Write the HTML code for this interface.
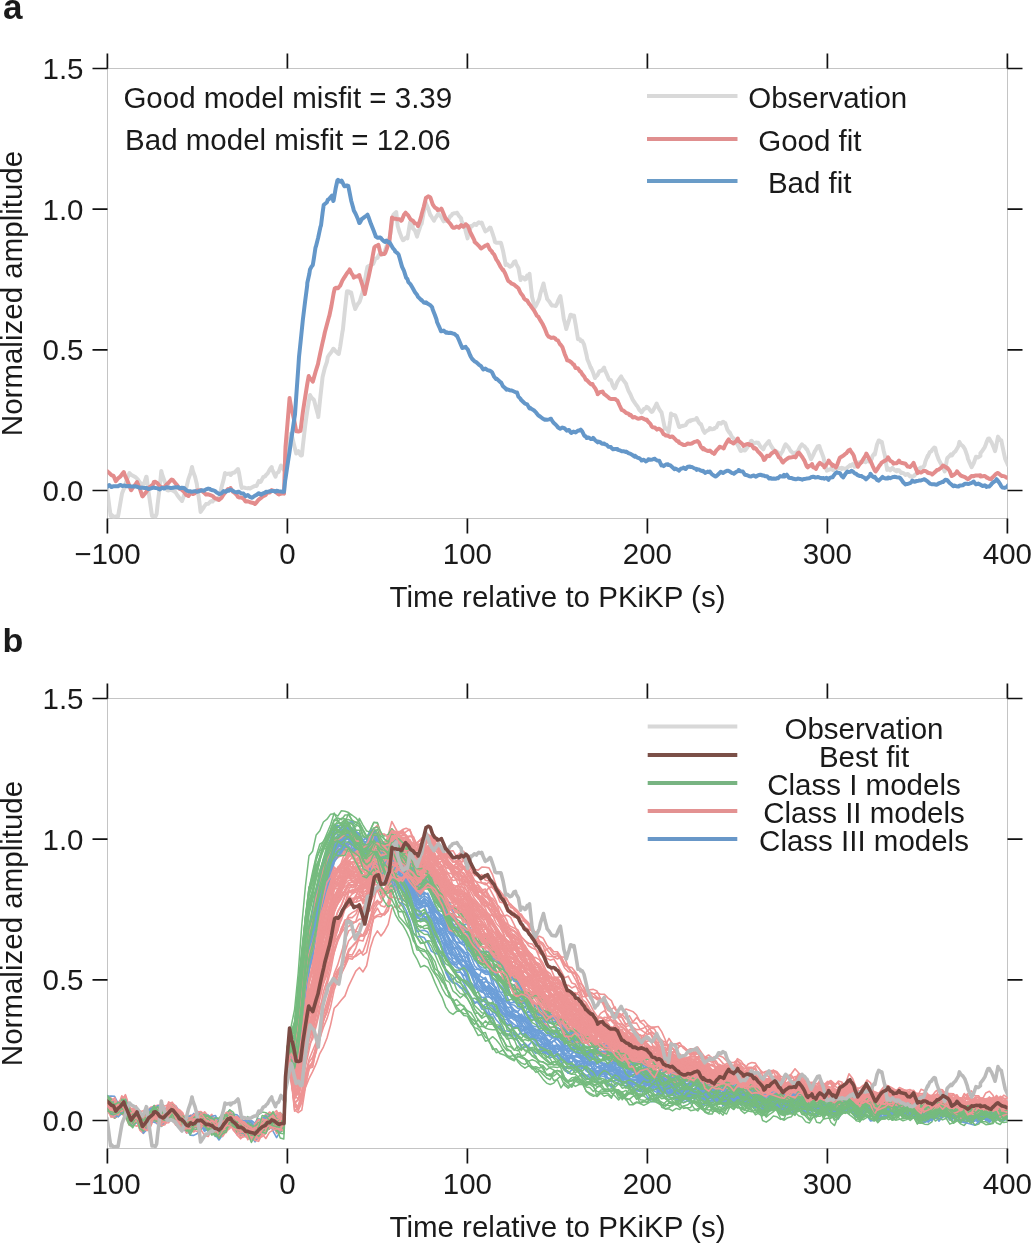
<!DOCTYPE html>
<html><head><meta charset="utf-8"><style>
html,body{margin:0;padding:0;background:#fff;overflow:hidden;}
svg{display:block;will-change:transform;}
.tl{font-family:"Liberation Sans",sans-serif;font-size:29.5px;fill:#1a1a1a;}
.pl{font-family:"Liberation Sans",sans-serif;font-size:35px;font-weight:bold;fill:#1a1a1a;}
</style></head><body>
<svg width="1031" height="1243" viewBox="0 0 1031 1243">
<rect width="1031" height="1243" fill="#fff"/>
<clipPath id="clipa"><rect x="107.5" y="68.5" width="900.0" height="450.0"/></clipPath>
<rect x="107.5" y="68.5" width="900.0" height="450.0" fill="none" stroke="#c4c4c4" stroke-width="1"/>
<g clip-path="url(#clipa)" fill="none" stroke-linejoin="round" stroke-linecap="round">
<path d="M107.0,488.0 L109.2,505.5 L110.7,516.0 L111.4,514.7 L113.6,516.9 L115.8,516.4 L118.0,516.0 L118.0,516.6 L120.2,504.0 L122.0,493.6 L122.4,492.5 L124.6,487.0 L126.8,479.7 L129.0,474.2 L129.5,473.0 L131.2,474.9 L133.4,476.0 L135.6,477.3 L137.0,478.6 L137.8,479.4 L140.0,482.6 L142.2,485.2 L142.6,486.0 L144.4,482.5 L146.3,476.7 L146.6,476.9 L148.8,493.8 L151.0,508.7 L152.0,516.0 L153.2,515.7 L155.4,516.6 L156.6,514.0 L157.6,504.5 L159.8,486.8 L161.3,471.0 L162.0,474.0 L164.2,480.2 L166.4,486.4 L167.0,490.0 L168.6,490.5 L170.8,489.6 L173.0,490.7 L174.4,491.7 L175.2,491.7 L177.4,495.3 L179.6,498.2 L181.8,500.8 L182.0,501.0 L184.0,495.5 L185.6,490.0 L186.2,488.2 L188.4,479.1 L190.6,472.8 L192.0,467.0 L192.8,470.7 L195.0,476.6 L196.8,484.0 L197.2,486.9 L199.4,501.9 L200.6,512.0 L201.6,510.5 L203.8,507.3 L204.0,506.7 L206.0,504.1 L208.2,503.8 L210.4,501.6 L211.8,501.0 L212.6,501.5 L214.8,498.5 L217.0,499.8 L219.0,499.0 L219.2,497.8 L221.4,487.8 L223.6,479.8 L225.0,473.0 L225.8,474.2 L228.0,473.7 L230.2,473.4 L230.5,475.0 L232.4,473.0 L234.6,472.5 L236.8,470.2 L238.0,469.0 L239.0,472.8 L241.2,485.9 L241.8,488.0 L243.4,487.4 L245.6,488.0 L247.8,488.4 L249.0,488.0 L250.0,488.5 L252.2,487.2 L254.4,486.1 L255.0,486.0 L256.6,485.9 L258.8,481.0 L260.5,482.0 L261.0,481.4 L263.2,477.1 L265.4,476.1 L266.0,475.0 L267.6,473.6 L269.8,469.5 L271.7,467.0 L272.0,469.0 L274.2,473.8 L275.5,476.7 L276.4,473.4 L278.6,472.1 L280.8,465.8 L281.0,465.5 L283.0,468.5 L284.8,471.0 L285.2,466.1 L285.5,461.0 L287.4,451.5 L289.6,439.8 L291.0,433.5 L291.8,435.3 L294.0,444.8 L296.2,453.5 L296.4,452.7 L298.4,451.2 L300.6,455.4 L301.9,455.4 L302.8,446.6 L305.0,427.2 L306.0,419.8 L307.2,411.5 L309.4,398.2 L310.0,395.0 L311.6,397.7 L313.8,399.8 L314.2,400.7 L316.0,407.7 L318.2,415.8 L318.3,417.0 L320.4,396.5 L322.4,378.8 L322.6,376.9 L324.8,368.0 L327.0,361.7 L327.8,357.0 L329.2,354.8 L331.4,352.1 L333.3,348.7 L333.6,348.8 L335.8,351.5 L338.0,353.5 L338.8,354.0 L340.2,346.5 L342.4,332.0 L342.9,329.6 L344.6,312.8 L346.8,292.8 L347.0,291.3 L349.0,291.5 L351.0,294.0 L351.2,292.6 L353.4,302.6 L355.2,309.0 L355.6,308.1 L357.8,304.1 L359.3,302.2 L360.0,300.6 L362.2,293.2 L363.4,288.6 L364.4,283.5 L366.6,270.9 L367.5,266.7 L368.8,266.0 L371.0,265.1 L373.0,264.0 L373.2,263.9 L375.4,258.6 L377.6,257.8 L378.4,255.7 L379.8,253.8 L382.0,254.6 L383.9,253.0 L384.2,252.7 L386.4,246.8 L388.6,240.1 L389.3,239.3 L390.8,231.2 L393.0,216.0 L393.4,214.7 L395.2,213.1 L396.2,212.0 L397.4,223.4 L397.7,226.0 L399.6,232.3 L401.8,237.9 L403.0,240.2 L404.0,239.8 L406.2,237.3 L407.4,238.4 L408.4,232.5 L410.0,222.5 L410.6,222.2 L412.7,226.0 L412.8,228.3 L415.0,230.5 L417.1,236.6 L417.2,235.6 L419.4,229.2 L421.5,222.5 L421.6,223.9 L423.8,211.6 L426.0,203.0 L426.0,203.5 L428.2,208.6 L430.4,215.4 L430.4,214.8 L432.6,218.5 L434.0,220.7 L434.8,219.0 L437.0,215.7 L438.4,213.6 L439.2,214.7 L441.4,217.3 L443.6,221.3 L443.7,220.7 L445.8,220.6 L448.0,220.7 L448.0,220.2 L450.2,216.2 L451.6,215.4 L452.4,213.9 L454.6,213.2 L456.8,213.2 L457.0,212.7 L459.0,215.9 L461.2,218.3 L461.4,220.7 L463.4,224.9 L465.0,227.8 L465.6,231.0 L467.6,238.4 L467.8,236.5 L470.0,229.7 L471.0,226.0 L472.2,226.0 L474.4,223.8 L476.4,225.0 L476.6,224.3 L478.8,222.3 L481.0,223.4 L481.7,222.5 L483.2,226.5 L485.3,231.3 L485.4,231.2 L487.6,230.0 L489.8,227.6 L490.6,227.8 L492.0,231.8 L494.2,238.5 L495.0,242.0 L496.4,242.8 L498.6,242.8 L500.8,242.7 L501.2,243.7 L503.0,250.7 L505.2,262.0 L505.6,265.0 L507.4,264.3 L509.6,266.6 L510.0,266.7 L511.8,265.8 L514.0,261.9 L515.4,261.4 L516.2,264.1 L518.4,267.9 L520.6,280.1 L520.7,277.3 L522.8,277.2 L525.0,279.5 L526.0,279.0 L527.2,275.4 L529.4,274.6 L529.5,273.8 L531.6,292.7 L532.0,296.8 L533.8,303.5 L535.0,307.2 L536.0,305.7 L538.2,301.1 L539.3,298.7 L540.4,293.3 L542.6,286.5 L543.5,283.5 L544.8,289.8 L547.0,297.9 L547.0,298.7 L549.2,301.4 L551.4,304.9 L552.0,305.5 L553.6,305.6 L555.8,306.0 L557.0,303.8 L558.0,301.0 L560.2,296.5 L560.4,296.2 L562.4,308.9 L563.8,319.0 L564.6,321.9 L566.3,329.0 L566.8,327.3 L569.0,320.2 L570.5,314.8 L571.2,314.7 L573.4,316.9 L574.0,315.6 L575.6,324.3 L577.8,337.7 L578.0,339.3 L580.0,339.2 L580.7,341.0 L582.2,340.8 L584.0,344.3 L584.4,346.0 L586.6,355.3 L587.4,359.5 L588.8,362.6 L590.8,368.0 L591.0,367.4 L593.2,372.8 L595.0,378.0 L595.4,376.9 L597.6,374.9 L599.3,371.4 L599.8,371.2 L602.0,370.5 L604.2,367.5 L604.3,368.8 L606.4,373.3 L608.6,378.6 L609.4,379.8 L610.8,379.9 L613.0,386.1 L614.5,388.3 L615.2,387.6 L617.4,381.8 L619.6,378.7 L621.2,376.4 L621.8,378.0 L624.0,381.1 L626.2,383.9 L626.3,384.9 L628.4,390.6 L630.6,394.8 L631.4,396.7 L632.8,399.9 L635.0,403.2 L636.4,405.2 L637.2,405.9 L639.4,410.0 L641.5,411.9 L641.6,412.4 L643.8,409.1 L646.0,408.1 L646.6,406.8 L648.2,407.7 L650.4,410.6 L651.6,411.9 L652.6,411.4 L654.8,407.3 L656.7,403.5 L657.0,404.5 L659.2,409.1 L661.0,411.9 L661.4,411.9 L663.6,422.3 L665.0,428.8 L665.8,428.2 L668.0,430.5 L668.5,432.2 L670.2,420.6 L671.0,413.6 L672.4,414.7 L674.6,415.1 L675.3,415.3 L676.8,419.5 L679.0,426.7 L679.5,427.1 L681.2,426.3 L683.4,425.7 L684.6,425.4 L685.6,425.1 L687.8,421.7 L690.0,420.4 L690.0,421.2 L692.2,420.0 L694.4,419.6 L696.5,419.6 L696.6,418.0 L698.8,422.5 L700.7,424.5 L701.0,424.2 L703.2,430.3 L704.8,432.8 L705.4,431.8 L707.6,430.4 L709.7,429.5 L709.8,427.9 L712.0,429.3 L714.2,428.9 L714.7,427.8 L716.4,427.3 L718.6,422.9 L719.6,422.9 L720.8,423.7 L723.0,421.7 L724.6,422.9 L725.2,422.9 L727.4,429.6 L729.5,432.8 L729.6,432.2 L731.8,436.7 L734.0,438.9 L734.5,439.4 L736.2,442.5 L738.4,446.2 L740.6,450.9 L741.0,451.0 L742.8,450.0 L745.0,450.6 L746.0,449.3 L747.2,447.6 L749.4,444.1 L751.0,441.0 L751.6,440.7 L753.8,443.5 L756.0,442.5 L757.5,442.7 L758.2,442.8 L760.4,446.6 L762.6,448.6 L763.3,449.3 L764.8,446.0 L767.0,443.4 L769.0,441.0 L769.2,442.4 L771.4,446.4 L773.6,449.6 L774.9,450.9 L775.8,451.0 L778.0,452.7 L780.2,454.9 L780.6,454.2 L782.4,451.5 L784.6,446.0 L785.6,444.3 L786.8,445.4 L789.0,448.1 L790.5,450.9 L791.2,451.3 L793.4,453.7 L795.5,452.6 L795.6,453.8 L797.8,451.4 L800.0,446.9 L802.0,444.3 L802.2,445.2 L804.4,446.3 L806.6,449.2 L807.0,449.3 L808.8,453.5 L811.0,459.2 L811.0,459.3 L813.2,455.1 L815.0,450.9 L815.4,450.4 L817.6,446.5 L819.4,446.0 L819.8,447.7 L822.0,453.5 L823.5,457.5 L824.2,460.9 L826.4,468.4 L826.8,470.7 L828.6,470.0 L830.8,469.0 L831.7,467.4 L833.0,470.0 L835.2,467.3 L836.7,467.4 L837.4,468.9 L839.6,468.2 L841.6,469.0 L841.8,467.8 L844.0,468.5 L846.2,468.8 L847.4,467.4 L848.4,466.7 L850.0,465.2 L850.6,466.0 L852.8,464.0 L854.6,466.8 L855.0,466.6 L857.2,463.7 L859.3,463.7 L859.4,462.3 L861.6,462.0 L863.8,461.3 L865.5,462.1 L866.0,461.0 L868.2,461.4 L870.4,460.2 L871.7,459.0 L872.6,455.9 L874.8,452.8 L874.8,454.5 L877.0,444.5 L878.7,440.4 L879.2,440.5 L881.4,442.5 L881.8,441.9 L883.6,450.5 L885.0,455.9 L885.8,461.9 L887.2,469.9 L888.0,468.0 L890.2,470.4 L891.9,468.3 L892.4,467.9 L894.6,470.1 L896.6,471.4 L896.8,470.0 L899.0,470.2 L901.2,473.0 L901.2,472.4 L903.4,473.1 L905.6,475.0 L906.0,474.5 L907.8,473.9 L910.0,476.4 L910.5,476.0 L912.2,476.7 L914.4,475.7 L915.2,474.5 L916.6,473.6 L918.8,468.7 L919.8,468.3 L921.0,467.4 L923.2,467.2 L924.5,465.2 L925.4,461.4 L927.6,455.9 L927.6,457.1 L929.8,452.1 L931.5,451.2 L932.0,450.0 L934.2,447.5 L935.3,448.1 L936.4,453.2 L938.5,459.0 L938.6,459.4 L940.8,463.5 L941.6,465.2 L943.0,467.3 L944.7,471.4 L945.2,469.7 L947.0,459.0 L947.4,458.0 L949.6,455.9 L950.9,454.3 L951.8,455.5 L954.0,452.4 L955.5,451.2 L956.2,449.9 L958.4,446.2 L959.4,441.9 L960.6,444.2 L962.8,446.0 L963.3,446.6 L965.0,449.3 L967.2,455.6 L968.0,459.0 L969.4,462.2 L971.6,467.1 L971.8,466.8 L973.8,463.0 L975.7,457.5 L976.0,456.7 L978.2,457.5 L980.4,455.9 L980.4,453.2 L982.6,450.4 L984.8,447.1 L985.0,446.6 L987.0,441.0 L988.0,438.8 L989.2,438.5 L991.2,441.9 L991.4,441.9 L993.6,447.2 L995.0,451.2 L995.8,448.1 L998.0,436.6 L998.2,437.3 L1000.2,440.0 L1001.3,440.4 L1002.4,446.0 L1004.6,456.4 L1005.2,459.0 L1006.8,462.5 L1008.0,465.2" stroke="#d9d9d9" stroke-width="4"/>
<path d="M107.0,471.0 L109.2,472.9 L111.4,475.2 L113.6,476.0 L115.8,481.2 L116.4,480.5 L118.0,478.4 L120.2,476.7 L122.4,473.8 L123.8,472.0 L124.6,474.7 L126.8,479.3 L129.0,484.8 L131.0,490.0 L131.2,490.1 L133.4,486.7 L135.6,484.2 L137.0,482.0 L137.8,484.1 L140.0,489.1 L142.2,496.0 L142.6,496.4 L144.4,494.3 L146.6,491.5 L148.8,487.7 L151.0,486.1 L153.2,484.2 L153.8,482.0 L155.4,481.8 L157.6,483.4 L159.8,486.5 L162.0,487.4 L163.0,488.0 L164.2,487.3 L166.4,484.8 L168.6,482.7 L170.8,480.3 L171.6,479.6 L173.0,480.2 L175.2,482.9 L177.4,485.6 L179.6,488.9 L181.8,489.4 L181.9,490.0 L184.0,491.7 L186.2,494.9 L187.5,495.5 L188.4,496.0 L190.6,492.9 L192.8,494.1 L195.0,493.1 L197.2,490.4 L199.4,490.6 L200.6,490.0 L201.6,490.6 L203.8,492.4 L206.0,494.6 L208.2,494.3 L210.4,495.1 L212.6,496.0 L214.8,498.2 L217.0,498.8 L219.0,500.0 L219.2,499.7 L221.4,498.0 L223.6,494.5 L225.8,491.8 L228.0,488.9 L230.2,489.2 L230.5,488.0 L232.4,491.3 L234.6,492.9 L236.8,495.0 L238.0,497.0 L239.0,497.4 L241.2,497.4 L243.4,498.6 L245.6,501.4 L247.8,501.3 L250.0,502.3 L252.2,502.7 L254.4,503.3 L254.9,504.0 L256.6,502.3 L258.8,499.6 L261.0,497.9 L262.0,497.0 L263.2,496.3 L265.4,495.3 L267.6,492.4 L269.8,492.4 L271.7,490.0 L272.0,490.3 L274.2,491.0 L276.4,492.7 L278.6,494.3 L279.0,494.5 L280.8,493.7 L283.0,493.3 L284.0,493.6 L285.2,455.2 L285.5,447.0 L287.4,424.6 L289.6,398.0 L289.6,398.5 L291.8,410.8 L292.3,411.6 L294.0,419.2 L296.2,431.2 L296.4,430.8 L298.4,431.5 L300.5,430.8 L300.6,430.3 L302.8,412.5 L304.6,400.7 L305.0,398.2 L307.2,384.4 L308.7,376.0 L309.4,377.5 L311.6,380.0 L312.8,381.6 L313.8,378.1 L316.0,370.3 L318.2,363.3 L318.3,362.4 L320.4,352.4 L322.6,342.4 L323.7,337.8 L324.8,332.5 L327.0,324.3 L329.2,316.0 L329.2,316.5 L331.4,306.0 L333.6,293.5 L334.7,288.6 L335.8,287.7 L338.0,288.3 L340.0,285.8 L340.2,285.8 L342.4,280.5 L344.2,277.6 L344.6,277.1 L346.8,273.5 L349.0,270.7 L349.7,269.4 L351.2,272.9 L353.4,276.2 L353.8,277.6 L355.6,276.5 L357.8,276.5 L359.3,275.0 L360.0,277.7 L362.2,284.4 L364.4,292.3 L364.8,294.0 L366.6,285.6 L368.8,276.0 L370.2,269.4 L371.0,265.6 L373.2,253.3 L374.3,247.5 L375.4,246.2 L377.6,245.2 L378.4,244.8 L379.8,250.5 L381.0,254.4 L382.0,253.9 L384.2,254.0 L385.2,253.0 L386.4,249.9 L388.6,243.2 L389.3,242.0 L390.8,228.6 L392.0,217.4 L393.0,218.5 L395.2,218.8 L396.2,218.8 L397.4,219.3 L399.6,219.2 L401.2,220.7 L401.8,220.2 L404.0,214.8 L405.6,212.7 L406.2,213.4 L408.4,215.7 L410.6,219.4 L412.7,220.7 L412.8,220.6 L415.0,223.4 L417.2,223.8 L418.0,226.0 L419.4,222.4 L421.5,215.4 L421.6,214.5 L423.8,206.7 L426.0,197.7 L426.0,197.8 L428.2,196.3 L429.5,196.8 L430.4,197.5 L432.6,204.2 L433.0,204.8 L434.8,207.5 L437.0,208.8 L437.5,210.0 L439.2,209.8 L441.0,209.2 L441.4,208.6 L443.6,213.8 L445.8,219.0 L446.3,219.0 L448.0,221.2 L450.2,223.7 L452.4,227.1 L453.4,227.8 L454.6,227.8 L456.8,226.6 L458.7,227.0 L459.0,227.8 L461.2,225.1 L463.4,226.8 L465.6,224.8 L465.8,224.2 L467.8,226.0 L469.3,229.6 L470.0,231.6 L472.2,236.0 L474.4,240.3 L474.6,242.0 L476.6,243.6 L478.8,245.8 L480.0,247.3 L481.0,248.5 L483.2,247.1 L485.4,245.6 L487.0,245.5 L487.6,244.7 L489.8,249.3 L492.0,251.7 L492.3,252.6 L494.2,254.6 L496.4,259.6 L497.7,261.4 L498.6,263.0 L500.8,267.2 L503.0,270.3 L503.0,269.4 L505.2,273.5 L507.4,278.9 L508.3,281.0 L509.6,281.7 L511.8,283.7 L513.6,284.4 L514.0,284.5 L516.2,286.4 L518.4,288.2 L519.0,289.7 L520.6,293.0 L522.8,295.7 L524.2,298.6 L525.0,299.4 L527.2,300.6 L529.4,304.2 L529.5,304.0 L531.6,307.1 L533.8,310.1 L536.0,314.0 L536.8,315.6 L538.2,316.6 L540.4,320.4 L542.6,324.0 L543.5,325.8 L544.8,328.6 L547.0,334.3 L548.6,336.7 L549.2,336.7 L551.4,337.9 L553.6,337.5 L555.3,338.4 L555.8,339.4 L558.0,340.6 L560.2,344.6 L560.4,344.3 L562.4,347.2 L564.6,353.7 L566.8,359.1 L567.2,360.4 L569.0,360.8 L571.2,362.2 L573.4,364.6 L574.0,364.6 L575.6,368.1 L577.8,368.2 L580.0,371.5 L580.7,371.4 L582.2,374.1 L584.4,376.7 L585.8,379.8 L586.6,379.8 L588.8,382.2 L591.0,384.2 L592.5,384.0 L593.2,385.6 L595.4,388.7 L597.6,393.3 L597.6,394.2 L599.8,392.2 L602.0,391.8 L602.6,391.6 L604.2,394.2 L606.4,395.7 L608.6,397.5 L609.4,398.4 L610.8,399.0 L613.0,399.0 L615.2,398.9 L616.2,400.0 L617.4,400.6 L619.6,405.5 L621.8,410.1 L622.9,410.2 L624.0,411.1 L626.2,413.0 L628.4,413.6 L629.7,415.3 L630.6,414.9 L632.8,417.4 L635.0,417.1 L637.2,418.4 L638.0,418.7 L639.4,418.5 L641.6,417.8 L643.8,418.9 L646.0,420.0 L646.6,419.5 L648.2,421.8 L650.4,423.9 L651.6,426.3 L652.6,427.2 L654.8,427.5 L657.0,429.6 L658.4,428.8 L659.2,428.8 L661.4,430.3 L663.6,434.3 L665.0,434.7 L665.8,435.6 L668.0,435.7 L670.2,437.1 L672.0,436.4 L672.4,436.4 L674.6,438.6 L676.8,440.8 L678.7,441.5 L679.0,442.7 L681.2,443.8 L683.4,444.9 L684.6,444.9 L685.6,444.9 L687.8,443.5 L690.0,443.9 L691.6,443.5 L692.2,443.3 L694.4,441.9 L696.6,441.5 L697.4,441.0 L698.8,442.2 L701.0,447.0 L703.0,449.3 L703.2,447.9 L705.4,450.0 L707.6,450.9 L708.0,451.0 L709.8,450.6 L712.0,452.6 L713.9,453.4 L714.2,453.9 L716.4,450.4 L718.6,448.3 L719.6,446.8 L720.8,447.1 L723.0,447.8 L723.7,448.4 L725.2,445.0 L727.4,441.2 L728.7,439.4 L729.6,441.4 L731.8,442.3 L733.6,443.5 L734.0,442.8 L736.2,441.2 L737.8,438.5 L738.4,440.5 L740.6,442.4 L742.8,444.4 L743.5,446.0 L745.0,444.9 L747.2,444.0 L749.3,444.3 L749.4,444.9 L751.6,445.0 L753.8,448.5 L754.3,447.6 L756.0,448.7 L758.2,451.8 L759.2,452.6 L760.4,453.9 L762.6,456.5 L764.0,460.0 L764.8,459.5 L767.0,455.7 L769.0,455.9 L769.2,456.2 L771.4,453.5 L773.6,452.1 L774.9,450.9 L775.8,451.8 L778.0,455.6 L779.0,457.5 L780.2,458.0 L782.4,461.9 L783.0,462.5 L784.6,460.7 L786.8,459.0 L788.0,458.3 L789.0,457.4 L791.2,457.4 L793.4,457.0 L793.8,456.7 L795.6,457.4 L797.8,453.0 L798.8,452.6 L800.0,454.1 L802.2,456.9 L803.0,458.3 L804.4,460.6 L806.6,466.1 L807.8,467.4 L808.8,465.9 L811.0,465.5 L812.0,464.0 L813.2,467.4 L815.4,468.0 L816.0,469.0 L817.6,465.5 L819.8,462.9 L820.2,463.3 L822.0,464.4 L824.2,466.4 L824.3,467.4 L826.4,464.4 L828.5,461.6 L828.6,460.5 L830.8,463.6 L832.6,465.8 L833.0,464.9 L835.2,466.2 L835.9,467.4 L837.4,464.3 L839.6,458.3 L840.0,457.5 L841.8,456.7 L844.0,455.1 L845.0,454.2 L846.2,453.4 L848.4,450.6 L850.0,449.7 L850.6,451.0 L852.8,453.9 L853.9,455.9 L855.0,460.0 L857.2,465.2 L857.8,466.8 L859.4,464.4 L861.6,462.1 L861.6,461.8 L863.8,458.3 L866.0,454.7 L866.3,453.6 L868.2,457.0 L870.4,461.1 L871.0,462.1 L872.6,465.8 L874.8,470.5 L875.6,471.4 L877.0,469.6 L879.2,466.0 L881.0,463.7 L881.4,462.9 L883.6,461.3 L885.8,460.4 L888.0,458.2 L888.0,457.3 L890.2,460.8 L892.4,462.0 L893.5,463.7 L894.6,463.3 L896.8,463.2 L899.0,460.6 L899.7,462.1 L901.2,462.8 L903.4,463.2 L905.6,463.7 L905.9,464.4 L907.8,466.6 L909.7,466.8 L910.0,467.0 L912.2,464.9 L913.6,462.9 L914.4,465.3 L916.6,470.4 L917.5,473.0 L918.8,471.8 L921.0,472.6 L923.0,471.4 L923.2,471.0 L925.4,471.0 L927.6,472.2 L927.6,472.7 L929.8,473.2 L932.0,473.9 L932.2,474.5 L934.2,472.8 L936.4,470.7 L937.0,469.9 L938.6,469.7 L940.8,468.0 L943.0,466.0 L943.0,465.6 L945.2,466.8 L947.4,468.2 L947.8,468.3 L949.6,470.8 L951.6,476.0 L951.8,476.1 L954.0,474.8 L956.2,473.0 L957.0,471.4 L958.4,473.0 L960.6,475.4 L961.7,476.0 L962.8,476.4 L965.0,477.2 L967.2,478.8 L968.0,479.2 L969.4,478.1 L971.6,475.9 L973.8,476.2 L974.0,476.0 L976.0,475.4 L978.2,475.5 L980.4,475.3 L980.4,476.6 L982.6,476.3 L984.8,475.9 L986.6,477.6 L987.0,477.3 L989.2,478.8 L991.2,479.2 L991.4,478.5 L993.6,476.4 L995.8,474.2 L997.4,473.0 L998.0,472.9 L1000.2,474.8 L1002.0,476.0 L1002.4,475.9 L1004.6,476.4 L1006.8,477.7 L1008.0,477.6" stroke="#e38c8c" stroke-width="4"/>
<path d="M107.0,487.0 L109.2,485.1 L111.4,487.1 L113.6,486.2 L115.8,486.2 L118.0,486.3 L120.2,484.9 L122.4,486.0 L124.6,485.5 L125.7,486.0 L126.8,486.3 L129.0,486.1 L131.2,486.4 L133.4,486.4 L135.6,486.3 L137.8,487.0 L140.0,487.9 L142.2,487.6 L144.4,488.0 L144.4,487.9 L146.6,488.0 L148.8,489.1 L151.0,488.4 L153.2,487.6 L155.4,487.9 L157.6,488.4 L159.8,489.4 L162.0,487.8 L163.0,488.0 L164.2,488.6 L166.4,487.2 L168.6,487.4 L170.8,488.1 L173.0,487.7 L175.2,487.3 L177.4,487.5 L178.0,487.0 L179.6,488.3 L181.8,487.7 L184.0,488.0 L186.2,490.2 L188.4,491.3 L190.6,491.2 L191.0,491.7 L192.8,491.5 L195.0,491.1 L197.2,491.8 L199.4,491.0 L201.6,490.3 L203.8,490.7 L206.0,489.4 L208.2,488.6 L210.0,489.0 L210.4,489.6 L212.6,490.2 L214.8,490.9 L217.0,492.7 L219.0,493.6 L219.2,494.0 L221.4,493.3 L223.6,491.1 L225.8,491.7 L228.0,490.3 L228.7,490.8 L230.2,489.5 L232.4,490.5 L234.6,491.9 L236.8,492.4 L238.0,491.7 L239.0,491.8 L241.2,493.3 L243.4,493.6 L245.6,496.1 L247.8,495.1 L250.0,497.1 L251.0,497.3 L252.2,497.8 L254.4,496.0 L256.6,494.9 L258.8,493.2 L261.0,494.7 L263.2,493.3 L265.4,492.5 L266.0,491.7 L267.6,491.9 L269.8,491.3 L272.0,491.1 L274.2,491.1 L275.5,491.7 L276.4,490.7 L278.6,491.3 L280.8,491.5 L283.0,491.9 L284.0,491.7 L285.2,480.3 L285.5,478.6 L287.4,465.6 L289.6,451.4 L290.9,441.7 L291.8,435.9 L294.0,420.8 L295.0,414.4 L296.2,397.0 L298.4,366.2 L299.0,357.0 L300.6,341.7 L302.8,320.4 L303.0,318.6 L305.0,302.2 L307.2,285.6 L307.3,283.0 L309.4,273.5 L310.0,269.4 L311.6,266.6 L312.8,265.0 L313.8,258.9 L315.5,247.5 L316.0,246.3 L318.2,237.5 L320.4,227.1 L321.0,225.6 L322.6,212.8 L323.7,205.0 L324.8,204.0 L327.0,202.2 L327.8,199.7 L329.2,198.9 L331.4,196.3 L332.0,195.6 L333.3,201.0 L333.6,200.5 L335.8,187.7 L337.4,180.5 L338.0,179.9 L340.2,181.6 L341.5,180.5 L342.4,182.1 L344.2,186.0 L344.6,186.3 L346.8,185.5 L348.3,186.0 L349.0,189.5 L351.2,200.7 L353.4,208.6 L353.8,210.6 L355.6,213.8 L357.8,218.7 L359.3,223.0 L360.0,222.5 L362.0,218.8 L362.2,218.9 L364.4,217.1 L366.6,215.5 L367.5,214.7 L368.8,217.8 L371.0,224.1 L371.6,225.6 L373.2,229.6 L375.4,235.2 L375.7,236.6 L377.6,237.7 L379.8,237.4 L381.0,238.0 L382.0,239.5 L384.2,241.5 L385.2,242.0 L386.4,240.5 L388.6,242.6 L389.3,242.0 L390.8,244.4 L393.0,248.2 L394.8,250.3 L395.2,251.5 L397.4,253.2 L398.5,254.3 L399.6,258.0 L401.8,265.9 L402.0,266.7 L404.0,270.9 L406.2,277.8 L407.4,279.0 L408.4,282.2 L410.6,284.4 L412.7,288.0 L412.8,288.3 L415.0,292.3 L417.2,295.1 L418.0,296.8 L419.4,298.2 L421.5,300.4 L421.6,300.0 L423.8,302.5 L426.0,303.0 L426.0,302.3 L428.2,304.1 L430.4,305.3 L432.2,307.4 L432.6,309.2 L434.8,314.8 L436.6,319.8 L437.0,322.0 L439.2,326.8 L441.0,331.3 L441.4,331.2 L443.6,330.6 L445.8,332.6 L446.3,332.2 L448.0,332.9 L450.2,332.8 L451.6,333.0 L452.4,333.4 L454.6,334.0 L456.8,335.9 L457.0,335.8 L459.0,340.3 L461.2,345.5 L462.3,348.0 L463.4,347.6 L465.6,346.8 L465.8,347.3 L467.8,349.5 L470.0,355.0 L471.0,357.0 L472.2,359.0 L474.4,361.2 L476.4,362.3 L476.6,362.6 L478.8,364.6 L481.0,366.2 L483.2,369.5 L483.5,369.4 L485.4,368.6 L487.6,370.1 L489.8,370.7 L490.6,371.0 L492.0,372.2 L494.2,376.8 L496.0,379.0 L496.4,378.5 L498.6,380.4 L500.8,382.4 L501.2,382.7 L503.0,386.3 L505.2,388.1 L506.5,389.7 L507.4,389.3 L509.6,390.2 L511.8,390.6 L511.8,390.5 L514.0,391.5 L516.2,392.5 L517.0,392.4 L518.4,396.7 L520.6,398.9 L520.7,399.5 L522.8,401.5 L525.0,403.7 L527.2,404.4 L529.4,408.4 L530.0,407.7 L531.6,409.1 L533.8,410.3 L536.0,412.4 L536.8,413.6 L538.2,415.3 L540.4,416.7 L542.6,418.5 L544.8,419.7 L545.2,419.5 L547.0,419.8 L549.2,419.4 L551.0,418.7 L551.4,419.7 L553.6,422.8 L555.8,424.7 L557.9,427.1 L558.0,427.6 L560.2,428.8 L562.4,427.6 L563.8,428.0 L564.6,428.4 L566.8,430.7 L569.0,430.0 L570.5,432.2 L571.2,433.0 L573.4,431.6 L575.6,432.2 L575.6,432.6 L577.8,430.7 L580.0,430.2 L580.7,429.7 L582.2,431.3 L584.4,435.8 L585.8,436.4 L586.6,438.0 L588.8,437.5 L591.0,439.1 L592.5,439.0 L593.2,437.9 L595.4,440.5 L597.6,442.3 L597.6,441.5 L599.8,441.9 L602.0,443.7 L604.2,443.5 L604.3,444.0 L606.4,444.6 L608.6,446.8 L610.8,447.0 L611.0,447.4 L613.0,449.2 L615.2,449.0 L617.4,449.0 L617.8,449.9 L619.6,450.2 L621.8,451.3 L624.0,451.3 L626.2,452.0 L626.3,451.6 L628.4,453.1 L630.6,453.9 L632.8,455.3 L634.7,456.7 L635.0,455.7 L637.2,457.6 L639.4,458.2 L641.5,460.0 L641.6,460.5 L643.8,459.7 L646.0,461.5 L648.2,459.9 L648.3,459.2 L650.4,459.7 L652.6,459.4 L654.8,458.7 L655.0,459.2 L657.0,460.4 L659.2,460.7 L661.4,465.3 L661.8,465.1 L663.6,466.1 L665.8,464.6 L668.0,464.3 L668.5,465.1 L670.2,465.2 L672.4,467.2 L674.6,469.2 L675.3,468.5 L676.8,469.2 L678.7,470.2 L679.0,470.6 L681.2,468.4 L683.4,468.3 L683.7,467.7 L685.6,469.0 L687.8,466.7 L690.0,466.6 L690.0,467.1 L692.2,467.1 L694.4,468.4 L696.5,469.0 L696.6,469.9 L698.8,469.4 L701.0,470.7 L703.0,471.5 L703.2,470.9 L705.4,472.9 L707.6,471.6 L709.7,472.3 L709.8,471.5 L712.0,474.4 L714.2,475.7 L715.5,476.5 L716.4,476.2 L718.6,474.0 L720.4,472.3 L720.8,471.8 L723.0,473.0 L725.2,471.6 L727.4,470.7 L727.9,470.7 L729.6,471.3 L731.8,473.0 L733.6,473.2 L734.0,473.7 L736.2,471.9 L738.4,471.0 L738.6,469.9 L740.6,471.3 L742.8,471.5 L744.4,474.0 L745.0,474.8 L747.2,475.2 L749.4,476.3 L751.0,476.5 L751.6,476.2 L753.8,475.5 L756.0,476.8 L757.5,475.6 L758.2,475.3 L760.4,474.7 L762.6,475.5 L764.0,475.6 L764.8,476.2 L767.0,476.2 L769.2,478.5 L770.7,478.0 L771.4,478.7 L773.6,478.6 L775.8,478.8 L777.3,478.0 L778.0,478.2 L780.2,476.1 L782.4,476.6 L784.0,474.8 L784.6,476.5 L786.8,474.7 L789.0,477.8 L790.5,478.0 L791.2,477.9 L793.4,478.8 L795.6,479.3 L797.0,479.0 L797.8,478.6 L800.0,478.9 L802.2,479.7 L803.7,479.0 L804.4,479.0 L806.6,478.6 L808.8,478.3 L810.0,478.0 L811.0,477.2 L813.2,476.7 L815.4,477.5 L817.0,477.3 L817.6,477.0 L819.8,477.7 L822.0,478.2 L823.5,478.0 L824.2,478.8 L826.4,477.8 L828.5,479.8 L828.6,478.6 L830.8,477.5 L832.6,477.3 L833.0,476.5 L835.2,473.6 L836.7,472.3 L837.4,472.8 L839.6,473.1 L840.0,473.2 L841.8,476.2 L843.3,477.3 L844.0,476.0 L846.2,472.8 L847.4,471.5 L848.4,472.0 L850.6,471.8 L851.5,470.7 L852.8,471.4 L855.0,473.6 L856.2,473.8 L857.2,474.9 L859.4,475.9 L861.6,476.0 L862.4,476.9 L863.8,477.3 L866.0,479.3 L867.0,478.4 L868.2,477.2 L870.2,475.3 L870.4,473.8 L872.6,476.6 L874.8,477.6 L874.8,476.8 L877.0,479.9 L878.7,480.7 L879.2,480.1 L881.4,478.2 L882.6,476.9 L883.6,477.8 L885.8,478.5 L888.0,478.4 L888.0,477.4 L890.2,478.2 L892.4,477.2 L893.5,476.9 L894.6,476.8 L896.8,477.2 L899.0,477.4 L899.7,477.6 L901.2,479.4 L903.4,482.5 L905.6,484.5 L906.0,483.9 L907.8,483.9 L910.0,483.2 L912.0,481.5 L912.2,480.6 L914.4,481.8 L916.6,481.0 L918.3,480.7 L918.8,480.6 L921.0,480.4 L923.2,479.7 L924.5,479.2 L925.4,480.0 L927.6,481.4 L929.8,483.4 L930.7,483.9 L932.0,484.2 L934.2,484.3 L936.4,484.7 L937.0,484.6 L938.6,483.5 L940.8,482.7 L943.0,481.5 L943.0,482.0 L945.2,479.8 L947.0,480.0 L947.4,480.4 L949.6,483.0 L951.8,484.8 L953.2,486.2 L954.0,485.5 L956.2,486.2 L958.4,486.6 L960.0,485.4 L960.6,485.4 L962.8,485.2 L965.0,483.8 L967.2,483.8 L968.0,483.9 L969.4,483.7 L971.6,482.9 L973.8,481.5 L974.0,482.3 L976.0,484.2 L978.2,483.6 L980.4,484.6 L980.4,484.8 L982.6,486.0 L984.8,485.3 L986.6,487.0 L987.0,486.5 L989.2,486.5 L991.2,484.6 L991.4,484.1 L993.6,482.1 L995.8,480.6 L996.6,479.2 L998.0,481.0 L1000.2,484.2 L1001.3,486.2 L1002.4,487.5 L1004.6,487.9 L1005.2,487.7 L1006.8,487.2 L1008.0,485.4" stroke="#6497c9" stroke-width="4"/>
</g>
<path d="M107.4,68.5 V53.5 M107.4,518.5 V533.5 M287.4,68.5 V53.5 M287.4,518.5 V533.5 M467.4,68.5 V53.5 M467.4,518.5 V533.5 M647.4,68.5 V53.5 M647.4,518.5 V533.5 M827.4,68.5 V53.5 M827.4,518.5 V533.5 M1007.4,68.5 V53.5 M1007.4,518.5 V533.5 M107.5,490.5 H92.5 M1007.5,490.5 H1022.5 M107.5,349.8 H92.5 M1007.5,349.8 H1022.5 M107.5,209.2 H92.5 M1007.5,209.2 H1022.5 M107.5,68.5 H92.5 M1007.5,68.5 H1022.5" stroke="#111" stroke-width="1.7" fill="none"/>
<text x="107.4" y="564.3" text-anchor="middle" class="tl">−100</text>
<text x="287.4" y="564.3" text-anchor="middle" class="tl">0</text>
<text x="467.4" y="564.3" text-anchor="middle" class="tl">100</text>
<text x="647.4" y="564.3" text-anchor="middle" class="tl">200</text>
<text x="827.4" y="564.3" text-anchor="middle" class="tl">300</text>
<text x="1007.4" y="564.3" text-anchor="middle" class="tl">400</text>
<text x="83.5" y="501.1" text-anchor="end" class="tl">0.0</text>
<text x="83.5" y="360.4" text-anchor="end" class="tl">0.5</text>
<text x="83.5" y="219.8" text-anchor="end" class="tl">1.0</text>
<text x="83.5" y="79.1" text-anchor="end" class="tl">1.5</text>
<text x="557.5" y="606.5" text-anchor="middle" class="tl">Time relative to PKiKP (s)</text>
<text transform="translate(21.5,293.5) rotate(-90)" text-anchor="middle" class="tl">Normalized amplitude</text>
<clipPath id="clipb"><rect x="107.5" y="698.5" width="900.0" height="450.0"/></clipPath>
<rect x="107.5" y="698.5" width="900.0" height="450.0" fill="none" stroke="#c4c4c4" stroke-width="1"/>
<g clip-path="url(#clipb)" fill="none" stroke-linejoin="round" stroke-linecap="round">
<path d="M0,34l1,9 1,-6 1,21 1,1 1,2 1,-40 1,-19 1,4 1,-37 1,-11 1,26 1,26 1,-2 1,1 1,0 1,11 1,6 1,5 1,-20 1,-10 1,-1 1,-8 1,0 1,-6 1,9 1,8 1,-7 1,-17 1,-4 1,-15 1,-1 1,3 1,26 1,15 1,-3 1,-12 1,-8 1,-15 1,-12 1,-8 1,1 1,31 1,17 1,2 1,0 1,8 1,10 1,-24 1,-5 1,234 1,-56 1,-125 1,-10 1,9 1,80 1,32 1,25 1,28 1,36 1,23 1,32 1,47 1,59 1,13 1,16 1,15 1,35 1,26 1,27 1,13 1,-16 1,22 1,62 1,40 1,22 1,-18 1,17 1,24 1,56 1,9 1,-5 1,26 1,11 1,0 1,1 1,8 1,28 1,18 1,26 1,-5 1,6 1,-14 1,-19 1,-10 1,-6 1,0 1,-9 1,13 1,12 1,-15 1,-33 1,-19 1,-12 1,-11 1,-15 1,-15 1,-11 1,-29 1,-30 1,-15 1,-2 1,-2 1,-1 1,-28 1,-14 1,-17 1,0 1,-23 1,-14 1,-12 1,-5 1,-11 1,-27 1,-9 1,-23 1,7 1,-19 1,-13 1,-28 1,-2 1,-15 1,-9 1,-13 1,-7 1,-2 1,-17 1,5 1,-1 1,-15 1,-10 1,-15 1,-10 1,-16 1,7 1,12 1,18 1,-10 1,-29 1,-25 1,8 1,11 1,2 1,-16 1,-9 1,-21 1,-14 1,-7 1,-1 1,0 1,-5 1,-4 1,7 1,-3 1,9 1,-11 1,-9 1,-6 1,-16 1,-10 1,-3 1,3 1,12 1,9 1,9 1,6 1,-8 1,-28 1,9 1,-7 1,-10 1,-12 1,-9 1,5 1,4 1,3 1,-1 1,-15 1,2 1,4 1,-2 1,-11 1,6 1,0 1,1 1,-9 1,-1 1,-24 1,-1 1,-4 1,14 1,3 1,-6 1,2 1,1 1,-12 1,13 1,-1 1,-20 1,12 1,15 1,28 1,-28 1,-9 1,-15 1,-4 1,-8 1,5 1,6 1,9 1,3 1,-4 1,-13 1,2 1,14 1,-8 1,8 1,11 1,-4 1,-7 1,-10 1,1 1,4 1,-16 1,-16 1,-6 1,15 1,3 1,1 1,2 1,10 1,-2 1,-9 1,-6 1,-16 1,-4 1,-2 1,9 1,-4 1,-7 1,9" stroke="#ee9494" stroke-width="1.6" transform="translate(107.40,1120.5) scale(3.600,-0.28133)" vector-effect="non-scaling-stroke"/>
<path d="M0,58l1,-1 1,-4 1,-22 1,-4 1,-2 1,-17 1,-6 1,0 1,1 1,-24 1,26 1,9 1,35 1,-8 1,-10 1,-9 1,7 1,5 1,-7 1,-27 1,-20 1,-15 1,29 1,15 1,-2 1,-11 1,-19 1,0 1,4 1,11 1,-4 1,13 1,5 1,12 1,-17 1,-20 1,-14 1,-7 1,15 1,0 1,-2 1,10 1,-3 1,-5 1,-4 1,19 1,8 1,0 1,1 1,224 1,-72 1,-118 1,13 1,37 1,62 1,41 1,3 1,67 1,52 1,65 1,36 1,42 1,40 1,6 1,25 1,26 1,29 1,-4 1,16 1,19 1,-20 1,10 1,56 1,79 1,22 1,-23 1,-1 1,18 1,45 1,-1 1,-7 1,12 1,14 1,-8 1,-2 1,0 1,28 1,11 1,23 1,-32 1,0 1,-16 1,16 1,-14 1,-1 1,-21 1,-23 1,-40 1,-6 1,-1 1,-13 1,-13 1,-5 1,2 1,-11 1,-29 1,-13 1,-9 1,-11 1,-24 1,-37 1,-6 1,-14 1,0 1,-27 1,-10 1,-10 1,-8 1,-11 1,-20 1,-21 1,-9 1,-23 1,4 1,-9 1,2 1,-12 1,-28 1,1 1,1 1,2 1,-25 1,-27 1,5 1,8 1,-11 1,-19 1,-7 1,-4 1,5 1,-2 1,-5 1,-5 1,-14 1,-22 1,-21 1,8 1,9 1,0 1,-15 1,-26 1,-3 1,-10 1,22 1,-13 1,-2 1,-20 1,6 1,-7 1,1 1,-15 1,29 1,7 1,7 1,-33 1,-13 1,-16 1,-2 1,9 1,4 1,-16 1,-17 1,15 1,-2 1,17 1,0 1,2 1,-3 1,-5 1,-19 1,-8 1,-11 1,10 1,25 1,-14 1,-13 1,-26 1,10 1,21 1,4 1,9 1,2 1,-20 1,-21 1,-14 1,27 1,-3 1,20 1,-26 1,5 1,-8 1,-11 1,0 1,7 1,11 1,18 1,-14 1,-12 1,-6 1,9 1,-6 1,-26 1,-5 1,-10 1,25 1,-16 1,12 1,-21 1,16 1,2 1,-10 1,-6 1,18 1,16 1,-5 1,-20 1,6 1,4 1,7 1,-7 1,2 1,12 1,15 1,-20 1,-15 1,-7 1,-8 1,-21 1,5 1,7 1,8 1,1 1,-13 1,14 1,-3 1,26 1,-10 1,-9 1,-11 1,11" stroke="#ee9494" stroke-width="1.6" transform="translate(107.40,1120.5) scale(3.600,-0.28133)" vector-effect="non-scaling-stroke"/>
<path d="M0,71l1,-7 1,-40 1,20 1,6 1,8 1,-32 1,2 1,2 1,-25 1,-30 1,32 1,11 1,20 1,-10 1,-10 1,7 1,-4 1,6 1,-29 1,-1 1,-11 1,-5 1,-2 1,5 1,-8 1,8 1,0 1,2 1,-11 1,-14 1,12 1,18 1,21 1,-4 1,-14 1,-24 1,7 1,-14 1,4 1,-17 1,7 1,-3 1,1 1,18 1,16 1,19 1,-9 1,6 1,1 1,230 1,8 1,-6 1,81 1,126 1,113 1,105 1,25 1,67 1,44 1,47 1,18 1,46 1,21 1,16 1,-4 1,24 1,-8 1,-7 1,-6 1,8 1,-31 1,-10 1,26 1,18 1,7 1,-26 1,-10 1,-21 1,33 1,4 1,21 1,-5 1,-9 1,-43 1,-22 1,-19 1,2 1,11 1,15 1,-9 1,-31 1,-24 1,-28 1,-30 1,-19 1,-13 1,12 1,-11 1,-10 1,-22 1,-15 1,-21 1,-27 1,-28 1,-11 1,-13 1,-20 1,-8 1,1 1,-11 1,-16 1,-14 1,8 1,-18 1,-23 1,-23 1,-7 1,-7 1,-7 1,-17 1,-12 1,-32 1,-8 1,-10 1,-4 1,-10 1,-14 1,-4 1,3 1,-14 1,-2 1,-33 1,4 1,-8 1,5 1,-17 1,-13 1,11 1,-31 1,-6 1,-25 1,18 1,7 1,18 1,-2 1,-12 1,-19 1,3 1,2 1,-4 1,-30 1,-14 1,12 1,15 1,12 1,-17 1,-16 1,-8 1,3 1,5 1,-23 1,-4 1,-5 1,8 1,-12 1,-21 1,10 1,-1 1,1 1,1 1,-5 1,24 1,-9 1,-14 1,-7 1,-3 1,6 1,11 1,-1 1,-1 1,-8 1,-6 1,-1 1,5 1,-3 1,-17 1,-22 1,-15 1,19 1,11 1,11 1,7 1,1 1,-8 1,-10 1,-8 1,-3 1,14 1,2 1,-1 1,-13 1,-5 1,8 1,-1 1,8 1,2 1,-13 1,-30 1,16 1,24 1,13 1,-46 1,-22 1,3 1,22 1,19 1,-2 1,0 1,3 1,-7 1,-9 1,-15 1,4 1,-3 1,-8 1,1 1,13 1,-6 1,-7 1,16 1,1 1,13 1,-19 1,-11 1,-7 1,5 1,-9 1,-7 1,14 1,15 1,10 1,-6 1,0 1,2 1,-3 1,-3 1,-2 1,-19 1,-7 1,-8" stroke="#ee9494" stroke-width="1.6" transform="translate(107.40,1120.5) scale(3.600,-0.28133)" vector-effect="non-scaling-stroke"/>
<path d="M0,48l1,1 1,-12 1,12 1,-4 1,1 1,-42 1,-16 1,11 1,-21 1,-10 1,20 1,29 1,26 1,3 1,-20 1,-15 1,13 1,16 1,-9 1,-16 1,-16 1,-1 1,-10 1,20 1,-4 1,13 1,-9 1,8 1,-19 1,-18 1,-30 1,4 1,12 1,24 1,15 1,-13 1,7 1,-14 1,6 1,-22 1,-16 1,17 1,11 1,27 1,-7 1,10 1,-18 1,-4 1,-3 1,252 1,-54 1,-86 1,18 1,62 1,97 1,56 1,42 1,69 1,70 1,59 1,37 1,51 1,37 1,15 1,26 1,28 1,46 1,7 1,9 1,-15 1,-40 1,22 1,48 1,66 1,10 1,-4 1,-5 1,-1 1,27 1,-15 1,1 1,-3 1,5 1,-3 1,-17 1,-21 1,-12 1,15 1,9 1,-12 1,-21 1,-3 1,-8 1,-28 1,-21 1,-13 1,-4 1,-23 1,-17 1,-15 1,-14 1,-39 1,0 1,-17 1,6 1,-34 1,-14 1,-41 1,-24 1,-40 1,7 1,-14 1,-2 1,-10 1,-6 1,-3 1,-10 1,-6 1,-10 1,-17 1,-31 1,-7 1,-5 1,27 1,-34 1,-27 1,-36 1,17 1,6 1,13 1,-17 1,-20 1,-35 1,-13 1,8 1,-10 1,-10 1,-12 1,11 1,29 1,5 1,-12 1,-45 1,-21 1,-16 1,12 1,-8 1,7 1,8 1,5 1,-18 1,-13 1,-1 1,2 1,-14 1,7 1,-9 1,-1 1,-11 1,-10 1,7 1,12 1,11 1,-6 1,-32 1,0 1,2 1,-14 1,-5 1,-9 1,-1 1,-3 1,2 1,11 1,-4 1,-13 1,-23 1,10 1,12 1,-7 1,-11 1,-25 1,6 1,3 1,35 1,13 1,-9 1,-20 1,-7 1,4 1,-1 1,7 1,-6 1,-11 1,-11 1,13 1,-5 1,11 1,-16 1,12 1,-9 1,-12 1,-4 1,11 1,7 1,8 1,-6 1,2 1,3 1,-8 1,-2 1,-16 1,-6 1,1 1,6 1,21 1,-13 1,3 1,-10 1,13 1,-4 1,-9 1,-6 1,3 1,-8 1,-16 1,-1 1,-3 1,21 1,-5 1,16 1,-4 1,27 1,-25 1,3 1,-20 1,-6 1,-2 1,7 1,20 1,-20 1,-14 1,-4 1,3 1,18 1,10 1,11 1,-12 1,-16 1,-1" stroke="#ee9494" stroke-width="1.6" transform="translate(107.40,1120.5) scale(3.600,-0.28133)" vector-effect="non-scaling-stroke"/>
<path d="M0,65l1,-21 1,-9 1,18 1,35 1,-20 1,-51 1,-31 1,17 1,-5 1,-7 1,5 1,12 1,9 1,4 1,-9 1,1 1,15 1,9 1,-8 1,-22 1,-9 1,-14 1,-11 1,5 1,4 1,28 1,-11 1,-5 1,-12 1,-5 1,-9 1,-4 1,26 1,3 1,3 1,-23 1,8 1,3 1,-4 1,2 1,-6 1,28 1,-7 1,8 1,-18 1,7 1,-7 1,10 1,1 1,238 1,-43 1,-56 1,49 1,72 1,95 1,63 1,36 1,62 1,51 1,54 1,47 1,57 1,46 1,36 1,27 1,34 1,-1 1,-15 1,-10 1,15 1,-13 1,7 1,33 1,38 1,-1 1,-32 1,-11 1,17 1,33 1,1 1,-2 1,8 1,-5 1,-25 1,-12 1,4 1,23 1,21 1,-1 1,0 1,-5 1,10 1,-12 1,-21 1,-10 1,-3 1,21 1,6 1,-24 1,-14 1,-12 1,18 1,-2 1,11 1,-1 1,-2 1,-25 1,-38 1,-20 1,-20 1,-12 1,-15 1,-11 1,-12 1,-20 1,-21 1,-7 1,-18 1,-10 1,-34 1,-14 1,-36 1,-2 1,-1 1,4 1,-11 1,-24 1,-5 1,-17 1,-4 1,-36 1,-8 1,-20 1,-4 1,-6 1,-13 1,-7 1,-9 1,-20 1,-14 1,-7 1,-15 1,11 1,-16 1,11 1,-22 1,16 1,-14 1,4 1,-15 1,-9 1,0 1,2 1,-19 1,-29 1,-40 1,-5 1,8 1,16 1,-2 1,-12 1,-9 1,-4 1,3 1,-22 1,-1 1,-23 1,6 1,-13 1,12 1,-13 1,1 1,1 1,-9 1,33 1,-11 1,-4 1,-25 1,-9 1,-21 1,-5 1,1 1,7 1,6 1,-8 1,6 1,-8 1,9 1,7 1,-8 1,6 1,-3 1,0 1,-15 1,-5 1,-12 1,-8 1,0 1,-5 1,-10 1,11 1,-1 1,-3 1,6 1,19 1,36 1,-17 1,-32 1,-16 1,20 1,5 1,-25 1,-13 1,5 1,5 1,-5 1,0 1,4 1,6 1,5 1,2 1,-8 1,-19 1,6 1,-5 1,27 1,-5 1,-13 1,-7 1,17 1,8 1,-2 1,-20 1,-6 1,-17 1,10 1,-13 1,-1 1,-18 1,-2 1,8 1,17 1,2 1,-2 1,3 1,11 1,-4 1,-8 1,-13 1,5" stroke="#ee9494" stroke-width="1.6" transform="translate(107.40,1120.5) scale(3.600,-0.28133)" vector-effect="non-scaling-stroke"/>
<path d="M0,60l1,-22 1,-13 1,2 1,37 1,-5 1,-20 1,-36 1,16 1,-27 1,-6 1,16 1,17 1,-4 1,-13 1,3 1,31 1,24 1,-22 1,-18 1,-30 1,8 1,-17 1,6 1,12 1,8 1,15 1,-19 1,-18 1,-18 1,-5 1,8 1,29 1,18 1,6 1,-32 1,-20 1,-10 1,5 1,-2 1,2 1,9 1,7 1,14 1,13 1,21 1,-7 1,-23 1,-28 1,5 1,230 1,-34 1,-55 1,57 1,99 1,97 1,77 1,41 1,80 1,48 1,34 1,25 1,36 1,55 1,21 1,29 1,15 1,8 1,-2 1,4 1,5 1,-22 1,1 1,37 1,29 1,1 1,-10 1,-7 1,0 1,21 1,13 1,-2 1,2 1,-12 1,-8 1,-35 1,-3 1,22 1,45 1,4 1,-13 1,-24 1,-10 1,-15 1,-9 1,-11 1,-3 1,-6 1,-16 1,-4 1,-7 1,-14 1,-50 1,-18 1,2 1,18 1,-8 1,-30 1,-38 1,-23 1,-2 1,-13 1,-14 1,-4 1,-17 1,-20 1,-11 1,-2 1,-11 1,-37 1,-27 1,-28 1,-23 1,0 1,14 1,-6 1,-12 1,-24 1,-16 1,-12 1,-1 1,-3 1,-14 1,-14 1,-9 1,-7 1,-20 1,3 1,-8 1,4 1,-10 1,-1 1,-18 1,5 1,-7 1,-4 1,-18 1,-7 1,-10 1,-7 1,-2 1,-12 1,0 1,10 1,-15 1,-14 1,4 1,5 1,-5 1,-24 1,7 1,9 1,7 1,0 1,1 1,-13 1,-17 1,-23 1,-19 1,-11 1,15 1,1 1,20 1,1 1,15 1,0 1,-16 1,-23 1,0 1,3 1,-14 1,8 1,-7 1,7 1,-5 1,-2 1,-16 1,-19 1,-4 1,23 1,16 1,-5 1,6 1,1 1,-5 1,-12 1,-10 1,2 1,-3 1,-14 1,1 1,-2 1,-10 1,8 1,19 1,-13 1,-4 1,-16 1,9 1,-5 1,-1 1,8 1,-5 1,-2 1,-3 1,5 1,16 1,4 1,-15 1,-7 1,-10 1,7 1,-8 1,-5 1,-2 1,-9 1,12 1,21 1,-23 1,5 1,-9 1,26 1,-3 1,-8 1,-23 1,5 1,-1 1,-9 1,-3 1,21 1,14 1,-18 1,2 1,-11 1,15 1,-4 1,1 1,-10 1,-19 1,4 1,8" stroke="#ee9494" stroke-width="1.6" transform="translate(107.40,1120.5) scale(3.600,-0.28133)" vector-effect="non-scaling-stroke"/>
<path d="M0,62l1,-3 1,-11 1,-26 1,5 1,2 1,-9 1,-10 1,30 1,-15 1,-19 1,1 1,16 1,14 1,-6 1,-15 1,6 1,23 1,-10 1,-21 1,-30 1,17 1,-1 1,8 1,-2 1,-19 1,1 1,-17 1,-3 1,-5 1,-11 1,2 1,19 1,29 1,19 1,-11 1,-28 1,-2 1,-5 1,-4 1,-22 1,-2 1,13 1,21 1,9 1,12 1,18 1,-16 1,-25 1,-5 1,245 1,11 1,-29 1,66 1,109 1,129 1,79 1,41 1,34 1,50 1,47 1,45 1,48 1,32 1,-15 1,-2 1,9 1,8 1,-14 1,1 1,19 1,-27 1,-15 1,12 1,27 1,10 1,-34 1,-5 1,0 1,41 1,5 1,-5 1,14 1,-5 1,-25 1,-28 1,-4 1,10 1,34 1,4 1,-10 1,-26 1,-11 1,-11 1,-26 1,-14 1,-12 1,4 1,-17 1,-7 1,-23 1,-28 1,-31 1,-21 1,-1 1,-1 1,10 1,-13 1,-28 1,-28 1,-19 1,-31 1,-18 1,-14 1,7 1,1 1,-16 1,1 1,-33 1,-11 1,-22 1,5 1,-21 1,-20 1,1 1,-16 1,2 1,-36 1,-1 1,-4 1,-19 1,-1 1,-16 1,14 1,-13 1,4 1,-19 1,-5 1,-11 1,-6 1,-1 1,-15 1,-21 1,-18 1,-5 1,-3 1,-5 1,-3 1,-4 1,18 1,-7 1,-4 1,-26 1,15 1,-7 1,12 1,-22 1,-4 1,-25 1,16 1,15 1,7 1,-6 1,-17 1,14 1,-20 1,-5 1,-25 1,-5 1,-5 1,19 1,1 1,3 1,-2 1,-7 1,3 1,-16 1,-3 1,4 1,-5 1,-1 1,-3 1,-4 1,3 1,0 1,8 1,-29 1,1 1,-15 1,3 1,-4 1,13 1,32 1,-6 1,-17 1,-22 1,-5 1,1 1,6 1,-9 1,-3 1,7 1,-5 1,12 1,-15 1,7 1,8 1,0 1,-30 1,1 1,22 1,7 1,-24 1,-16 1,21 1,19 1,10 1,6 1,-18 1,-6 1,-14 1,6 1,15 1,4 1,-4 1,-48 1,9 1,12 1,24 1,-25 1,0 1,-18 1,0 1,-10 1,0 1,8 1,7 1,-2 1,13 1,-7 1,-6 1,-20 1,6 1,-6 1,13 1,-11 1,11 1,-8 1,6 1,-5 1,7" stroke="#ee9494" stroke-width="1.6" transform="translate(107.40,1120.5) scale(3.600,-0.28133)" vector-effect="non-scaling-stroke"/>
<path d="M0,45l1,-17 1,-17 1,15 1,40 1,26 1,-39 1,-18 1,-2 1,2 1,-22 1,6 1,8 1,12 1,-15 1,-12 1,-3 1,34 1,15 1,-22 1,-22 1,-20 1,-5 1,-3 1,2 1,12 1,9 1,-3 1,-7 1,-19 1,-3 1,-6 1,18 1,10 1,2 1,-5 1,-23 1,14 1,-11 1,7 1,-21 1,8 1,1 1,13 1,-2 1,13 1,4 1,15 1,9 1,-8 1,228 1,-52 1,-64 1,18 1,49 1,77 1,74 1,33 1,67 1,59 1,60 1,34 1,50 1,53 1,41 1,22 1,35 1,21 1,18 1,-1 1,29 1,-17 1,17 1,32 1,55 1,6 1,-29 1,-17 1,25 1,50 1,4 1,-10 1,8 1,-1 1,10 1,-26 1,-7 1,-5 1,24 1,18 1,-21 1,-18 1,-3 1,-4 1,-17 1,-21 1,-19 1,-20 1,-22 1,-11 1,14 1,-17 1,-21 1,-23 1,-9 1,-15 1,-17 1,-32 1,-2 1,-13 1,-6 1,-27 1,-27 1,-7 1,-19 1,3 1,-30 1,-9 1,-47 1,-5 1,-18 1,-3 1,-28 1,-5 1,-12 1,-15 1,-18 1,-10 1,-8 1,-11 1,10 1,-13 1,-8 1,-29 1,9 1,-6 1,-40 1,-2 1,-8 1,12 1,-22 1,-5 1,-1 1,-6 1,-2 1,-17 1,-4 1,-2 1,-3 1,-15 1,4 1,-2 1,-6 1,-15 1,-10 1,11 1,2 1,-11 1,-12 1,3 1,-2 1,2 1,-7 1,3 1,-12 1,-29 1,-9 1,-1 1,1 1,-17 1,-7 1,-4 1,31 1,5 1,-10 1,-15 1,11 1,3 1,-2 1,-20 1,-20 1,3 1,-9 1,20 1,-4 1,1 1,-20 1,-4 1,2 1,7 1,9 1,-13 1,4 1,-15 1,18 1,-2 1,-9 1,-22 1,-2 1,5 1,-5 1,8 1,-11 1,6 1,-1 1,17 1,1 1,-6 1,-24 1,13 1,6 1,6 1,-11 1,-10 1,4 1,-11 1,15 1,-1 1,-4 1,-22 1,8 1,1 1,23 1,-7 1,14 1,-26 1,0 1,-3 1,-13 1,-5 1,7 1,13 1,-5 1,-12 1,-12 1,3 1,6 1,9 1,-7 1,7 1,-14 1,8 1,0 1,8 1,-13 1,-1 1,-4 1,20 1,-11 1,-1 1,-7" stroke="#ee9494" stroke-width="1.6" transform="translate(107.40,1120.5) scale(3.600,-0.28133)" vector-effect="non-scaling-stroke"/>
<path d="M0,59l1,-17 1,-5 1,11 1,22 1,-8 1,-37 1,-16 1,-9 1,-10 1,-18 1,31 1,1 1,19 1,-3 1,3 1,-15 1,-1 1,6 1,-5 1,-2 1,-3 1,-11 1,-4 1,-9 1,20 1,12 1,20 1,-14 1,-21 1,-24 1,-8 1,21 1,18 1,12 1,-5 1,-40 1,3 1,-9 1,10 1,-17 1,6 1,9 1,25 1,-7 1,13 1,-5 1,13 1,-2 1,1 1,229 1,-72 1,-115 1,1 1,44 1,61 1,38 1,-3 1,58 1,50 1,57 1,28 1,47 1,57 1,31 1,27 1,17 1,25 1,-2 1,25 1,40 1,5 1,29 1,29 1,43 1,19 1,-2 1,25 1,20 1,40 1,-23 1,-2 1,3 1,15 1,-24 1,-7 1,1 1,21 1,41 1,0 1,-12 1,-44 1,-12 1,-13 1,-9 1,-19 1,-6 1,-18 1,11 1,-17 1,2 1,-25 1,-27 1,-20 1,-27 1,-14 1,-18 1,6 1,-13 1,-21 1,-15 1,-13 1,-8 1,-31 1,-10 1,-9 1,-6 1,-4 1,-15 1,-5 1,-13 1,-16 1,-16 1,-2 1,0 1,-24 1,-23 1,-20 1,17 1,-1 1,-13 1,-30 1,-4 1,-11 1,-8 1,-20 1,-5 1,-2 1,-2 1,-17 1,-5 1,-9 1,1 1,-10 1,-3 1,-6 1,-5 1,-1 1,8 1,10 1,-16 1,-15 1,-6 1,4 1,-4 1,-14 1,3 1,-19 1,-1 1,-12 1,2 1,-7 1,12 1,14 1,4 1,-12 1,-19 1,-18 1,-27 1,2 1,14 1,11 1,7 1,12 1,-15 1,-2 1,-2 1,7 1,5 1,-35 1,-18 1,-7 1,7 1,8 1,6 1,15 1,-16 1,-10 1,-19 1,21 1,5 1,15 1,-1 1,21 1,-13 1,-12 1,-29 1,-15 1,20 1,0 1,11 1,-12 1,-20 1,17 1,18 1,-16 1,-8 1,-22 1,5 1,8 1,6 1,1 1,-5 1,-7 1,7 1,-3 1,4 1,6 1,-14 1,15 1,-12 1,-11 1,-14 1,18 1,8 1,-12 1,-10 1,2 1,6 1,-1 1,32 1,-1 1,15 1,-20 1,-24 1,-25 1,3 1,-3 1,4 1,-8 1,5 1,16 1,9 1,8 1,-8 1,-16 1,7 1,-5 1,17 1,-15 1,5" stroke="#ee9494" stroke-width="1.6" transform="translate(107.40,1120.5) scale(3.600,-0.28133)" vector-effect="non-scaling-stroke"/>
<path d="M0,53l1,-11 1,-9 1,15 1,28 1,-12 1,-41 1,-29 1,22 1,-18 1,-23 1,3 1,31 1,22 1,-3 1,-11 1,7 1,6 1,7 1,-15 1,-20 1,-27 1,-12 1,21 1,12 1,-5 1,2 1,-18 1,6 1,-10 1,8 1,-16 1,20 1,-6 1,10 1,-10 1,-1 1,11 1,-6 1,-5 1,-8 1,-8 1,22 1,-3 1,5 1,9 1,8 1,-8 1,-16 1,6 1,265 1,-36 1,-66 1,-8 1,66 1,97 1,117 1,55 1,64 1,49 1,63 1,35 1,51 1,39 1,26 1,15 1,25 1,14 1,-3 1,-6 1,26 1,-10 1,10 1,28 1,37 1,13 1,-37 1,-12 1,8 1,55 1,-7 1,-15 1,2 1,10 1,-13 1,-45 1,-23 1,8 1,26 1,5 1,-25 1,-20 1,-29 1,-21 1,-38 1,-20 1,2 1,-19 1,-2 1,-31 1,-10 1,-25 1,-30 1,-8 1,6 1,5 1,-7 1,-41 1,-13 1,-33 1,-10 1,-24 1,17 1,-11 1,-12 1,-35 1,-22 1,0 1,3 1,-7 1,-13 1,-26 1,-8 1,-12 1,-12 1,-15 1,-6 1,-20 1,-7 1,-15 1,2 1,-7 1,-4 1,2 1,-27 1,3 1,-21 1,29 1,-17 1,-8 1,-13 1,23 1,9 1,-13 1,-31 1,-9 1,3 1,-4 1,-12 1,-15 1,3 1,0 1,22 1,-13 1,-10 1,-23 1,12 1,-9 1,-11 1,-29 1,3 1,5 1,23 1,-9 1,20 1,-26 1,0 1,-23 1,9 1,-6 1,-6 1,-20 1,14 1,9 1,4 1,-8 1,-8 1,-7 1,13 1,-16 1,-13 1,2 1,0 1,5 1,-11 1,-4 1,-13 1,-3 1,3 1,29 1,-13 1,-7 1,-14 1,-6 1,15 1,-6 1,15 1,-28 1,16 1,-7 1,26 1,-8 1,-8 1,-1 1,13 1,-5 1,7 1,-18 1,-7 1,-11 1,7 1,-4 1,2 1,-19 1,-6 1,2 1,8 1,12 1,-16 1,26 1,0 1,-5 1,-23 1,6 1,15 1,-25 1,3 1,12 1,-3 1,-2 1,-4 1,21 1,-2 1,-27 1,0 1,-5 1,22 1,-6 1,-19 1,-1 1,-2 1,27 1,6 1,10 1,-6 1,1 1,-9 1,-8 1,-16 1,7 1,10" stroke="#ee9494" stroke-width="1.6" transform="translate(107.40,1120.5) scale(3.600,-0.28133)" vector-effect="non-scaling-stroke"/>
<path d="M0,50l1,-9 1,-4 1,-1 1,10 1,-21 1,-35 1,2 1,17 1,-15 1,-29 1,19 1,22 1,7 1,-5 1,2 1,12 1,19 1,13 1,-24 1,-16 1,-10 1,-6 1,15 1,-4 1,-5 1,-15 1,-7 1,7 1,0 1,-7 1,-18 1,10 1,13 1,24 1,1 1,-22 1,6 1,-5 1,7 1,-24 1,-10 1,15 1,23 1,21 1,-17 1,-10 1,-42 1,9 1,11 1,263 1,12 1,-14 1,60 1,95 1,114 1,96 1,58 1,63 1,58 1,40 1,45 1,51 1,43 1,8 1,2 1,15 1,-7 1,-10 1,-25 1,19 1,4 1,8 1,24 1,6 1,0 1,-36 1,-10 1,8 1,33 1,-3 1,-8 1,14 1,10 1,0 1,-1 1,-33 1,-22 1,7 1,34 1,7 1,-19 1,-26 1,-6 1,-25 1,20 1,-12 1,7 1,-10 1,-3 1,-19 1,-38 1,-34 1,-3 1,-25 1,-9 1,-13 1,-13 1,-21 1,-33 1,-13 1,-7 1,-10 1,-6 1,-6 1,-26 1,-14 1,-8 1,-3 1,-17 1,-31 1,-20 1,-30 1,-23 1,4 1,-1 1,2 1,-33 1,-14 1,-8 1,-2 1,-8 1,-30 1,-12 1,-28 1,-1 1,-14 1,20 1,9 1,-13 1,-20 1,-12 1,0 1,-4 1,-10 1,-19 1,-19 1,-12 1,1 1,8 1,-18 1,-11 1,-12 1,20 1,-12 1,3 1,-13 1,-8 1,-10 1,-5 1,-5 1,-26 1,-7 1,23 1,18 1,-3 1,-35 1,-7 1,-9 1,11 1,8 1,-10 1,-8 1,-10 1,6 1,8 1,-1 1,-6 1,-5 1,-19 1,-22 1,-2 1,14 1,1 1,13 1,-3 1,7 1,-23 1,-9 1,-9 1,1 1,-9 1,8 1,-1 1,14 1,10 1,-13 1,-24 1,0 1,16 1,23 1,-9 1,-8 1,-6 1,14 1,-11 1,-11 1,-1 1,-20 1,7 1,-12 1,18 1,-17 1,4 1,-7 1,7 1,-7 1,2 1,-9 1,3 1,14 1,17 1,-12 1,3 1,-3 1,-3 1,-3 1,0 1,-3 1,4 1,1 1,2 1,-10 1,4 1,4 1,-17 1,9 1,-14 1,27 1,-13 1,-12 1,-6 1,-1 1,12 1,-6 1,13 1,-8 1,-19 1,-7 1,-2 1,17" stroke="#ee9494" stroke-width="1.6" transform="translate(107.40,1120.5) scale(3.600,-0.28133)" vector-effect="non-scaling-stroke"/>
<path d="M0,59l1,-17 1,-15 1,10 1,14 1,7 1,-20 1,6 1,-6 1,-30 1,-26 1,33 1,-4 1,14 1,-20 1,16 1,5 1,40 1,-6 1,-32 1,-24 1,-1 1,-2 1,3 1,3 1,-2 1,-10 1,-16 1,4 1,-2 1,-9 1,-7 1,16 1,17 1,11 1,-16 1,-14 1,-20 1,-1 1,-13 1,12 1,-18 1,27 1,13 1,9 1,3 1,-6 1,19 1,-2 1,1 1,233 1,3 1,0 1,72 1,105 1,98 1,94 1,55 1,72 1,41 1,25 1,17 1,32 1,22 1,11 1,-1 1,10 1,9 1,-22 1,-4 1,-17 1,1 1,16 1,39 1,28 1,-10 1,-26 1,-25 1,-6 1,33 1,-6 1,-6 1,-2 1,-2 1,-31 1,-29 1,-22 1,11 1,5 1,18 1,0 1,-22 1,-22 1,-27 1,-25 1,-23 1,-10 1,6 1,5 1,-28 1,-26 1,-33 1,-13 1,-9 1,-17 1,-11 1,-16 1,-7 1,-36 1,1 1,-25 1,-7 1,-20 1,-15 1,5 1,-19 1,3 1,-5 1,2 1,-22 1,-20 1,-22 1,-21 1,-2 1,-1 1,-5 1,-4 1,-5 1,-13 1,-9 1,-6 1,10 1,-21 1,-31 1,-12 1,-4 1,-1 1,-1 1,7 1,-12 1,-4 1,17 1,-4 1,-4 1,-29 1,-2 1,-17 1,-1 1,-4 1,13 1,9 1,-7 1,-5 1,-27 1,-6 1,0 1,6 1,-8 1,-17 1,-6 1,-1 1,-6 1,19 1,-4 1,0 1,-32 1,9 1,-4 1,9 1,-9 1,7 1,-26 1,15 1,6 1,8 1,-6 1,-15 1,-19 1,9 1,2 1,3 1,-19 1,-10 1,2 1,24 1,10 1,-9 1,-31 1,-12 1,3 1,10 1,9 1,17 1,-4 1,-17 1,-6 1,-9 1,-5 1,9 1,2 1,-5 1,-20 1,-22 1,32 1,5 1,14 1,4 1,15 1,-4 1,-24 1,6 1,20 1,-7 1,-15 1,-26 1,8 1,4 1,17 1,-13 1,-15 1,-10 1,7 1,20 1,4 1,0 1,-24 1,5 1,7 1,-8 1,-6 1,0 1,-6 1,9 1,-9 1,4 1,-18 1,13 1,-6 1,-12 1,4 1,7 1,14 1,4 1,8 1,8 1,3 1,-3 1,-17 1,-16 1,-6 1,10" stroke="#ee9494" stroke-width="1.6" transform="translate(107.40,1120.5) scale(3.600,-0.28133)" vector-effect="non-scaling-stroke"/>
<path d="M0,53l1,-12 1,-4 1,5 1,23 1,-14 1,-34 1,-22 1,31 1,-26 1,-15 1,25 1,24 1,0 1,-7 1,-29 1,6 1,-8 1,23 1,0 1,-4 1,-11 1,-16 1,-4 1,8 1,-1 1,20 1,-20 1,-5 1,-6 1,7 1,-9 1,4 1,16 1,21 1,-15 1,-8 1,-16 1,-2 1,-17 1,-11 1,-8 1,3 1,30 1,15 1,29 1,-7 1,-2 1,-33 1,-1 1,247 1,-22 1,-50 1,15 1,63 1,107 1,87 1,70 1,62 1,76 1,72 1,55 1,49 1,23 1,27 1,9 1,30 1,10 1,14 1,-2 1,21 1,-28 1,31 1,25 1,44 1,-6 1,-23 1,0 1,-3 1,44 1,5 1,-16 1,-18 1,6 1,11 1,-5 1,-30 1,-1 1,21 1,22 1,-9 1,-17 1,-31 1,-10 1,-9 1,10 1,-29 1,-9 1,-34 1,19 1,-30 1,-8 1,-30 1,-5 1,-21 1,-11 1,0 1,-5 1,-18 1,-14 1,-24 1,-23 1,-38 1,-15 1,-9 1,-15 1,-17 1,-15 1,-13 1,-30 1,-18 1,-4 1,-4 1,-10 1,-25 1,0 1,-20 1,-6 1,-30 1,9 1,-7 1,16 1,-29 1,-11 1,-22 1,-20 1,-22 1,-10 1,22 1,-2 1,-11 1,-14 1,-28 1,-4 1,-12 1,19 1,-8 1,-19 1,-10 1,16 1,3 1,-15 1,-30 1,2 1,-20 1,8 1,15 1,0 1,-14 1,-30 1,4 1,4 1,10 1,12 1,-6 1,-16 1,1 1,-1 1,-5 1,-28 1,-1 1,2 1,14 1,-3 1,-18 1,0 1,-16 1,-15 1,-12 1,-2 1,13 1,7 1,-14 1,-19 1,-12 1,15 1,9 1,-3 1,-13 1,-5 1,12 1,13 1,6 1,-6 1,-18 1,-4 1,8 1,-8 1,2 1,-12 1,5 1,-2 1,-27 1,5 1,7 1,17 1,14 1,0 1,-15 1,-10 1,7 1,7 1,-1 1,-18 1,-3 1,9 1,11 1,-7 1,-21 1,-8 1,11 1,-10 1,-16 1,4 1,15 1,-2 1,-11 1,9 1,-9 1,19 1,-5 1,26 1,-9 1,1 1,-14 1,-7 1,6 1,-11 1,-15 1,-3 1,-5 1,21 1,-6 1,7 1,-13 1,-7 1,-8 1,23 1,-5 1,-6 1,-15" stroke="#ee9494" stroke-width="1.6" transform="translate(107.40,1120.5) scale(3.600,-0.28133)" vector-effect="non-scaling-stroke"/>
<path d="M0,56l1,7 1,-12 1,2 1,1 1,1 1,-28 1,-18 1,2 1,-10 1,-26 1,6 1,15 1,27 1,14 1,-20 1,6 1,0 1,-6 1,-19 1,3 1,10 1,4 1,1 1,-2 1,-13 1,4 1,-5 1,-5 1,-28 1,-8 1,-16 1,28 1,16 1,28 1,3 1,-16 1,-1 1,-28 1,-3 1,-8 1,20 1,1 1,2 1,-6 1,16 1,-3 1,-21 1,-13 1,9 1,248 1,30 1,-4 1,72 1,91 1,127 1,129 1,68 1,48 1,45 1,52 1,51 1,36 1,31 1,13 1,9 1,5 1,1 1,-24 1,-26 1,-12 1,-41 1,-1 1,-3 1,29 1,-27 1,-25 1,-27 1,-6 1,3 1,-28 1,-31 1,-26 1,-10 1,-23 1,-14 1,-48 1,-30 1,-19 1,9 1,-2 1,-31 1,-20 1,-32 1,-23 1,-31 1,-11 1,-3 1,-9 1,-20 1,-22 1,-24 1,-30 1,1 1,-13 1,19 1,-26 1,6 1,-32 1,-9 1,-23 1,-1 1,-2 1,-10 1,2 1,-4 1,-16 1,-24 1,0 1,3 1,0 1,-5 1,-18 1,-10 1,-21 1,2 1,-5 1,-18 1,-8 1,-5 1,16 1,-10 1,-17 1,-13 1,-6 1,7 1,-9 1,4 1,-2 1,-18 1,-18 1,-11 1,-14 1,14 1,-2 1,12 1,-2 1,16 1,-1 1,-2 1,-6 1,8 1,0 1,-2 1,-19 1,-9 1,-15 1,0 1,-1 1,6 1,14 1,0 1,7 1,-16 1,13 1,-14 1,10 1,-15 1,4 1,-6 1,6 1,-2 1,0 1,-2 1,-18 1,8 1,14 1,-3 1,3 1,-23 1,2 1,-20 1,-8 1,-1 1,10 1,11 1,4 1,-4 1,-6 1,-13 1,-1 1,19 1,15 1,-3 1,-15 1,2 1,11 1,-14 1,-5 1,-29 1,3 1,0 1,14 1,16 1,6 1,4 1,-8 1,-9 1,-32 1,-3 1,15 1,10 1,-8 1,1 1,-4 1,6 1,-8 1,19 1,7 1,0 1,-5 1,-8 1,6 1,-5 1,-11 1,-20 1,-1 1,20 1,9 1,8 1,20 1,-17 1,5 1,-13 1,11 1,-11 1,4 1,-12 1,3 1,-14 1,-10 1,6 1,14 1,14 1,-2 1,4 1,-8 1,7 1,2 1,15 1,-8" stroke="#75bb7e" stroke-width="1.5" transform="translate(107.40,1120.5) scale(3.600,-0.28133)" vector-effect="non-scaling-stroke"/>
<path d="M0,71l1,-1 1,-26 1,-9 1,-2 1,3 1,-44 1,-6 1,-6 1,2 1,-14 1,42 1,3 1,16 1,-19 1,-8 1,-13 1,12 1,18 1,3 1,-21 1,-18 1,-10 1,19 1,13 1,-14 1,9 1,-22 1,7 1,-3 1,21 1,-3 1,8 1,-8 1,4 1,-6 1,-9 1,-5 1,-25 1,-4 1,2 1,0 1,6 1,19 1,16 1,10 1,-19 1,-13 1,-4 1,22 1,245 1,-18 1,-83 1,33 1,65 1,106 1,82 1,38 1,74 1,57 1,58 1,46 1,62 1,61 1,20 1,23 1,19 1,31 1,2 1,13 1,-3 1,-4 1,-12 1,35 1,26 1,29 1,-11 1,-8 1,2 1,30 1,-7 1,-14 1,-4 1,9 1,-29 1,-19 1,-20 1,6 1,8 1,-10 1,-13 1,-23 1,-10 1,-28 1,-28 1,-33 1,-15 1,-5 1,-1 1,-3 1,-18 1,-14 1,-36 1,-33 1,-20 1,-7 1,-7 1,-15 1,-15 1,-7 1,-26 1,-20 1,-15 1,8 1,-18 1,-16 1,-24 1,-19 1,-26 1,1 1,-14 1,6 1,-39 1,-2 1,-24 1,-7 1,2 1,-11 1,-1 1,-10 1,22 1,-16 1,-2 1,-20 1,-4 1,-31 1,-8 1,-10 1,7 1,-12 1,14 1,-5 1,-16 1,-23 1,9 1,15 1,-17 1,-6 1,-44 1,13 1,-19 1,28 1,-3 1,0 1,-26 1,-12 1,6 1,-1 1,4 1,5 1,3 1,-16 1,-25 1,-11 1,18 1,-1 1,-7 1,-13 1,-15 1,-4 1,8 1,4 1,12 1,0 1,-10 1,3 1,-14 1,4 1,6 1,-9 1,-12 1,-2 1,16 1,-7 1,2 1,-12 1,12 1,-9 1,10 1,2 1,-7 1,-13 1,5 1,-1 1,12 1,4 1,-11 1,-23 1,-16 1,-12 1,8 1,10 1,-1 1,15 1,-5 1,1 1,-4 1,3 1,-8 1,-11 1,9 1,7 1,-13 1,-29 1,-9 1,14 1,14 1,18 1,-1 1,2 1,-1 1,5 1,6 1,11 1,1 1,-16 1,-14 1,-19 1,-16 1,2 1,16 1,13 1,7 1,-10 1,1 1,-10 1,9 1,-15 1,-4 1,18 1,-10 1,5 1,-10 1,18 1,-6 1,1 1,-13 1,-2 1,-12 1,-6 1,8" stroke="#ee9494" stroke-width="1.6" transform="translate(107.40,1120.5) scale(3.600,-0.28133)" vector-effect="non-scaling-stroke"/>
<path d="M0,56l1,-10 1,-25 1,8 1,14 1,20 1,-28 1,-7 1,-10 1,-4 1,-39 1,36 1,-6 1,20 1,-21 1,-10 1,13 1,15 1,25 1,-29 1,-11 1,-31 1,10 1,-16 1,9 1,0 1,9 1,4 1,-6 1,13 1,-6 1,-16 1,-2 1,3 1,26 1,4 1,-18 1,-18 1,-18 1,-4 1,-2 1,1 1,33 1,9 1,7 1,-4 1,-1 1,-8 1,-8 1,16 1,238 1,17 1,-25 1,86 1,103 1,133 1,108 1,47 1,63 1,51 1,41 1,48 1,28 1,37 1,15 1,12 1,11 1,4 1,-15 1,7 1,-25 1,-28 1,-27 1,8 1,16 1,7 1,-9 1,12 1,-12 1,29 1,-40 1,-11 1,-35 1,-20 1,-33 1,-25 1,-11 1,-3 1,28 1,0 1,-14 1,-26 1,-17 1,-20 1,-37 1,-25 1,-9 1,-3 1,-4 1,-11 1,-24 1,-21 1,-43 1,-1 1,-14 1,7 1,-16 1,-15 1,-20 1,-12 1,-16 1,-23 1,-17 1,-22 1,12 1,-17 1,2 1,-4 1,7 1,-12 1,-24 1,-20 1,0 1,-15 1,-10 1,-9 1,-6 1,-10 1,-17 1,-15 1,-18 1,-32 1,-2 1,8 1,8 1,5 1,-15 1,8 1,-12 1,-14 1,-10 1,-4 1,-9 1,1 1,2 1,-11 1,-1 1,-16 1,4 1,-5 1,4 1,-9 1,-5 1,-7 1,-9 1,-9 1,10 1,2 1,11 1,-11 1,-26 1,-20 1,13 1,25 1,1 1,-32 1,3 1,6 1,8 1,-8 1,9 1,-2 1,-7 1,-4 1,-12 1,15 1,-8 1,-7 1,-21 1,3 1,3 1,17 1,-24 1,-6 1,-4 1,11 1,-8 1,-2 1,-14 1,2 1,13 1,22 1,15 1,-17 1,-30 1,-3 1,14 1,-11 1,11 1,-37 1,14 1,-10 1,0 1,-2 1,6 1,21 1,12 1,3 1,-28 1,13 1,-1 1,14 1,-20 1,-10 1,14 1,20 1,7 1,-13 1,-33 1,-11 1,3 1,6 1,4 1,-1 1,11 1,-27 1,-7 1,6 1,16 1,2 1,6 1,-6 1,7 1,-27 1,4 1,-2 1,28 1,-7 1,-2 1,-10 1,8 1,1 1,-3 1,-9 1,5 1,6 1,17 1,-1 1,0 1,-23 1,-1" stroke="#75bb7e" stroke-width="1.5" transform="translate(107.40,1120.5) scale(3.600,-0.28133)" vector-effect="non-scaling-stroke"/>
<path d="M0,63l1,6 1,-1 1,-4 1,-11 1,3 1,-34 1,-2 1,8 1,-23 1,-26 1,11 1,11 1,13 1,-28 1,-7 1,11 1,41 1,20 1,-22 1,-20 1,-24 1,-13 1,8 1,9 1,11 1,-3 1,4 1,-2 1,-10 1,-11 1,-7 1,11 1,-8 1,6 1,-7 1,-5 1,15 1,14 1,17 1,-26 1,-18 1,1 1,21 1,-8 1,13 1,13 1,12 1,6 1,-14 1,244 1,32 1,15 1,96 1,109 1,148 1,95 1,58 1,50 1,65 1,34 1,31 1,24 1,28 1,-1 1,-2 1,7 1,7 1,-21 1,-9 1,-10 1,-30 1,-15 1,3 1,20 1,6 1,-20 1,2 1,-16 1,26 1,-41 1,-2 1,-23 1,3 1,-35 1,4 1,-16 1,0 1,-12 1,3 1,-30 1,-36 1,-28 1,-17 1,-22 1,-25 1,-14 1,-17 1,-4 1,3 1,-4 1,-43 1,-39 1,-14 1,7 1,-1 1,-10 1,-10 1,-39 1,-22 1,-27 1,0 1,-7 1,-6 1,-23 1,-29 1,-10 1,12 1,6 1,-28 1,-28 1,-6 1,-3 1,7 1,6 1,2 1,-21 1,-21 1,-18 1,-1 1,-12 1,-12 1,-18 1,-9 1,-10 1,0 1,-9 1,11 1,-16 1,-18 1,-20 1,15 1,-9 1,5 1,-13 1,5 1,-19 1,-5 1,-8 1,11 1,-14 1,-7 1,-19 1,15 1,-21 1,3 1,6 1,23 1,-10 1,-1 1,-19 1,7 1,-9 1,6 1,3 1,-14 1,-2 1,-6 1,-11 1,-15 1,-5 1,-1 1,20 1,12 1,-9 1,4 1,-15 1,-3 1,1 1,-1 1,5 1,-1 1,-8 1,-6 1,-2 1,11 1,-7 1,-1 1,-3 1,5 1,-1 1,7 1,17 1,-21 1,-14 1,-33 1,8 1,-21 1,12 1,-8 1,6 1,4 1,-27 1,27 1,-11 1,18 1,7 1,4 1,3 1,-9 1,18 1,-9 1,-22 1,-9 1,11 1,21 1,-15 1,3 1,-12 1,7 1,2 1,0 1,14 1,-8 1,5 1,-14 1,-4 1,-9 1,-15 1,12 1,9 1,5 1,-13 1,-12 1,-1 1,11 1,25 1,-16 1,-18 1,-19 1,5 1,-2 1,19 1,10 1,5 1,-34 1,8 1,16 1,19 1,-8 1,-8" stroke="#75bb7e" stroke-width="1.5" transform="translate(107.40,1120.5) scale(3.600,-0.28133)" vector-effect="non-scaling-stroke"/>
<path d="M0,69l1,-22 1,-3 1,-11 1,13 1,0 1,-25 1,-9 1,10 1,-26 1,-25 1,4 1,20 1,33 1,-1 1,-9 1,2 1,8 1,16 1,-14 1,-7 1,-17 1,-21 1,-7 1,13 1,16 1,7 1,-16 1,-13 1,-2 1,-14 1,0 1,-3 1,28 1,6 1,-9 1,-26 1,-7 1,9 1,-12 1,2 1,23 1,10 1,11 1,-23 1,20 1,-14 1,-14 1,-2 1,16 1,268 1,-40 1,-57 1,45 1,76 1,93 1,63 1,51 1,81 1,63 1,50 1,42 1,67 1,66 1,-5 1,-4 1,4 1,43 1,-3 1,21 1,10 1,-11 1,-9 1,19 1,27 1,13 1,-17 1,-9 1,7 1,35 1,-1 1,-23 1,-8 1,-4 1,-30 1,0 1,1 1,32 1,23 1,13 1,0 1,-37 1,-10 1,-1 1,20 1,10 1,1 1,-22 1,-32 1,-7 1,3 1,8 1,-26 1,-11 1,-28 1,0 1,-15 1,1 1,-18 1,-15 1,-19 1,-24 1,-7 1,-9 1,-17 1,-27 1,-6 1,-9 1,-4 1,-28 1,-20 1,-29 1,-21 1,-7 1,4 1,-21 1,-21 1,-25 1,6 1,-24 1,-5 1,-28 1,9 1,-21 1,-2 1,-2 1,-10 1,-4 1,-15 1,-19 1,-7 1,-10 1,-12 1,-19 1,-10 1,4 1,-7 1,-8 1,1 1,5 1,8 1,-18 1,-16 1,-19 1,-15 1,1 1,0 1,-14 1,-16 1,-20 1,8 1,-13 1,1 1,-1 1,7 1,-16 1,-5 1,11 1,-5 1,6 1,-19 1,3 1,-11 1,-6 1,6 1,9 1,-3 1,-20 1,-16 1,-1 1,3 1,-8 1,-10 1,-8 1,26 1,19 1,-10 1,-25 1,-12 1,5 1,4 1,7 1,21 1,-4 1,-23 1,-15 1,-16 1,-6 1,-6 1,26 1,10 1,5 1,-28 1,-19 1,12 1,16 1,17 1,-6 1,-24 1,-12 1,10 1,11 1,3 1,-21 1,-4 1,-7 1,5 1,5 1,-4 1,7 1,-11 1,-10 1,-11 1,-7 1,25 1,-25 1,17 1,-8 1,11 1,-16 1,8 1,12 1,10 1,-2 1,-29 1,4 1,13 1,1 1,-11 1,-16 1,-2 1,-7 1,11 1,10 1,-2 1,0 1,5 1,13 1,0 1,-12 1,-3" stroke="#ee9494" stroke-width="1.6" transform="translate(107.40,1120.5) scale(3.600,-0.28133)" vector-effect="non-scaling-stroke"/>
<path d="M0,53l1,-23 1,-22 1,9 1,21 1,3 1,-32 1,-18 1,25 1,-21 1,-6 1,3 1,2 1,14 1,8 1,8 1,7 1,5 1,-1 1,-10 1,-8 1,3 1,-25 1,-2 1,2 1,3 1,7 1,-15 1,-9 1,-27 1,0 1,-7 1,34 1,9 1,19 1,-10 1,-10 1,-6 1,-17 1,-22 1,-3 1,-4 1,14 1,10 1,7 1,32 1,-17 1,8 1,-22 1,2 1,246 1,-44 1,-34 1,2 1,69 1,81 1,85 1,66 1,59 1,55 1,36 1,36 1,70 1,62 1,37 1,4 1,16 1,26 1,5 1,-7 1,-9 1,-2 1,27 1,27 1,16 1,-14 1,-1 1,0 1,25 1,40 1,2 1,3 1,-11 1,11 1,-32 1,-12 1,-21 1,26 1,35 1,24 1,-14 1,-22 1,-6 1,-8 1,-16 1,0 1,-18 1,-15 1,-34 1,0 1,8 1,-2 1,-23 1,-33 1,-25 1,-4 1,-9 1,-8 1,-18 1,-9 1,-16 1,-32 1,-16 1,-43 1,-6 1,-13 1,3 1,-12 1,-14 1,-12 1,-21 1,-30 1,-20 1,-19 1,-2 1,-15 1,-1 1,-13 1,-14 1,-15 1,-9 1,0 1,-16 1,-16 1,-7 1,-8 1,-21 1,-9 1,4 1,-2 1,-1 1,-5 1,-10 1,-12 1,-21 1,-19 1,0 1,-8 1,2 1,-11 1,12 1,-5 1,-8 1,-11 1,-11 1,4 1,11 1,5 1,-17 1,-16 1,-5 1,-6 1,-4 1,1 1,9 1,-25 1,-15 1,-12 1,2 1,11 1,7 1,-10 1,7 1,-11 1,4 1,-2 1,5 1,-12 1,-5 1,-6 1,-8 1,-8 1,-7 1,-10 1,19 1,-8 1,19 1,-22 1,1 1,-16 1,10 1,-7 1,10 1,-20 1,-18 1,8 1,15 1,14 1,-3 1,-3 1,3 1,2 1,-18 1,3 1,6 1,-15 1,8 1,-16 1,8 1,-5 1,21 1,-7 1,-6 1,-16 1,4 1,5 1,-3 1,19 1,-19 1,6 1,-8 1,19 1,-13 1,-20 1,-10 1,1 1,11 1,6 1,-12 1,1 1,1 1,14 1,-2 1,18 1,-23 1,2 1,-11 1,0 1,-9 1,9 1,-3 1,-16 1,-2 1,5 1,28 1,-4 1,14 1,-4 1,-23 1,-13 1,2" stroke="#ee9494" stroke-width="1.6" transform="translate(107.40,1120.5) scale(3.600,-0.28133)" vector-effect="non-scaling-stroke"/>
<path d="M0,69l1,-11 1,-26 1,24 1,22 1,10 1,-42 1,-27 1,0 1,-31 1,-25 1,14 1,23 1,9 1,-8 1,-15 1,19 1,19 1,2 1,-4 1,-30 1,-2 1,-31 1,14 1,1 1,30 1,2 1,-17 1,-12 1,1 1,5 1,-10 1,21 1,13 1,-9 1,-18 1,-15 1,0 1,-11 1,0 1,6 1,-3 1,11 1,10 1,5 1,2 1,-9 1,-4 1,1 1,3 1,242 1,-14 1,-37 1,63 1,86 1,122 1,99 1,50 1,65 1,54 1,67 1,58 1,47 1,45 1,13 1,5 1,19 1,28 1,5 1,-30 1,-8 1,-20 1,14 1,-4 1,24 1,1 1,-9 1,-8 1,16 1,37 1,2 1,-30 1,-7 1,-5 1,-11 1,-10 1,-15 1,11 1,11 1,8 1,-29 1,-22 1,-11 1,-9 1,-10 1,-29 1,-16 1,-22 1,1 1,-10 1,-24 1,-33 1,-19 1,-2 1,-29 1,-10 1,-19 1,-6 1,-26 1,-16 1,-18 1,-17 1,-1 1,-9 1,-20 1,-38 1,-21 1,-14 1,2 1,6 1,-5 1,-15 1,-36 1,-11 1,-25 1,-2 1,5 1,7 1,-9 1,-18 1,-7 1,2 1,-14 1,-19 1,-20 1,-8 1,-25 1,-8 1,3 1,4 1,3 1,6 1,-17 1,-23 1,-27 1,2 1,2 1,-8 1,2 1,14 1,11 1,-12 1,-27 1,-17 1,-10 1,7 1,7 1,-6 1,-14 1,8 1,-9 1,2 1,-3 1,0 1,2 1,-21 1,5 1,-27 1,-7 1,-12 1,33 1,-2 1,7 1,0 1,-2 1,18 1,-7 1,-5 1,-12 1,-10 1,-9 1,1 1,-8 1,-2 1,-2 1,2 1,-13 1,-14 1,2 1,11 1,9 1,-7 1,-6 1,-12 1,5 1,7 1,-1 1,-14 1,5 1,-8 1,-13 1,-15 1,2 1,21 1,21 1,5 1,-1 1,-7 1,-28 1,-8 1,2 1,21 1,1 1,-14 1,-10 1,3 1,6 1,11 1,-13 1,3 1,-7 1,-11 1,-14 1,-6 1,31 1,2 1,11 1,-14 1,-9 1,-6 1,12 1,-3 1,-2 1,-10 1,14 1,-2 1,4 1,-10 1,-3 1,12 1,-11 1,21 1,-8 1,8 1,-20 1,-2 1,0 1,5 1,9 1,-22 1,1" stroke="#ee9494" stroke-width="1.6" transform="translate(107.40,1120.5) scale(3.600,-0.28133)" vector-effect="non-scaling-stroke"/>
<path d="M0,60l1,-2 1,8 1,-4 1,10 1,-14 1,-33 1,-7 1,27 1,-26 1,-32 1,27 1,18 1,20 1,-38 1,-4 1,0 1,16 1,12 1,-13 1,0 1,-18 1,-17 1,-2 1,12 1,2 1,-7 1,-25 1,9 1,-2 1,3 1,-3 1,7 1,22 1,3 1,-2 1,-13 1,-4 1,-14 1,-17 1,-15 1,9 1,8 1,14 1,14 1,-1 1,7 1,-16 1,12 1,-19 1,239 1,-73 1,-74 1,-16 1,26 1,47 1,65 1,23 1,48 1,30 1,65 1,39 1,61 1,60 1,24 1,16 1,2 1,46 1,19 1,15 1,7 1,-3 1,34 1,48 1,49 1,14 1,-20 1,-4 1,19 1,61 1,19 1,3 1,7 1,-4 1,-15 1,-23 1,-13 1,16 1,26 1,27 1,-10 1,-22 1,-3 1,-15 1,-6 1,-14 1,-20 1,-19 1,-19 1,7 1,3 1,-39 1,-22 1,-28 1,9 1,-28 1,-14 1,-16 1,-21 1,-4 1,-25 1,-2 1,-18 1,-9 1,-2 1,4 1,-4 1,-34 1,-31 1,-21 1,8 1,-12 1,4 1,-12 1,1 1,-27 1,-23 1,-22 1,-9 1,5 1,-4 1,-11 1,-13 1,-16 1,-12 1,-15 1,-6 1,12 1,2 1,-12 1,-7 1,-2 1,17 1,-15 1,-11 1,-45 1,-4 1,9 1,11 1,7 1,-16 1,-11 1,-16 1,-4 1,-18 1,-12 1,-12 1,15 1,0 1,9 1,-15 1,7 1,-6 1,20 1,0 1,-10 1,-24 1,-9 1,10 1,-6 1,-4 1,6 1,19 1,13 1,-13 1,2 1,-19 1,-36 1,4 1,-9 1,14 1,-29 1,-3 1,-6 1,10 1,5 1,-12 1,1 1,-9 1,9 1,11 1,25 1,22 1,-16 1,-27 1,-18 1,4 1,-1 1,17 1,-19 1,0 1,-28 1,-5 1,19 1,20 1,11 1,-2 1,1 1,-29 1,-4 1,6 1,22 1,-4 1,-22 1,-20 1,-8 1,18 1,7 1,-12 1,-22 1,-1 1,14 1,2 1,4 1,9 1,-3 1,13 1,-15 1,-22 1,-7 1,26 1,16 1,-1 1,-42 1,8 1,-3 1,17 1,-21 1,-7 1,17 1,22 1,0 1,-4 1,-21 1,-1 1,-1 1,17 1,15 1,-9 1,-12 1,-5" stroke="#ee9494" stroke-width="1.6" transform="translate(107.40,1120.5) scale(3.600,-0.28133)" vector-effect="non-scaling-stroke"/>
<path d="M0,66l1,-12 1,-26 1,11 1,9 1,1 1,-36 1,-16 1,14 1,-21 1,-6 1,11 1,19 1,6 1,-8 1,1 1,1 1,10 1,-7 1,-9 1,-25 1,-1 1,-13 1,33 1,15 1,8 1,-6 1,-14 1,-15 1,-33 1,0 1,6 1,16 1,8 1,16 1,2 1,-13 1,-28 1,-1 1,-11 1,15 1,1 1,13 1,9 1,0 1,18 1,-4 1,4 1,-16 1,3 1,244 1,-62 1,-92 1,-7 1,25 1,58 1,46 1,18 1,34 1,48 1,48 1,40 1,43 1,57 1,36 1,17 1,23 1,37 1,11 1,12 1,27 1,2 1,15 1,4 1,43 1,8 1,5 1,-3 1,14 1,61 1,10 1,22 1,-4 1,-2 1,-20 1,-22 1,3 1,10 1,18 1,13 1,-12 1,-12 1,-33 1,-15 1,-37 1,-7 1,-25 1,6 1,-12 1,3 1,-10 1,-20 1,-26 1,-30 1,-25 1,5 1,7 1,-11 1,-11 1,-28 1,0 1,-30 1,-5 1,-7 1,-24 1,-14 1,-19 1,3 1,-14 1,-16 1,-19 1,-2 1,-15 1,-1 1,-7 1,1 1,-9 1,-14 1,-16 1,-6 1,6 1,-11 1,-14 1,-32 1,20 1,-16 1,-7 1,-9 1,2 1,-8 1,-18 1,-6 1,-7 1,-2 1,1 1,-4 1,-2 1,10 1,-13 1,-2 1,-17 1,-15 1,-15 1,7 1,12 1,-8 1,5 1,-1 1,2 1,-23 1,-4 1,-3 1,14 1,1 1,7 1,-22 1,-23 1,-6 1,-11 1,11 1,0 1,-2 1,14 1,-9 1,11 1,-7 1,11 1,-7 1,-2 1,-16 1,-8 1,2 1,-2 1,-22 1,-10 1,9 1,22 1,-3 1,-14 1,-5 1,10 1,15 1,0 1,-27 1,-5 1,-6 1,27 1,-33 1,14 1,-21 1,11 1,1 1,8 1,11 1,5 1,-17 1,4 1,-13 1,-10 1,5 1,1 1,17 1,-9 1,-4 1,-17 1,-18 1,5 1,7 1,14 1,-9 1,7 1,-3 1,6 1,1 1,8 1,-8 1,-8 1,4 1,-7 1,0 1,-8 1,16 1,9 1,2 1,-19 1,-6 1,5 1,-18 1,-2 1,0 1,13 1,9 1,-9 1,-6 1,-9 1,14 1,14 1,10 1,-26 1,-4 1,-8" stroke="#ee9494" stroke-width="1.6" transform="translate(107.40,1120.5) scale(3.600,-0.28133)" vector-effect="non-scaling-stroke"/>
<path d="M0,65l1,-6 1,-22 1,-7 1,-7 1,-9 1,-30 1,-5 1,27 1,-16 1,-24 1,32 1,13 1,19 1,-18 1,9 1,3 1,-10 1,-10 1,7 1,-3 1,-10 1,-20 1,13 1,0 1,2 1,-17 1,22 1,11 1,13 1,-25 1,-16 1,-12 1,15 1,-4 1,-2 1,-22 1,1 1,10 1,7 1,0 1,-17 1,11 1,9 1,25 1,-5 1,-18 1,-20 1,20 1,28 1,248 1,-59 1,-83 1,18 1,44 1,82 1,70 1,35 1,51 1,57 1,68 1,62 1,53 1,50 1,40 1,23 1,32 1,18 1,3 1,-1 1,6 1,0 1,11 1,27 1,24 1,-3 1,-11 1,-3 1,7 1,31 1,-13 1,3 1,1 1,9 1,4 1,-23 1,2 1,8 1,48 1,20 1,-7 1,-19 1,-12 1,5 1,-16 1,0 1,-14 1,10 1,-4 1,19 1,-12 1,-11 1,-34 1,0 1,-6 1,-1 1,-5 1,-29 1,-19 1,-34 1,-4 1,-28 1,-11 1,-12 1,9 1,-3 1,-13 1,-12 1,-27 1,-36 1,-31 1,-9 1,8 1,7 1,-15 1,0 1,-18 1,-2 1,-34 1,-2 1,-16 1,-18 1,-31 1,-26 1,-1 1,-14 1,-3 1,-5 1,-14 1,-2 1,-19 1,9 1,-34 1,-4 1,-24 1,4 1,-14 1,-18 1,-13 1,2 1,16 1,-15 1,-24 1,-18 1,2 1,4 1,-4 1,4 1,4 1,5 1,-20 1,-10 1,-9 1,-5 1,5 1,-11 1,-2 1,-3 1,-2 1,9 1,1 1,-5 1,-13 1,-12 1,-7 1,8 1,-6 1,-12 1,18 1,5 1,-2 1,-20 1,-13 1,-4 1,4 1,8 1,-6 1,-16 1,-5 1,-2 1,11 1,-20 1,7 1,-21 1,-9 1,-21 1,25 1,0 1,24 1,-17 1,4 1,-3 1,-26 1,9 1,-1 1,17 1,3 1,-15 1,-35 1,-15 1,25 1,24 1,0 1,-35 1,-25 1,0 1,17 1,19 1,1 1,1 1,-4 1,-13 1,0 1,8 1,12 1,0 1,-2 1,2 1,-27 1,-4 1,8 1,18 1,5 1,-3 1,-13 1,-18 1,-25 1,12 1,18 1,23 1,-29 1,-15 1,11 1,-9 1,5 1,-7 1,24 1,15 1,-10 1,14 1,-8" stroke="#ee9494" stroke-width="1.6" transform="translate(107.40,1120.5) scale(3.600,-0.28133)" vector-effect="non-scaling-stroke"/>
<path d="M0,57l1,-3 1,-11 1,8 1,2 1,6 1,-42 1,-6 1,14 1,-14 1,-40 1,5 1,19 1,32 1,-14 1,-16 1,9 1,28 1,15 1,-23 1,-27 1,2 1,-14 1,18 1,-12 1,19 1,-3 1,-9 1,-6 1,-17 1,-7 1,-10 1,-2 1,26 1,9 1,10 1,-34 1,-7 1,-15 1,-4 1,-10 1,8 1,19 1,11 1,4 1,14 1,2 1,10 1,-4 1,3 1,222 1,-43 1,-54 1,40 1,69 1,77 1,89 1,35 1,94 1,57 1,83 1,44 1,37 1,41 1,25 1,52 1,27 1,21 1,-22 1,6 1,6 1,4 1,7 1,30 1,29 1,13 1,-4 1,6 1,14 1,20 1,-21 1,-23 1,-2 1,18 1,-8 1,-10 1,2 1,3 1,26 1,-14 1,-22 1,-42 1,-22 1,-3 1,-7 1,-4 1,-16 1,1 1,-25 1,-19 1,-23 1,-20 1,-12 1,-12 1,-9 1,-19 1,-47 1,-22 1,-14 1,-11 1,-14 1,-21 1,-1 1,-7 1,-1 1,-25 1,-24 1,-21 1,6 1,-13 1,-12 1,-25 1,-15 1,-14 1,4 1,-6 1,-5 1,-26 1,-21 1,-15 1,0 1,-6 1,-22 1,-16 1,-17 1,-15 1,-19 1,21 1,22 1,-3 1,-26 1,-20 1,-23 1,-9 1,-5 1,3 1,0 1,-6 1,1 1,-21 1,-2 1,-19 1,6 1,0 1,-4 1,2 1,2 1,-16 1,-1 1,-6 1,20 1,3 1,11 1,1 1,-12 1,-14 1,-19 1,-9 1,-17 1,14 1,16 1,-4 1,-9 1,-14 1,-2 1,-25 1,0 1,-17 1,25 1,3 1,-5 1,10 1,-26 1,19 1,-12 1,21 1,-27 1,-10 1,-10 1,16 1,1 1,-3 1,-6 1,-14 1,-17 1,0 1,18 1,11 1,5 1,-13 1,-23 1,-11 1,-12 1,32 1,17 1,5 1,0 1,8 1,-22 1,-4 1,-14 1,8 1,-15 1,-7 1,0 1,26 1,1 1,8 1,-9 1,13 1,14 1,-6 1,-30 1,-17 1,-6 1,-7 1,17 1,10 1,-2 1,-26 1,-16 1,3 1,16 1,16 1,-3 1,7 1,-2 1,2 1,-26 1,-2 1,-11 1,12 1,9 1,8 1,-4 1,1 1,-1 1,16 1,-9 1,-5 1,-11" stroke="#ee9494" stroke-width="1.6" transform="translate(107.40,1120.5) scale(3.600,-0.28133)" vector-effect="non-scaling-stroke"/>
<path d="M0,42l1,-24 1,-10 1,11 1,16 1,27 1,-35 1,-7 1,-8 1,-18 1,-11 1,20 1,17 1,19 1,-1 1,-9 1,-3 1,-4 1,2 1,-17 1,5 1,-13 1,-6 1,-9 1,17 1,-2 1,0 1,-4 1,0 1,-7 1,-5 1,-8 1,13 1,10 1,25 1,-8 1,-29 1,-40 1,13 1,-1 1,11 1,-26 1,14 1,5 1,29 1,15 1,7 1,-29 1,-5 1,0 1,265 1,15 1,4 1,67 1,116 1,121 1,123 1,38 1,76 1,67 1,60 1,46 1,25 1,44 1,0 1,6 1,16 1,2 1,-9 1,-9 1,-7 1,-36 1,-10 1,27 1,13 1,-18 1,-28 1,-21 1,2 1,8 1,-8 1,-11 1,-11 1,0 1,-21 1,-12 1,-23 1,1 1,11 1,-20 1,-34 1,-38 1,-6 1,-31 1,-20 1,-24 1,0 1,-19 1,-9 1,-30 1,-8 1,-22 1,-19 1,-16 1,-22 1,7 1,-18 1,-8 1,-8 1,-7 1,-2 1,-24 1,-18 1,-8 1,-16 1,-12 1,-29 1,-21 1,-8 1,-12 1,0 1,-16 1,-8 1,-18 1,0 1,-3 1,6 1,-18 1,-28 1,-4 1,4 1,-4 1,-11 1,-15 1,-7 1,-17 1,-27 1,3 1,-6 1,2 1,7 1,-11 1,-32 1,-15 1,2 1,26 1,-2 1,12 1,-25 1,5 1,-17 1,2 1,-4 1,7 1,-13 1,-23 1,0 1,-3 1,2 1,-12 1,5 1,-8 1,3 1,1 1,-4 1,-12 1,-18 1,-2 1,-7 1,1 1,20 1,-5 1,17 1,-18 1,-9 1,3 1,4 1,-12 1,5 1,-18 1,-12 1,-15 1,-13 1,9 1,12 1,7 1,-4 1,-16 1,4 1,16 1,4 1,8 1,-9 1,-9 1,-13 1,0 1,3 1,4 1,5 1,-6 1,10 1,0 1,1 1,-1 1,3 1,6 1,1 1,-2 1,-25 1,-3 1,14 1,-11 1,-4 1,-35 1,8 1,2 1,19 1,19 1,-21 1,1 1,1 1,0 1,-8 1,-5 1,17 1,-30 1,-3 1,-1 1,30 1,-9 1,4 1,-14 1,6 1,-8 1,13 1,8 1,18 1,-20 1,1 1,-9 1,11 1,-18 1,-7 1,-1 1,26 1,20 1,-12 1,-13 1,-19 1,26 1,-1" stroke="#75bb7e" stroke-width="1.5" transform="translate(107.40,1120.5) scale(3.600,-0.28133)" vector-effect="non-scaling-stroke"/>
<path d="M0,58l1,2 1,-13 1,-11 1,3 1,3 1,-5 1,-12 1,10 1,-34 1,-20 1,8 1,17 1,3 1,4 1,-7 1,15 1,1 1,8 1,-19 1,8 1,-6 1,-9 1,-10 1,6 1,8 1,-11 1,4 1,-8 1,0 1,-24 1,0 1,13 1,20 1,7 1,-2 1,-10 1,-13 1,-23 1,-16 1,1 1,13 1,18 1,2 1,1 1,2 1,-2 1,-17 1,9 1,5 1,258 1,-31 1,-31 1,54 1,92 1,106 1,95 1,80 1,87 1,61 1,41 1,51 1,44 1,40 1,10 1,20 1,15 1,14 1,-5 1,-4 1,-4 1,-17 1,12 1,23 1,37 1,-25 1,-18 1,-10 1,42 1,49 1,-24 1,-23 1,-13 1,4 1,-24 1,-21 1,-2 1,24 1,30 1,3 1,-20 1,-31 1,12 1,-9 1,-10 1,-27 1,-14 1,6 1,-4 1,3 1,-26 1,-22 1,-39 1,-10 1,-17 1,5 1,-24 1,-18 1,-48 1,-27 1,-22 1,-11 1,-5 1,3 1,-13 1,-7 1,-38 1,-7 1,-20 1,-14 1,-20 1,-11 1,-5 1,-19 1,-17 1,-17 1,9 1,3 1,-21 1,-11 1,-15 1,-13 1,-20 1,-28 1,3 1,-11 1,-7 1,-15 1,-12 1,-12 1,-1 1,17 1,-7 1,-1 1,-15 1,-5 1,-34 1,-18 1,-17 1,14 1,3 1,2 1,-3 1,-25 1,0 1,-9 1,18 1,-20 1,1 1,-4 1,-12 1,-12 1,0 1,15 1,12 1,-20 1,-12 1,-17 1,-2 1,-7 1,13 1,-14 1,10 1,-15 1,4 1,5 1,20 1,-16 1,16 1,-27 1,5 1,-18 1,-16 1,-6 1,8 1,5 1,4 1,-31 1,9 1,-12 1,6 1,5 1,19 1,3 1,-22 1,-9 1,-5 1,3 1,-11 1,-5 1,6 1,7 1,-12 1,-11 1,11 1,3 1,18 1,-16 1,-11 1,-17 1,6 1,-5 1,-21 1,-20 1,3 1,39 1,17 1,11 1,-27 1,-4 1,1 1,-12 1,16 1,-12 1,33 1,-18 1,10 1,-14 1,-10 1,-6 1,8 1,13 1,7 1,-7 1,-11 1,-11 1,16 1,-14 1,9 1,-16 1,13 1,-4 1,8 1,3 1,-6 1,-11 1,-8 1,18 1,21 1,-7 1,-11" stroke="#ee9494" stroke-width="1.6" transform="translate(107.40,1120.5) scale(3.600,-0.28133)" vector-effect="non-scaling-stroke"/>
<path d="M0,58l1,-18 1,-8 1,0 1,31 1,-10 1,-34 1,-8 1,16 1,-18 1,-38 1,7 1,0 1,31 1,-4 1,28 1,-14 1,11 1,-5 1,-7 1,-3 1,-14 1,-14 1,-22 1,-6 1,17 1,16 1,-5 1,-12 1,-1 1,9 1,-16 1,4 1,9 1,41 1,-8 1,-18 1,-25 1,12 1,5 1,-15 1,-17 1,3 1,9 1,14 1,21 1,8 1,-5 1,-9 1,3 1,250 1,-5 1,-41 1,54 1,86 1,123 1,69 1,30 1,50 1,71 1,63 1,29 1,35 1,35 1,18 1,22 1,-4 1,1 1,-37 1,4 1,-7 1,-31 1,-1 1,24 1,35 1,8 1,-22 1,-12 1,0 1,59 1,15 1,-18 1,-3 1,-3 1,-13 1,-24 1,-13 1,9 1,27 1,8 1,3 1,-14 1,-10 1,-14 1,-12 1,-10 1,-14 1,-10 1,-14 1,2 1,-5 1,-1 1,-28 1,-23 1,-16 1,-24 1,-28 1,-26 1,0 1,10 1,1 1,-16 1,-25 1,-28 1,-11 1,-22 1,-12 1,-9 1,-14 1,-16 1,-21 1,-6 1,-11 1,0 1,1 1,-16 1,-16 1,-20 1,-6 1,-4 1,-13 1,-11 1,-29 1,-3 1,-4 1,6 1,-11 1,-9 1,-5 1,-7 1,7 1,3 1,-21 1,-12 1,-7 1,-16 1,-33 1,-10 1,24 1,23 1,-26 1,-33 1,-14 1,6 1,12 1,-2 1,9 1,-10 1,-6 1,-15 1,-15 1,-3 1,11 1,-2 1,9 1,4 1,-3 1,-16 1,-23 1,3 1,7 1,-26 1,18 1,2 1,-11 1,-27 1,-26 1,34 1,7 1,10 1,-18 1,-9 1,-7 1,-11 1,15 1,3 1,10 1,-21 1,5 1,0 1,18 1,-8 1,-4 1,-15 1,-13 1,4 1,-8 1,3 1,5 1,-10 1,4 1,2 1,5 1,-8 1,-13 1,-2 1,15 1,5 1,-14 1,-18 1,4 1,1 1,-9 1,-13 1,27 1,1 1,10 1,-16 1,-2 1,11 1,-2 1,3 1,-19 1,2 1,10 1,-25 1,7 1,1 1,23 1,0 1,-1 1,-13 1,2 1,0 1,-7 1,-19 1,4 1,-11 1,-4 1,6 1,26 1,1 1,3 1,-8 1,3 1,3 1,11 1,13 1,-26 1,-24 1,-7" stroke="#ee9494" stroke-width="1.6" transform="translate(107.40,1120.5) scale(3.600,-0.28133)" vector-effect="non-scaling-stroke"/>
<path d="M0,74l1,-9 1,-30 1,-7 1,2 1,-13 1,-15 1,7 1,33 1,-19 1,-31 1,-5 1,1 1,25 1,16 1,-5 1,-6 1,11 1,12 1,-18 1,-25 1,-10 1,-9 1,11 1,0 1,13 1,-6 1,-3 1,-5 1,3 1,-1 1,7 1,12 1,4 1,-3 1,-27 1,-16 1,-15 1,18 1,-1 1,12 1,-9 1,5 1,1 1,0 1,16 1,5 1,-2 1,-12 1,-10 1,251 1,-7 1,-10 1,68 1,106 1,112 1,93 1,50 1,58 1,40 1,42 1,38 1,40 1,41 1,-9 1,-2 1,-3 1,22 1,-7 1,-4 1,10 1,-2 1,5 1,6 1,4 1,2 1,-32 1,4 1,-4 1,64 1,-13 1,0 1,-23 1,12 1,-25 1,-4 1,-19 1,21 1,20 1,13 1,-6 1,-14 1,-11 1,-19 1,-29 1,-23 1,-14 1,-13 1,0 1,-2 1,1 1,-16 1,-15 1,-18 1,-18 1,-17 1,3 1,-14 1,-22 1,-33 1,-8 1,-6 1,-8 1,-17 1,-26 1,-20 1,-4 1,-7 1,-10 1,-21 1,-15 1,-10 1,-40 1,-8 1,-17 1,1 1,-15 1,-14 1,-26 1,6 1,-11 1,24 1,-15 1,-2 1,-10 1,-14 1,-9 1,-23 1,5 1,-23 1,8 1,-3 1,2 1,-21 1,-9 1,-19 1,4 1,-12 1,12 1,3 1,-4 1,-25 1,-20 1,-8 1,-3 1,-2 1,-1 1,-6 1,-13 1,-21 1,-4 1,17 1,6 1,4 1,-18 1,-14 1,-7 1,-2 1,9 1,12 1,-4 1,19 1,-2 1,15 1,-29 1,1 1,-2 1,-19 1,-14 1,-23 1,2 1,6 1,-4 1,11 1,10 1,14 1,-10 1,-14 1,6 1,-10 1,10 1,-4 1,-1 1,-21 1,-21 1,19 1,4 1,-6 1,-7 1,-9 1,14 1,-4 1,-13 1,-6 1,8 1,-3 1,0 1,-4 1,0 1,-1 1,15 1,-4 1,-9 1,-18 1,-11 1,12 1,6 1,23 1,-7 1,-14 1,-13 1,-20 1,1 1,20 1,24 1,-10 1,-13 1,0 1,-14 1,11 1,-5 1,22 1,-5 1,-7 1,-8 1,14 1,15 1,-12 1,-27 1,-5 1,13 1,-5 1,4 1,-19 1,16 1,4 1,8 1,-10 1,-15 1,7 1,9" stroke="#ee9494" stroke-width="1.6" transform="translate(107.40,1120.5) scale(3.600,-0.28133)" vector-effect="non-scaling-stroke"/>
<path d="M0,61l1,-8 1,-5 1,-4 1,15 1,-14 1,-30 1,-18 1,26 1,-18 1,-18 1,4 1,12 1,15 1,-3 1,5 1,10 1,-8 1,-18 1,-21 1,7 1,5 1,-8 1,21 1,-6 1,0 1,3 1,8 1,2 1,-27 1,-24 1,-10 1,17 1,15 1,5 1,-10 1,-12 1,-2 1,-4 1,3 1,-8 1,0 1,18 1,18 1,-3 1,7 1,-4 1,7 1,-19 1,14 1,238 1,-29 1,-64 1,41 1,93 1,101 1,82 1,49 1,75 1,76 1,64 1,40 1,51 1,55 1,33 1,11 1,20 1,22 1,12 1,-9 1,-7 1,-26 1,5 1,45 1,34 1,-4 1,-37 1,2 1,26 1,42 1,-13 1,-12 1,1 1,1 1,-24 1,-27 1,-28 1,5 1,-6 1,1 1,-28 1,-17 1,-16 1,-24 1,-9 1,-25 1,-7 1,-8 1,-6 1,-22 1,-36 1,-14 1,-20 1,-11 1,-26 1,-7 1,0 1,-17 1,-17 1,-31 1,-15 1,-28 1,-1 1,-1 1,-15 1,-38 1,-21 1,23 1,-2 1,-29 1,-28 1,-11 1,-9 1,-17 1,7 1,-5 1,-6 1,-21 1,-17 1,-11 1,-12 1,0 1,-16 1,-12 1,6 1,0 1,-5 1,-8 1,-6 1,-9 1,-5 1,2 1,-15 1,-9 1,-15 1,-5 1,-17 1,-3 1,20 1,-4 1,1 1,-40 1,5 1,3 1,9 1,-11 1,-8 1,5 1,4 1,8 1,-8 1,-12 1,-16 1,-1 1,5 1,-11 1,-6 1,-20 1,1 1,-7 1,9 1,-5 1,21 1,14 1,-11 1,-13 1,11 1,0 1,-1 1,-33 1,-12 1,-9 1,-1 1,-5 1,27 1,11 1,-22 1,-20 1,-24 1,35 1,2 1,21 1,-13 1,6 1,-1 1,-5 1,-11 1,-28 1,16 1,-21 1,25 1,-12 1,1 1,-3 1,9 1,3 1,-5 1,-2 1,-23 1,-4 1,8 1,13 1,-8 1,-13 1,10 1,4 1,6 1,-8 1,-8 1,-10 1,11 1,-8 1,2 1,-3 1,19 1,-14 1,-18 1,0 1,4 1,3 1,7 1,-1 1,6 1,-7 1,-5 1,7 1,-9 1,10 1,-10 1,-2 1,-6 1,4 1,15 1,-8 1,0 1,-4 1,-2 1,12 1,-8 1,-4 1,-7" stroke="#ee9494" stroke-width="1.6" transform="translate(107.40,1120.5) scale(3.600,-0.28133)" vector-effect="non-scaling-stroke"/>
<path d="M0,46l1,-12 1,-6 1,17 1,23 1,-21 1,-33 1,-14 1,19 1,-24 1,-23 1,29 1,9 1,7 1,-20 1,2 1,6 1,15 1,10 1,-11 1,-16 1,-8 1,-2 1,15 1,-13 1,6 1,-5 1,-13 1,-17 1,14 1,5 1,-1 1,9 1,17 1,5 1,-20 1,-11 1,-9 1,-2 1,-5 1,-3 1,-2 1,12 1,11 1,1 1,5 1,4 1,-7 1,-13 1,4 1,253 1,6 1,-38 1,61 1,100 1,121 1,101 1,51 1,79 1,63 1,58 1,32 1,45 1,40 1,33 1,19 1,24 1,9 1,-12 1,-1 1,-2 1,-30 1,-2 1,40 1,29 1,0 1,-48 1,-12 1,-9 1,25 1,-14 1,-19 1,-24 1,-12 1,-24 1,-3 1,-19 1,-14 1,1 1,-5 1,-19 1,-22 1,-9 1,-19 1,-26 1,-16 1,-12 1,-15 1,-22 1,-6 1,-5 1,-39 1,-25 1,-15 1,18 1,-3 1,-18 1,-29 1,-18 1,-16 1,-20 1,-14 1,-7 1,-4 1,-29 1,-14 1,-32 1,8 1,-20 1,6 1,-11 1,-17 1,-10 1,-20 1,15 1,-18 1,-18 1,-15 1,-7 1,1 1,-26 1,0 1,-12 1,-4 1,-21 1,-5 1,-7 1,4 1,-4 1,-16 1,7 1,11 1,-7 1,-30 1,-18 1,-17 1,5 1,-3 1,12 1,9 1,9 1,-8 1,-19 1,-10 1,0 1,-13 1,-16 1,-14 1,-10 1,-8 1,10 1,3 1,15 1,-17 1,17 1,-15 1,5 1,-25 1,-5 1,-12 1,21 1,0 1,12 1,-6 1,-13 1,6 1,-11 1,-9 1,-7 1,-7 1,7 1,-12 1,10 1,-3 1,2 1,-19 1,-10 1,-5 1,12 1,12 1,13 1,0 1,-4 1,2 1,-14 1,10 1,6 1,-6 1,-4 1,-10 1,2 1,-3 1,-12 1,5 1,7 1,-5 1,8 1,4 1,-18 1,17 1,2 1,2 1,-27 1,-23 1,12 1,11 1,1 1,-6 1,-7 1,9 1,-3 1,2 1,8 1,-5 1,9 1,-43 1,11 1,-16 1,11 1,0 1,1 1,9 1,16 1,11 1,4 1,-10 1,-11 1,-4 1,-4 1,16 1,-13 1,-9 1,-13 1,1 1,3 1,4 1,2 1,-11 1,-6 1,-8 1,13" stroke="#75bb7e" stroke-width="1.5" transform="translate(107.40,1120.5) scale(3.600,-0.28133)" vector-effect="non-scaling-stroke"/>
<path d="M0,66l1,-15 1,-6 1,-3 1,22 1,-13 1,-27 1,-5 1,22 1,-31 1,-31 1,3 1,26 1,2 1,-1 1,-5 1,4 1,13 1,8 1,-13 1,-13 1,-19 1,-13 1,8 1,13 1,22 1,-6 1,-4 1,-7 1,-2 1,-10 1,-15 1,14 1,16 1,18 1,-1 1,-25 1,-10 1,-22 1,0 1,-1 1,-17 1,0 1,10 1,25 1,5 1,-2 1,7 1,12 1,-6 1,232 1,-63 1,-69 1,14 1,79 1,85 1,70 1,30 1,80 1,57 1,58 1,23 1,45 1,48 1,24 1,34 1,27 1,27 1,-5 1,4 1,5 1,-11 1,-13 1,29 1,31 1,24 1,-20 1,3 1,0 1,32 1,-6 1,-3 1,7 1,-13 1,-23 1,-2 1,10 1,22 1,21 1,3 1,-6 1,-31 1,4 1,-40 1,-18 1,-51 1,7 1,1 1,16 1,-6 1,-17 1,-27 1,-30 1,-14 1,-6 1,10 1,-9 1,-12 1,-26 1,-25 1,-29 1,-12 1,-17 1,1 1,-13 1,-10 1,-2 1,-13 1,-8 1,-31 1,-6 1,-23 1,-8 1,-25 1,20 1,-10 1,-11 1,-19 1,-19 1,8 1,-9 1,-2 1,-13 1,-20 1,-3 1,-20 1,-8 1,-17 1,11 1,-26 1,-5 1,-9 1,7 1,4 1,-23 1,-11 1,-8 1,5 1,2 1,0 1,-1 1,-18 1,-22 1,-8 1,-8 1,-6 1,6 1,13 1,6 1,1 1,-1 1,4 1,-26 1,-11 1,7 1,-1 1,1 1,-13 1,-6 1,-12 1,1 1,-10 1,12 1,-1 1,-2 1,0 1,-19 1,-15 1,-4 1,25 1,9 1,2 1,-30 1,2 1,16 1,5 1,-11 1,-17 1,3 1,12 1,-20 1,-5 1,16 1,3 1,-1 1,-12 1,13 1,-5 1,-8 1,-31 1,-3 1,6 1,12 1,11 1,-2 1,-4 1,-1 1,3 1,10 1,-2 1,1 1,-13 1,-7 1,-6 1,0 1,-3 1,-2 1,10 1,8 1,-7 1,1 1,-19 1,24 1,-5 1,22 1,-34 1,-2 1,5 1,-17 1,-7 1,4 1,18 1,8 1,-20 1,6 1,-19 1,-8 1,-16 1,14 1,13 1,-13 1,1 1,5 1,13 1,-10 1,-8 1,10 1,19 1,4 1,-10 1,-10" stroke="#ee9494" stroke-width="1.6" transform="translate(107.40,1120.5) scale(3.600,-0.28133)" vector-effect="non-scaling-stroke"/>
<path d="M0,70l1,-10 1,5 1,-13 1,13 1,-9 1,-34 1,-26 1,13 1,-23 1,6 1,4 1,22 1,2 1,-5 1,-12 1,2 1,17 1,12 1,-9 1,-14 1,-31 1,-1 1,7 1,12 1,-13 1,-19 1,-19 1,-4 1,25 1,18 1,-1 1,0 1,15 1,10 1,-16 1,-23 1,-1 1,-2 1,-15 1,-6 1,1 1,37 1,8 1,7 1,-4 1,-4 1,-5 1,-8 1,1 1,242 1,-31 1,-55 1,36 1,87 1,93 1,88 1,27 1,69 1,57 1,51 1,46 1,49 1,47 1,15 1,12 1,35 1,32 1,-7 1,12 1,9 1,-2 1,-21 1,26 1,21 1,28 1,-24 1,0 1,-5 1,38 1,6 1,-12 1,-6 1,-9 1,-7 1,-16 1,-11 1,5 1,1 1,9 1,-29 1,4 1,-19 1,-20 1,-34 1,-16 1,8 1,-10 1,-26 1,-10 1,-29 1,-29 1,-30 1,-16 1,4 1,-22 1,-8 1,-12 1,-10 1,-9 1,-29 1,-23 1,-24 1,-16 1,-4 1,-4 1,7 1,-12 1,-19 1,-23 1,-4 1,-22 1,-6 1,-28 1,2 1,0 1,5 1,-14 1,-27 1,-4 1,4 1,-5 1,-18 1,-12 1,-24 1,-19 1,-16 1,-2 1,11 1,-10 1,15 1,-1 1,-11 1,-42 1,-27 1,-2 1,34 1,8 1,3 1,-18 1,-25 1,-9 1,-7 1,6 1,-5 1,-4 1,33 1,-26 1,-12 1,-29 1,11 1,10 1,7 1,9 1,-5 1,-24 1,-11 1,1 1,1 1,-19 1,11 1,-9 1,30 1,-16 1,6 1,-5 1,8 1,-4 1,-2 1,-38 1,-13 1,-9 1,22 1,0 1,10 1,-10 1,-14 1,4 1,12 1,10 1,-8 1,3 1,5 1,-24 1,-7 1,-6 1,10 1,-19 1,3 1,-12 1,7 1,-3 1,6 1,9 1,29 1,-4 1,2 1,-27 1,-4 1,-2 1,16 1,12 1,-13 1,-12 1,-25 1,-9 1,-2 1,15 1,-1 1,-4 1,6 1,2 1,1 1,-11 1,2 1,-5 1,15 1,18 1,5 1,-30 1,4 1,-8 1,31 1,-14 1,-1 1,-1 1,16 1,-12 1,-19 1,-3 1,1 1,-5 1,1 1,14 1,10 1,1 1,-2 1,3 1,-11 1,-20 1,-2" stroke="#ee9494" stroke-width="1.6" transform="translate(107.40,1120.5) scale(3.600,-0.28133)" vector-effect="non-scaling-stroke"/>
<path d="M0,55l1,7 1,-11 1,-1 1,1 1,-12 1,-21 1,-28 1,40 1,-24 1,-10 1,-12 1,14 1,17 1,-3 1,3 1,0 1,17 1,1 1,2 1,-16 1,-13 1,-20 1,9 1,-11 1,12 1,-2 1,3 1,-16 1,-21 1,-6 1,-5 1,38 1,18 1,14 1,-22 1,-7 1,-13 1,1 1,-14 1,-10 1,-16 1,9 1,28 1,42 1,12 1,-12 1,-29 1,2 1,4 1,256 1,-54 1,-81 1,-13 1,39 1,75 1,52 1,21 1,47 1,52 1,70 1,40 1,57 1,42 1,41 1,28 1,20 1,4 1,8 1,9 1,41 1,-2 1,-8 1,8 1,31 1,56 1,-24 1,-4 1,3 1,54 1,5 1,-18 1,9 1,-11 1,-13 1,-35 1,2 1,8 1,26 1,-3 1,-21 1,-24 1,-15 1,-13 1,-22 1,-24 1,-23 1,-11 1,1 1,-3 1,7 1,-27 1,-26 1,-36 1,-9 1,-10 1,-12 1,-14 1,0 1,-17 1,-23 1,-31 1,-3 1,8 1,-14 1,-15 1,-29 1,-11 1,-14 1,-16 1,-1 1,1 1,-8 1,-19 1,0 1,-3 1,9 1,-49 1,-12 1,-25 1,14 1,1 1,8 1,-7 1,-3 1,-25 1,-9 1,-9 1,-6 1,-2 1,-8 1,15 1,-21 1,-5 1,-5 1,1 1,-9 1,-3 1,0 1,0 1,-7 1,-12 1,-3 1,4 1,9 1,-7 1,-10 1,-24 1,-12 1,5 1,-2 1,13 1,-19 1,1 1,2 1,3 1,-1 1,-6 1,-7 1,6 1,15 1,-1 1,-3 1,-20 1,-15 1,4 1,12 1,-15 1,-3 1,-22 1,14 1,-5 1,-15 1,-24 1,13 1,7 1,21 1,-4 1,1 1,-7 1,-7 1,1 1,-2 1,-13 1,-1 1,7 1,-9 1,-3 1,4 1,5 1,0 1,4 1,9 1,7 1,-2 1,-23 1,4 1,1 1,-3 1,1 1,2 1,8 1,-9 1,-5 1,-15 1,1 1,-25 1,19 1,-9 1,18 1,14 1,5 1,11 1,-8 1,16 1,-27 1,-6 1,-14 1,21 1,-4 1,6 1,-2 1,15 1,-6 1,-6 1,-7 1,20 1,-15 1,-1 1,-20 1,10 1,-9 1,7 1,-4 1,1 1,-3 1,-7 1,10 1,2 1,-15 1,-3" stroke="#ee9494" stroke-width="1.6" transform="translate(107.40,1120.5) scale(3.600,-0.28133)" vector-effect="non-scaling-stroke"/>
<path d="M0,69l1,-19 1,-20 1,6 1,12 1,-2 1,-31 1,13 1,15 1,-11 1,-42 1,15 1,11 1,24 1,2 1,1 1,-5 1,8 1,-16 1,-5 1,-15 1,3 1,-9 1,-1 1,-12 1,-3 1,6 1,3 1,-1 1,-23 1,-2 1,-18 1,38 1,22 1,16 1,-24 1,-28 1,-12 1,5 1,-25 1,8 1,-16 1,34 1,3 1,10 1,20 1,9 1,0 1,-32 1,-1 1,237 1,-63 1,-103 1,-11 1,33 1,64 1,54 1,16 1,36 1,49 1,39 1,31 1,41 1,62 1,36 1,23 1,27 1,33 1,-3 1,2 1,10 1,7 1,35 1,41 1,42 1,8 1,-2 1,15 1,27 1,53 1,12 1,-3 1,8 1,-16 1,-8 1,-11 1,27 1,24 1,32 1,7 1,10 1,-14 1,-6 1,-20 1,-16 1,9 1,13 1,18 1,-9 1,-21 1,-12 1,-13 1,-30 1,-9 1,-20 1,7 1,-27 1,0 1,-6 1,-11 1,-33 1,-15 1,-23 1,-10 1,-38 1,3 1,-28 1,3 1,-16 1,-19 1,-17 1,-20 1,4 1,-15 1,-5 1,-21 1,1 1,-22 1,-11 1,-25 1,-8 1,-8 1,2 1,-20 1,-11 1,-14 1,-7 1,7 1,-8 1,-18 1,-26 1,-3 1,-1 1,6 1,-20 1,-5 1,-10 1,-2 1,-7 1,-18 1,14 1,-22 1,-1 1,-9 1,3 1,9 1,-19 1,-10 1,-6 1,-3 1,4 1,-11 1,20 1,3 1,15 1,-25 1,-22 1,-19 1,-9 1,21 1,9 1,-5 1,-15 1,-7 1,-5 1,7 1,-12 1,-22 1,-4 1,-1 1,-1 1,0 1,-6 1,-3 1,-7 1,0 1,3 1,-5 1,1 1,-13 1,9 1,-10 1,17 1,-12 1,7 1,-10 1,9 1,-16 1,19 1,-16 1,12 1,-22 1,0 1,1 1,19 1,7 1,-3 1,2 1,-24 1,-9 1,2 1,13 1,8 1,-3 1,-5 1,-9 1,-7 1,-15 1,11 1,13 1,21 1,-16 1,-8 1,-20 1,17 1,-22 1,15 1,-19 1,3 1,-19 1,4 1,8 1,20 1,-4 1,-17 1,-16 1,15 1,-3 1,17 1,-5 1,-5 1,-5 1,4 1,11 1,-17 1,-3 1,6 1,10 1,-13 1,-6 1,3" stroke="#ee9494" stroke-width="1.6" transform="translate(107.40,1120.5) scale(3.600,-0.28133)" vector-effect="non-scaling-stroke"/>
<path d="M0,61l1,-12 1,-1 1,-19 1,27 1,-13 1,-8 1,-23 1,13 1,-21 1,-12 1,16 1,10 1,11 1,-13 1,-18 1,0 1,13 1,4 1,-21 1,-10 1,-6 1,-16 1,4 1,22 1,15 1,-3 1,-10 1,1 1,-2 1,-5 1,-4 1,13 1,1 1,6 1,-5 1,2 1,-21 1,-12 1,-20 1,-8 1,2 1,22 1,19 1,18 1,11 1,14 1,-15 1,-3 1,-14 1,247 1,-34 1,-63 1,32 1,68 1,121 1,77 1,46 1,61 1,55 1,58 1,41 1,56 1,38 1,27 1,18 1,22 1,11 1,1 1,13 1,-12 1,-23 1,-7 1,38 1,15 1,11 1,-31 1,8 1,7 1,35 1,-10 1,-28 1,13 1,15 1,12 1,-29 1,-25 1,1 1,50 1,22 1,-17 1,-19 1,-8 1,1 1,-21 1,-4 1,-3 1,6 1,-5 1,-13 1,-10 1,-6 1,-12 1,-20 1,-8 1,2 1,19 1,-24 1,-25 1,-46 1,-8 1,4 1,-8 1,-26 1,-28 1,-15 1,-13 1,-19 1,-8 1,-5 1,-13 1,-9 1,-30 1,-10 1,-31 1,-18 1,-9 1,-7 1,0 1,-10 1,6 1,-8 1,-9 1,-25 1,-20 1,-25 1,-19 1,-7 1,-4 1,-6 1,3 1,-3 1,-26 1,-16 1,-5 1,16 1,-1 1,-13 1,-18 1,8 1,6 1,9 1,-5 1,-17 1,-20 1,-21 1,8 1,-3 1,-10 1,-10 1,-22 1,-6 1,-8 1,13 1,-4 1,-1 1,-4 1,-1 1,-9 1,-7 1,-3 1,-8 1,0 1,7 1,-7 1,13 1,-22 1,0 1,-11 1,1 1,-15 1,-5 1,-1 1,-4 1,0 1,-5 1,10 1,-1 1,-7 1,-7 1,-12 1,27 1,-8 1,8 1,-23 1,-5 1,-1 1,-3 1,23 1,-9 1,4 1,-7 1,-7 1,-1 1,11 1,-9 1,11 1,-16 1,-17 1,-9 1,26 1,22 1,-18 1,-21 1,-11 1,11 1,-1 1,-12 1,-4 1,-10 1,14 1,-16 1,-6 1,-4 1,24 1,9 1,8 1,3 1,-17 1,-18 1,-3 1,12 1,15 1,-1 1,-7 1,-8 1,-9 1,-13 1,1 1,7 1,13 1,18 1,-1 1,-3 1,-9 1,6 1,4 1,-5 1,-2 1,5 1,1" stroke="#ee9494" stroke-width="1.6" transform="translate(107.40,1120.5) scale(3.600,-0.28133)" vector-effect="non-scaling-stroke"/>
<path d="M0,71l1,-13 1,-11 1,3 1,15 1,-12 1,-30 1,-5 1,18 1,-17 1,-28 1,24 1,8 1,15 1,-9 1,1 1,-10 1,1 1,5 1,8 1,-25 1,-24 1,-21 1,19 1,17 1,14 1,-2 1,-19 1,-1 1,-23 1,4 1,-10 1,32 1,8 1,8 1,-6 1,-19 1,-2 1,-11 1,2 1,-32 1,-15 1,8 1,28 1,26 1,-2 1,18 1,-8 1,9 1,-11 1,229 1,-55 1,-77 1,29 1,77 1,102 1,87 1,43 1,53 1,48 1,58 1,49 1,64 1,46 1,21 1,20 1,29 1,27 1,-19 1,5 1,22 1,12 1,11 1,22 1,15 1,4 1,-4 1,12 1,0 1,20 1,-22 1,7 1,17 1,5 1,-23 1,-8 1,-13 1,21 1,13 1,29 1,-24 1,-26 1,-18 1,-7 1,-38 1,-38 1,-46 1,1 1,13 1,1 1,-12 1,-31 1,-11 1,-15 1,-11 1,-23 1,-21 1,-13 1,-12 1,-5 1,-32 1,-14 1,-25 1,-2 1,-32 1,-8 1,-24 1,12 1,-12 1,-13 1,-11 1,-8 1,4 1,-13 1,-18 1,-10 1,-30 1,-17 1,-22 1,-9 1,6 1,-6 1,2 1,-38 1,-16 1,-1 1,9 1,-4 1,-19 1,-13 1,-7 1,-6 1,2 1,-2 1,8 1,-20 1,4 1,0 1,-1 1,-13 1,-14 1,-2 1,0 1,-10 1,-3 1,-6 1,11 1,-3 1,-2 1,-3 1,-17 1,0 1,1 1,4 1,-6 1,-20 1,-13 1,-3 1,-9 1,6 1,-1 1,8 1,2 1,0 1,-12 1,-4 1,20 1,-15 1,8 1,-16 1,-4 1,-12 1,-28 1,13 1,3 1,26 1,-8 1,-2 1,-9 1,0 1,0 1,-16 1,-6 1,-4 1,-18 1,-7 1,-13 1,9 1,9 1,3 1,25 1,6 1,9 1,-12 1,-1 1,-17 1,-2 1,5 1,-6 1,2 1,2 1,-6 1,-16 1,-16 1,1 1,30 1,18 1,2 1,-26 1,-5 1,9 1,-8 1,-2 1,0 1,15 1,-11 1,-4 1,-2 1,-14 1,-5 1,-1 1,12 1,6 1,-5 1,-16 1,1 1,24 1,10 1,-17 1,-16 1,-2 1,12 1,1 1,-13 1,2 1,-2 1,2 1,8 1,8 1,7 1,-6" stroke="#ee9494" stroke-width="1.6" transform="translate(107.40,1120.5) scale(3.600,-0.28133)" vector-effect="non-scaling-stroke"/>
<path d="M0,33l1,-16 1,-6 1,10 1,19 1,10 1,-17 1,-20 1,6 1,-30 1,-17 1,4 1,16 1,29 1,-3 1,-12 1,-10 1,21 1,2 1,-3 1,-2 1,1 1,-11 1,-17 1,11 1,-22 1,8 1,-17 1,3 1,0 1,-1 1,16 1,14 1,-5 1,-4 1,-21 1,1 1,4 1,6 1,-1 1,-10 1,-6 1,12 1,11 1,2 1,2 1,-8 1,-2 1,-1 1,14 1,250 1,8 1,-34 1,52 1,60 1,122 1,91 1,74 1,65 1,56 1,50 1,12 1,50 1,31 1,18 1,9 1,19 1,29 1,-24 1,-4 1,-26 1,-16 1,-10 1,33 1,32 1,10 1,-30 1,-10 1,-7 1,54 1,-10 1,9 1,-18 1,14 1,-14 1,-3 1,-18 1,-12 1,26 1,11 1,2 1,-12 1,1 1,-5 1,-15 1,-20 1,1 1,-18 1,-2 1,-31 1,3 1,-17 1,4 1,-27 1,-18 1,-26 1,4 1,5 1,-18 1,-30 1,-39 1,-21 1,-7 1,-6 1,-7 1,-15 1,-13 1,-24 1,-13 1,-36 1,3 1,-28 1,0 1,-28 1,3 1,-7 1,5 1,-29 1,-24 1,-22 1,-2 1,-9 1,-18 1,-7 1,-3 1,-4 1,-25 1,-13 1,-8 1,-5 1,-3 1,4 1,-5 1,-12 1,-1 1,-18 1,5 1,-27 1,-7 1,-7 1,11 1,-8 1,-14 1,-11 1,1 1,-5 1,-7 1,-6 1,0 1,8 1,-1 1,-1 1,-6 1,-9 1,2 1,3 1,-8 1,-8 1,-16 1,-14 1,-13 1,-15 1,12 1,25 1,-5 1,16 1,-21 1,8 1,-13 1,4 1,-23 1,-3 1,-18 1,16 1,7 1,12 1,-13 1,-13 1,-17 1,0 1,18 1,-10 1,11 1,-25 1,-2 1,-11 1,10 1,-16 1,14 1,-8 1,32 1,-24 1,-1 1,-10 1,10 1,-3 1,11 1,-10 1,-40 1,-19 1,20 1,35 1,5 1,-12 1,-14 1,5 1,0 1,5 1,-2 1,0 1,13 1,-10 1,15 1,-6 1,13 1,-30 1,-11 1,-12 1,6 1,5 1,19 1,4 1,5 1,-15 1,-20 1,-7 1,8 1,6 1,-3 1,-2 1,-15 1,-5 1,20 1,17 1,5 1,-18 1,-6 1,7 1,-15 1,3 1,-4" stroke="#ee9494" stroke-width="1.6" transform="translate(107.40,1120.5) scale(3.600,-0.28133)" vector-effect="non-scaling-stroke"/>
<path d="M0,59l1,-9 1,-17 1,4 1,11 1,22 1,-36 1,-11 1,-6 1,-15 1,-21 1,21 1,19 1,26 1,-7 1,-18 1,-9 1,1 1,20 1,-5 1,-14 1,-32 1,-21 1,24 1,3 1,9 1,-8 1,-4 1,-7 1,4 1,12 1,-16 1,3 1,3 1,32 1,-21 1,-13 1,-11 1,-4 1,-6 1,-10 1,7 1,7 1,33 1,10 1,5 1,-25 1,-21 1,5 1,9 1,260 1,-52 1,-95 1,-3 1,51 1,90 1,60 1,22 1,56 1,58 1,57 1,32 1,62 1,48 1,26 1,18 1,29 1,28 1,10 1,7 1,11 1,-10 1,10 1,30 1,32 1,1 1,-5 1,-8 1,15 1,29 1,-5 1,7 1,-1 1,-8 1,-24 1,-2 1,5 1,8 1,5 1,19 1,-11 1,-5 1,-38 1,-11 1,-34 1,-3 1,-11 1,-3 1,-1 1,1 1,-8 1,-34 1,-26 1,-22 1,-2 1,-5 1,-5 1,-16 1,-28 1,-28 1,-20 1,-28 1,1 1,-9 1,-1 1,-8 1,-3 1,-8 1,-15 1,-14 1,-16 1,-13 1,-10 1,-12 1,-6 1,-30 1,-15 1,-17 1,-5 1,3 1,-9 1,-5 1,-12 1,-13 1,1 1,-13 1,-8 1,3 1,4 1,-12 1,-19 1,1 1,1 1,-13 1,-17 1,5 1,-5 1,13 1,-16 1,1 1,-18 1,-14 1,-2 1,2 1,-17 1,5 1,-1 1,4 1,-27 1,4 1,-10 1,14 1,-9 1,4 1,7 1,-28 1,-13 1,-25 1,0 1,25 1,5 1,18 1,-4 1,19 1,-18 1,-2 1,-19 1,-6 1,10 1,15 1,-16 1,-20 1,-34 1,-4 1,14 1,18 1,21 1,-7 1,-11 1,-10 1,17 1,4 1,-3 1,-20 1,-3 1,8 1,2 1,-3 1,16 1,2 1,5 1,-16 1,-28 1,-5 1,-7 1,4 1,10 1,12 1,-21 1,5 1,0 1,1 1,-20 1,-18 1,9 1,4 1,3 1,11 1,-4 1,17 1,-7 1,-13 1,9 1,1 1,27 1,-38 1,3 1,7 1,7 1,-3 1,-14 1,5 1,6 1,4 1,-16 1,-4 1,3 1,-5 1,-14 1,-3 1,-3 1,10 1,-4 1,-2 1,16 1,-11 1,19 1,-19 1,6 1,-5 1,8" stroke="#ee9494" stroke-width="1.6" transform="translate(107.40,1120.5) scale(3.600,-0.28133)" vector-effect="non-scaling-stroke"/>
<path d="M0,72l1,-7 1,-21 1,-18 1,23 1,-5 1,-26 1,-16 1,32 1,-13 1,-18 1,2 1,13 1,-9 1,13 1,-3 1,20 1,-18 1,10 1,-31 1,-5 1,-10 1,15 1,19 1,-1 1,-17 1,-6 1,-9 1,10 1,-6 1,12 1,-7 1,7 1,2 1,4 1,-11 1,-22 1,-7 1,-6 1,0 1,-15 1,-3 1,15 1,17 1,4 1,18 1,5 1,15 1,-19 1,10 1,238 1,-5 1,-36 1,58 1,100 1,126 1,85 1,38 1,54 1,47 1,41 1,32 1,34 1,31 1,10 1,6 1,2 1,-8 1,-3 1,8 1,0 1,-31 1,-6 1,25 1,28 1,0 1,-7 1,-30 1,1 1,30 1,18 1,21 1,-5 1,6 1,-27 1,-23 1,-36 1,-3 1,21 1,22 1,-19 1,-15 1,-20 1,-16 1,-29 1,-15 1,-16 1,-16 1,-5 1,17 1,-24 1,-43 1,-44 1,1 1,14 1,-13 1,-5 1,-18 1,3 1,-25 1,-26 1,-28 1,-11 1,-6 1,-12 1,-3 1,-11 1,-7 1,-14 1,-14 1,-9 1,-28 1,-12 1,-11 1,4 1,-12 1,-16 1,-2 1,-10 1,-4 1,-21 1,-14 1,-2 1,-4 1,-4 1,-16 1,-12 1,-4 1,15 1,-9 1,0 1,-12 1,-24 1,-3 1,-14 1,16 1,-1 1,-6 1,3 1,-11 1,1 1,-13 1,5 1,-6 1,-13 1,-18 1,-4 1,-10 1,1 1,-12 1,3 1,-11 1,13 1,9 1,9 1,-12 1,-4 1,-22 1,-2 1,-7 1,7 1,-1 1,-4 1,25 1,-4 1,11 1,-32 1,-15 1,9 1,15 1,-9 1,-21 1,-29 1,6 1,-1 1,8 1,-13 1,4 1,-5 1,-10 1,12 1,12 1,24 1,-34 1,0 1,4 1,16 1,-11 1,9 1,-10 1,-1 1,-3 1,-8 1,4 1,2 1,-15 1,10 1,-15 1,-12 1,-2 1,30 1,28 1,-11 1,-34 1,-20 1,0 1,5 1,16 1,10 1,12 1,2 1,-13 1,-21 1,1 1,5 1,-10 1,-6 1,-2 1,9 1,-6 1,16 1,1 1,5 1,0 1,-10 1,0 1,-15 1,4 1,-3 1,10 1,-8 1,5 1,-14 1,-2 1,-15 1,4 1,11 1,12 1,0 1,-7 1,2" stroke="#ee9494" stroke-width="1.6" transform="translate(107.40,1120.5) scale(3.600,-0.28133)" vector-effect="non-scaling-stroke"/>
<path d="M0,63l1,-21 1,-17 1,7 1,11 1,9 1,-33 1,8 1,16 1,-21 1,-43 1,0 1,5 1,37 1,-9 1,-8 1,-7 1,30 1,2 1,-20 1,-17 1,-17 1,3 1,-8 1,9 1,-1 1,-1 1,8 1,0 1,13 1,-7 1,-9 1,-4 1,12 1,19 1,-19 1,-9 1,-20 1,12 1,-8 1,6 1,-3 1,6 1,7 1,6 1,10 1,2 1,0 1,-1 1,1 1,228 1,-3 1,-39 1,85 1,96 1,148 1,118 1,59 1,70 1,40 1,50 1,23 1,40 1,55 1,17 1,-12 1,-12 1,-4 1,5 1,-8 1,-6 1,-38 1,-18 1,4 1,0 1,-28 1,-38 1,-21 1,7 1,3 1,-35 1,-29 1,-13 1,-4 1,-51 1,-36 1,-46 1,-2 1,-3 1,3 1,-19 1,-20 1,-42 1,-22 1,-31 1,-16 1,-33 1,-13 1,4 1,-4 1,-25 1,-24 1,-18 1,19 1,-21 1,15 1,-12 1,1 1,-20 1,-27 1,-8 1,-33 1,-8 1,-20 1,-12 1,-11 1,-5 1,12 1,5 1,-5 1,-12 1,-16 1,-21 1,-4 1,0 1,11 1,-16 1,-28 1,-10 1,10 1,25 1,8 1,4 1,-15 1,-1 1,-18 1,-7 1,0 1,25 1,-7 1,-20 1,-10 1,-13 1,1 1,-18 1,-4 1,11 1,6 1,3 1,-8 1,-10 1,3 1,-6 1,-3 1,-14 1,-4 1,9 1,-3 1,-2 1,-2 1,24 1,8 1,-25 1,-19 1,-9 1,17 1,10 1,5 1,-25 1,-9 1,1 1,20 1,15 1,-6 1,-1 1,-17 1,2 1,-10 1,33 1,-8 1,-20 1,-18 1,-7 1,27 1,-5 1,4 1,-6 1,-2 1,12 1,-15 1,14 1,-8 1,24 1,-28 1,-19 1,-13 1,11 1,20 1,13 1,-2 1,-2 1,18 1,-18 1,13 1,-18 1,12 1,-10 1,5 1,-27 1,-11 1,-2 1,8 1,6 1,-3 1,5 1,9 1,-8 1,9 1,-11 1,20 1,2 1,-9 1,-24 1,8 1,1 1,-13 1,-11 1,-5 1,-1 1,9 1,27 1,3 1,2 1,1 1,15 1,-15 1,-1 1,-22 1,2 1,2 1,3 1,-2 1,-13 1,-4 1,-8 1,2 1,2 1,21 1,14 1,-7 1,-6" stroke="#75bb7e" stroke-width="1.5" transform="translate(107.40,1120.5) scale(3.600,-0.28133)" vector-effect="non-scaling-stroke"/>
<path d="M0,86l1,-6 1,-11 1,-4 1,10 1,-13 1,-42 1,-16 1,2 1,-7 1,-13 1,7 1,22 1,15 1,-15 1,-13 1,-10 1,21 1,-5 1,12 1,-8 1,3 1,-25 1,26 1,2 1,-2 1,-9 1,4 1,0 1,-6 1,-26 1,-18 1,12 1,19 1,27 1,-21 1,-22 1,-15 1,-4 1,0 1,-5 1,-6 1,17 1,7 1,-6 1,5 1,21 1,20 1,2 1,-12 1,229 1,-61 1,-72 1,28 1,84 1,104 1,70 1,32 1,47 1,75 1,66 1,55 1,56 1,46 1,39 1,28 1,44 1,21 1,-3 1,-23 1,22 1,-24 1,24 1,26 1,48 1,14 1,-20 1,-17 1,15 1,18 1,11 1,1 1,16 1,8 1,-34 1,-14 1,-18 1,13 1,26 1,13 1,-4 1,-30 1,-6 1,-30 1,-29 1,-27 1,-14 1,3 1,-2 1,4 1,-12 1,-26 1,-5 1,-15 1,-26 1,-20 1,-29 1,6 1,-12 1,-20 1,-31 1,-38 1,-6 1,-16 1,-3 1,-9 1,-15 1,-35 1,-18 1,-16 1,21 1,-14 1,-6 1,-35 1,-23 1,-13 1,-20 1,10 1,-10 1,22 1,-21 1,-14 1,-11 1,-4 1,-4 1,-22 1,-23 1,-11 1,-6 1,-10 1,-8 1,-8 1,-10 1,-15 1,-4 1,4 1,-1 1,-2 1,-13 1,-1 1,-6 1,-20 1,4 1,-9 1,2 1,-9 1,14 1,-1 1,-3 1,-24 1,-12 1,-9 1,11 1,12 1,-1 1,-6 1,-12 1,8 1,-23 1,-2 1,-11 1,2 1,8 1,7 1,-14 1,-10 1,-17 1,-4 1,10 1,3 1,-4 1,2 1,-14 1,-11 1,8 1,16 1,5 1,-14 1,-34 1,4 1,-21 1,26 1,6 1,6 1,-14 1,-8 1,-1 1,-13 1,12 1,-6 1,3 1,8 1,-17 1,12 1,-17 1,-6 1,5 1,14 1,12 1,-6 1,8 1,0 1,-11 1,-34 1,8 1,23 1,21 1,-11 1,-15 1,-3 1,2 1,-8 1,-9 1,8 1,0 1,-29 1,-2 1,9 1,22 1,-11 1,6 1,8 1,4 1,-13 1,-23 1,9 1,7 1,-1 1,-14 1,9 1,5 1,8 1,-12 1,12 1,24 1,6 1,-14 1,-38 1,5 1,-9 1,10" stroke="#ee9494" stroke-width="1.6" transform="translate(107.40,1120.5) scale(3.600,-0.28133)" vector-effect="non-scaling-stroke"/>
<path d="M0,73l1,-20 1,-28 1,8 1,19 1,-9 1,-27 1,-7 1,20 1,-12 1,-14 1,5 1,21 1,10 1,10 1,-30 1,-9 1,10 1,6 1,-4 1,-25 1,1 1,-6 1,0 1,-8 1,-6 1,30 1,7 1,-5 1,-26 1,-15 1,-1 1,14 1,12 1,1 1,-10 1,4 1,11 1,2 1,-18 1,-12 1,-11 1,16 1,13 1,6 1,-1 1,-3 1,-5 1,2 1,-3 1,255 1,-45 1,-78 1,16 1,33 1,64 1,50 1,42 1,66 1,74 1,49 1,44 1,57 1,58 1,48 1,19 1,28 1,26 1,-13 1,21 1,21 1,5 1,17 1,25 1,33 1,15 1,0 1,17 1,3 1,32 1,2 1,6 1,2 1,-9 1,-8 1,9 1,18 1,9 1,7 1,2 1,-21 1,-6 1,-14 1,2 1,-27 1,1 1,-22 1,3 1,-22 1,1 1,-8 1,-14 1,-25 1,-16 1,-16 1,-2 1,-19 1,-21 1,-22 1,-23 1,-17 1,-29 1,-6 1,-8 1,-12 1,-18 1,-26 1,-17 1,-24 1,-16 1,-16 1,-16 1,-18 1,-16 1,-12 1,6 1,-6 1,-14 1,-41 1,2 1,-14 1,-7 1,-26 1,-3 1,-7 1,-17 1,-14 1,-1 1,-10 1,-13 1,-6 1,8 1,-25 1,-7 1,1 1,-2 1,-7 1,-1 1,10 1,-3 1,-24 1,-18 1,-14 1,12 1,1 1,-3 1,0 1,3 1,-5 1,-14 1,-24 1,5 1,-6 1,-9 1,3 1,-13 1,13 1,-16 1,2 1,1 1,-1 1,3 1,8 1,-5 1,2 1,-6 1,9 1,-37 1,-12 1,-10 1,-10 1,-5 1,-16 1,39 1,10 1,1 1,-45 1,-14 1,-2 1,5 1,13 1,14 1,14 1,-16 1,4 1,-12 1,16 1,-33 1,11 1,-38 1,15 1,-6 1,9 1,0 1,6 1,-4 1,-10 1,19 1,-15 1,12 1,-7 1,15 1,-2 1,-23 1,-9 1,-16 1,27 1,1 1,1 1,-2 1,4 1,0 1,-16 1,-10 1,10 1,-13 1,6 1,-6 1,-10 1,14 1,11 1,7 1,-24 1,-6 1,7 1,19 1,10 1,-14 1,-12 1,-14 1,4 1,17 1,9 1,0 1,-3 1,-6 1,4 1,8 1,-8 1,-13 1,-13" stroke="#ee9494" stroke-width="1.6" transform="translate(107.40,1120.5) scale(3.600,-0.28133)" vector-effect="non-scaling-stroke"/>
<path d="M0,42l1,-4 1,7 1,7 1,0 1,-17 1,-25 1,-14 1,26 1,-29 1,-17 1,6 1,37 1,15 1,-10 1,-32 1,11 1,16 1,17 1,-17 1,-11 1,-5 1,-12 1,-4 1,-6 1,4 1,14 1,-9 1,0 1,-8 1,-2 1,-3 1,9 1,5 1,15 1,-23 1,-1 1,-27 1,-10 1,-8 1,20 1,29 1,35 1,9 1,-2 1,-7 1,-3 1,-19 1,-13 1,0 1,252 1,94 1,63 1,129 1,171 1,137 1,109 1,16 1,58 1,15 1,31 1,10 1,18 1,1 1,-8 1,19 1,-2 1,-4 1,-34 1,0 1,-8 1,-38 1,-14 1,31 1,28 1,-3 1,-34 1,-12 1,6 1,20 1,-16 1,-30 1,-3 1,-6 1,-25 1,-23 1,-30 1,9 1,-4 1,-4 1,-44 1,-30 1,-20 1,-24 1,-20 1,-11 1,2 1,-8 1,-11 1,-18 1,-20 1,-23 1,-22 1,-6 1,-23 1,0 1,-9 1,-13 1,-10 1,-16 1,-36 1,-12 1,-38 1,30 1,-38 1,-17 1,-44 1,1 1,-4 1,-8 1,-7 1,-12 1,-6 1,-9 1,-10 1,-20 1,-18 1,-2 1,-1 1,-24 1,-12 1,-7 1,12 1,6 1,-12 1,-18 1,-31 1,-6 1,-13 1,14 1,-1 1,8 1,-27 1,-4 1,-1 1,-7 1,0 1,-2 1,3 1,-10 1,4 1,-2 1,-5 1,-5 1,-29 1,1 1,-17 1,9 1,-13 1,16 1,-1 1,0 1,-9 1,-14 1,-1 1,-10 1,0 1,1 1,-17 1,-5 1,7 1,3 1,24 1,-4 1,-16 1,7 1,-5 1,6 1,-11 1,-15 1,3 1,4 1,2 1,-17 1,10 1,-3 1,-6 1,-3 1,8 1,18 1,-9 1,15 1,1 1,-9 1,-36 1,-8 1,-15 1,-2 1,7 1,10 1,19 1,-10 1,-21 1,-1 1,6 1,24 1,12 1,-7 1,-27 1,-5 1,9 1,1 1,-22 1,6 1,9 1,6 1,-4 1,0 1,-3 1,1 1,3 1,1 1,-6 1,-5 1,-2 1,-29 1,-1 1,18 1,11 1,5 1,-2 1,2 1,-2 1,-5 1,-12 1,6 1,6 1,3 1,-8 1,-2 1,3 1,-19 1,-2 1,-9 1,14 1,-11 1,6 1,-3 1,-14 1,0 1,12" stroke="#75bb7e" stroke-width="1.5" transform="translate(107.40,1120.5) scale(3.600,-0.28133)" vector-effect="non-scaling-stroke"/>
<path d="M0,66l1,-7 1,-3 1,0 1,11 1,-15 1,-21 1,-18 1,32 1,-14 1,4 1,-2 1,14 1,4 1,3 1,2 1,-5 1,7 1,-29 1,-31 1,-14 1,2 1,12 1,1 1,-14 1,2 1,10 1,22 1,-16 1,-23 1,-24 1,-4 1,6 1,12 1,30 1,-4 1,-24 1,-22 1,0 1,15 1,-8 1,-2 1,-1 1,10 1,12 1,16 1,10 1,-5 1,-12 1,3 1,242 1,17 1,-37 1,65 1,96 1,131 1,100 1,53 1,74 1,42 1,33 1,11 1,56 1,50 1,42 1,3 1,1 1,5 1,-22 1,1 1,-10 1,-8 1,8 1,21 1,16 1,-6 1,-25 1,8 1,8 1,53 1,9 1,-17 1,-20 1,-20 1,-10 1,-16 1,-34 1,20 1,17 1,8 1,-57 1,-11 1,-5 1,2 1,-44 1,-23 1,-20 1,-21 1,14 1,-2 1,4 1,-53 1,-35 1,6 1,-2 1,-13 1,-24 1,-15 1,-3 1,-27 1,-24 1,-22 1,-14 1,-19 1,-21 1,-12 1,-15 1,-3 1,-17 1,5 1,-11 1,-12 1,-24 1,-8 1,6 1,-13 1,-26 1,-30 1,-24 1,0 1,6 1,19 1,9 1,-17 1,-13 1,-25 1,-18 1,-1 1,9 1,0 1,-24 1,-6 1,-12 1,-1 1,-10 1,1 1,1 1,-10 1,17 1,-8 1,6 1,-27 1,-6 1,-3 1,-24 1,-1 1,-13 1,18 1,-15 1,4 1,-18 1,-7 1,10 1,-3 1,13 1,-24 1,-11 1,-10 1,-8 1,-1 1,12 1,6 1,5 1,-12 1,-19 1,16 1,10 1,-14 1,-21 1,-2 1,9 1,25 1,-24 1,-1 1,0 1,-2 1,0 1,-7 1,16 1,0 1,-4 1,-4 1,-11 1,-21 1,-12 1,-1 1,17 1,-8 1,13 1,-30 1,11 1,-10 1,20 1,-9 1,15 1,-13 1,14 1,5 1,-5 1,-9 1,6 1,-6 1,1 1,-37 1,3 1,-1 1,16 1,-7 1,-19 1,1 1,19 1,13 1,-5 1,-18 1,3 1,-18 1,7 1,4 1,5 1,6 1,2 1,-2 1,-1 1,-3 1,-15 1,-5 1,-6 1,-9 1,-7 1,6 1,25 1,6 1,9 1,6 1,0 1,-4 1,-15 1,11 1,-5 1,3 1,-8" stroke="#ee9494" stroke-width="1.6" transform="translate(107.40,1120.5) scale(3.600,-0.28133)" vector-effect="non-scaling-stroke"/>
<path d="M0,58l1,-13 1,-5 1,-5 1,15 1,-2 1,-32 1,-9 1,-2 1,-13 1,-17 1,18 1,31 1,-1 1,9 1,-24 1,17 1,-6 1,13 1,-11 1,-16 1,-18 1,-17 1,21 1,-4 1,13 1,-1 1,16 1,-23 1,-1 1,-40 1,-6 1,2 1,24 1,28 1,-10 1,-4 1,-13 1,4 1,-11 1,4 1,-11 1,20 1,8 1,14 1,-1 1,-7 1,-16 1,4 1,9 1,232 1,-28 1,-30 1,65 1,111 1,100 1,102 1,43 1,61 1,59 1,54 1,50 1,12 1,23 1,8 1,30 1,11 1,-17 1,-26 1,3 1,15 1,-4 1,-8 1,42 1,8 1,4 1,-30 1,-4 1,33 1,41 1,-1 1,-30 1,-16 1,2 1,-9 1,-10 1,3 1,-5 1,23 1,-2 1,-4 1,-28 1,-16 1,-20 1,-32 1,-14 1,-16 1,-2 1,-8 1,-2 1,-10 1,-24 1,-21 1,-10 1,-14 1,-19 1,-22 1,-8 1,-17 1,-18 1,-50 1,-18 1,-11 1,12 1,-10 1,-10 1,-9 1,-2 1,-15 1,-15 1,-26 1,-2 1,-19 1,-9 1,-7 1,-5 1,-13 1,-17 1,-8 1,-2 1,-12 1,-4 1,-9 1,-13 1,-23 1,-10 1,2 1,16 1,4 1,-26 1,-18 1,2 1,8 1,-7 1,-12 1,-15 1,-3 1,-6 1,-6 1,4 1,-11 1,2 1,-20 1,11 1,6 1,-3 1,-8 1,-28 1,13 1,-22 1,1 1,-21 1,25 1,-5 1,7 1,-17 1,3 1,-13 1,-12 1,-7 1,14 1,-2 1,11 1,4 1,-15 1,1 1,-14 1,2 1,-1 1,-1 1,-4 1,-3 1,-14 1,-9 1,15 1,0 1,12 1,-23 1,-10 1,-3 1,5 1,12 1,-2 1,-10 1,-4 1,-14 1,-5 1,-1 1,20 1,-1 1,7 1,-13 1,12 1,-10 1,13 1,-12 1,21 1,-3 1,-14 1,-11 1,11 1,11 1,-22 1,-24 1,-5 1,0 1,-5 1,3 1,10 1,9 1,-7 1,-13 1,2 1,19 1,10 1,-15 1,-14 1,2 1,2 1,-15 1,3 1,2 1,18 1,-11 1,3 1,14 1,13 1,-12 1,-19 1,3 1,-14 1,4 1,2 1,3 1,-1 1,-10 1,17 1,0 1,-1 1,5 1,-3" stroke="#ee9494" stroke-width="1.6" transform="translate(107.40,1120.5) scale(3.600,-0.28133)" vector-effect="non-scaling-stroke"/>
<path d="M0,53l1,-22 1,-3 1,-11 1,20 1,-13 1,-33 1,-14 1,21 1,-9 1,-12 1,33 1,23 1,10 1,-14 1,-19 1,16 1,10 1,2 1,-17 1,-10 1,-22 1,-23 1,-10 1,11 1,3 1,-1 1,14 1,4 1,23 1,-14 1,1 1,-9 1,18 1,-7 1,-25 1,-22 1,8 1,24 1,6 1,-7 1,-24 1,19 1,18 1,11 1,-5 1,-16 1,9 1,0 1,9 1,237 1,-5 1,-30 1,51 1,86 1,110 1,112 1,81 1,70 1,58 1,39 1,47 1,41 1,28 1,26 1,-1 1,18 1,-2 1,-17 1,-33 1,-20 1,-28 1,0 1,13 1,-4 1,-15 1,-39 1,-17 1,-1 1,8 1,-36 1,-57 1,-14 1,-15 1,-16 1,-41 1,-17 1,-9 1,-5 1,-18 1,-27 1,-36 1,-13 1,-21 1,-11 1,-35 1,-25 1,-27 1,-6 1,-15 1,-2 1,-25 1,-16 1,-5 1,-15 1,3 1,-33 1,-18 1,-21 1,3 1,8 1,-26 1,-8 1,-6 1,18 1,-8 1,-4 1,-23 1,-8 1,-16 1,6 1,-13 1,-13 1,-6 1,24 1,9 1,-8 1,-28 1,-3 1,1 1,15 1,-9 1,-17 1,-25 1,-12 1,-6 1,5 1,17 1,2 1,0 1,-6 1,3 1,-16 1,-11 1,-3 1,-21 1,0 1,8 1,-4 1,6 1,1 1,10 1,-5 1,-8 1,-7 1,-7 1,14 1,-6 1,1 1,-13 1,4 1,-5 1,-10 1,2 1,5 1,5 1,-7 1,20 1,-11 1,10 1,-20 1,-1 1,17 1,1 1,8 1,5 1,-11 1,-7 1,-12 1,28 1,-15 1,-7 1,-45 1,-6 1,9 1,13 1,-3 1,-9 1,3 1,28 1,-6 1,1 1,-13 1,-5 1,-17 1,-4 1,20 1,3 1,12 1,-8 1,9 1,-1 1,-7 1,-1 1,15 1,3 1,8 1,-20 1,-6 1,-1 1,44 1,-11 1,-4 1,-40 1,9 1,8 1,2 1,1 1,-11 1,8 1,7 1,5 1,4 1,-3 1,-5 1,-32 1,-6 1,0 1,14 1,0 1,0 1,6 1,1 1,3 1,-15 1,6 1,-7 1,-13 1,-6 1,15 1,6 1,-3 1,14 1,3 1,8 1,-7 1,2 1,4 1,-12 1,-4 1,-5" stroke="#75bb7e" stroke-width="1.5" transform="translate(107.40,1120.5) scale(3.600,-0.28133)" vector-effect="non-scaling-stroke"/>
<path d="M0,73l1,-24 1,-7 1,15 1,19 1,-17 1,-36 1,-15 1,-1 1,-41 1,-12 1,26 1,30 1,19 1,-13 1,-8 1,16 1,31 1,10 1,-26 1,-13 1,-28 1,-5 1,-8 1,22 1,2 1,-4 1,-14 1,-1 1,-6 1,-12 1,-22 1,9 1,24 1,29 1,9 1,-19 1,-18 1,-10 1,-12 1,3 1,2 1,24 1,0 1,1 1,-1 1,22 1,-7 1,-17 1,-9 1,259 1,-22 1,-69 1,8 1,43 1,71 1,69 1,56 1,81 1,75 1,56 1,54 1,42 1,50 1,23 1,18 1,10 1,5 1,10 1,0 1,17 1,-19 1,22 1,21 1,33 1,14 1,3 1,5 1,1 1,22 1,-3 1,19 1,4 1,-9 1,-22 1,-24 1,-23 1,-26 1,8 1,21 1,-18 1,-18 1,-47 1,-5 1,-19 1,-10 1,-13 1,-10 1,-3 1,0 1,-13 1,-29 1,-44 1,-30 1,-5 1,-3 1,18 1,-4 1,-16 1,-42 1,-18 1,-32 1,-13 1,-14 1,-2 1,-13 1,-22 1,3 1,-7 1,-7 1,-13 1,-12 1,-8 1,-20 1,-15 1,-29 1,-16 1,-9 1,10 1,9 1,-5 1,-24 1,-15 1,-8 1,-1 1,-15 1,-13 1,11 1,-8 1,-5 1,-29 1,16 1,-12 1,-11 1,-8 1,15 1,14 1,5 1,-17 1,-19 1,-9 1,-12 1,1 1,0 1,-1 1,2 1,-1 1,-12 1,3 1,-20 1,7 1,-15 1,20 1,-1 1,20 1,-30 1,-14 1,-10 1,-21 1,-5 1,6 1,22 1,22 1,-9 1,-6 1,-9 1,-16 1,-24 1,2 1,3 1,4 1,-31 1,-20 1,1 1,35 1,17 1,-8 1,-30 1,17 1,3 1,33 1,0 1,16 1,-26 1,-24 1,-17 1,8 1,-7 1,21 1,-2 1,18 1,-11 1,-6 1,-13 1,3 1,-11 1,3 1,8 1,-3 1,13 1,0 1,2 1,-27 1,-21 1,2 1,15 1,4 1,5 1,-22 1,6 1,-8 1,7 1,-9 1,11 1,14 1,2 1,-5 1,-15 1,-13 1,-14 1,19 1,19 1,16 1,-10 1,-22 1,-5 1,-1 1,-3 1,-3 1,5 1,-1 1,2 1,-2 1,-4 1,2 1,6 1,21 1,-8 1,-18 1,-9 1,6" stroke="#ee9494" stroke-width="1.6" transform="translate(107.40,1120.5) scale(3.600,-0.28133)" vector-effect="non-scaling-stroke"/>
<path d="M0,62l1,-20 1,-6 1,7 1,32 1,-1 1,-46 1,-9 1,15 1,-13 1,-22 1,16 1,15 1,-7 1,-22 1,19 1,16 1,4 1,-17 1,-21 1,-5 1,-9 1,-24 1,7 1,15 1,24 1,-2 1,-9 1,-15 1,-13 1,-26 1,2 1,25 1,23 1,17 1,-5 1,-9 1,-18 1,-14 1,2 1,-7 1,-4 1,-2 1,18 1,2 1,0 1,25 1,9 1,1 1,-19 1,244 1,-34 1,-61 1,19 1,71 1,93 1,85 1,29 1,68 1,69 1,82 1,42 1,52 1,51 1,18 1,2 1,28 1,27 1,27 1,15 1,13 1,-29 1,-10 1,39 1,30 1,17 1,-17 1,12 1,-6 1,39 1,-1 1,-12 1,4 1,-13 1,-8 1,-42 1,-11 1,7 1,9 1,-15 1,-31 1,-27 1,-12 1,-16 1,-16 1,-5 1,-25 1,-8 1,-24 1,10 1,3 1,-18 1,-25 1,-42 1,-28 1,-31 1,-20 1,-12 1,-10 1,3 1,-5 1,-14 1,-26 1,-21 1,-14 1,-9 1,-6 1,-7 1,-15 1,-32 1,-25 1,-18 1,15 1,-5 1,8 1,-8 1,-4 1,-25 1,-27 1,-17 1,0 1,4 1,3 1,-7 1,-8 1,3 1,-24 1,-6 1,-13 1,8 1,-26 1,-12 1,-21 1,0 1,3 1,-2 1,1 1,-23 1,-15 1,-5 1,13 1,-9 1,-13 1,-19 1,-1 1,24 1,30 1,-2 1,-12 1,-15 1,10 1,-9 1,-22 1,-13 1,-14 1,1 1,2 1,-6 1,-8 1,-4 1,29 1,8 1,10 1,-14 1,-21 1,8 1,-7 1,-4 1,4 1,2 1,-15 1,-22 1,-4 1,9 1,17 1,10 1,-9 1,-23 1,-15 1,1 1,8 1,3 1,21 1,-16 1,-18 1,3 1,-1 1,-4 1,-13 1,-3 1,2 1,1 1,-9 1,11 1,10 1,14 1,11 1,-15 1,-18 1,-10 1,13 1,-10 1,-5 1,-13 1,28 1,8 1,-4 1,-21 1,-2 1,1 1,18 1,-14 1,21 1,-6 1,21 1,-23 1,-3 1,-15 1,1 1,1 1,0 1,4 1,25 1,4 1,-6 1,-26 1,16 1,-19 1,8 1,-8 1,4 1,-7 1,-8 1,-8 1,-13 1,1 1,2 1,18 1,2 1,10 1,-6" stroke="#ee9494" stroke-width="1.6" transform="translate(107.40,1120.5) scale(3.600,-0.28133)" vector-effect="non-scaling-stroke"/>
<path d="M0,67l1,-8 1,-14 1,3 1,12 1,-19 1,-27 1,-15 1,22 1,-9 1,-14 1,18 1,-3 1,-1 1,-20 1,-5 1,13 1,6 1,5 1,-10 1,-4 1,-9 1,-10 1,16 1,11 1,16 1,-17 1,1 1,-19 1,12 1,-1 1,3 1,7 1,9 1,1 1,-4 1,-23 1,0 1,-18 1,-5 1,-5 1,0 1,11 1,-2 1,16 1,3 1,16 1,-19 1,-5 1,-5 1,260 1,-71 1,-107 1,-24 1,28 1,61 1,56 1,31 1,60 1,48 1,38 1,28 1,53 1,42 1,36 1,25 1,59 1,38 1,15 1,19 1,-3 1,-14 1,8 1,38 1,43 1,25 1,6 1,24 1,16 1,65 1,7 1,4 1,4 1,-3 1,1 1,-15 1,-5 1,2 1,13 1,34 1,6 1,6 1,-35 1,-26 1,-28 1,-11 1,-19 1,-4 1,-6 1,-3 1,-15 1,-27 1,-27 1,-19 1,12 1,-3 1,-4 1,-27 1,-18 1,-21 1,-21 1,-37 1,-13 1,-14 1,3 1,-22 1,-16 1,-8 1,-11 1,-7 1,-12 1,-9 1,-15 1,-18 1,-6 1,-3 1,-8 1,-11 1,-18 1,3 1,-20 1,-6 1,-12 1,-10 1,-7 1,-13 1,-9 1,4 1,-3 1,-9 1,-7 1,-3 1,15 1,-32 1,-10 1,-29 1,8 1,-21 1,-2 1,-6 1,17 1,-20 1,13 1,-10 1,-2 1,-17 1,-14 1,-8 1,-5 1,3 1,4 1,-24 1,-9 1,-13 1,30 1,-3 1,15 1,-21 1,3 1,-16 1,3 1,-14 1,11 1,-11 1,-7 1,-4 1,2 1,-8 1,4 1,2 1,5 1,5 1,6 1,-14 1,-5 1,-12 1,-3 1,-4 1,4 1,8 1,-3 1,7 1,5 1,0 1,-22 1,-1 1,7 1,-10 1,7 1,-13 1,10 1,3 1,4 1,17 1,-3 1,-25 1,-5 1,-10 1,-16 1,-1 1,18 1,-1 1,-21 1,-26 1,19 1,15 1,19 1,-2 1,-5 1,-3 1,1 1,1 1,-23 1,7 1,-11 1,-6 1,-5 1,12 1,-9 1,-5 1,-13 1,14 1,0 1,27 1,-9 1,-7 1,-12 1,-11 1,2 1,5 1,23 1,-8 1,3 1,-25 1,5 1,2 1,22 1,14 1,-15 1,-5 1,-9" stroke="#ee9494" stroke-width="1.6" transform="translate(107.40,1120.5) scale(3.600,-0.28133)" vector-effect="non-scaling-stroke"/>
<path d="M0,43l1,-13 1,-17 1,43 1,17 1,-1 1,-58 1,-16 1,10 1,-21 1,-10 1,21 1,26 1,7 1,-6 1,-3 1,9 1,7 1,-6 1,-12 1,8 1,-12 1,-18 1,-6 1,-1 1,5 1,3 1,5 1,-3 1,-8 1,-34 1,2 1,-2 1,22 1,6 1,4 1,-4 1,-18 1,-10 1,-2 1,15 1,2 1,13 1,9 1,1 1,-1 1,-1 1,-1 1,2 1,-9 1,242 1,-4 1,7 1,86 1,121 1,125 1,92 1,74 1,52 1,57 1,47 1,61 1,22 1,24 1,-5 1,13 1,19 1,-15 1,-14 1,-41 1,8 1,-41 1,-9 1,-18 1,26 1,-7 1,-21 1,-28 1,-16 1,7 1,-39 1,-36 1,-6 1,-24 1,-33 1,-46 1,-14 1,1 1,-4 1,-20 1,-28 1,-8 1,-2 1,-18 1,-40 1,-24 1,-21 1,-1 1,-16 1,-4 1,-19 1,-11 1,-22 1,7 1,-1 1,8 1,-45 1,-26 1,-31 1,7 1,-29 1,-1 1,-4 1,4 1,-23 1,-24 1,2 1,7 1,14 1,-11 1,-8 1,-22 1,5 1,-6 1,10 1,-25 1,-14 1,-30 1,11 1,5 1,2 1,-20 1,-7 1,-11 1,-6 1,-5 1,15 1,7 1,-7 1,-34 1,-11 1,8 1,11 1,1 1,-6 1,-10 1,0 1,-16 1,-5 1,1 1,5 1,-9 1,-9 1,2 1,6 1,0 1,1 1,-2 1,4 1,11 1,-26 1,2 1,-16 1,21 1,1 1,2 1,1 1,-10 1,0 1,-10 1,3 1,-9 1,5 1,21 1,-5 1,29 1,-25 1,-16 1,-14 1,3 1,-5 1,-4 1,-14 1,18 1,-2 1,14 1,-22 1,-11 1,-17 1,1 1,11 1,18 1,17 1,-4 1,-6 1,-4 1,-2 1,-21 1,-7 1,-2 1,-7 1,15 1,-12 1,31 1,2 1,-4 1,-2 1,-9 1,-10 1,-8 1,13 1,7 1,-18 1,-12 1,-15 1,14 1,-3 1,29 1,6 1,-6 1,-6 1,-14 1,6 1,2 1,4 1,-22 1,-5 1,3 1,14 1,-10 1,12 1,11 1,5 1,-12 1,-14 1,1 1,24 1,-3 1,-7 1,-22 1,2 1,29 1,5 1,1 1,-17 1,-1 1,19 1,-2 1,4 1,-20 1,3" stroke="#6d9fd8" stroke-width="1.6" transform="translate(107.40,1120.5) scale(3.600,-0.28133)" vector-effect="non-scaling-stroke"/>
<path d="M0,54l1,-18 1,-7 1,16 1,25 1,0 1,-31 1,-15 1,12 1,-20 1,-21 1,14 1,20 1,15 1,-16 1,-12 1,16 1,13 1,1 1,-28 1,0 1,-26 1,-7 1,0 1,13 1,14 1,-1 1,-5 1,-16 1,-23 1,-6 1,6 1,18 1,31 1,-3 1,6 1,-28 1,-25 1,-17 1,-4 1,4 1,-10 1,12 1,16 1,5 1,0 1,15 1,3 1,8 1,8 1,249 1,-6 1,-32 1,80 1,128 1,142 1,109 1,46 1,71 1,51 1,52 1,25 1,28 1,35 1,7 1,9 1,15 1,8 1,13 1,-16 1,-14 1,-52 1,-17 1,9 1,17 1,-22 1,-58 1,-24 1,-11 1,57 1,-34 1,-30 1,-21 1,-21 1,-23 1,-33 1,-18 1,-10 1,-6 1,1 1,-30 1,-23 1,-24 1,4 1,-35 1,-34 1,-31 1,-10 1,1 1,-12 1,-1 1,-29 1,-26 1,-44 1,-12 1,9 1,7 1,-11 1,-37 1,-5 1,-7 1,-16 1,-8 1,-5 1,9 1,-20 1,2 1,-9 1,-5 1,-29 1,-14 1,-1 1,-9 1,4 1,-2 1,9 1,-9 1,-18 1,-36 1,-7 1,4 1,12 1,-5 1,-18 1,-7 1,-17 1,4 1,5 1,4 1,-27 1,-5 1,15 1,8 1,-14 1,-6 1,4 1,12 1,-7 1,-2 1,-3 1,-2 1,-24 1,5 1,-6 1,18 1,-33 1,3 1,-9 1,8 1,-6 1,-5 1,8 1,-7 1,-4 1,4 1,5 1,-6 1,-12 1,-13 1,8 1,-3 1,-15 1,-1 1,2 1,0 1,5 1,6 1,-9 1,7 1,-20 1,8 1,-24 1,-4 1,1 1,15 1,10 1,-13 1,-2 1,3 1,9 1,6 1,-1 1,2 1,-20 1,4 1,6 1,17 1,-15 1,-2 1,-10 1,2 1,4 1,-7 1,5 1,1 1,-4 1,24 1,15 1,-15 1,-18 1,-30 1,9 1,-11 1,-2 1,6 1,-5 1,12 1,-2 1,-3 1,8 1,9 1,-3 1,-20 1,-5 1,17 1,-14 1,-6 1,0 1,8 1,7 1,9 1,22 1,8 1,1 1,-14 1,-4 1,6 1,-25 1,-7 1,-7 1,27 1,-4 1,4 1,-10 1,10 1,-5 1,-4 1,-4 1,-7 1,0 1,-4" stroke="#6d9fd8" stroke-width="1.6" transform="translate(107.40,1120.5) scale(3.600,-0.28133)" vector-effect="non-scaling-stroke"/>
<path d="M0,65l1,-21 1,-16 1,-5 1,27 1,0 1,-32 1,-21 1,20 1,-4 1,-10 1,12 1,7 1,2 1,-12 1,-13 1,13 1,13 1,0 1,-5 1,2 1,-3 1,-18 1,-10 1,13 1,-10 1,14 1,-16 1,16 1,-19 1,-5 1,-18 1,19 1,8 1,10 1,-20 1,-21 1,7 1,3 1,9 1,-6 1,-16 1,11 1,15 1,24 1,-9 1,-38 1,-23 1,22 1,25 1,252 1,-10 1,-33 1,66 1,101 1,132 1,100 1,44 1,73 1,56 1,70 1,61 1,40 1,15 1,-12 1,18 1,38 1,17 1,-23 1,-28 1,-4 1,-34 1,6 1,1 1,31 1,-13 1,-29 1,-20 1,-23 1,18 1,-28 1,-13 1,-12 1,-20 1,-41 1,-47 1,-27 1,5 1,4 1,7 1,-27 1,-22 1,-42 1,-21 1,-20 1,-25 1,-11 1,-2 1,8 1,-13 1,-7 1,-15 1,-35 1,-35 1,-20 1,1 1,-27 1,-6 1,-19 1,5 1,-21 1,-4 1,-13 1,-11 1,-10 1,4 1,-7 1,1 1,-19 1,-13 1,-8 1,-17 1,1 1,-24 1,10 1,-21 1,-10 1,-8 1,1 1,4 1,-15 1,-3 1,-18 1,-14 1,-8 1,-1 1,-7 1,2 1,5 1,-2 1,12 1,8 1,5 1,-23 1,-18 1,-25 1,-5 1,-14 1,6 1,10 1,28 1,4 1,-16 1,-11 1,-19 1,9 1,-5 1,12 1,8 1,5 1,8 1,-19 1,-8 1,-6 1,13 1,-12 1,-17 1,-30 1,-1 1,6 1,17 1,-6 1,-12 1,6 1,5 1,22 1,-8 1,-22 1,11 1,-5 1,5 1,-14 1,-25 1,1 1,-1 1,26 1,7 1,-4 1,-21 1,-8 1,0 1,19 1,-1 1,-22 1,-9 1,8 1,15 1,-24 1,20 1,-30 1,15 1,-1 1,16 1,13 1,-19 1,15 1,-8 1,6 1,-25 1,-3 1,14 1,-5 1,-9 1,-19 1,10 1,17 1,12 1,5 1,-14 1,-12 1,1 1,9 1,0 1,5 1,-1 1,-21 1,5 1,-7 1,7 1,2 1,5 1,6 1,-20 1,3 1,-20 1,6 1,5 1,7 1,12 1,5 1,8 1,-11 1,-3 1,-13 1,-16 1,0 1,21 1,24 1,-6 1,-3 1,-5" stroke="#6d9fd8" stroke-width="1.6" transform="translate(107.40,1120.5) scale(3.600,-0.28133)" vector-effect="non-scaling-stroke"/>
<path d="M0,75l1,-19 1,-33 1,1 1,8 1,0 1,-21 1,7 1,19 1,-36 1,-36 1,21 1,33 1,14 1,-16 1,-16 1,19 1,12 1,3 1,-14 1,-13 1,-7 1,-28 1,-25 1,-1 1,7 1,30 1,5 1,9 1,-11 1,-11 1,1 1,9 1,19 1,8 1,-1 1,-10 1,-18 1,0 1,-23 1,-6 1,-20 1,22 1,10 1,17 1,-4 1,19 1,7 1,7 1,7 1,235 1,21 1,-28 1,58 1,103 1,125 1,107 1,38 1,59 1,67 1,48 1,65 1,45 1,33 1,-17 1,-5 1,5 1,12 1,-13 1,-8 1,-13 1,-31 1,5 1,26 1,9 1,-18 1,-57 1,-20 1,-27 1,30 1,-36 1,-26 1,-29 1,-5 1,-39 1,-37 1,-31 1,4 1,1 1,-6 1,-28 1,-10 1,-19 1,-30 1,-57 1,-25 1,1 1,9 1,-2 1,-21 1,-26 1,-22 1,-20 1,2 1,-26 1,-3 1,-19 1,5 1,-21 1,-14 1,-25 1,-1 1,-3 1,-7 1,-25 1,-17 1,8 1,-12 1,-8 1,-16 1,15 1,-2 1,-10 1,-10 1,10 1,-9 1,1 1,-19 1,2 1,-24 1,4 1,-27 1,-9 1,-11 1,1 1,10 1,-22 1,21 1,-3 1,-6 1,-13 1,6 1,-2 1,-7 1,4 1,10 1,-6 1,-22 1,-3 1,-11 1,-21 1,-18 1,1 1,37 1,2 1,-3 1,-23 1,1 1,-3 1,0 1,-7 1,8 1,7 1,4 1,11 1,3 1,-21 1,6 1,-17 1,24 1,-21 1,-1 1,-1 1,9 1,-2 1,10 1,-16 1,-13 1,3 1,11 1,-6 1,-13 1,-15 1,-5 1,-3 1,20 1,2 1,2 1,-21 1,19 1,15 1,8 1,0 1,-27 1,4 1,-2 1,2 1,-10 1,4 1,3 1,-2 1,-12 1,-14 1,10 1,13 1,0 1,15 1,-7 1,-12 1,-26 1,16 1,19 1,-3 1,-10 1,-19 1,3 1,-6 1,16 1,1 1,-12 1,26 1,-13 1,17 1,-19 1,20 1,-17 1,-28 1,-15 1,3 1,14 1,6 1,-19 1,21 1,11 1,4 1,-15 1,1 1,-8 1,-5 1,1 1,18 1,15 1,-2 1,-8 1,-10 1,-8 1,-4 1,12 1,0 1,8 1,-11" stroke="#6d9fd8" stroke-width="1.6" transform="translate(107.40,1120.5) scale(3.600,-0.28133)" vector-effect="non-scaling-stroke"/>
<path d="M0,64l1,-18 1,-28 1,-5 1,12 1,19 1,-24 1,-6 1,8 1,-10 1,-7 1,18 1,7 1,1 1,-12 1,-6 1,4 1,15 1,-6 1,-24 1,-28 1,-6 1,13 1,24 1,0 1,-18 1,0 1,6 1,-5 1,-4 1,-9 1,15 1,7 1,17 1,4 1,-19 1,-23 1,-15 1,10 1,-11 1,-12 1,-5 1,28 1,35 1,12 1,-13 1,-15 1,-20 1,8 1,-10 1,250 1,16 1,3 1,83 1,120 1,137 1,110 1,53 1,71 1,51 1,38 1,42 1,28 1,32 1,0 1,1 1,14 1,3 1,-12 1,-20 1,-10 1,-30 1,-25 1,-7 1,19 1,3 1,-45 1,-43 1,-13 1,29 1,-8 1,-24 1,-9 1,-31 1,-30 1,-20 1,-24 1,-2 1,-3 1,7 1,-35 1,-45 1,-34 1,-14 1,-10 1,-5 1,-17 1,-10 1,-22 1,-25 1,-18 1,-15 1,-13 1,-29 1,-17 1,-17 1,5 1,-17 1,-4 1,-14 1,-5 1,-3 1,-20 1,-24 1,-11 1,11 1,19 1,-11 1,-17 1,-20 1,-22 1,-18 1,-8 1,-1 1,20 1,-19 1,-6 1,-19 1,-3 1,-8 1,-23 1,-5 1,14 1,6 1,8 1,-22 1,-7 1,-2 1,-3 1,-16 1,-2 1,17 1,-3 1,-8 1,2 1,-10 1,-16 1,-10 1,10 1,10 1,-8 1,-14 1,2 1,-6 1,4 1,-17 1,-5 1,-7 1,1 1,8 1,-4 1,-1 1,-2 1,-1 1,-7 1,-21 1,-10 1,5 1,5 1,14 1,14 1,11 1,10 1,-4 1,-7 1,5 1,-9 1,-16 1,1 1,3 1,1 1,-11 1,-4 1,-10 1,6 1,-3 1,4 1,-26 1,3 1,10 1,20 1,1 1,0 1,-18 1,-19 1,-12 1,8 1,9 1,3 1,3 1,-16 1,-3 1,-14 1,30 1,9 1,-14 1,-2 1,-1 1,-6 1,-17 1,4 1,16 1,3 1,-18 1,18 1,3 1,13 1,-9 1,-4 1,21 1,5 1,-6 1,-24 1,-14 1,7 1,-8 1,1 1,16 1,-7 1,2 1,0 1,-9 1,-2 1,-4 1,7 1,4 1,4 1,-11 1,-5 1,-16 1,-6 1,14 1,4 1,9 1,-1 1,13 1,3 1,-9 1,-11 1,-6 1,2" stroke="#6d9fd8" stroke-width="1.6" transform="translate(107.40,1120.5) scale(3.600,-0.28133)" vector-effect="non-scaling-stroke"/>
<path d="M0,89l1,-25 1,-20 1,-20 1,16 1,-7 1,-26 1,0 1,18 1,-19 1,-25 1,9 1,30 1,24 1,-23 1,-22 1,-3 1,39 1,20 1,-3 1,-18 1,-21 1,-14 1,-5 1,-1 1,1 1,4 1,-7 1,1 1,-5 1,11 1,-19 1,6 1,16 1,24 1,-16 1,-23 1,-2 1,0 1,-3 1,4 1,-4 1,8 1,-18 1,4 1,21 1,9 1,-11 1,-23 1,3 1,261 1,-12 1,-31 1,47 1,104 1,117 1,108 1,50 1,68 1,66 1,52 1,51 1,47 1,66 1,14 1,8 1,8 1,3 1,-11 1,-9 1,4 1,-37 1,-13 1,-6 1,32 1,-12 1,-17 1,-36 1,-6 1,23 1,-5 1,-35 1,-18 1,-27 1,-29 1,-35 1,-29 1,-4 1,-6 1,-1 1,-22 1,-24 1,-32 1,-26 1,-24 1,-4 1,-15 1,-3 1,-20 1,-17 1,-20 1,-30 1,-13 1,-12 1,-5 1,-8 1,2 1,-10 1,-12 1,-29 1,-18 1,-19 1,-13 1,-24 1,5 1,-22 1,0 1,-13 1,-2 1,-12 1,-12 1,-18 1,-8 1,-20 1,2 1,5 1,6 1,-4 1,-7 1,-4 1,-11 1,-14 1,6 1,-2 1,2 1,-20 1,-9 1,2 1,0 1,-8 1,-13 1,-7 1,-2 1,3 1,8 1,-7 1,-14 1,-4 1,4 1,-5 1,0 1,-9 1,22 1,-17 1,-19 1,-12 1,-6 1,3 1,-20 1,2 1,-12 1,7 1,17 1,22 1,6 1,-21 1,1 1,-4 1,7 1,-24 1,4 1,-20 1,22 1,1 1,-6 1,5 1,0 1,8 1,5 1,-19 1,-13 1,-20 1,1 1,15 1,18 1,5 1,-23 1,-9 1,-5 1,-1 1,-15 1,3 1,14 1,20 1,-9 1,-6 1,-15 1,7 1,8 1,3 1,-4 1,15 1,-7 1,1 1,0 1,-1 1,15 1,-10 1,0 1,-13 1,13 1,-15 1,-9 1,-15 1,8 1,15 1,0 1,-5 1,-4 1,2 1,3 1,-2 1,7 1,-17 1,-6 1,-16 1,29 1,0 1,5 1,-15 1,8 1,-6 1,11 1,7 1,-1 1,-4 1,10 1,-20 1,-5 1,1 1,10 1,13 1,-17 1,-3 1,-12 1,3 1,1 1,7 1,2 1,9 1,-2" stroke="#6d9fd8" stroke-width="1.6" transform="translate(107.40,1120.5) scale(3.600,-0.28133)" vector-effect="non-scaling-stroke"/>
<path d="M0,85l1,-11 1,-22 1,-17 1,2 1,-6 1,-33 1,9 1,8 1,-6 1,-12 1,36 1,10 1,5 1,-30 1,-10 1,-3 1,31 1,7 1,-10 1,-22 1,-17 1,-17 1,12 1,14 1,10 1,-2 1,-11 1,0 1,-1 1,12 1,-6 1,-3 1,-6 1,-4 1,-13 1,-15 1,7 1,14 1,-4 1,-6 1,-26 1,14 1,-3 1,5 1,11 1,12 1,2 1,-8 1,-7 1,248 1,0 1,-10 1,64 1,113 1,128 1,123 1,64 1,71 1,47 1,32 1,42 1,58 1,71 1,-10 1,-8 1,-5 1,18 1,-7 1,-10 1,-1 1,-34 1,-21 1,9 1,10 1,9 1,-41 1,-15 1,-10 1,34 1,-13 1,-35 1,-16 1,-17 1,-11 1,-29 1,-23 1,-25 1,-1 1,-4 1,-20 1,-17 1,-30 1,-9 1,-21 1,-34 1,-22 1,-26 1,1 1,-25 1,-11 1,-36 1,-30 1,-28 1,1 1,8 1,2 1,-13 1,-27 1,-36 1,-16 1,-10 1,6 1,2 1,-10 1,-15 1,-41 1,-1 1,-9 1,1 1,-11 1,-17 1,-11 1,5 1,14 1,8 1,-17 1,-15 1,-17 1,10 1,-10 1,-1 1,-27 1,-11 1,-28 1,-20 1,4 1,32 1,12 1,-18 1,-10 1,-6 1,8 1,-23 1,-4 1,-40 1,18 1,4 1,35 1,-20 1,0 1,-21 1,7 1,12 1,12 1,5 1,-20 1,-13 1,-6 1,4 1,-6 1,-7 1,-10 1,0 1,9 1,-11 1,-8 1,-11 1,-8 1,-1 1,-15 1,3 1,-3 1,8 1,-5 1,15 1,-2 1,-21 1,17 1,-4 1,7 1,-24 1,-3 1,1 1,7 1,0 1,8 1,-12 1,4 1,4 1,7 1,10 1,3 1,-15 1,-20 1,-4 1,11 1,-6 1,26 1,-5 1,6 1,-24 1,2 1,4 1,3 1,-17 1,9 1,6 1,-18 1,-15 1,8 1,28 1,-16 1,-20 1,0 1,14 1,4 1,-7 1,-12 1,4 1,8 1,-3 1,-1 1,5 1,19 1,-10 1,-11 1,10 1,-15 1,17 1,-9 1,7 1,-18 1,-2 1,-6 1,-2 1,6 1,3 1,9 1,-2 1,9 1,-13 1,-5 1,-19 1,10 1,-7 1,0 1,11 1,25 1,19 1,-12" stroke="#6d9fd8" stroke-width="1.6" transform="translate(107.40,1120.5) scale(3.600,-0.28133)" vector-effect="non-scaling-stroke"/>
<path d="M0,45l1,-22 1,8 1,20 1,12 1,-35 1,-31 1,-2 1,32 1,-28 1,-17 1,12 1,12 1,-2 1,-19 1,-4 1,16 1,21 1,12 1,-6 1,-18 1,0 1,1 1,10 1,-4 1,-2 1,6 1,-6 1,-18 1,-17 1,-17 1,0 1,28 1,13 1,6 1,-17 1,-9 1,-12 1,-10 1,-17 1,1 1,-4 1,44 1,19 1,8 1,-8 1,9 1,8 1,-2 1,-13 1,221 1,-20 1,-40 1,60 1,109 1,103 1,102 1,44 1,92 1,80 1,45 1,39 1,34 1,60 1,20 1,8 1,23 1,5 1,-8 1,-7 1,20 1,-18 1,-24 1,-6 1,4 1,-11 1,-31 1,-2 1,2 1,20 1,-37 1,-34 1,-4 1,-27 1,-22 1,-52 1,-19 1,-22 1,24 1,3 1,10 1,-43 1,-31 1,-38 1,-15 1,-16 1,-39 1,-4 1,-3 1,11 1,-30 1,-22 1,-32 1,-11 1,-17 1,10 1,-13 1,-15 1,-17 1,-10 1,-13 1,-27 1,-4 1,-11 1,-2 1,-2 1,-2 1,-17 1,-36 1,-13 1,-14 1,-12 1,-19 1,-6 1,19 1,-10 1,14 1,-26 1,2 1,-11 1,5 1,-1 1,-20 1,-28 1,-11 1,-11 1,2 1,10 1,11 1,-5 1,-20 1,-1 1,-3 1,-14 1,-1 1,-12 1,13 1,-8 1,16 1,5 1,2 1,-17 1,-7 1,10 1,4 1,-6 1,-10 1,3 1,-19 1,-3 1,-23 1,24 1,-6 1,8 1,-18 1,-7 1,0 1,18 1,-15 1,-9 1,23 1,15 1,10 1,-25 1,-35 1,19 1,-10 1,5 1,-2 1,-9 1,-1 1,-11 1,0 1,5 1,1 1,-8 1,-12 1,-1 1,18 1,20 1,-2 1,-10 1,1 1,-17 1,5 1,-9 1,13 1,-20 1,2 1,5 1,2 1,1 1,-21 1,4 1,14 1,-6 1,16 1,-5 1,-19 1,-1 1,10 1,9 1,-16 1,-10 1,25 1,-2 1,8 1,-12 1,6 1,-9 1,2 1,-3 1,-10 1,-17 1,2 1,-10 1,19 1,6 1,1 1,6 1,0 1,9 1,2 1,3 1,-10 1,-9 1,-6 1,-10 1,-3 1,10 1,6 1,8 1,10 1,20 1,-9 1,-9 1,-11 1,12 1,-3 1,-4 1,-8" stroke="#6d9fd8" stroke-width="1.6" transform="translate(107.40,1120.5) scale(3.600,-0.28133)" vector-effect="non-scaling-stroke"/>
<path d="M0,75l1,-6 1,-10 1,-9 1,5 1,-13 1,-21 1,-15 1,19 1,-20 1,-20 1,22 1,5 1,20 1,-28 1,4 1,8 1,10 1,5 1,-17 1,-13 1,-1 1,-9 1,6 1,-10 1,1 1,7 1,-5 1,7 1,-28 1,-20 1,-18 1,18 1,28 1,9 1,11 1,-10 1,8 1,-2 1,2 1,-11 1,-3 1,5 1,3 1,-11 1,-5 1,11 1,-16 1,7 1,-8 1,271 1,16 1,-4 1,79 1,95 1,138 1,107 1,58 1,72 1,52 1,64 1,18 1,41 1,39 1,17 1,-9 1,9 1,12 1,-6 1,-13 1,-23 1,-35 1,-14 1,18 1,37 1,-10 1,-42 1,-36 1,-22 1,29 1,-22 1,-19 1,-25 1,-32 1,-28 1,-34 1,-6 1,-4 1,8 1,-30 1,-13 1,-16 1,-7 1,-36 1,-37 1,-30 1,-6 1,-10 1,-17 1,-29 1,-36 1,-6 1,-14 1,19 1,2 1,-18 1,-20 1,-22 1,-3 1,-23 1,-17 1,-19 1,5 1,-13 1,-13 1,-26 1,-13 1,-11 1,-9 1,-4 1,0 1,4 1,-7 1,-6 1,-20 1,-8 1,-3 1,-15 1,-24 1,-20 1,-1 1,2 1,-7 1,3 1,-11 1,1 1,-18 1,3 1,8 1,-1 1,9 1,-11 1,-1 1,-10 1,-4 1,-24 1,0 1,5 1,15 1,-4 1,-7 1,-8 1,-13 1,-3 1,-4 1,-1 1,-8 1,11 1,4 1,2 1,-22 1,-26 1,-8 1,5 1,32 1,-15 1,-11 1,0 1,17 1,10 1,0 1,-10 1,2 1,-1 1,1 1,-1 1,0 1,-26 1,4 1,10 1,5 1,6 1,-41 1,2 1,-5 1,10 1,4 1,11 1,7 1,13 1,-16 1,8 1,-2 1,8 1,-27 1,-11 1,1 1,3 1,11 1,-24 1,-1 1,-1 1,6 1,4 1,1 1,0 1,0 1,5 1,-19 1,3 1,-18 1,-6 1,-19 1,3 1,5 1,20 1,10 1,10 1,-25 1,10 1,1 1,19 1,-18 1,1 1,7 1,-9 1,9 1,-6 1,13 1,-25 1,2 1,-2 1,18 1,-1 1,-30 1,8 1,-7 1,13 1,-12 1,20 1,12 1,-5 1,-13 1,-14 1,-11 1,11 1,0 1,22 1,-18 1,0 1,-2" stroke="#6d9fd8" stroke-width="1.6" transform="translate(107.40,1120.5) scale(3.600,-0.28133)" vector-effect="non-scaling-stroke"/>
<path d="M0,45l1,-14 1,2 1,15 1,15 1,-9 1,-53 1,-6 1,24 1,-5 1,-14 1,10 1,5 1,9 1,-4 1,-12 1,5 1,18 1,0 1,-23 1,-18 1,-2 1,-12 1,15 1,-2 1,2 1,-6 1,-16 1,-6 1,-3 1,1 1,-5 1,16 1,26 1,20 1,-16 1,-23 1,-5 1,-8 1,20 1,-3 1,-5 1,-9 1,7 1,0 1,2 1,15 1,-7 1,-2 1,-2 1,268 1,2 1,-12 1,60 1,130 1,119 1,103 1,47 1,71 1,56 1,63 1,33 1,54 1,18 1,-3 1,-11 1,12 1,24 1,7 1,-13 1,-15 1,-56 1,-11 1,17 1,8 1,-1 1,-30 1,15 1,-28 1,12 1,-39 1,-28 1,-28 1,-26 1,-19 1,-22 1,-9 1,-16 1,-10 1,-13 1,-18 1,-12 1,-16 1,-29 1,-28 1,-40 1,-13 1,-12 1,-2 1,-8 1,-30 1,-27 1,-26 1,-13 1,-12 1,13 1,3 1,-13 1,-43 1,-7 1,-31 1,-11 1,-16 1,12 1,-1 1,-24 1,-5 1,-11 1,-1 1,-10 1,-10 1,0 1,-15 1,-12 1,-11 1,-4 1,-14 1,-27 1,-19 1,12 1,7 1,3 1,14 1,6 1,-1 1,-34 1,-9 1,-3 1,15 1,-12 1,15 1,-17 1,-3 1,-36 1,-1 1,-2 1,18 1,-15 1,-4 1,-1 1,13 1,-20 1,-9 1,-5 1,8 1,2 1,13 1,-4 1,-19 1,-11 1,8 1,2 1,3 1,-21 1,2 1,-10 1,6 1,9 1,-3 1,1 1,-13 1,0 1,2 1,14 1,-13 1,-4 1,4 1,-11 1,-4 1,-11 1,-3 1,5 1,5 1,4 1,7 1,12 1,-14 1,-7 1,-12 1,29 1,17 1,-11 1,-1 1,-26 1,-10 1,-16 1,-9 1,1 1,20 1,-4 1,8 1,-14 1,-5 1,-20 1,21 1,17 1,23 1,-18 1,-31 1,2 1,11 1,22 1,-14 1,-22 1,-16 1,10 1,3 1,18 1,-2 1,4 1,4 1,-8 1,12 1,-11 1,6 1,-17 1,21 1,7 1,0 1,-27 1,2 1,-3 1,14 1,-2 1,5 1,2 1,5 1,-15 1,3 1,-10 1,5 1,2 1,6 1,6 1,-6 1,15 1,4 1,-14 1,-18 1,-10 1,12" stroke="#6d9fd8" stroke-width="1.6" transform="translate(107.40,1120.5) scale(3.600,-0.28133)" vector-effect="non-scaling-stroke"/>
<path d="M0,38l1,2 1,-8 1,17 1,-14 1,-8 1,-25 1,0 1,16 1,-28 1,-1 1,14 1,7 1,-8 1,-6 1,4 1,5 1,5 1,6 1,-7 1,-14 1,6 1,0 1,-3 1,-14 1,-1 1,29 1,12 1,-30 1,-26 1,-25 1,13 1,13 1,19 1,12 1,5 1,-27 1,-10 1,-10 1,3 1,4 1,-7 1,27 1,-5 1,25 1,10 1,1 1,-18 1,-15 1,1 1,249 1,-4 1,-28 1,59 1,104 1,129 1,95 1,63 1,67 1,74 1,53 1,61 1,28 1,34 1,7 1,26 1,23 1,14 1,-8 1,-13 1,1 1,-19 1,-24 1,25 1,5 1,14 1,-65 1,-18 1,-24 1,46 1,-8 1,-11 1,-29 1,-21 1,-39 1,-34 1,-35 1,7 1,11 1,-9 1,-27 1,-23 1,-1 1,-28 1,-29 1,-17 1,-17 1,-17 1,-23 1,-10 1,-11 1,-31 1,-28 1,-9 1,-10 1,-8 1,-19 1,-13 1,-5 1,-7 1,-1 1,-30 1,-20 1,-36 1,3 1,-5 1,-2 1,-17 1,-23 1,-19 1,2 1,14 1,-10 1,0 1,-18 1,-6 1,-17 1,-8 1,3 1,-10 1,3 1,-11 1,0 1,-18 1,-9 1,-26 1,-31 1,4 1,17 1,-6 1,-6 1,8 1,-7 1,-1 1,-16 1,16 1,-18 1,-3 1,-18 1,23 1,-13 1,6 1,-21 1,6 1,-20 1,4 1,2 1,10 1,6 1,-7 1,3 1,-9 1,14 1,-10 1,-6 1,-28 1,3 1,0 1,4 1,-3 1,-1 1,-10 1,7 1,-12 1,5 1,-2 1,8 1,-14 1,4 1,-12 1,-9 1,8 1,12 1,13 1,-11 1,-4 1,-6 1,7 1,-1 1,-11 1,-26 1,15 1,1 1,12 1,-16 1,34 1,0 1,-14 1,-15 1,-4 1,16 1,-2 1,-16 1,-21 1,5 1,3 1,33 1,-19 1,-8 1,-22 1,12 1,19 1,-4 1,-6 1,-7 1,1 1,3 1,-8 1,17 1,5 1,12 1,-9 1,-6 1,-8 1,-17 1,-10 1,4 1,11 1,5 1,-19 1,12 1,-15 1,10 1,-7 1,14 1,-4 1,-2 1,-27 1,23 1,11 1,17 1,3 1,-2 1,-21 1,-24 1,-15 1,36 1,-1 1,10 1,-24 1,10" stroke="#6d9fd8" stroke-width="1.6" transform="translate(107.40,1120.5) scale(3.600,-0.28133)" vector-effect="non-scaling-stroke"/>
<path d="M0,47l1,-19 1,-6 1,9 1,24 1,-8 1,-12 1,-19 1,9 1,-27 1,-20 1,25 1,14 1,17 1,-11 1,-8 1,7 1,10 1,-11 1,-18 1,-21 1,-8 1,-18 1,17 1,19 1,8 1,-2 1,-22 1,-12 1,-7 1,8 1,9 1,21 1,5 1,-15 1,-6 1,0 1,23 1,-5 1,-7 1,10 1,-9 1,15 1,-4 1,11 1,-6 1,-6 1,-23 1,2 1,3 1,245 1,-7 1,-24 1,98 1,112 1,138 1,79 1,49 1,80 1,69 1,62 1,48 1,59 1,45 1,-2 1,-7 1,3 1,18 1,-27 1,-11 1,-38 1,-32 1,-4 1,34 1,31 1,-16 1,-45 1,-27 1,-9 1,37 1,-3 1,-17 1,-33 1,-37 1,-34 1,-28 1,-34 1,1 1,6 1,8 1,-43 1,-35 1,-12 1,-22 1,-20 1,-25 1,4 1,-7 1,-15 1,-28 1,-12 1,-14 1,-25 1,-19 1,-20 1,-15 1,-23 1,-6 1,9 1,-2 1,-24 1,-35 1,-11 1,-2 1,-15 1,-10 1,-20 1,12 1,-11 1,0 1,-7 1,-8 1,-27 1,-25 1,3 1,8 1,-12 1,-39 1,-8 1,29 1,20 1,-15 1,-24 1,-38 1,-9 1,0 1,18 1,-8 1,1 1,-9 1,23 1,-13 1,-11 1,-27 1,-1 1,3 1,-1 1,-2 1,-12 1,17 1,3 1,-24 1,-8 1,-1 1,10 1,-10 1,-11 1,-7 1,-4 1,10 1,10 1,14 1,-4 1,9 1,-11 1,-12 1,-1 1,7 1,-9 1,-22 1,-14 1,-4 1,16 1,-5 1,-7 1,5 1,11 1,-12 1,18 1,2 1,-11 1,-31 1,-9 1,16 1,13 1,-1 1,-10 1,-14 1,-12 1,12 1,-18 1,6 1,12 1,9 1,-16 1,1 1,16 1,4 1,-13 1,-18 1,3 1,-1 1,-10 1,15 1,5 1,-6 1,-11 1,-1 1,-9 1,-15 1,22 1,19 1,6 1,-29 1,1 1,24 1,3 1,3 1,-22 1,7 1,-11 1,-12 1,-4 1,7 1,28 1,-23 1,14 1,-5 1,18 1,-17 1,17 1,-7 1,8 1,-6 1,-22 1,-14 1,13 1,-4 1,1 1,-12 1,28 1,3 1,-3 1,-22 1,-2 1,5 1,14 1,9 1,-7 1,-4 1,-1" stroke="#6d9fd8" stroke-width="1.6" transform="translate(107.40,1120.5) scale(3.600,-0.28133)" vector-effect="non-scaling-stroke"/>
<path d="M0,86l1,1 1,-1 1,-26 1,3 1,-31 1,-27 1,-25 1,12 1,-6 1,0 1,35 1,17 1,13 1,-24 1,-18 1,3 1,28 1,6 1,-22 1,-26 1,5 1,-2 1,1 1,-14 1,4 1,-8 1,-2 1,-14 1,2 1,-2 1,2 1,42 1,11 1,14 1,-40 1,-28 1,-4 1,18 1,1 1,-15 1,-11 1,20 1,-8 1,8 1,6 1,28 1,-23 1,5 1,4 1,248 1,-2 1,-33 1,74 1,94 1,127 1,100 1,73 1,72 1,57 1,55 1,47 1,58 1,29 1,11 1,0 1,3 1,0 1,-12 1,-4 1,0 1,-47 1,-7 1,0 1,29 1,-9 1,-29 1,-22 1,-7 1,21 1,-8 1,-20 1,-22 1,-34 1,-43 1,-22 1,-15 1,-18 1,-17 1,-15 1,-22 1,-9 1,-15 1,-6 1,-34 1,-9 1,-27 1,-5 1,-27 1,-5 1,-9 1,-13 1,-19 1,-29 1,-13 1,-2 1,-2 1,-19 1,-31 1,-22 1,-13 1,-4 1,-1 1,-8 1,-25 1,-24 1,9 1,-4 1,0 1,-34 1,-5 1,-13 1,-8 1,4 1,-3 1,-1 1,-19 1,-2 1,-21 1,1 1,-17 1,-14 1,-21 1,-9 1,3 1,2 1,6 1,0 1,6 1,-13 1,1 1,-12 1,-5 1,0 1,-1 1,-9 1,-6 1,-9 1,1 1,3 1,23 1,-19 1,-13 1,-15 1,1 1,-1 1,-1 1,1 1,-2 1,-1 1,-14 1,5 1,-20 1,29 1,4 1,3 1,-13 1,-13 1,4 1,-2 1,10 1,-7 1,6 1,-2 1,-9 1,-7 1,-20 1,11 1,15 1,1 1,-14 1,-10 1,-14 1,-10 1,3 1,38 1,11 1,2 1,-14 1,4 1,-17 1,6 1,3 1,-7 1,-15 1,1 1,28 1,4 1,-10 1,-23 1,-11 1,12 1,-12 1,4 1,-16 1,11 1,17 1,2 1,-23 1,-9 1,24 1,2 1,-10 1,-20 1,15 1,18 1,10 1,3 1,-4 1,2 1,2 1,-12 1,-21 1,-2 1,-2 1,-16 1,-2 1,-7 1,2 1,-5 1,22 1,11 1,12 1,8 1,1 1,-16 1,-22 1,-20 1,-1 1,-4 1,-3 1,-4 1,12 1,24 1,25 1,-6 1,-14 1,-18 1,-7 1,0 1,9" stroke="#6d9fd8" stroke-width="1.6" transform="translate(107.40,1120.5) scale(3.600,-0.28133)" vector-effect="non-scaling-stroke"/>
<path d="M0,63l1,-14 1,-7 1,-1 1,4 1,-12 1,-35 1,0 1,23 1,-26 1,-28 1,12 1,24 1,16 1,3 1,-4 1,16 1,8 1,-5 1,-1 1,-24 1,-1 1,-22 1,9 1,3 1,-7 1,-2 1,-7 1,11 1,-9 1,0 1,-13 1,18 1,2 1,8 1,-24 1,-8 1,-3 1,5 1,-2 1,-4 1,-6 1,14 1,4 1,34 1,-7 1,1 1,-32 1,6 1,18 1,251 1,3 1,-8 1,85 1,110 1,111 1,82 1,58 1,84 1,62 1,39 1,26 1,28 1,62 1,-5 1,20 1,-3 1,26 1,-6 1,-28 1,-28 1,-33 1,-10 1,25 1,10 1,13 1,-23 1,-32 1,-11 1,19 1,-6 1,-31 1,-33 1,-13 1,-24 1,-10 1,-12 1,-13 1,-12 1,-7 1,-43 1,-32 1,-25 1,19 1,-23 1,-26 1,-46 1,-5 1,-11 1,-5 1,-10 1,-24 1,-15 1,-20 1,-19 1,-8 1,-1 1,-11 1,-6 1,-19 1,-13 1,-27 1,-17 1,-11 1,-1 1,0 1,-7 1,-16 1,-20 1,-2 1,3 1,-13 1,-16 1,-19 1,9 1,5 1,-15 1,-35 1,-24 1,-9 1,26 1,-9 1,3 1,-20 1,3 1,-7 1,-13 1,7 1,0 1,9 1,-8 1,-17 1,-15 1,-27 1,16 1,6 1,21 1,-14 1,-26 1,-8 1,19 1,-8 1,5 1,-11 1,0 1,-14 1,10 1,-13 1,-14 1,-10 1,17 1,-2 1,-13 1,-15 1,15 1,-8 1,13 1,-3 1,3 1,-10 1,4 1,1 1,6 1,-1 1,-7 1,6 1,-2 1,-12 1,-5 1,-9 1,10 1,12 1,-22 1,-10 1,-11 1,16 1,-9 1,-8 1,-4 1,5 1,6 1,-2 1,-2 1,-18 1,-11 1,9 1,2 1,3 1,4 1,7 1,6 1,4 1,-13 1,10 1,5 1,-8 1,5 1,0 1,-2 1,-10 1,12 1,6 1,1 1,-46 1,1 1,-5 1,26 1,12 1,-3 1,-5 1,-30 1,5 1,10 1,23 1,-4 1,-24 1,9 1,9 1,13 1,-15 1,-10 1,-7 1,19 1,5 1,-12 1,-19 1,-1 1,-12 1,-15 1,11 1,13 1,26 1,-8 1,-10 1,-22 1,-8 1,14 1,42 1,1 1,-13 1,-24" stroke="#6d9fd8" stroke-width="1.6" transform="translate(107.40,1120.5) scale(3.600,-0.28133)" vector-effect="non-scaling-stroke"/>
<path d="M0,66l1,-22 1,-12 1,3 1,19 1,-18 1,-25 1,-10 1,22 1,-16 1,-15 1,23 1,-4 1,18 1,-12 1,18 1,-1 1,14 1,-9 1,-20 1,-26 1,-16 1,3 1,2 1,11 1,6 1,19 1,1 1,-1 1,-26 1,-17 1,-16 1,30 1,20 1,3 1,-19 1,-31 1,5 1,-17 1,10 1,-3 1,18 1,-4 1,5 1,-2 1,19 1,14 1,-2 1,-13 1,-20 1,249 1,9 1,-26 1,47 1,95 1,127 1,120 1,54 1,80 1,65 1,46 1,32 1,45 1,52 1,16 1,5 1,10 1,4 1,-34 1,-1 1,-4 1,-20 1,-32 1,27 1,27 1,6 1,-32 1,-43 1,-2 1,0 1,22 1,-42 1,-15 1,-44 1,-4 1,-14 1,-16 1,-15 1,16 1,-13 1,-19 1,-30 1,-26 1,-29 1,-33 1,-8 1,-23 1,-19 1,2 1,0 1,-7 1,-37 1,-28 1,-10 1,-3 1,10 1,-24 1,-21 1,-24 1,-11 1,-19 1,-23 1,-3 1,-13 1,-7 1,-24 1,-7 1,-13 1,-14 1,-1 1,-3 1,-9 1,-6 1,-15 1,13 1,-14 1,-8 1,-26 1,-17 1,18 1,7 1,-4 1,-28 1,-29 1,-3 1,-8 1,1 1,0 1,14 1,4 1,-1 1,0 1,-17 1,-2 1,-4 1,10 1,1 1,-15 1,-25 1,-6 1,13 1,-2 1,4 1,-11 1,0 1,-14 1,-13 1,-14 1,-11 1,-3 1,10 1,2 1,-10 1,-4 1,5 1,-8 1,-4 1,-20 1,-2 1,12 1,25 1,9 1,-6 1,4 1,7 1,10 1,-12 1,-14 1,-1 1,-5 1,-9 1,2 1,-15 1,0 1,-4 1,12 1,7 1,-2 1,-13 1,2 1,-8 1,1 1,-1 1,7 1,3 1,1 1,6 1,-4 1,0 1,-12 1,-4 1,2 1,-7 1,9 1,-7 1,-3 1,2 1,6 1,-18 1,-11 1,-3 1,15 1,5 1,4 1,-5 1,18 1,7 1,4 1,-15 1,-6 1,7 1,-7 1,3 1,-6 1,1 1,-17 1,10 1,-3 1,-9 1,-20 1,20 1,9 1,20 1,-15 1,0 1,-16 1,8 1,-8 1,-2 1,-3 1,7 1,5 1,15 1,12 1,-6 1,-15 1,-31 1,2 1,5 1,12 1,8" stroke="#6d9fd8" stroke-width="1.6" transform="translate(107.40,1120.5) scale(3.600,-0.28133)" vector-effect="non-scaling-stroke"/>
<path d="M0,71l1,-12 1,-7 1,-13 1,14 1,-13 1,-22 1,2 1,22 1,-45 1,-32 1,10 1,44 1,14 1,-13 1,-20 1,-1 1,11 1,25 1,-4 1,-6 1,-15 1,1 1,-1 1,-3 1,-15 1,-4 1,-11 1,-11 1,7 1,2 1,8 1,2 1,17 1,-3 1,-4 1,-11 1,10 1,5 1,2 1,-6 1,-15 1,-7 1,-3 1,12 1,4 1,4 1,-17 1,-11 1,26 1,260 1,-9 1,-45 1,52 1,99 1,116 1,105 1,77 1,82 1,55 1,50 1,41 1,55 1,48 1,9 1,18 1,1 1,-4 1,-7 1,4 1,18 1,-40 1,-12 1,3 1,19 1,-8 1,-31 1,-19 1,3 1,31 1,-6 1,-34 1,-25 1,-22 1,-23 1,-49 1,-31 1,-10 1,20 1,-10 1,-29 1,-15 1,-14 1,-14 1,-28 1,-21 1,-27 1,-28 1,-26 1,4 1,-6 1,-6 1,-27 1,-18 1,-30 1,-12 1,9 1,-10 1,-20 1,-36 1,0 1,-11 1,-18 1,-22 1,-9 1,-2 1,2 1,13 1,0 1,-15 1,-30 1,-27 1,-13 1,3 1,12 1,-10 1,-13 1,-22 1,-12 1,-10 1,-2 1,-4 1,2 1,-10 1,-3 1,-6 1,-6 1,10 1,-15 1,-1 1,-12 1,-3 1,-19 1,-20 1,-5 1,-7 1,15 1,-5 1,5 1,-9 1,20 1,-9 1,3 1,-3 1,-15 1,-12 1,-23 1,0 1,0 1,5 1,7 1,-6 1,-3 1,-2 1,-3 1,-14 1,-18 1,1 1,7 1,3 1,2 1,-24 1,7 1,6 1,1 1,18 1,-11 1,8 1,-7 1,-10 1,-8 1,5 1,-1 1,3 1,-6 1,8 1,2 1,-4 1,-8 1,0 1,3 1,7 1,7 1,-31 1,-3 1,5 1,26 1,-25 1,4 1,10 1,24 1,-22 1,-31 1,2 1,18 1,17 1,9 1,-24 1,-27 1,-10 1,41 1,4 1,-20 1,-29 1,8 1,5 1,15 1,0 1,15 1,-3 1,6 1,3 1,5 1,-8 1,-5 1,-21 1,6 1,-4 1,-8 1,-10 1,6 1,-21 1,12 1,17 1,24 1,0 1,-7 1,-18 1,-5 1,-3 1,9 1,1 1,-5 1,2 1,1 1,10 1,1 1,8 1,-9 1,-21 1,-8" stroke="#6d9fd8" stroke-width="1.6" transform="translate(107.40,1120.5) scale(3.600,-0.28133)" vector-effect="non-scaling-stroke"/>
<path d="M0,53l1,-17 1,-13 1,5 1,20 1,-5 1,-28 1,-5 1,18 1,-27 1,-29 1,13 1,16 1,18 1,17 1,6 1,2 1,-5 1,3 1,-2 1,-5 1,-23 1,-4 1,-17 1,13 1,-19 1,-3 1,-21 1,16 1,19 1,0 1,-31 1,13 1,12 1,24 1,-4 1,-1 1,1 1,-19 1,-24 1,-23 1,-20 1,27 1,8 1,23 1,2 1,7 1,-4 1,-4 1,1 1,249 1,-5 1,-37 1,62 1,88 1,133 1,95 1,64 1,65 1,58 1,56 1,44 1,54 1,44 1,18 1,17 1,15 1,3 1,-22 1,-3 1,10 1,-12 1,-10 1,26 1,10 1,8 1,-45 1,-27 1,-21 1,27 1,-10 1,-7 1,-36 1,-16 1,-42 1,-16 1,-43 1,-8 1,-10 1,13 1,-34 1,-15 1,-33 1,-10 1,-38 1,-15 1,-20 1,11 1,-14 1,-14 1,-41 1,-29 1,-11 1,-5 1,-12 1,-20 1,0 1,-24 1,-1 1,-18 1,3 1,-31 1,0 1,-16 1,-2 1,-25 1,-18 1,-15 1,-6 1,-3 1,-13 1,-15 1,-18 1,-13 1,0 1,-5 1,6 1,-9 1,6 1,0 1,-12 1,-12 1,-24 1,-3 1,-11 1,14 1,-20 1,6 1,-18 1,5 1,0 1,-3 1,4 1,-11 1,-9 1,-27 1,-21 1,-7 1,6 1,-2 1,17 1,-21 1,11 1,8 1,5 1,-2 1,-4 1,-2 1,0 1,-21 1,-4 1,-3 1,8 1,-1 1,1 1,-5 1,3 1,-6 1,-17 1,1 1,12 1,-4 1,-17 1,-6 1,10 1,31 1,-15 1,-3 1,-13 1,14 1,-18 1,9 1,-11 1,1 1,4 1,-4 1,-5 1,-17 1,-5 1,16 1,11 1,11 1,-10 1,-10 1,-10 1,7 1,-2 1,-9 1,14 1,-12 1,5 1,-29 1,-4 1,5 1,19 1,10 1,4 1,0 1,-23 1,-4 1,-9 1,13 1,-2 1,-5 1,-7 1,-11 1,9 1,-1 1,12 1,1 1,15 1,-12 1,-14 1,-7 1,8 1,12 1,4 1,16 1,-11 1,-6 1,-18 1,0 1,12 1,11 1,-4 1,-6 1,-6 1,-6 1,-13 1,9 1,12 1,-7 1,-1 1,-9 1,22 1,0 1,-7 1,3 1,3 1,-11 1,-7" stroke="#6d9fd8" stroke-width="1.6" transform="translate(107.40,1120.5) scale(3.600,-0.28133)" vector-effect="non-scaling-stroke"/>
<path d="M0,35l1,3 1,-15 1,21 1,4 1,23 1,-35 1,-2 1,-10 1,-17 1,-36 1,16 1,18 1,31 1,17 1,-5 1,-21 1,-12 1,7 1,2 1,-1 1,-18 1,-23 1,-1 1,7 1,24 1,-6 1,1 1,-7 1,15 1,3 1,-25 1,-14 1,-2 1,13 1,-18 1,-3 1,3 1,23 1,-15 1,0 1,-10 1,11 1,17 1,-3 1,12 1,-25 1,14 1,-11 1,6 1,218 1,-7 1,-5 1,81 1,88 1,90 1,119 1,63 1,78 1,43 1,66 1,70 1,42 1,35 1,7 1,8 1,23 1,4 1,3 1,-19 1,-10 1,-36 1,3 1,8 1,9 1,-11 1,-27 1,6 1,-5 1,35 1,-39 1,-29 1,-29 1,-8 1,-37 1,-19 1,-42 1,3 1,-7 1,-2 1,-19 1,-23 1,-21 1,-40 1,-30 1,-28 1,-9 1,-25 1,-2 1,-21 1,-8 1,-11 1,-4 1,-18 1,-27 1,-32 1,-4 1,-3 1,-9 1,-25 1,-22 1,-15 1,-1 1,3 1,1 1,-7 1,-8 1,-9 1,-10 1,-26 1,-18 1,-2 1,-24 1,0 1,-23 1,0 1,-18 1,-7 1,0 1,18 1,-17 1,-7 1,-21 1,2 1,-6 1,-1 1,-7 1,2 1,15 1,-3 1,-1 1,-27 1,1 1,-17 1,3 1,-19 1,1 1,-9 1,-4 1,-10 1,2 1,2 1,14 1,15 1,10 1,-15 1,-20 1,-11 1,-7 1,11 1,-1 1,-1 1,-1 1,6 1,12 1,-19 1,-20 1,-4 1,-8 1,4 1,0 1,-3 1,-4 1,9 1,-8 1,16 1,-26 1,0 1,1 1,15 1,4 1,-2 1,-6 1,-10 1,-6 1,-8 1,-8 1,1 1,14 1,14 1,2 1,2 1,0 1,-7 1,-19 1,-1 1,-1 1,-15 1,3 1,-12 1,29 1,11 1,-5 1,-12 1,-4 1,-4 1,21 1,-7 1,-7 1,-6 1,19 1,12 1,-11 1,-35 1,-7 1,-6 1,5 1,16 1,20 1,2 1,-9 1,-13 1,6 1,3 1,-8 1,-12 1,-6 1,13 1,1 1,8 1,-6 1,0 1,5 1,-3 1,-14 1,-25 1,8 1,0 1,22 1,-7 1,-6 1,4 1,19 1,2 1,-16 1,-26 1,10 1,21 1,19 1,-11 1,-12" stroke="#6d9fd8" stroke-width="1.6" transform="translate(107.40,1120.5) scale(3.600,-0.28133)" vector-effect="non-scaling-stroke"/>
<path d="M0,74l1,-9 1,-19 1,5 1,8 1,-10 1,-37 1,4 1,18 1,-14 1,-33 1,3 1,8 1,19 1,1 1,-10 1,-3 1,17 1,16 1,-9 1,-23 1,-20 1,17 1,7 1,15 1,-22 1,-6 1,0 1,-8 1,-3 1,-10 1,-12 1,22 1,-5 1,15 1,-6 1,-7 1,-17 1,-16 1,4 1,-6 1,-9 1,12 1,25 1,18 1,-1 1,5 1,0 1,3 1,-15 1,244 1,-6 1,18 1,72 1,130 1,118 1,101 1,60 1,69 1,81 1,46 1,40 1,40 1,45 1,6 1,-19 1,14 1,15 1,2 1,-31 1,-19 1,-47 1,5 1,19 1,31 1,-34 1,-25 1,-28 1,-11 1,5 1,-9 1,12 1,-30 1,-30 1,-42 1,-21 1,-18 1,-16 1,19 1,-13 1,-17 1,-35 1,-9 1,-19 1,-13 1,-22 1,-4 1,-32 1,-13 1,-17 1,-1 1,-42 1,-29 1,-21 1,29 1,-9 1,-1 1,-42 1,-9 1,-45 1,-17 1,-26 1,-1 1,9 1,-6 1,15 1,-31 1,-14 1,-20 1,-4 1,2 1,-10 1,-15 1,-13 1,-3 1,4 1,-11 1,-23 1,-15 1,6 1,16 1,-15 1,-24 1,-27 1,19 1,-5 1,8 1,7 1,-13 1,-19 1,-17 1,14 1,-27 1,-13 1,-6 1,20 1,-1 1,-6 1,5 1,10 1,18 1,-24 1,-11 1,-13 1,-10 1,-27 1,0 1,-14 1,16 1,-18 1,14 1,-8 1,3 1,-8 1,-2 1,10 1,4 1,-2 1,-10 1,-13 1,-5 1,-17 1,24 1,12 1,1 1,-1 1,-9 1,4 1,6 1,-6 1,-23 1,-13 1,-8 1,8 1,12 1,13 1,-2 1,-20 1,-10 1,-5 1,17 1,4 1,14 1,-17 1,-2 1,-8 1,-13 1,8 1,2 1,11 1,-21 1,10 1,-20 1,30 1,7 1,-2 1,4 1,-25 1,-5 1,-10 1,21 1,20 1,-20 1,-13 1,1 1,8 1,5 1,1 1,-8 1,-8 1,-12 1,20 1,28 1,-8 1,-8 1,-25 1,12 1,0 1,-19 1,-3 1,8 1,14 1,6 1,-13 1,-19 1,-10 1,2 1,4 1,-2 1,18 1,-10 1,1 1,-20 1,18 1,-6 1,5 1,-10 1,12 1,-1 1,11 1,6" stroke="#6d9fd8" stroke-width="1.6" transform="translate(107.40,1120.5) scale(3.600,-0.28133)" vector-effect="non-scaling-stroke"/>
<path d="M0,65l1,-13 1,-9 1,15 1,12 1,-9 1,-35 1,-19 1,26 1,-24 1,4 1,-1 1,5 1,-1 1,-3 1,-8 1,12 1,11 1,6 1,-15 1,-15 1,-2 1,-19 1,-4 1,-5 1,9 1,10 1,8 1,-13 1,-3 1,-3 1,-10 1,10 1,23 1,17 1,-13 1,-32 1,-8 1,5 1,-5 1,-1 1,-18 1,16 1,11 1,12 1,1 1,16 1,-3 1,0 1,0 1,245 1,17 1,-27 1,87 1,87 1,139 1,94 1,67 1,76 1,68 1,63 1,41 1,35 1,36 1,-5 1,18 1,12 1,-1 1,-37 1,-26 1,-4 1,-12 1,1 1,30 1,3 1,-16 1,-32 1,-27 1,-10 1,-3 1,-7 1,10 1,-6 1,-1 1,-39 1,-28 1,-39 1,-17 1,17 1,-10 1,-32 1,-19 1,-15 1,-11 1,-33 1,-17 1,-24 1,-23 1,-12 1,-13 1,-22 1,-22 1,-23 1,3 1,-10 1,-9 1,-1 1,-11 1,-13 1,-36 1,-17 1,-23 1,-10 1,-15 1,-11 1,-11 1,-16 1,16 1,-17 1,13 1,-22 1,6 1,-15 1,-24 1,4 1,-12 1,1 1,-34 1,-13 1,-13 1,16 1,-10 1,12 1,-23 1,-6 1,-16 1,-19 1,13 1,2 1,5 1,-10 1,4 1,-7 1,-4 1,-17 1,-17 1,-14 1,0 1,8 1,10 1,8 1,-5 1,-19 1,-6 1,-8 1,7 1,-5 1,-7 1,-11 1,-10 1,-7 1,0 1,7 1,17 1,0 1,-20 1,-5 1,7 1,-5 1,-16 1,1 1,6 1,0 1,3 1,-8 1,21 1,-8 1,-11 1,-7 1,-7 1,8 1,0 1,-4 1,-4 1,13 1,-10 1,-9 1,-10 1,-3 1,0 1,-6 1,8 1,5 1,-22 1,1 1,3 1,26 1,-24 1,8 1,-20 1,13 1,-17 1,5 1,4 1,22 1,-15 1,18 1,-19 1,7 1,-20 1,18 1,-14 1,3 1,-16 1,0 1,-11 1,15 1,15 1,-4 1,0 1,9 1,9 1,-3 1,-22 1,13 1,-14 1,-2 1,-17 1,-28 1,13 1,1 1,26 1,11 1,-3 1,0 1,-17 1,8 1,-3 1,2 1,1 1,-2 1,-6 1,-1 1,-7 1,10 1,-9 1,-6 1,5 1,0 1,6 1,-8" stroke="#6d9fd8" stroke-width="1.6" transform="translate(107.40,1120.5) scale(3.600,-0.28133)" vector-effect="non-scaling-stroke"/>
<path d="M0,67l1,-5 1,-15 1,-4 1,11 1,-4 1,-18 1,-16 1,11 1,-27 1,-31 1,20 1,10 1,18 1,-14 1,15 1,2 1,26 1,-25 1,-8 1,-8 1,6 1,-6 1,-19 1,-12 1,6 1,16 1,18 1,5 1,-14 1,-11 1,-38 1,10 1,9 1,39 1,8 1,-2 1,-13 1,-21 1,-18 1,-9 1,-2 1,21 1,10 1,-6 1,-10 1,28 1,16 1,2 1,-24 1,241 1,22 1,2 1,63 1,101 1,128 1,123 1,67 1,78 1,51 1,46 1,24 1,42 1,29 1,21 1,-11 1,20 1,-8 1,7 1,-29 1,-19 1,-46 1,8 1,28 1,1 1,-17 1,-39 1,6 1,-2 1,21 1,-21 1,-40 1,-10 1,-36 1,-18 1,-44 1,-4 1,-13 1,19 1,-4 1,-10 1,-26 1,-15 1,-28 1,-30 1,-27 1,-12 1,-16 1,-34 1,-17 1,-15 1,-7 1,-29 1,-15 1,-13 1,6 1,-2 1,-8 1,-15 1,-36 1,-24 1,-26 1,-9 1,1 1,-5 1,9 1,-15 1,1 1,-31 1,-9 1,-15 1,1 1,-30 1,-14 1,0 1,3 1,-12 1,-20 1,4 1,10 1,-12 1,-16 1,-5 1,11 1,17 1,-19 1,-12 1,-32 1,3 1,-22 1,5 1,-14 1,9 1,12 1,-1 1,-15 1,-5 1,-4 1,4 1,-4 1,13 1,-13 1,-30 1,-13 1,2 1,14 1,-4 1,-15 1,2 1,1 1,6 1,-3 1,10 1,3 1,0 1,-30 1,-13 1,-4 1,15 1,8 1,3 1,-9 1,8 1,1 1,-9 1,-8 1,-3 1,7 1,18 1,1 1,-13 1,-8 1,-22 1,-10 1,-6 1,19 1,7 1,12 1,-8 1,-11 1,-12 1,5 1,16 1,-9 1,-8 1,-11 1,4 1,-2 1,14 1,-6 1,-7 1,1 1,-11 1,7 1,0 1,0 1,8 1,-8 1,1 1,3 1,17 1,-3 1,-19 1,-9 1,-4 1,8 1,-8 1,15 1,4 1,14 1,1 1,-30 1,-10 1,-2 1,29 1,-29 1,-5 1,2 1,8 1,-14 1,-5 1,-13 1,15 1,-4 1,13 1,-7 1,11 1,8 1,-8 1,-4 1,-25 1,4 1,-13 1,22 1,3 1,7 1,3 1,-2 1,2 1,-17 1,7" stroke="#6d9fd8" stroke-width="1.6" transform="translate(107.40,1120.5) scale(3.600,-0.28133)" vector-effect="non-scaling-stroke"/>
<path d="M0,58l1,-9 1,-2 1,-8 1,2 1,1 1,-42 1,2 1,15 1,-8 1,-18 1,12 1,28 1,12 1,-19 1,-29 1,11 1,19 1,18 1,-28 1,4 1,-5 1,-1 1,-14 1,-6 1,9 1,3 1,-21 1,-5 1,6 1,0 1,-16 1,9 1,24 1,23 1,-3 1,-22 1,-21 1,-8 1,9 1,-6 1,-3 1,-2 1,20 1,-14 1,18 1,13 1,18 1,-14 1,-37 1,235 1,30 1,19 1,83 1,95 1,124 1,91 1,55 1,68 1,79 1,61 1,35 1,23 1,27 1,8 1,9 1,6 1,11 1,-20 1,8 1,-13 1,-23 1,-22 1,27 1,5 1,-4 1,-44 1,-16 1,-4 1,30 1,-10 1,-26 1,-21 1,-16 1,-15 1,-20 1,-8 1,-7 1,16 1,-14 1,-28 1,-40 1,-25 1,-18 1,-26 1,-15 1,-22 1,-6 1,-25 1,-7 1,-23 1,-17 1,-33 1,-13 1,0 1,-5 1,-9 1,-18 1,-7 1,-15 1,-13 1,-29 1,-28 1,-3 1,-12 1,3 1,-22 1,11 1,-18 1,-16 1,-40 1,-4 1,-11 1,3 1,-10 1,5 1,0 1,-5 1,-24 1,-4 1,-4 1,-6 1,0 1,-18 1,13 1,-21 1,-14 1,-13 1,0 1,-3 1,-5 1,11 1,-10 1,-2 1,-9 1,1 1,-14 1,6 1,-22 1,-2 1,-18 1,15 1,0 1,6 1,-5 1,3 1,-13 1,-3 1,-1 1,-5 1,-5 1,-24 1,9 1,-6 1,16 1,-22 1,-2 1,-18 1,4 1,3 1,31 1,0 1,7 1,-1 1,-2 1,-6 1,-18 1,-13 1,16 1,-3 1,-19 1,-17 1,2 1,20 1,3 1,-12 1,-13 1,-14 1,-26 1,11 1,4 1,24 1,-5 1,-2 1,-11 1,14 1,2 1,2 1,-4 1,5 1,1 1,-20 1,-2 1,21 1,29 1,-25 1,1 1,-8 1,-9 1,-20 1,15 1,8 1,-8 1,-27 1,10 1,3 1,15 1,-3 1,17 1,-8 1,5 1,-11 1,8 1,-14 1,0 1,-20 1,19 1,-1 1,8 1,3 1,4 1,-15 1,-7 1,6 1,9 1,-12 1,-4 1,-31 1,-1 1,12 1,37 1,16 1,-9 1,-19 1,7 1,9 1,5 1,-14 1,-17 1,-5 1,2" stroke="#6d9fd8" stroke-width="1.6" transform="translate(107.40,1120.5) scale(3.600,-0.28133)" vector-effect="non-scaling-stroke"/>
<path d="M0,63l1,-10 1,-25 1,15 1,14 1,-6 1,-40 1,-12 1,33 1,-11 1,-17 1,-5 1,-2 1,-3 1,-5 1,8 1,16 1,25 1,-5 1,-14 1,-22 1,-11 1,-27 1,-4 1,20 1,8 1,17 1,-6 1,6 1,-11 1,-14 1,-5 1,21 1,23 1,20 1,-19 1,-24 1,-13 1,-17 1,-11 1,-6 1,-8 1,18 1,9 1,22 1,7 1,-2 1,11 1,-18 1,1 1,214 1,7 1,-21 1,87 1,88 1,117 1,77 1,60 1,72 1,60 1,56 1,36 1,60 1,54 1,9 1,11 1,-1 1,5 1,-16 1,-2 1,9 1,-26 1,13 1,29 1,40 1,-4 1,-30 1,-3 1,-12 1,26 1,-44 1,-26 1,-14 1,-7 1,-26 1,-28 1,-36 1,-14 1,0 1,4 1,-27 1,-25 1,-24 1,-2 1,-34 1,-13 1,-43 1,-6 1,-4 1,7 1,-7 1,-30 1,-29 1,-18 1,-10 1,-1 1,-19 1,-22 1,-42 1,-12 1,-21 1,-3 1,-5 1,2 1,0 1,-24 1,-10 1,-11 1,-4 1,-18 1,2 1,-21 1,-10 1,-20 1,15 1,-3 1,-14 1,-21 1,-4 1,8 1,-9 1,-16 1,-18 1,4 1,-9 1,5 1,-9 1,2 1,6 1,-21 1,-4 1,-14 1,-9 1,-8 1,-22 1,-4 1,-3 1,-4 1,8 1,5 1,7 1,-9 1,-5 1,-8 1,-6 1,-8 1,-1 1,-3 1,-16 1,-22 1,-3 1,10 1,38 1,-4 1,6 1,-32 1,-14 1,-15 1,4 1,9 1,17 1,4 1,-3 1,-11 1,-1 1,27 1,-13 1,-26 1,7 1,-1 1,12 1,-38 1,-2 1,-18 1,24 1,18 1,8 1,-4 1,-4 1,15 1,-4 1,-22 1,-20 1,-3 1,8 1,17 1,-9 1,-15 1,-16 1,-14 1,7 1,5 1,-11 1,21 1,13 1,17 1,-7 1,-6 1,-26 1,1 1,4 1,7 1,-8 1,-6 1,14 1,-17 1,17 1,-8 1,0 1,-17 1,0 1,0 1,5 1,18 1,12 1,-20 1,-10 1,4 1,-11 1,11 1,-8 1,11 1,7 1,9 1,-11 1,-19 1,25 1,2 1,-13 1,-19 1,6 1,5 1,0 1,-21 1,8 1,-2 1,20 1,-3 1,8 1,2 1,3" stroke="#6d9fd8" stroke-width="1.6" transform="translate(107.40,1120.5) scale(3.600,-0.28133)" vector-effect="non-scaling-stroke"/>
<path d="M0,54l1,-16 1,-7 1,1 1,33 1,9 1,-30 1,-16 1,-2 1,-29 1,-42 1,13 1,41 1,29 1,4 1,-15 1,-15 1,5 1,-1 1,14 1,-6 1,-25 1,-36 1,0 1,20 1,7 1,-10 1,-7 1,-6 1,8 1,-9 1,2 1,25 1,8 1,5 1,-29 1,-27 1,8 1,5 1,15 1,-11 1,-10 1,-2 1,10 1,8 1,28 1,6 1,1 1,-5 1,-16 1,231 1,-18 1,-28 1,58 1,93 1,111 1,98 1,60 1,81 1,58 1,45 1,45 1,43 1,54 1,21 1,12 1,24 1,5 1,10 1,-12 1,8 1,-35 1,-24 1,16 1,36 1,5 1,-29 1,-5 1,-2 1,62 1,-23 1,-20 1,-45 1,-18 1,-9 1,-41 1,-16 1,-24 1,20 1,4 1,-12 1,-18 1,-35 1,-14 1,-44 1,-21 1,-26 1,-17 1,-15 1,-14 1,12 1,-15 1,-30 1,-40 1,-14 1,-6 1,1 1,-23 1,-16 1,-12 1,-23 1,9 1,-24 1,-5 1,-23 1,3 1,11 1,-9 1,-27 1,-24 1,-15 1,2 1,-4 1,-4 1,-2 1,-31 1,-20 1,-12 1,2 1,0 1,-20 1,-4 1,-13 1,-21 1,0 1,2 1,-3 1,-20 1,-8 1,-10 1,21 1,-1 1,-11 1,-25 1,10 1,7 1,-5 1,-20 1,-9 1,13 1,-12 1,5 1,-2 1,17 1,-11 1,-17 1,-9 1,1 1,2 1,-5 1,-3 1,-9 1,-6 1,9 1,8 1,1 1,-3 1,-14 1,-16 1,-17 1,18 1,-10 1,4 1,1 1,-8 1,17 1,-1 1,11 1,-12 1,-19 1,-16 1,0 1,3 1,17 1,-13 1,-8 1,-10 1,6 1,-17 1,4 1,9 1,23 1,3 1,-4 1,-23 1,-7 1,-3 1,34 1,4 1,-4 1,-9 1,8 1,-6 1,4 1,-13 1,-1 1,-10 1,22 1,-16 1,1 1,-3 1,-7 1,-6 1,-26 1,9 1,-2 1,26 1,5 1,-10 1,-3 1,16 1,-4 1,4 1,-21 1,13 1,-30 1,-2 1,16 1,7 1,12 1,-20 1,5 1,-8 1,21 1,-28 1,9 1,-19 1,-3 1,-8 1,18 1,25 1,-3 1,-11 1,-2 1,-9 1,-7 1,-2 1,19 1,9 1,3 1,-6" stroke="#6d9fd8" stroke-width="1.6" transform="translate(107.40,1120.5) scale(3.600,-0.28133)" vector-effect="non-scaling-stroke"/>
<path d="M0,76l1,-1 1,-16 1,-7 1,1 1,-21 1,-3 1,-15 1,22 1,-47 1,-8 1,29 1,16 1,13 1,-13 1,14 1,-2 1,7 1,3 1,-21 1,-14 1,-25 1,-8 1,-1 1,6 1,23 1,13 1,-13 1,-23 1,-6 1,-14 1,-3 1,-6 1,12 1,18 1,-11 1,-6 1,1 1,20 1,-11 1,-23 1,-24 1,11 1,30 1,23 1,23 1,-16 1,-8 1,-7 1,10 1,244 1,0 1,-33 1,53 1,79 1,132 1,107 1,44 1,63 1,67 1,64 1,33 1,47 1,57 1,16 1,6 1,22 1,16 1,-14 1,-9 1,8 1,-4 1,9 1,25 1,4 1,-19 1,-52 1,-8 1,-1 1,41 1,-8 1,-4 1,-24 1,-14 1,-35 1,-16 1,-32 1,7 1,19 1,22 1,-41 1,-40 1,-40 1,-6 1,-8 1,-2 1,-31 1,-33 1,-17 1,4 1,2 1,-19 1,-40 1,-34 1,-7 1,3 1,-1 1,-25 1,-2 1,-13 1,-10 1,-36 1,2 1,-21 1,-1 1,-28 1,-9 1,-18 1,-15 1,-18 1,-8 1,-9 1,-19 1,-12 1,10 1,-2 1,-21 1,-35 1,-12 1,16 1,-6 1,2 1,-24 1,-7 1,-19 1,3 1,-11 1,15 1,5 1,-10 1,-27 1,-33 1,3 1,-8 1,2 1,-16 1,15 1,7 1,10 1,-26 1,-16 1,-15 1,9 1,6 1,8 1,1 1,2 1,-17 1,-15 1,-15 1,-4 1,-11 1,0 1,2 1,10 1,-7 1,-24 1,-6 1,-4 1,24 1,10 1,-6 1,-8 1,1 1,-9 1,16 1,-13 1,4 1,-10 1,-11 1,-22 1,6 1,-1 1,8 1,18 1,0 1,0 1,-42 1,1 1,10 1,10 1,23 1,-6 1,-11 1,-39 1,2 1,1 1,5 1,0 1,3 1,0 1,3 1,-10 1,6 1,7 1,3 1,15 1,-22 1,-4 1,-8 1,28 1,-1 1,-23 1,-9 1,-2 1,16 1,5 1,-1 1,-11 1,0 1,10 1,9 1,-10 1,5 1,-1 1,-14 1,-13 1,4 1,1 1,-9 1,11 1,4 1,10 1,-12 1,-22 1,0 1,25 1,-1 1,-11 1,-21 1,11 1,14 1,8 1,-3 1,-16 1,2 1,-1 1,19 1,-9 1,0 1,-5" stroke="#6d9fd8" stroke-width="1.6" transform="translate(107.40,1120.5) scale(3.600,-0.28133)" vector-effect="non-scaling-stroke"/>
<path d="M0,66l1,-9 1,-3 1,-5 1,2 1,-19 1,-30 1,6 1,22 1,-23 1,-29 1,21 1,16 1,10 1,-12 1,1 1,-3 1,8 1,2 1,-6 1,-4 1,-5 1,-14 1,16 1,2 1,23 1,-10 1,-24 1,-29 1,-10 1,13 1,8 1,-5 1,2 1,11 1,17 1,-4 1,-22 1,-20 1,-11 1,2 1,9 1,23 1,25 1,-9 1,-11 1,-20 1,0 1,7 1,3 1,249 1,9 1,-5 1,78 1,99 1,119 1,110 1,59 1,86 1,42 1,35 1,35 1,33 1,50 1,12 1,6 1,16 1,9 1,17 1,-16 1,-9 1,-49 1,14 1,13 1,39 1,-24 1,-20 1,-13 1,12 1,22 1,-31 1,-33 1,-7 1,-1 1,-14 1,-44 1,-37 1,-8 1,32 1,21 1,-12 1,-50 1,-52 1,-26 1,-12 1,9 1,-26 1,-5 1,-25 1,3 1,-27 1,-25 1,-35 1,-13 1,-16 1,-8 1,-7 1,-17 1,-13 1,-25 1,-9 1,-6 1,-12 1,7 1,-34 1,-14 1,-20 1,-13 1,-7 1,-15 1,-4 1,3 1,-3 1,3 1,-14 1,-14 1,-2 1,-19 1,-22 1,4 1,0 1,-5 1,-32 1,-36 1,-5 1,0 1,11 1,-1 1,4 1,-4 1,-1 1,-11 1,-13 1,-12 1,-11 1,7 1,-2 1,2 1,6 1,4 1,-13 1,-33 1,-11 1,3 1,11 1,2 1,9 1,-4 1,-5 1,-27 1,-24 1,-16 1,19 1,15 1,23 1,-5 1,1 1,-25 1,-17 1,-3 1,2 1,-9 1,13 1,28 1,-16 1,-10 1,-35 1,-8 1,-5 1,11 1,16 1,3 1,-2 1,-12 1,0 1,7 1,9 1,-14 1,-26 1,-1 1,10 1,16 1,3 1,-8 1,-20 1,-4 1,-5 1,-11 1,9 1,-9 1,9 1,-1 1,3 1,29 1,17 1,-3 1,-14 1,-25 1,-24 1,10 1,20 1,13 1,-9 1,-12 1,12 1,-11 1,-20 1,2 1,-8 1,7 1,0 1,9 1,2 1,-6 1,5 1,-8 1,-4 1,9 1,-3 1,12 1,-8 1,6 1,5 1,-6 1,-3 1,-10 1,19 1,-9 1,-21 1,-25 1,-10 1,6 1,13 1,11 1,2 1,-2 1,-2 1,9 1,0 1,21 1,-1" stroke="#6d9fd8" stroke-width="1.6" transform="translate(107.40,1120.5) scale(3.600,-0.28133)" vector-effect="non-scaling-stroke"/>
<path d="M0,66l1,-25 1,-1 1,-8 1,31 1,1 1,-49 1,-6 1,14 1,5 1,-27 1,11 1,-11 1,17 1,-17 1,9 1,13 1,13 1,6 1,-30 1,-10 1,-29 1,-10 1,8 1,31 1,21 1,0 1,-9 1,-20 1,-13 1,-17 1,1 1,25 1,2 1,9 1,-17 1,6 1,-11 1,-12 1,-21 1,-7 1,6 1,24 1,2 1,19 1,-12 1,24 1,-20 1,10 1,6 1,245 1,5 1,-40 1,76 1,109 1,142 1,107 1,53 1,55 1,50 1,48 1,45 1,41 1,52 1,18 1,10 1,14 1,-10 1,-5 1,-30 1,14 1,-20 1,17 1,12 1,15 1,-8 1,-27 1,-12 1,-9 1,25 1,-26 1,-10 1,-17 1,-18 1,-27 1,-27 1,-23 1,-7 1,7 1,4 1,-34 1,-17 1,-11 1,-6 1,-39 1,-8 1,-33 1,-14 1,-33 1,-19 1,-12 1,-24 1,-11 1,1 1,-5 1,-10 1,-21 1,-29 1,-3 1,-16 1,-4 1,-35 1,-20 1,-20 1,-12 1,-11 1,2 1,-7 1,-3 1,-13 1,-3 1,-9 1,-39 1,-9 1,-13 1,24 1,-8 1,-15 1,-22 1,-6 1,12 1,-10 1,-8 1,-28 1,1 1,-7 1,-6 1,-4 1,8 1,1 1,1 1,-19 1,-13 1,-13 1,5 1,-4 1,-9 1,-6 1,9 1,10 1,-16 1,-28 1,0 1,16 1,-14 1,-4 1,2 1,22 1,-25 1,-18 1,-5 1,17 1,-3 1,-16 1,-7 1,-3 1,-8 1,-6 1,0 1,19 1,8 1,-3 1,-5 1,-5 1,-23 1,-2 1,-7 1,-3 1,27 1,9 1,16 1,-31 1,-11 1,-22 1,2 1,4 1,-6 1,9 1,12 1,12 1,-6 1,-23 1,-7 1,-9 1,-13 1,8 1,1 1,3 1,10 1,5 1,-6 1,-15 1,-4 1,24 1,8 1,11 1,-26 1,-3 1,-39 1,22 1,1 1,9 1,-13 1,8 1,-15 1,1 1,-10 1,27 1,15 1,18 1,-12 1,-16 1,-18 1,4 1,-1 1,-14 1,1 1,11 1,-3 1,18 1,-12 1,2 1,-20 1,13 1,4 1,0 1,28 1,-10 1,8 1,-26 1,-5 1,11 1,-6 1,-7 1,-28 1,5 1,25 1,10 1,-6 1,-12 1,1" stroke="#6d9fd8" stroke-width="1.6" transform="translate(107.40,1120.5) scale(3.600,-0.28133)" vector-effect="non-scaling-stroke"/>
<path d="M0,74l1,3 1,-20 1,-14 1,0 1,-1 1,-21 1,-3 1,16 1,-13 1,-26 1,13 1,1 1,18 1,-7 1,9 1,3 1,7 1,-1 1,-18 1,-8 1,-25 1,-9 1,3 1,6 1,5 1,6 1,-5 1,-18 1,-7 1,8 1,5 1,-4 1,-3 1,14 1,-3 1,4 1,-3 1,-3 1,-12 1,-8 1,6 1,6 1,4 1,4 1,24 1,10 1,3 1,-15 1,1 1,243 1,-7 1,-36 1,63 1,100 1,124 1,91 1,48 1,77 1,61 1,59 1,40 1,41 1,53 1,23 1,13 1,8 1,1 1,-3 1,-5 1,5 1,-30 1,3 1,1 1,19 1,-2 1,-19 1,-3 1,-2 1,45 1,-27 1,-34 1,-34 1,-10 1,-21 1,-36 1,-14 1,-8 1,35 1,-18 1,-16 1,-41 1,-14 1,-18 1,-18 1,-26 1,-19 1,-20 1,-2 1,-19 1,-13 1,-25 1,-21 1,-35 1,0 1,-5 1,4 1,-20 1,-21 1,-8 1,-12 1,-13 1,-41 1,-6 1,-12 1,16 1,-29 1,-10 1,-20 1,-2 1,-5 1,-6 1,-17 1,-7 1,3 1,-2 1,-19 1,-17 1,-23 1,0 1,0 1,-13 1,-20 1,-39 1,21 1,3 1,9 1,-14 1,-4 1,-17 1,-5 1,-8 1,4 1,-1 1,18 1,-17 1,-19 1,-27 1,-8 1,-7 1,3 1,11 1,15 1,-8 1,-8 1,-17 1,8 1,0 1,4 1,0 1,-9 1,-6 1,-4 1,4 1,-3 1,-9 1,-12 1,7 1,-17 1,-4 1,-5 1,3 1,-8 1,10 1,5 1,10 1,-27 1,-7 1,3 1,8 1,-16 1,3 1,-6 1,-8 1,-4 1,-2 1,2 1,5 1,7 1,18 1,4 1,-3 1,-2 1,-21 1,-18 1,-15 1,-1 1,6 1,5 1,-6 1,-9 1,15 1,15 1,17 1,1 1,-21 1,-6 1,-8 1,-10 1,-9 1,1 1,21 1,11 1,-14 1,5 1,-13 1,13 1,-7 1,1 1,12 1,8 1,1 1,-7 1,-13 1,9 1,-13 1,10 1,12 1,-20 1,-15 1,-12 1,12 1,10 1,12 1,-4 1,-7 1,-12 1,-5 1,-6 1,7 1,-8 1,12 1,-1 1,-4 1,-6 1,-8 1,14 1,16 1,0 1,-14 1,-7" stroke="#6d9fd8" stroke-width="1.6" transform="translate(107.40,1120.5) scale(3.600,-0.28133)" vector-effect="non-scaling-stroke"/>
<path d="M0,77l1,-15 1,-25 1,4 1,33 1,2 1,-39 1,-21 1,13 1,4 1,-20 1,11 1,-5 1,-2 1,-16 1,-11 1,7 1,21 1,12 1,2 1,-1 1,-11 1,-20 1,-26 1,6 1,12 1,12 1,-12 1,-17 1,8 1,2 1,9 1,-6 1,28 1,-4 1,-8 1,-33 1,-5 1,18 1,-10 1,-6 1,-11 1,24 1,10 1,-3 1,-4 1,8 1,10 1,9 1,12 1,242 1,-7 1,-19 1,63 1,103 1,134 1,92 1,64 1,57 1,64 1,53 1,49 1,59 1,38 1,17 1,7 1,23 1,-17 1,-22 1,-26 1,12 1,-37 1,-11 1,-4 1,10 1,-18 1,-24 1,-23 1,-26 1,12 1,-21 1,-5 1,-22 1,-22 1,-45 1,-44 1,-29 1,-15 1,7 1,3 1,-26 1,-37 1,-42 1,-13 1,-20 1,-8 1,-19 1,-17 1,-18 1,-26 1,-10 1,-26 1,2 1,-9 1,-19 1,-26 1,-13 1,-23 1,-18 1,-19 1,7 1,-7 1,-3 1,-13 1,-7 1,-21 1,-16 1,-6 1,-12 1,-1 1,-30 1,-3 1,-16 1,10 1,0 1,-2 1,6 1,-3 1,1 1,-1 1,-10 1,-11 1,-24 1,-13 1,7 1,12 1,-11 1,-7 1,2 1,-1 1,9 1,-14 1,2 1,-17 1,3 1,-7 1,-3 1,-21 1,2 1,6 1,20 1,-2 1,-21 1,-5 1,-10 1,3 1,10 1,0 1,-6 1,-7 1,0 1,1 1,1 1,-1 1,8 1,-25 1,0 1,-1 1,5 1,-6 1,3 1,-5 1,0 1,1 1,-8 1,7 1,-17 1,-2 1,13 1,9 1,-1 1,-16 1,-13 1,-11 1,21 1,4 1,-4 1,-19 1,5 1,14 1,-13 1,-9 1,23 1,4 1,-6 1,-2 1,-2 1,-7 1,-2 1,0 1,25 1,-20 1,-7 1,-18 1,24 1,-4 1,14 1,-15 1,-3 1,12 1,14 1,-1 1,-28 1,-7 1,-5 1,41 1,-1 1,25 1,-33 1,-9 1,-24 1,-7 1,4 1,9 1,1 1,8 1,21 1,-5 1,-15 1,-10 1,18 1,0 1,4 1,5 1,-16 1,-2 1,-3 1,18 1,-20 1,-17 1,-10 1,20 1,23 1,1 1,-20 1,1 1,-15 1,20 1,-19 1,8 1,-8" stroke="#75bb7e" stroke-width="1.5" transform="translate(107.40,1120.5) scale(3.600,-0.28133)" vector-effect="non-scaling-stroke"/>
<path d="M0,87l1,-11 1,-4 1,-23 1,11 1,-17 1,-29 1,-4 1,26 1,-15 1,-32 1,3 1,14 1,22 1,-15 1,-22 1,21 1,24 1,13 1,-28 1,-5 1,-21 1,-19 1,9 1,8 1,11 1,3 1,0 1,-7 1,-25 1,-12 1,4 1,24 1,20 1,-1 1,0 1,-2 1,-2 1,-25 1,-27 1,12 1,23 1,15 1,-6 1,-28 1,7 1,16 1,16 1,9 1,-16 1,230 1,-33 1,-40 1,55 1,91 1,104 1,82 1,46 1,57 1,61 1,61 1,44 1,69 1,47 1,20 1,1 1,10 1,34 1,6 1,8 1,11 1,-23 1,1 1,6 1,21 1,9 1,-8 1,5 1,6 1,32 1,11 1,-7 1,7 1,-15 1,-24 1,-36 1,-19 1,16 1,21 1,23 1,-21 1,-27 1,-23 1,-16 1,6 1,-14 1,-21 1,-24 1,-26 1,-13 1,-15 1,-9 1,-18 1,-8 1,-32 1,0 1,-20 1,-15 1,-21 1,-24 1,2 1,-37 1,-7 1,-22 1,12 1,0 1,-15 1,-27 1,-36 1,-13 1,-4 1,-18 1,-21 1,-21 1,0 1,10 1,-16 1,-22 1,-22 1,2 1,-11 1,-16 1,-26 1,3 1,-11 1,-3 1,-24 1,-3 1,2 1,2 1,4 1,13 1,-15 1,-28 1,-26 1,-13 1,17 1,-6 1,5 1,-21 1,-8 1,-12 1,3 1,3 1,5 1,-14 1,-12 1,-6 1,5 1,-2 1,-12 1,4 1,-1 1,6 1,-10 1,6 1,-34 1,10 1,-18 1,26 1,-15 1,1 1,5 1,6 1,-14 1,-10 1,-15 1,3 1,-1 1,8 1,-12 1,0 1,-20 1,-5 1,-10 1,16 1,-5 1,16 1,-15 1,1 1,-9 1,6 1,2 1,-23 1,-17 1,-1 1,23 1,6 1,4 1,-7 1,-9 1,-2 1,-17 1,9 1,18 1,18 1,3 1,-9 1,-28 1,6 1,1 1,17 1,-11 1,-3 1,7 1,-3 1,0 1,-8 1,7 1,1 1,1 1,1 1,-5 1,-9 1,-5 1,-35 1,8 1,4 1,35 1,-19 1,3 1,-6 1,20 1,-14 1,-37 1,-9 1,17 1,20 1,-9 1,-11 1,0 1,0 1,0 1,2 1,9 1,-4 1,-16 1,-6 1,12 1,9 1,6" stroke="#ee9494" stroke-width="1.6" transform="translate(107.40,1120.5) scale(3.600,-0.28133)" vector-effect="non-scaling-stroke"/>
<path d="M0,71l1,-14 1,-19 1,14 1,-7 1,-15 1,-36 1,18 1,29 1,-35 1,-18 1,5 1,17 1,-3 1,4 1,-13 1,15 1,2 1,23 1,-20 1,6 1,-19 1,-9 1,-17 1,3 1,5 1,9 1,-15 1,-11 1,-7 1,0 1,0 1,18 1,25 1,23 1,-11 1,-10 1,-30 1,-15 1,-24 1,4 1,6 1,19 1,0 1,18 1,16 1,19 1,-26 1,-19 1,-8 1,240 1,-9 1,-53 1,59 1,87 1,119 1,93 1,43 1,66 1,49 1,61 1,58 1,33 1,32 1,-13 1,21 1,27 1,27 1,-9 1,-9 1,8 1,-11 1,4 1,21 1,27 1,-1 1,-19 1,13 1,-7 1,24 1,-32 1,-13 1,-3 1,-2 1,6 1,2 1,-12 1,0 1,-1 1,13 1,-10 1,-9 1,-10 1,-4 1,-16 1,-20 1,-33 1,-23 1,-1 1,11 1,8 1,-23 1,-44 1,-30 1,-21 1,-18 1,-28 1,-2 1,-4 1,-11 1,-13 1,-8 1,11 1,-15 1,-23 1,-19 1,-24 1,-8 1,-10 1,-15 1,-10 1,-26 1,-16 1,2 1,-11 1,-3 1,-26 1,1 1,-5 1,-11 1,-23 1,-5 1,-5 1,-6 1,-12 1,-5 1,-15 1,8 1,11 1,-13 1,-19 1,-13 1,1 1,-13 1,-22 1,-15 1,5 1,10 1,-4 1,-5 1,-21 1,7 1,-10 1,1 1,-24 1,1 1,10 1,-7 1,-2 1,-20 1,3 1,-17 1,15 1,19 1,0 1,-11 1,-27 1,14 1,-12 1,-3 1,4 1,-5 1,13 1,-4 1,-12 1,5 1,-13 1,1 1,-17 1,-8 1,-1 1,14 1,-12 1,-7 1,-7 1,4 1,-16 1,-4 1,7 1,16 1,6 1,-1 1,6 1,-13 1,-13 1,-17 1,-1 1,-17 1,7 1,10 1,6 1,-4 1,-53 1,13 1,16 1,15 1,3 1,-2 1,-8 1,4 1,3 1,19 1,-26 1,-10 1,1 1,21 1,-2 1,-5 1,-3 1,-1 1,1 1,-12 1,-6 1,11 1,-6 1,-14 1,-4 1,13 1,-4 1,-1 1,8 1,16 1,-9 1,-2 1,-26 1,10 1,7 1,-4 1,-23 1,-15 1,17 1,27 1,5 1,10 1,-11 1,-2 1,-16 1,9 1,3 1,-6 1,-9" stroke="#ee9494" stroke-width="1.6" transform="translate(107.40,1120.5) scale(3.600,-0.28133)" vector-effect="non-scaling-stroke"/>
<path d="M0,41l1,-6 1,-2 1,8 1,7 1,8 1,-25 1,7 1,14 1,-29 1,-43 1,1 1,23 1,15 1,-13 1,-3 1,6 1,36 1,-2 1,3 1,-31 1,-24 1,-29 1,23 1,28 1,16 1,-13 1,-20 1,1 1,-7 1,1 1,-24 1,11 1,12 1,21 1,-2 1,-14 1,-9 1,-22 1,-5 1,-15 1,5 1,24 1,14 1,5 1,0 1,-3 1,-13 1,-5 1,11 1,251 1,-47 1,-75 1,30 1,98 1,100 1,79 1,22 1,79 1,48 1,46 1,39 1,59 1,59 1,11 1,22 1,10 1,17 1,-1 1,5 1,24 1,-19 1,-1 1,5 1,19 1,12 1,-9 1,12 1,-11 1,22 1,-2 1,33 1,19 1,1 1,-40 1,-25 1,-11 1,8 1,16 1,10 1,-11 1,-11 1,-31 1,4 1,-6 1,6 1,-23 1,-14 1,-7 1,4 1,-8 1,-22 1,-28 1,-19 1,-15 1,-1 1,-7 1,-6 1,-13 1,-20 1,-16 1,-22 1,-7 1,2 1,-16 1,0 1,-21 1,-8 1,-21 1,-24 1,-1 1,-15 1,-1 1,-31 1,-14 1,-2 1,-4 1,-16 1,-45 1,-5 1,3 1,9 1,-12 1,-26 1,-13 1,-14 1,-21 1,0 1,-8 1,0 1,-7 1,1 1,-10 1,-29 1,7 1,-14 1,11 1,-20 1,1 1,-7 1,-5 1,1 1,-2 1,8 1,-5 1,-16 1,-3 1,-8 1,-12 1,-5 1,-13 1,9 1,-10 1,13 1,4 1,-1 1,-23 1,-11 1,-22 1,21 1,20 1,-12 1,-1 1,-13 1,-19 1,3 1,-21 1,-2 1,-1 1,16 1,8 1,-21 1,-15 1,-5 1,12 1,0 1,1 1,-18 1,-6 1,10 1,-2 1,13 1,2 1,-4 1,-26 1,-14 1,5 1,-4 1,22 1,-12 1,13 1,-16 1,5 1,10 1,4 1,-7 1,-1 1,10 1,-11 1,-1 1,-1 1,3 1,-27 1,-25 1,-5 1,22 1,23 1,7 1,-3 1,0 1,-8 1,-5 1,-6 1,8 1,-6 1,-14 1,9 1,1 1,-1 1,-20 1,7 1,9 1,23 1,-2 1,-8 1,-14 1,9 1,-19 1,28 1,-4 1,8 1,-31 1,11 1,17 1,-6 1,-11 1,-18 1,15 1,-7 1,15 1,-4" stroke="#ee9494" stroke-width="1.6" transform="translate(107.40,1120.5) scale(3.600,-0.28133)" vector-effect="non-scaling-stroke"/>
<path d="M0,63l1,-9 1,-23 1,20 1,-1 1,-10 1,-44 1,-3 1,20 1,-10 1,-14 1,20 1,21 1,3 1,8 1,-32 1,8 1,-1 1,26 1,-7 1,-1 1,-44 1,-7 1,-7 1,45 1,9 1,2 1,-11 1,-21 1,-19 1,-18 1,-2 1,3 1,11 1,19 1,15 1,-6 1,-13 1,-14 1,-19 1,-2 1,-22 1,25 1,7 1,28 1,5 1,12 1,-6 1,9 1,-12 1,236 1,-42 1,-44 1,47 1,83 1,97 1,109 1,51 1,64 1,33 1,43 1,39 1,47 1,29 1,29 1,7 1,27 1,13 1,-17 1,6 1,-9 1,-6 1,-5 1,29 1,24 1,10 1,-32 1,-10 1,4 1,48 1,-2 1,-18 1,-9 1,-13 1,-9 1,-3 1,4 1,13 1,16 1,19 1,-3 1,-23 1,-17 1,-9 1,-15 1,3 1,-23 1,12 1,-4 1,-1 1,-15 1,-41 1,-9 1,-18 1,-5 1,-3 1,-9 1,2 1,-30 1,-14 1,-24 1,-37 1,-15 1,-4 1,-7 1,-12 1,-21 1,-8 1,-29 1,-12 1,-5 1,9 1,-22 1,-11 1,-12 1,1 1,-7 1,-6 1,-17 1,-2 1,-18 1,-19 1,-21 1,-8 1,-21 1,2 1,-31 1,15 1,-32 1,3 1,0 1,11 1,-19 1,-20 1,-12 1,-4 1,0 1,1 1,10 1,-6 1,-5 1,-28 1,-9 1,-2 1,-14 1,4 1,-9 1,19 1,-12 1,6 1,-22 1,1 1,-10 1,-9 1,-18 1,-10 1,2 1,4 1,-24 1,13 1,9 1,19 1,-9 1,-3 1,-15 1,15 1,-5 1,-14 1,19 1,2 1,16 1,-29 1,-15 1,-23 1,-6 1,1 1,-7 1,11 1,3 1,14 1,-1 1,-4 1,-10 1,-9 1,0 1,7 1,-11 1,-26 1,22 1,-12 1,23 1,-31 1,-6 1,-7 1,24 1,18 1,11 1,-21 1,-37 1,-5 1,27 1,15 1,-24 1,-19 1,-11 1,5 1,-6 1,4 1,-4 1,10 1,21 1,7 1,-9 1,-6 1,-3 1,-12 1,3 1,18 1,0 1,-13 1,0 1,6 1,17 1,-10 1,-19 1,-15 1,8 1,3 1,-15 1,8 1,0 1,13 1,-19 1,-4 1,9 1,25 1,3 1,9 1,-28 1,6 1,-12" stroke="#ee9494" stroke-width="1.6" transform="translate(107.40,1120.5) scale(3.600,-0.28133)" vector-effect="non-scaling-stroke"/>
<path d="M0,54l1,-5 1,-3 1,-4 1,11 1,-16 1,-15 1,-27 1,21 1,-12 1,-4 1,4 1,3 1,13 1,-4 1,-16 1,-9 1,1 1,19 1,12 1,11 1,-14 1,-27 1,-3 1,13 1,16 1,0 1,-15 1,-12 1,5 1,-1 1,5 1,-9 1,8 1,-3 1,-2 1,-4 1,-7 1,2 1,-1 1,-16 1,-12 1,15 1,18 1,2 1,-14 1,-4 1,0 1,5 1,14 1,252 1,-40 1,-64 1,31 1,61 1,84 1,79 1,48 1,85 1,55 1,65 1,44 1,77 1,51 1,24 1,0 1,41 1,21 1,8 1,3 1,11 1,-14 1,9 1,32 1,32 1,-4 1,-14 1,1 1,15 1,32 1,-8 1,-11 1,18 1,10 1,8 1,-43 1,-31 1,-9 1,28 1,13 1,-22 1,-22 1,-34 1,8 1,-25 1,-1 1,-29 1,-9 1,-5 1,-11 1,-8 1,-23 1,-24 1,-15 1,-17 1,-12 1,-26 1,-12 1,-35 1,-26 1,-33 1,-6 1,-8 1,-7 1,-7 1,3 1,5 1,-12 1,-23 1,-28 1,-32 1,-17 1,-22 1,6 1,-2 1,-14 1,-22 1,-18 1,-5 1,-10 1,-4 1,-25 1,-2 1,-25 1,-4 1,-16 1,1 1,-3 1,-2 1,-17 1,3 1,-6 1,-10 1,-7 1,6 1,-27 1,-4 1,-9 1,5 1,1 1,-3 1,0 1,-8 1,-16 1,-13 1,-13 1,-3 1,13 1,-7 1,5 1,-5 1,13 1,-5 1,-3 1,-16 1,-20 1,0 1,9 1,-6 1,-21 1,10 1,6 1,22 1,-1 1,-11 1,3 1,-30 1,-5 1,0 1,16 1,-5 1,-8 1,-27 1,7 1,-10 1,9 1,-14 1,-7 1,-6 1,4 1,16 1,12 1,11 1,-13 1,-15 1,-16 1,-4 1,-11 1,21 1,-3 1,11 1,-20 1,3 1,-2 1,9 1,-11 1,11 1,0 1,-4 1,-12 1,6 1,-16 1,3 1,-11 1,8 1,-17 1,0 1,2 1,11 1,13 1,14 1,-11 1,-8 1,2 1,17 1,-12 1,-1 1,0 1,-7 1,8 1,-11 1,7 1,-11 1,11 1,-10 1,-12 1,12 1,-20 1,-10 1,-22 1,12 1,7 1,14 1,13 1,-5 1,-6 1,10 1,19 1,-15 1,-14 1,-8" stroke="#ee9494" stroke-width="1.6" transform="translate(107.40,1120.5) scale(3.600,-0.28133)" vector-effect="non-scaling-stroke"/>
<path d="M0,75l1,-18 1,-23 1,-14 1,21 1,15 1,-26 1,-14 1,2 1,-19 1,-13 1,10 1,12 1,15 1,17 1,-2 1,-20 1,-11 1,6 1,4 1,2 1,-17 1,-4 1,-5 1,3 1,-3 1,-3 1,-12 1,-1 1,-9 1,2 1,-15 1,30 1,17 1,31 1,-27 1,-20 1,-15 1,3 1,1 1,-2 1,-3 1,18 1,0 1,12 1,-28 1,9 1,-17 1,20 1,0 1,246 1,7 1,-33 1,60 1,97 1,117 1,91 1,44 1,65 1,48 1,32 1,35 1,42 1,45 1,5 1,-3 1,-3 1,1 1,-12 1,-8 1,2 1,-1 1,0 1,18 1,10 1,0 1,-25 1,-15 1,11 1,47 1,2 1,-17 1,-12 1,-12 1,-2 1,-17 1,3 1,18 1,18 1,-1 1,-24 1,-23 1,-28 1,-18 1,-15 1,-22 1,-20 1,-15 1,2 1,-7 1,-20 1,-29 1,-16 1,0 1,-1 1,-16 1,-14 1,-15 1,0 1,-25 1,-13 1,-47 1,-3 1,0 1,-2 1,-24 1,-40 1,-1 1,-12 1,0 1,-16 1,-14 1,-16 1,-5 1,-2 1,-9 1,-20 1,-23 1,-14 1,2 1,22 1,-11 1,-16 1,-23 1,-1 1,-13 1,-17 1,-3 1,-4 1,-7 1,-2 1,-14 1,-6 1,-12 1,11 1,-22 1,13 1,-4 1,2 1,-9 1,2 1,-1 1,-3 1,-4 1,-9 1,-21 1,-3 1,18 1,-4 1,2 1,-16 1,-3 1,0 1,-7 1,4 1,-38 1,-4 1,3 1,1 1,-10 1,11 1,11 1,12 1,-11 1,3 1,2 1,0 1,-17 1,13 1,-11 1,-3 1,-17 1,-7 1,4 1,12 1,5 1,-8 1,-22 1,-21 1,9 1,17 1,24 1,-10 1,-9 1,-10 1,-3 1,-3 1,-20 1,-4 1,-22 1,8 1,4 1,33 1,6 1,2 1,-3 1,3 1,0 1,-22 1,9 1,19 1,4 1,-27 1,-25 1,-8 1,20 1,8 1,16 1,-9 1,4 1,-25 1,-3 1,-13 1,23 1,4 1,-2 1,-1 1,-3 1,-12 1,1 1,20 1,5 1,-17 1,-6 1,-13 1,8 1,-18 1,14 1,0 1,11 1,-15 1,-23 1,3 1,14 1,22 1,-12 1,1 1,7 1,-4 1,-22 1,-6" stroke="#ee9494" stroke-width="1.6" transform="translate(107.40,1120.5) scale(3.600,-0.28133)" vector-effect="non-scaling-stroke"/>
<path d="M0,74l1,-22 1,-6 1,-12 1,5 1,3 1,-25 1,8 1,9 1,-27 1,-20 1,21 1,10 1,14 1,-13 1,2 1,12 1,-3 1,-16 1,-22 1,0 1,-4 1,-8 1,7 1,16 1,16 1,-10 1,-9 1,-4 1,8 1,-16 1,-20 1,16 1,38 1,16 1,-9 1,-40 1,-15 1,-4 1,-4 1,-3 1,-29 1,31 1,11 1,28 1,-16 1,-7 1,3 1,5 1,9 1,234 1,17 1,-21 1,67 1,108 1,146 1,114 1,52 1,69 1,59 1,49 1,34 1,32 1,44 1,12 1,6 1,5 1,3 1,-12 1,-11 1,-20 1,-30 1,-28 1,23 1,0 1,3 1,-37 1,-34 1,-13 1,11 1,-14 1,-30 1,-30 1,-17 1,-49 1,-25 1,-26 1,3 1,-10 1,2 1,-16 1,-26 1,-42 1,-43 1,-23 1,-12 1,-23 1,-33 1,-15 1,-3 1,4 1,-22 1,-34 1,-16 1,-17 1,8 1,1 1,-11 1,-25 1,-14 1,-9 1,-10 1,-34 1,-17 1,-4 1,10 1,-7 1,-3 1,-19 1,-9 1,-8 1,-5 1,-6 1,-3 1,12 1,-9 1,-15 1,-32 1,-15 1,2 1,4 1,-8 1,-4 1,-10 1,10 1,-5 1,0 1,4 1,-19 1,-3 1,-6 1,4 1,-28 1,7 1,8 1,15 1,-7 1,-3 1,-12 1,1 1,8 1,8 1,5 1,6 1,-14 1,-20 1,-8 1,6 1,1 1,-3 1,2 1,-4 1,-5 1,-9 1,4 1,-20 1,-17 1,-6 1,0 1,24 1,22 1,3 1,4 1,-15 1,-14 1,1 1,-4 1,5 1,5 1,13 1,-8 1,-19 1,-20 1,-3 1,21 1,14 1,-3 1,-11 1,-8 1,3 1,5 1,4 1,20 1,0 1,-11 1,-8 1,-18 1,-31 1,-3 1,16 1,28 1,-14 1,-21 1,10 1,12 1,10 1,-7 1,17 1,-19 1,30 1,-10 1,9 1,-48 1,9 1,0 1,27 1,-3 1,-7 1,-18 1,-11 1,3 1,4 1,17 1,14 1,10 1,-29 1,-2 1,-10 1,6 1,0 1,11 1,1 1,-5 1,4 1,-6 1,-12 1,-3 1,-12 1,20 1,2 1,1 1,-7 1,6 1,14 1,-7 1,-7 1,1 1,17 1,0 1,13 1,-9" stroke="#75bb7e" stroke-width="1.5" transform="translate(107.40,1120.5) scale(3.600,-0.28133)" vector-effect="non-scaling-stroke"/>
<path d="M0,61l1,-14 1,-10 1,-2 1,9 1,-4 1,-29 1,-2 1,19 1,-16 1,-20 1,13 1,16 1,16 1,0 1,-19 1,-6 1,-15 1,19 1,-7 1,1 1,-5 1,-2 1,1 1,-9 1,-1 1,16 1,-5 1,-7 1,-29 1,-2 1,-9 1,17 1,-4 1,19 1,-12 1,16 1,-30 1,3 1,-35 1,9 1,11 1,17 1,1 1,0 1,21 1,18 1,-25 1,-6 1,-8 1,259 1,-15 1,-52 1,53 1,73 1,104 1,97 1,37 1,81 1,43 1,73 1,43 1,42 1,51 1,21 1,28 1,15 1,26 1,-8 1,-9 1,-3 1,-19 1,11 1,25 1,25 1,-7 1,-20 1,5 1,9 1,35 1,-4 1,0 1,-4 1,-6 1,-8 1,-16 1,-4 1,4 1,26 1,17 1,-21 1,-2 1,-12 1,-5 1,-27 1,-25 1,-8 1,-3 1,-10 1,-11 1,-23 1,-8 1,-36 1,-9 1,-22 1,-1 1,-25 1,-14 1,-10 1,-22 1,-19 1,-18 1,-27 1,-9 1,-28 1,-3 1,-37 1,-18 1,-12 1,0 1,-24 1,-7 1,-30 1,9 1,-13 1,-11 1,-23 1,-23 1,1 1,-9 1,-8 1,-16 1,5 1,-10 1,-12 1,-34 1,-5 1,-8 1,1 1,-20 1,5 1,7 1,-16 1,-21 1,-11 1,7 1,5 1,2 1,7 1,-8 1,-25 1,-34 1,-8 1,11 1,-8 1,-5 1,-5 1,10 1,9 1,8 1,-29 1,-21 1,-7 1,31 1,6 1,-18 1,-18 1,-9 1,0 1,-13 1,-1 1,-2 1,16 1,0 1,-32 1,18 1,5 1,-1 1,-21 1,-10 1,11 1,5 1,-20 1,5 1,6 1,16 1,-30 1,-19 1,4 1,10 1,9 1,2 1,9 1,-11 1,-6 1,0 1,-9 1,-19 1,0 1,-2 1,18 1,-8 1,13 1,-14 1,39 1,-5 1,13 1,-36 1,-23 1,-23 1,5 1,17 1,6 1,-3 1,-33 1,5 1,-10 1,16 1,-8 1,4 1,20 1,-3 1,7 1,-7 1,24 1,-14 1,-19 1,-1 1,-4 1,18 1,1 1,9 1,-4 1,-9 1,-25 1,-15 1,8 1,7 1,9 1,0 1,2 1,-6 1,-12 1,1 1,-1 1,-2 1,-2 1,12 1,-4 1,5 1,-3" stroke="#ee9494" stroke-width="1.6" transform="translate(107.40,1120.5) scale(3.600,-0.28133)" vector-effect="non-scaling-stroke"/>
<path d="M0,57l1,-15 1,-5 1,5 1,17 1,-6 1,-46 1,-4 1,15 1,-4 1,-16 1,15 1,15 1,-1 1,0 1,-13 1,3 1,2 1,-4 1,-12 1,-13 1,0 1,-7 1,-1 1,3 1,-11 1,9 1,0 1,17 1,1 1,-12 1,-13 1,-1 1,10 1,14 1,5 1,-23 1,-12 1,-13 1,0 1,3 1,-18 1,17 1,-6 1,22 1,5 1,21 1,-12 1,-5 1,-7 1,249 1,39 1,14 1,93 1,121 1,140 1,99 1,53 1,44 1,61 1,40 1,37 1,19 1,15 1,4 1,2 1,6 1,-4 1,-12 1,-5 1,-2 1,-43 1,-5 1,9 1,27 1,-1 1,-53 1,-31 1,-28 1,31 1,-10 1,-27 1,-3 1,-20 1,-29 1,-45 1,-28 1,-8 1,15 1,-10 1,-20 1,-37 1,-24 1,-43 1,-32 1,-23 1,-16 1,-23 1,-15 1,2 1,-17 1,-18 1,-20 1,-4 1,-11 1,-9 1,-13 1,-11 1,-15 1,-20 1,-16 1,-13 1,-9 1,-3 1,-16 1,-12 1,-26 1,-11 1,5 1,-6 1,-6 1,-23 1,-7 1,-14 1,5 1,1 1,8 1,-12 1,-15 1,-4 1,2 1,5 1,0 1,-9 1,-22 1,-17 1,1 1,20 1,11 1,-7 1,-16 1,-7 1,-6 1,-4 1,0 1,-20 1,-14 1,7 1,15 1,15 1,-6 1,4 1,15 1,-32 1,-19 1,-19 1,4 1,-19 1,-14 1,26 1,19 1,19 1,-11 1,4 1,-4 1,-9 1,-15 1,-16 1,-37 1,3 1,-10 1,20 1,10 1,21 1,-16 1,5 1,-4 1,12 1,3 1,-3 1,-20 1,-12 1,-15 1,4 1,7 1,2 1,6 1,-16 1,12 1,24 1,4 1,-4 1,-11 1,1 1,-13 1,-24 1,2 1,-5 1,17 1,-11 1,2 1,6 1,-6 1,9 1,7 1,7 1,7 1,3 1,-15 1,-11 1,14 1,6 1,7 1,-34 1,5 1,10 1,23 1,0 1,-24 1,-15 1,-1 1,-5 1,-3 1,-7 1,6 1,-8 1,-5 1,10 1,3 1,4 1,-3 1,1 1,12 1,13 1,-24 1,-4 1,9 1,11 1,11 1,5 1,-1 1,0 1,-13 1,4 1,-16 1,-9 1,-5 1,7 1,7 1,15 1,0" stroke="#75bb7e" stroke-width="1.5" transform="translate(107.40,1120.5) scale(3.600,-0.28133)" vector-effect="non-scaling-stroke"/>
<path d="M0,56l1,-10 1,-7 1,-1 1,3 1,13 1,-27 1,-11 1,15 1,-12 1,-10 1,5 1,13 1,9 1,-13 1,-8 1,-1 1,5 1,-8 1,-4 1,-12 1,-4 1,-12 1,14 1,-13 1,16 1,11 1,17 1,-33 1,-17 1,-11 1,-9 1,1 1,13 1,9 1,6 1,-18 1,27 1,-8 1,-9 1,-13 1,-16 1,9 1,18 1,21 1,15 1,-11 1,-1 1,-10 1,8 1,238 1,-26 1,-95 1,21 1,43 1,78 1,49 1,21 1,63 1,57 1,60 1,36 1,42 1,61 1,58 1,32 1,21 1,9 1,8 1,22 1,38 1,-4 1,8 1,16 1,45 1,-4 1,1 1,3 1,32 1,32 1,15 1,-12 1,-8 1,-19 1,3 1,12 1,15 1,18 1,-4 1,12 1,-9 1,6 1,-28 1,-29 1,-18 1,-8 1,-15 1,-7 1,2 1,-6 1,-18 1,-41 1,-12 1,-19 1,-4 1,-14 1,-4 1,-10 1,-8 1,-27 1,-28 1,-33 1,-15 1,-11 1,-23 1,-25 1,-15 1,-20 1,-14 1,-14 1,3 1,-1 1,-26 1,-12 1,-18 1,0 1,-11 1,-17 1,-32 1,-20 1,-2 1,4 1,-4 1,-19 1,-13 1,-16 1,-25 1,9 1,8 1,12 1,-22 1,4 1,-16 1,-1 1,-29 1,-14 1,-7 1,2 1,1 1,1 1,-17 1,-11 1,-3 1,10 1,5 1,-17 1,-1 1,-6 1,-10 1,-11 1,-5 1,12 1,6 1,-26 1,-6 1,-13 1,-1 1,-7 1,-9 1,19 1,2 1,-9 1,3 1,0 1,0 1,2 1,-3 1,-18 1,-2 1,-8 1,7 1,-14 1,-17 1,-16 1,22 1,19 1,6 1,-25 1,-2 1,3 1,-7 1,-7 1,5 1,7 1,-17 1,-21 1,0 1,12 1,17 1,-6 1,4 1,-8 1,-13 1,2 1,17 1,2 1,-1 1,-10 1,-27 1,-11 1,21 1,22 1,-12 1,-29 1,5 1,16 1,7 1,2 1,-12 1,8 1,3 1,-2 1,2 1,-16 1,15 1,-17 1,5 1,-14 1,-25 1,-8 1,8 1,10 1,7 1,14 1,-7 1,3 1,0 1,-2 1,-9 1,-3 1,15 1,1 1,-13 1,5 1,4 1,18 1,-18 1,5 1,-24 1,-6 1,-3" stroke="#ee9494" stroke-width="1.6" transform="translate(107.40,1120.5) scale(3.600,-0.28133)" vector-effect="non-scaling-stroke"/>
<path d="M0,79l1,-11 1,-32 1,7 1,4 1,4 1,-36 1,8 1,26 1,-31 1,-30 1,5 1,6 1,6 1,-17 1,0 1,12 1,17 1,10 1,-21 1,-13 1,-16 1,-2 1,13 1,4 1,-2 1,-5 1,-4 1,2 1,7 1,1 1,-1 1,16 1,23 1,-6 1,-23 1,-23 1,1 1,-5 1,-9 1,-16 1,-19 1,-3 1,28 1,12 1,32 1,-6 1,5 1,6 1,-4 1,247 1,-63 1,-66 1,14 1,68 1,92 1,83 1,23 1,72 1,52 1,57 1,41 1,60 1,66 1,25 1,19 1,31 1,15 1,3 1,-9 1,26 1,-24 1,25 1,20 1,38 1,-9 1,-29 1,-9 1,26 1,47 1,10 1,-19 1,-4 1,-15 1,-9 1,2 1,-2 1,-5 1,39 1,18 1,-1 1,-36 1,-2 1,6 1,1 1,-12 1,-26 1,-19 1,4 1,-1 1,-5 1,-42 1,-16 1,-19 1,11 1,-14 1,-13 1,-14 1,-6 1,-24 1,-39 1,-31 1,-13 1,-10 1,-2 1,-13 1,4 1,-25 1,-9 1,-25 1,-7 1,-23 1,-12 1,-27 1,-16 1,-17 1,25 1,1 1,-26 1,-18 1,-11 1,-8 1,-39 1,-18 1,-4 1,9 1,-24 1,4 1,-2 1,-5 1,-20 1,-3 1,-11 1,2 1,-3 1,0 1,-5 1,-17 1,-3 1,-2 1,7 1,-9 1,-5 1,-21 1,-10 1,-10 1,1 1,-3 1,-18 1,-4 1,-3 1,16 1,-11 1,-8 1,-8 1,-6 1,-4 1,-10 1,-15 1,-3 1,-4 1,6 1,1 1,14 1,-18 1,18 1,-17 1,2 1,-14 1,-6 1,-24 1,2 1,0 1,15 1,-13 1,-7 1,8 1,11 1,-1 1,-18 1,4 1,11 1,7 1,-16 1,-15 1,13 1,-2 1,-11 1,12 1,1 1,-8 1,-19 1,-10 1,16 1,2 1,-8 1,4 1,-1 1,-17 1,-18 1,22 1,11 1,6 1,-27 1,-16 1,4 1,6 1,23 1,5 1,-1 1,12 1,-18 1,3 1,-34 1,25 1,-20 1,13 1,-16 1,-2 1,23 1,9 1,3 1,-5 1,-6 1,-8 1,-7 1,5 1,-4 1,-6 1,-6 1,9 1,0 1,3 1,-8 1,-5 1,-9 1,-1 1,8 1,12 1,-5 1,-5" stroke="#ee9494" stroke-width="1.6" transform="translate(107.40,1120.5) scale(3.600,-0.28133)" vector-effect="non-scaling-stroke"/>
<path d="M0,61l1,-11 1,-10 1,5 1,17 1,-8 1,-35 1,-2 1,16 1,-27 1,-31 1,18 1,28 1,9 1,-13 1,-20 1,9 1,18 1,32 1,-20 1,-15 1,-26 1,-22 1,9 1,13 1,26 1,-4 1,-17 1,-7 1,-8 1,-2 1,-17 1,-5 1,-4 1,27 1,22 1,9 1,-15 1,-30 1,-13 1,-10 1,8 1,11 1,7 1,12 1,12 1,21 1,-13 1,-12 1,3 1,245 1,-22 1,-71 1,25 1,66 1,92 1,89 1,48 1,75 1,90 1,56 1,52 1,37 1,77 1,28 1,23 1,7 1,12 1,-9 1,10 1,16 1,-11 1,-1 1,40 1,45 1,7 1,-34 1,-18 1,-5 1,41 1,5 1,11 1,-4 1,-4 1,-22 1,-7 1,0 1,15 1,14 1,-1 1,-19 1,-10 1,-12 1,-18 1,-27 1,-8 1,-12 1,-11 1,-10 1,18 1,-2 1,-32 1,-44 1,-16 1,6 1,7 1,-25 1,-33 1,-33 1,-12 1,-11 1,-17 1,-16 1,-4 1,-15 1,-26 1,-28 1,-17 1,-5 1,-2 1,-8 1,-23 1,-31 1,-13 1,2 1,-4 1,-20 1,-9 1,-27 1,-11 1,-6 1,-17 1,11 1,-21 1,-12 1,-36 1,-21 1,-4 1,17 1,19 1,6 1,-13 1,-15 1,-11 1,-8 1,-16 1,-14 1,-8 1,-3 1,12 1,-6 1,-10 1,4 1,-6 1,-33 1,-20 1,-3 1,11 1,-3 1,-12 1,-5 1,-15 1,23 1,-2 1,6 1,-19 1,-8 1,-1 1,0 1,-7 1,3 1,-20 1,20 1,-6 1,-15 1,-16 1,4 1,-5 1,9 1,-8 1,6 1,-9 1,-27 1,-17 1,14 1,22 1,-4 1,-12 1,-9 1,11 1,-8 1,-6 1,7 1,2 1,-2 1,-20 1,2 1,1 1,16 1,-14 1,-5 1,-3 1,-6 1,16 1,14 1,-13 1,-6 1,-13 1,-10 1,-23 1,16 1,18 1,12 1,-21 1,7 1,18 1,16 1,-2 1,-7 1,-8 1,0 1,-25 1,-7 1,1 1,23 1,-8 1,-8 1,-21 1,-10 1,4 1,6 1,12 1,-9 1,7 1,-21 1,12 1,11 1,2 1,6 1,-9 1,5 1,-11 1,7 1,-2 1,-20 1,-10 1,-6 1,8 1,6 1,-9 1,7" stroke="#ee9494" stroke-width="1.6" transform="translate(107.40,1120.5) scale(3.600,-0.28133)" vector-effect="non-scaling-stroke"/>
<path d="M0,81l1,-12 1,-32 1,-17 1,16 1,3 1,-28 1,-2 1,19 1,-16 1,-34 1,6 1,23 1,16 1,-17 1,3 1,6 1,35 1,6 1,-16 1,-19 1,-16 1,-3 1,-4 1,-6 1,-1 1,-1 1,-6 1,-23 1,1 1,-10 1,6 1,11 1,22 1,32 1,-7 1,-28 1,-21 1,-11 1,10 1,-12 1,-5 1,4 1,12 1,-1 1,7 1,8 1,17 1,-1 1,-1 1,241 1,38 1,30 1,98 1,118 1,131 1,110 1,47 1,54 1,25 1,42 1,21 1,41 1,28 1,5 1,-1 1,9 1,-1 1,-27 1,-35 1,-6 1,-23 1,-9 1,0 1,-14 1,-26 1,-50 1,-2 1,-12 1,11 1,-26 1,-36 1,-14 1,-32 1,-24 1,-40 1,-13 1,-19 1,-3 1,-30 1,-23 1,-38 1,-9 1,-15 1,-33 1,-41 1,-17 1,6 1,-14 1,-12 1,-14 1,-7 1,-20 1,-31 1,3 1,-5 1,21 1,-3 1,-17 1,-38 1,-29 1,-15 1,-1 1,-20 1,10 1,-8 1,-11 1,-22 1,-14 1,3 1,-7 1,-6 1,-7 1,-7 1,16 1,3 1,-3 1,-23 1,-17 1,9 1,3 1,-3 1,-13 1,-4 1,2 1,-10 1,-16 1,-2 1,1 1,1 1,3 1,5 1,-11 1,-19 1,10 1,9 1,-4 1,-21 1,8 1,23 1,7 1,-13 1,-26 1,-2 1,-7 1,-7 1,-6 1,0 1,19 1,-1 1,-7 1,5 1,4 1,-10 1,-12 1,-9 1,14 1,-2 1,-7 1,10 1,1 1,7 1,-6 1,13 1,-8 1,6 1,-14 1,-17 1,-4 1,-3 1,6 1,-3 1,-10 1,12 1,18 1,-6 1,-14 1,-27 1,-6 1,9 1,3 1,22 1,-3 1,7 1,2 1,2 1,-1 1,-15 1,7 1,-19 1,7 1,-11 1,4 1,14 1,17 1,9 1,19 1,-24 1,-25 1,-30 1,22 1,-4 1,-6 1,-9 1,7 1,6 1,2 1,-10 1,5 1,2 1,13 1,-8 1,-4 1,-11 1,11 1,-24 1,17 1,-5 1,24 1,9 1,6 1,-11 1,-8 1,6 1,12 1,4 1,-8 1,-12 1,-11 1,0 1,-6 1,10 1,6 1,10 1,4 1,-1 1,-25 1,-17 1,-5 1,16 1,12" stroke="#75bb7e" stroke-width="1.5" transform="translate(107.40,1120.5) scale(3.600,-0.28133)" vector-effect="non-scaling-stroke"/>
<path d="M0,69l1,-8 1,-5 1,-21 1,14 1,3 1,-10 1,-23 1,15 1,-16 1,-2 1,0 1,-10 1,-2 1,-9 1,7 1,14 1,10 1,-8 1,-19 1,-17 1,13 1,-18 1,15 1,1 1,6 1,8 1,-14 1,-5 1,-22 1,-4 1,9 1,4 1,16 1,2 1,0 1,-19 1,-6 1,0 1,3 1,-12 1,12 1,12 1,14 1,-23 1,1 1,4 1,15 1,2 1,20 1,239 1,41 1,4 1,104 1,134 1,138 1,106 1,36 1,66 1,55 1,42 1,17 1,26 1,25 1,8 1,1 1,14 1,-14 1,-4 1,-10 1,30 1,-24 1,-21 1,-4 1,1 1,9 1,-33 1,-20 1,-4 1,22 1,-13 1,-20 1,-11 1,-10 1,-40 1,-40 1,-35 1,-6 1,16 1,1 1,-18 1,-22 1,-21 1,-27 1,-33 1,-27 1,-21 1,2 1,-23 1,-3 1,-39 1,-14 1,-22 1,-7 1,4 1,-21 1,-11 1,-32 1,-10 1,-18 1,-15 1,-19 1,0 1,-4 1,-10 1,-24 1,-20 1,-21 1,-18 1,-7 1,-16 1,3 1,-18 1,-1 1,-12 1,3 1,2 1,-9 1,-4 1,12 1,-17 1,-13 1,-33 1,-11 1,-15 1,8 1,-4 1,1 1,1 1,1 1,-1 1,2 1,-7 1,-16 1,-30 1,-12 1,4 1,14 1,9 1,-1 1,-19 1,-9 1,-4 1,-1 1,-23 1,-5 1,11 1,14 1,-18 1,8 1,-25 1,9 1,-4 1,25 1,-7 1,-17 1,-6 1,8 1,-17 1,3 1,-14 1,5 1,-16 1,12 1,-10 1,18 1,-15 1,-1 1,8 1,8 1,-2 1,-13 1,-15 1,-7 1,2 1,15 1,15 1,4 1,-11 1,-15 1,-20 1,-11 1,20 1,5 1,-9 1,-16 1,16 1,14 1,12 1,-25 1,-5 1,-18 1,-14 1,15 1,15 1,15 1,17 1,1 1,-14 1,-22 1,-6 1,17 1,-2 1,8 1,-19 1,-12 1,6 1,-11 1,6 1,-15 1,21 1,5 1,9 1,-20 1,8 1,-39 1,24 1,-11 1,6 1,-12 1,-2 1,15 1,16 1,16 1,-8 1,-3 1,3 1,11 1,-8 1,-11 1,-16 1,-8 1,3 1,1 1,9 1,6 1,3 1,4 1,-14 1,-8 1,-5" stroke="#75bb7e" stroke-width="1.5" transform="translate(107.40,1120.5) scale(3.600,-0.28133)" vector-effect="non-scaling-stroke"/>
<path d="M0,72l1,-13 1,-30 1,10 1,15 1,-1 1,-34 1,-13 1,15 1,-25 1,-7 1,8 1,6 1,-1 1,-4 1,-5 1,14 1,13 1,28 1,-10 1,-7 1,-27 1,-14 1,20 1,10 1,-9 1,-15 1,17 1,-6 1,-8 1,-33 1,-4 1,26 1,6 1,16 1,-16 1,-4 1,-8 1,-8 1,-10 1,-30 1,0 1,14 1,37 1,10 1,-8 1,14 1,-19 1,3 1,-16 1,253 1,-50 1,-73 1,-6 1,66 1,74 1,95 1,27 1,56 1,39 1,36 1,49 1,42 1,64 1,45 1,27 1,39 1,11 1,12 1,1 1,5 1,6 1,18 1,47 1,9 1,4 1,-32 1,24 1,10 1,46 1,-9 1,1 1,7 1,15 1,-6 1,-10 1,-17 1,-3 1,5 1,2 1,-29 1,0 1,-17 1,-11 1,-29 1,8 1,-5 1,-11 1,-25 1,-11 1,0 1,-30 1,-13 1,-23 1,-10 1,-3 1,-32 1,-27 1,-22 1,-12 1,-12 1,-22 1,-2 1,6 1,4 1,-7 1,-17 1,-33 1,-33 1,-32 1,-10 1,-3 1,11 1,-13 1,-1 1,-28 1,-5 1,-36 1,10 1,-4 1,8 1,-27 1,-23 1,-4 1,-4 1,11 1,-7 1,2 1,-14 1,-24 1,-23 1,20 1,-17 1,9 1,-34 1,8 1,-15 1,-4 1,3 1,5 1,5 1,-10 1,3 1,-13 1,-18 1,-31 1,0 1,-1 1,2 1,1 1,11 1,8 1,-3 1,-8 1,-12 1,-1 1,-16 1,-2 1,-26 1,-1 1,22 1,-14 1,9 1,-20 1,8 1,17 1,-10 1,-14 1,-12 1,2 1,12 1,7 1,-2 1,2 1,-12 1,-8 1,-10 1,0 1,10 1,7 1,-8 1,-9 1,10 1,4 1,-22 1,-11 1,-2 1,2 1,-7 1,-4 1,15 1,-6 1,-14 1,14 1,15 1,16 1,-17 1,8 1,-31 1,-2 1,-5 1,16 1,-15 1,0 1,-1 1,-1 1,-2 1,7 1,7 1,-24 1,-2 1,12 1,32 1,-16 1,-12 1,-34 1,20 1,1 1,4 1,-27 1,26 1,5 1,19 1,13 1,1 1,-1 1,-22 1,-17 1,-21 1,5 1,4 1,13 1,-20 1,11 1,1 1,11 1,-13 1,10 1,4 1,6 1,-7" stroke="#ee9494" stroke-width="1.6" transform="translate(107.40,1120.5) scale(3.600,-0.28133)" vector-effect="non-scaling-stroke"/>
<path d="M0,41l1,-29 1,4 1,15 1,28 1,3 1,-46 1,-15 1,-2 1,-7 1,-13 1,40 1,-3 1,11 1,-20 1,13 1,20 1,5 1,-13 1,-40 1,4 1,-3 1,-3 1,-10 1,-15 1,-4 1,12 1,17 1,9 1,-22 1,-4 1,6 1,10 1,8 1,-6 1,4 1,-14 1,-5 1,-14 1,-5 1,-9 1,2 1,11 1,21 1,5 1,6 1,6 1,-4 1,-4 1,1 1,249 1,-29 1,-67 1,21 1,76 1,108 1,98 1,27 1,56 1,47 1,64 1,44 1,43 1,60 1,16 1,33 1,14 1,27 1,-1 1,-19 1,-4 1,-47 1,13 1,31 1,56 1,18 1,-30 1,-9 1,-3 1,49 1,3 1,-14 1,11 1,-20 1,-23 1,-49 1,-13 1,7 1,0 1,6 1,-23 1,-6 1,-20 1,-29 1,-46 1,-40 1,-5 1,-2 1,2 1,-17 1,-10 1,-14 1,-30 1,-21 1,-20 1,4 1,-11 1,-2 1,-5 1,-9 1,-37 1,-10 1,-15 1,-6 1,-30 1,-18 1,9 1,-4 1,-7 1,-47 1,-7 1,-19 1,-5 1,-10 1,0 1,10 1,-4 1,-23 1,-19 1,-26 1,9 1,2 1,-6 1,5 1,-14 1,-5 1,-28 1,9 1,-3 1,-6 1,-21 1,19 1,-7 1,-3 1,-8 1,-16 1,-3 1,3 1,9 1,13 1,-16 1,-14 1,-16 1,-4 1,-3 1,-10 1,-8 1,-11 1,2 1,4 1,14 1,-16 1,4 1,-4 1,3 1,-16 1,-2 1,11 1,0 1,1 1,8 1,-10 1,-18 1,-11 1,-4 1,18 1,4 1,-2 1,5 1,7 1,-19 1,1 1,-27 1,1 1,3 1,4 1,9 1,-24 1,2 1,-9 1,9 1,0 1,3 1,0 1,-19 1,-4 1,3 1,12 1,21 1,-12 1,15 1,-19 1,-15 1,-19 1,25 1,10 1,21 1,-5 1,-20 1,-20 1,-7 1,26 1,3 1,0 1,-19 1,-2 1,-3 1,4 1,-24 1,2 1,1 1,19 1,0 1,8 1,4 1,-12 1,-26 1,-8 1,7 1,8 1,12 1,-3 1,7 1,6 1,-25 1,-12 1,-12 1,-8 1,12 1,6 1,20 1,-6 1,23 1,-4 1,5 1,-19 1,0 1,2 1,-5 1,6 1,3" stroke="#ee9494" stroke-width="1.6" transform="translate(107.40,1120.5) scale(3.600,-0.28133)" vector-effect="non-scaling-stroke"/>
<path d="M0,60l1,-10 1,-12 1,9 1,19 1,-5 1,-24 1,-22 1,22 1,-24 1,-17 1,5 1,3 1,10 1,-1 1,8 1,6 1,-11 1,-9 1,-4 1,7 1,0 1,-26 1,-5 1,4 1,18 1,3 1,-11 1,-7 1,-9 1,-13 1,-3 1,18 1,10 1,16 1,3 1,1 1,-18 1,-16 1,-6 1,-7 1,-2 1,1 1,14 1,-6 1,11 1,0 1,-13 1,1 1,8 1,267 1,3 1,-27 1,50 1,104 1,115 1,89 1,30 1,64 1,71 1,55 1,49 1,20 1,35 1,-15 1,10 1,21 1,18 1,12 1,-7 1,8 1,-34 1,-16 1,11 1,20 1,2 1,-19 1,10 1,14 1,36 1,-23 1,-9 1,11 1,5 1,-20 1,-12 1,-13 1,3 1,3 1,6 1,-12 1,-11 1,4 1,-8 1,-38 1,-26 1,-9 1,0 1,-17 1,-6 1,10 1,-20 1,-16 1,-21 1,-5 1,-26 1,-39 1,-18 1,-24 1,5 1,-24 1,-4 1,-28 1,-3 1,-23 1,-3 1,-30 1,-12 1,-28 1,-6 1,9 1,-5 1,-18 1,-36 1,12 1,12 1,-4 1,-46 1,-47 1,2 1,13 1,0 1,-18 1,-20 1,6 1,-17 1,-22 1,-13 1,-6 1,0 1,-6 1,20 1,-9 1,-11 1,-21 1,-13 1,19 1,-4 1,-6 1,-26 1,-6 1,-10 1,3 1,3 1,2 1,-4 1,3 1,-8 1,-5 1,-11 1,-2 1,-7 1,-3 1,-8 1,-6 1,-26 1,6 1,-14 1,9 1,-4 1,6 1,3 1,0 1,11 1,-23 1,17 1,2 1,5 1,-2 1,-22 1,-7 1,-13 1,8 1,-8 1,12 1,-5 1,12 1,-9 1,-21 1,4 1,-12 1,25 1,-20 1,0 1,-14 1,-12 1,-12 1,8 1,25 1,20 1,-13 1,-7 1,-25 1,3 1,11 1,10 1,7 1,5 1,-20 1,-12 1,1 1,4 1,4 1,-14 1,-1 1,2 1,-3 1,7 1,-19 1,23 1,-1 1,-2 1,-38 1,12 1,28 1,3 1,-16 1,-11 1,-8 1,-4 1,8 1,16 1,4 1,2 1,-18 1,-22 1,-14 1,3 1,23 1,16 1,2 1,12 1,-15 1,2 1,2 1,2 1,-15 1,-11 1,4 1,13 1,-1" stroke="#ee9494" stroke-width="1.6" transform="translate(107.40,1120.5) scale(3.600,-0.28133)" vector-effect="non-scaling-stroke"/>
<path d="M0,67l1,-5 1,2 1,-29 1,14 1,0 1,-3 1,-10 1,4 1,-32 1,-22 1,18 1,20 1,5 1,3 1,-19 1,5 1,-7 1,25 1,0 1,3 1,-13 1,-34 1,7 1,3 1,15 1,-13 1,-13 1,-2 1,-4 1,-6 1,-30 1,9 1,19 1,36 1,-9 1,-14 1,-4 1,-7 1,3 1,-28 1,-11 1,-7 1,7 1,10 1,26 1,32 1,2 1,-1 1,-6 1,241 1,-47 1,-67 1,42 1,59 1,109 1,76 1,66 1,49 1,64 1,53 1,70 1,46 1,66 1,20 1,29 1,22 1,17 1,14 1,11 1,15 1,-29 1,-15 1,28 1,40 1,3 1,-30 1,1 1,33 1,24 1,-3 1,-28 1,22 1,-3 1,-19 1,-35 1,-35 1,-14 1,30 1,11 1,-8 1,-35 1,-27 1,-11 1,-13 1,-1 1,-32 1,-10 1,-25 1,-11 1,-35 1,-26 1,-11 1,-16 1,-17 1,-9 1,12 1,-10 1,-12 1,-33 1,8 1,-39 1,-4 1,-41 1,0 1,-24 1,22 1,-11 1,-28 1,-29 1,-14 1,1 1,-25 1,-3 1,-3 1,-5 1,-8 1,-8 1,-19 1,-15 1,-21 1,0 1,-4 1,2 1,-6 1,5 1,-16 1,1 1,-26 1,-18 1,-14 1,-3 1,6 1,-21 1,3 1,-31 1,-3 1,-7 1,16 1,-7 1,0 1,0 1,14 1,-9 1,-19 1,-21 1,8 1,13 1,-1 1,-24 1,-15 1,9 1,-8 1,1 1,11 1,17 1,-6 1,-20 1,-3 1,-13 1,-6 1,-9 1,8 1,10 1,-26 1,17 1,-4 1,10 1,-5 1,3 1,-14 1,-15 1,-31 1,5 1,4 1,14 1,-6 1,-14 1,-17 1,20 1,12 1,14 1,-5 1,-8 1,-4 1,-2 1,-2 1,-19 1,-6 1,-13 1,22 1,-3 1,-13 1,-10 1,8 1,21 1,3 1,4 1,-15 1,12 1,22 1,25 1,-10 1,-39 1,-26 1,-1 1,30 1,12 1,1 1,-18 1,0 1,-6 1,-5 1,0 1,9 1,-14 1,3 1,5 1,0 1,-10 1,-11 1,0 1,5 1,-2 1,-6 1,-12 1,-4 1,-11 1,5 1,0 1,6 1,13 1,19 1,-1 1,-11 1,-17 1,19 1,-3 1,3 1,-5 1,3" stroke="#ee9494" stroke-width="1.6" transform="translate(107.40,1120.5) scale(3.600,-0.28133)" vector-effect="non-scaling-stroke"/>
<path d="M0,53l1,-16 1,-6 1,-1 1,5 1,-2 1,-29 1,-10 1,3 1,-17 1,-8 1,24 1,33 1,3 1,4 1,-21 1,10 1,-19 1,4 1,-4 1,-2 1,-22 1,-27 1,11 1,17 1,28 1,-1 1,-1 1,-28 1,-5 1,-4 1,2 1,18 1,-7 1,6 1,-17 1,-13 1,-3 1,11 1,3 1,1 1,-4 1,14 1,8 1,-8 1,17 1,11 1,13 1,4 1,-17 1,235 1,-34 1,-49 1,26 1,46 1,105 1,74 1,54 1,53 1,72 1,50 1,46 1,52 1,53 1,30 1,5 1,34 1,13 1,13 1,-6 1,-10 1,-49 1,8 1,35 1,50 1,-11 1,-21 1,2 1,21 1,40 1,-23 1,-8 1,2 1,12 1,-33 1,-30 1,1 1,9 1,35 1,-7 1,-3 1,-38 1,-24 1,-24 1,-31 1,-19 1,-10 1,18 1,4 1,-24 1,-34 1,-23 1,-13 1,11 1,2 1,-8 1,-13 1,-39 1,-22 1,-24 1,-18 1,-17 1,-11 1,-4 1,5 1,-20 1,-14 1,-15 1,-10 1,-4 1,-25 1,-13 1,-41 1,-6 1,-10 1,19 1,4 1,-28 1,-26 1,-17 1,1 1,0 1,-4 1,-1 1,-12 1,13 1,-29 1,0 1,-15 1,8 1,3 1,-5 1,-16 1,-18 1,-8 1,8 1,-15 1,-17 1,-15 1,17 1,-9 1,-3 1,-17 1,13 1,-12 1,12 1,-17 1,-1 1,-20 1,-3 1,-2 1,-6 1,12 1,-15 1,-2 1,-12 1,17 1,7 1,-18 1,-16 1,-2 1,-1 1,4 1,9 1,4 1,-5 1,1 1,-15 1,-4 1,-24 1,-2 1,0 1,0 1,-9 1,20 1,5 1,0 1,-10 1,-13 1,5 1,-2 1,14 1,7 1,-6 1,-19 1,-7 1,-12 1,-3 1,-2 1,-10 1,5 1,-3 1,9 1,15 1,20 1,2 1,0 1,-23 1,-30 1,-7 1,12 1,10 1,-15 1,-1 1,-6 1,8 1,9 1,18 1,6 1,-11 1,8 1,3 1,7 1,-3 1,-4 1,-39 1,-13 1,1 1,6 1,6 1,0 1,27 1,0 1,1 1,-19 1,10 1,-7 1,-11 1,-13 1,16 1,10 1,-1 1,-18 1,5 1,-7 1,0 1,-10 1,21 1,-7 1,-8 1,-10" stroke="#ee9494" stroke-width="1.6" transform="translate(107.40,1120.5) scale(3.600,-0.28133)" vector-effect="non-scaling-stroke"/>
<path d="M0,58l1,-24 1,-10 1,3 1,14 1,-26 1,-30 1,-8 1,39 1,-21 1,-4 1,7 1,30 1,13 1,8 1,-19 1,-11 1,-13 1,3 1,-1 1,-5 1,12 1,-14 1,10 1,-15 1,-4 1,8 1,-2 1,12 1,-23 1,-11 1,-14 1,29 1,1 1,18 1,-8 1,-6 1,-19 1,-4 1,0 1,11 1,-9 1,19 1,0 1,-15 1,4 1,-1 1,15 1,-13 1,21 1,239 1,30 1,-4 1,90 1,114 1,122 1,98 1,64 1,61 1,51 1,31 1,44 1,48 1,38 1,1 1,-13 1,16 1,22 1,-3 1,-33 1,-13 1,-25 1,-24 1,3 1,10 1,17 1,-10 1,4 1,3 1,10 1,-12 1,-27 1,-11 1,-32 1,-13 1,-33 1,-24 1,-4 1,10 1,19 1,-34 1,-30 1,-42 1,-7 1,-35 1,-16 1,-18 1,0 1,-7 1,-17 1,-16 1,-21 1,-30 1,-36 1,-6 1,-13 1,21 1,-24 1,18 1,-22 1,-16 1,-37 1,-33 1,-10 1,-20 1,-1 1,-30 1,-24 1,-7 1,5 1,3 1,-18 1,-19 1,-10 1,4 1,-2 1,1 1,-27 1,-25 1,-16 1,0 1,-1 1,-6 1,-13 1,12 1,4 1,0 1,-14 1,-6 1,-5 1,4 1,-5 1,-25 1,-6 1,-4 1,9 1,-11 1,13 1,-10 1,-10 1,-18 1,-5 1,17 1,-8 1,-14 1,-18 1,-1 1,-15 1,2 1,9 1,7 1,-14 1,-11 1,1 1,15 1,-15 1,5 1,-22 1,-12 1,-18 1,4 1,11 1,27 1,14 1,-8 1,-20 1,0 1,-17 1,30 1,8 1,6 1,-12 1,-23 1,-11 1,-9 1,-6 1,8 1,7 1,3 1,13 1,-9 1,-10 1,-3 1,-4 1,-12 1,3 1,-5 1,0 1,1 1,-9 1,16 1,-3 1,7 1,2 1,1 1,-8 1,7 1,9 1,-2 1,-5 1,6 1,11 1,-24 1,-21 1,1 1,13 1,1 1,-2 1,-2 1,13 1,-6 1,5 1,8 1,11 1,-10 1,-45 1,-17 1,12 1,-4 1,10 1,20 1,31 1,-7 1,-18 1,-24 1,-4 1,21 1,-9 1,-6 1,-13 1,12 1,24 1,10 1,-5 1,-32 1,-10 1,10 1,38 1,-21 1,-19 1,-16" stroke="#75bb7e" stroke-width="1.5" transform="translate(107.40,1120.5) scale(3.600,-0.28133)" vector-effect="non-scaling-stroke"/>
<path d="M0,88l1,-12 1,-23 1,-6 1,9 1,-13 1,-33 1,-9 1,27 1,-22 1,-19 1,10 1,13 1,7 1,-19 1,1 1,16 1,20 1,0 1,-22 1,-7 1,-19 1,-6 1,-17 1,13 1,6 1,24 1,-26 1,6 1,-24 1,19 1,-10 1,13 1,9 1,9 1,-3 1,-19 1,-10 1,-3 1,-11 1,5 1,-4 1,4 1,-6 1,20 1,41 1,11 1,-34 1,-19 1,9 1,262 1,55 1,24 1,120 1,134 1,145 1,99 1,61 1,56 1,42 1,8 1,31 1,30 1,42 1,-28 1,-12 1,5 1,35 1,-8 1,-9 1,-16 1,-25 1,-23 1,2 1,0 1,0 1,-29 1,-5 1,-12 1,29 1,-24 1,5 1,-22 1,13 1,-33 1,-34 1,-37 1,-14 1,4 1,-6 1,-28 1,-11 1,-34 1,-20 1,-28 1,-16 1,-24 1,-15 1,-17 1,-2 1,-33 1,-4 1,-29 1,7 1,-17 1,-17 1,3 1,-31 1,-3 1,-34 1,3 1,-23 1,-26 1,-16 1,-29 1,-3 1,-19 1,24 1,-13 1,-13 1,-31 1,-15 1,-15 1,2 1,-6 1,-3 1,-25 1,-7 1,-9 1,-3 1,-8 1,-7 1,7 1,3 1,-7 1,-21 1,-33 1,7 1,17 1,10 1,2 1,-17 1,-14 1,-11 1,-11 1,3 1,-13 1,7 1,7 1,-10 1,-8 1,-40 1,-5 1,-3 1,8 1,2 1,5 1,-5 1,-20 1,-6 1,5 1,6 1,-7 1,13 1,17 1,5 1,-17 1,-12 1,-18 1,-1 1,2 1,-3 1,2 1,3 1,4 1,-2 1,13 1,-21 1,5 1,-15 1,-4 1,-6 1,-16 1,-17 1,5 1,-2 1,18 1,-2 1,10 1,19 1,9 1,7 1,-7 1,-11 1,-28 1,-6 1,5 1,9 1,-3 1,-24 1,6 1,12 1,7 1,-14 1,-7 1,-8 1,10 1,4 1,-13 1,6 1,8 1,11 1,-8 1,-9 1,-14 1,12 1,5 1,17 1,-15 1,-15 1,3 1,-9 1,1 1,4 1,9 1,-4 1,-2 1,16 1,-17 1,-16 1,-2 1,15 1,-16 1,-6 1,-1 1,29 1,6 1,-12 1,-8 1,-4 1,3 1,3 1,3 1,-4 1,4 1,1 1,16 1,-24 1,-8 1,-10 1,20" stroke="#75bb7e" stroke-width="1.5" transform="translate(107.40,1120.5) scale(3.600,-0.28133)" vector-effect="non-scaling-stroke"/>
<path d="M0,69l1,-5 1,-11 1,3 1,12 1,-10 1,-39 1,-19 1,12 1,-18 1,-23 1,22 1,2 1,26 1,-15 1,12 1,-6 1,12 1,-13 1,-18 1,-11 1,3 1,0 1,1 1,14 1,14 1,0 1,-25 1,-23 1,4 1,15 1,-3 1,11 1,1 1,-6 1,-23 1,-14 1,24 1,-4 1,-5 1,-18 1,2 1,14 1,27 1,-1 1,15 1,-9 1,3 1,-15 1,-5 1,259 1,17 1,-22 1,48 1,88 1,124 1,100 1,40 1,46 1,34 1,43 1,53 1,40 1,41 1,-9 1,11 1,16 1,14 1,-12 1,-16 1,-14 1,-37 1,-1 1,23 1,38 1,-3 1,-18 1,9 1,13 1,54 1,-17 1,-11 1,-20 1,17 1,-9 1,1 1,-15 1,8 1,7 1,-7 1,-15 1,-5 1,2 1,-14 1,-34 1,-21 1,-3 1,9 1,11 1,-20 1,-31 1,-48 1,-11 1,1 1,-1 1,-8 1,-25 1,-20 1,-23 1,-9 1,-24 1,-13 1,-17 1,-10 1,-17 1,-5 1,4 1,-4 1,-20 1,-41 1,-25 1,-7 1,0 1,2 1,-4 1,-27 1,-18 1,-21 1,3 1,1 1,-15 1,-7 1,-18 1,-4 1,-9 1,-7 1,-20 1,-1 1,-14 1,-12 1,-5 1,-10 1,-17 1,-13 1,6 1,10 1,-10 1,-10 1,-4 1,8 1,-4 1,-1 1,-20 1,-2 1,-19 1,-1 1,4 1,7 1,4 1,-11 1,-11 1,-9 1,3 1,1 1,11 1,-30 1,-21 1,-10 1,14 1,5 1,-4 1,-11 1,-2 1,-3 1,-3 1,8 1,-8 1,6 1,3 1,-3 1,-21 1,21 1,-3 1,7 1,-5 1,12 1,-18 1,-26 1,-1 1,22 1,-17 1,2 1,-9 1,16 1,-14 1,-8 1,3 1,5 1,26 1,-23 1,-10 1,-32 1,-6 1,8 1,13 1,8 1,-1 1,7 1,-22 1,-14 1,3 1,5 1,2 1,-5 1,21 1,-5 1,2 1,-18 1,0 1,-13 1,15 1,-4 1,-9 1,5 1,-6 1,8 1,1 1,22 1,-11 1,-6 1,-8 1,-2 1,-21 1,7 1,-12 1,10 1,-6 1,11 1,3 1,-12 1,0 1,6 1,11 1,-13 1,-6 1,-6 1,11 1,6 1,17 1,-20 1,-5" stroke="#ee9494" stroke-width="1.6" transform="translate(107.40,1120.5) scale(3.600,-0.28133)" vector-effect="non-scaling-stroke"/>
<path d="M0,60l1,-18 1,0 1,-22 1,24 1,6 1,-9 1,-7 1,-7 1,-35 1,-30 1,20 1,30 1,17 1,0 1,-12 1,-7 1,5 1,-4 1,0 1,-2 1,0 1,-6 1,-13 1,-4 1,-3 1,4 1,-6 1,0 1,14 1,6 1,-14 1,2 1,12 1,9 1,-5 1,-12 1,-7 1,-12 1,-16 1,3 1,5 1,12 1,11 1,-8 1,0 1,0 1,-2 1,-8 1,-9 1,246 1,-41 1,-83 1,20 1,69 1,91 1,80 1,24 1,52 1,46 1,45 1,63 1,44 1,73 1,24 1,19 1,24 1,32 1,15 1,8 1,-12 1,-4 1,-9 1,51 1,21 1,2 1,-16 1,33 1,27 1,46 1,-18 1,-1 1,-1 1,15 1,-20 1,-11 1,-17 1,11 1,33 1,28 1,0 1,-8 1,-18 1,4 1,-12 1,-3 1,1 1,4 1,12 1,6 1,-28 1,-38 1,-17 1,-7 1,7 1,-20 1,-3 1,-25 1,6 1,-24 1,-9 1,-34 1,4 1,-21 1,-12 1,-27 1,0 1,-9 1,-18 1,-20 1,-24 1,-8 1,-21 1,-17 1,-11 1,-7 1,9 1,-24 1,-18 1,-16 1,-23 1,-27 1,-35 1,1 1,24 1,1 1,-6 1,-27 1,-28 1,-39 1,1 1,15 1,-3 1,-14 1,-25 1,11 1,-4 1,-1 1,-22 1,-9 1,-9 1,4 1,-23 1,9 1,-14 1,-2 1,-18 1,-4 1,-20 1,-2 1,-12 1,18 1,-9 1,16 1,-10 1,-12 1,-12 1,8 1,1 1,-21 1,-10 1,-9 1,9 1,13 1,0 1,8 1,-19 1,-11 1,5 1,0 1,-9 1,-13 1,3 1,5 1,2 1,1 1,-9 1,-18 1,-16 1,-3 1,6 1,-1 1,11 1,-11 1,-20 1,-10 1,16 1,-8 1,7 1,-1 1,5 1,11 1,-12 1,10 1,-17 1,-5 1,10 1,12 1,-19 1,-1 1,11 1,-3 1,-10 1,-22 1,4 1,-7 1,18 1,15 1,-18 1,-16 1,-8 1,10 1,-7 1,-12 1,14 1,-21 1,10 1,-12 1,1 1,6 1,12 1,6 1,-9 1,-9 1,4 1,4 1,11 1,-17 1,-7 1,-3 1,-8 1,17 1,-8 1,9 1,-5 1,5 1,6 1,-10 1,-16 1,-2 1,2" stroke="#ee9494" stroke-width="1.6" transform="translate(107.40,1120.5) scale(3.600,-0.28133)" vector-effect="non-scaling-stroke"/>
<path d="M0,55l1,-2 1,-11 1,-3 1,10 1,1 1,-10 1,-26 1,3 1,-46 1,-8 1,21 1,28 1,20 1,-13 1,-7 1,-15 1,9 1,11 1,-6 1,-7 1,-20 1,-20 1,-1 1,12 1,9 1,5 1,-9 1,-7 1,-14 1,-5 1,13 1,28 1,12 1,-6 1,-17 1,-4 1,-11 1,14 1,-12 1,7 1,-21 1,19 1,16 1,5 1,16 1,-3 1,-13 1,-14 1,3 1,258 1,21 1,4 1,74 1,106 1,118 1,110 1,39 1,68 1,53 1,74 1,24 1,29 1,23 1,11 1,16 1,14 1,-3 1,-20 1,-16 1,-2 1,-11 1,-7 1,25 1,-7 1,-11 1,-47 1,4 1,-3 1,45 1,-16 1,-8 1,-17 1,-8 1,-36 1,-37 1,-38 1,13 1,36 1,6 1,-29 1,-31 1,-24 1,-17 1,-40 1,-9 1,-35 1,-10 1,-22 1,15 1,3 1,-9 1,-8 1,-19 1,-18 1,-25 1,-6 1,-3 1,4 1,-21 1,-28 1,-43 1,-7 1,-23 1,2 1,-12 1,6 1,-10 1,-9 1,2 1,-3 1,-14 1,-27 1,-30 1,-27 1,9 1,8 1,-9 1,-19 1,-16 1,0 1,-25 1,10 1,-17 1,-5 1,-18 1,4 1,12 1,-16 1,-15 1,-16 1,2 1,8 1,-3 1,3 1,-27 1,-11 1,-6 1,15 1,2 1,5 1,0 1,-17 1,-15 1,-20 1,7 1,11 1,-7 1,-2 1,-32 1,3 1,-6 1,16 1,-8 1,-4 1,-16 1,-16 1,-2 1,4 1,17 1,0 1,-7 1,-4 1,4 1,-9 1,14 1,-8 1,-3 1,-5 1,19 1,-25 1,-8 1,-28 1,5 1,-4 1,18 1,4 1,-10 1,-18 1,0 1,15 1,0 1,20 1,-10 1,7 1,-13 1,-1 1,-19 1,7 1,-4 1,8 1,-1 1,2 1,-3 1,-12 1,-15 1,22 1,6 1,-14 1,-12 1,16 1,3 1,-22 1,-18 1,9 1,9 1,23 1,14 1,-1 1,-14 1,-18 1,7 1,-9 1,2 1,-12 1,-8 1,7 1,7 1,0 1,-5 1,12 1,-6 1,10 1,-14 1,-8 1,-6 1,7 1,-7 1,2 1,0 1,17 1,0 1,4 1,-21 1,7 1,8 1,16 1,-5 1,-13 1,-8 1,-3" stroke="#75bb7e" stroke-width="1.5" transform="translate(107.40,1120.5) scale(3.600,-0.28133)" vector-effect="non-scaling-stroke"/>
<path d="M0,42l1,-5 1,11 1,2 1,-1 1,-27 1,-24 1,-5 1,16 1,-28 1,-3 1,18 1,22 1,5 1,-7 1,8 1,2 1,22 1,-5 1,-12 1,-32 1,-20 1,-16 1,11 1,27 1,2 1,-8 1,-17 1,-6 1,9 1,-16 1,-10 1,11 1,27 1,22 1,-3 1,-32 1,-12 1,-9 1,15 1,-1 1,-8 1,2 1,9 1,-1 1,9 1,10 1,10 1,-19 1,-4 1,227 1,93 1,53 1,138 1,117 1,111 1,79 1,39 1,52 1,36 1,45 1,20 1,33 1,-6 1,8 1,-1 1,19 1,5 1,-13 1,-33 1,-17 1,-45 1,4 1,22 1,13 1,-5 1,-41 1,-22 1,-15 1,5 1,-20 1,-28 1,-16 1,-25 1,-28 1,-32 1,-6 1,-6 1,10 1,-28 1,-28 1,-34 1,-18 1,-38 1,-25 1,-22 1,-14 1,-22 1,-14 1,-15 1,-13 1,-10 1,-20 1,7 1,-32 1,9 1,-19 1,6 1,-19 1,-37 1,-15 1,-13 1,4 1,-34 1,-7 1,-18 1,6 1,-5 1,8 1,-5 1,-24 1,-5 1,-6 1,-3 1,-22 1,-10 1,-16 1,8 1,-8 1,5 1,-14 1,-22 1,-4 1,-16 1,-2 1,-10 1,-3 1,3 1,3 1,-19 1,10 1,-13 1,12 1,-6 1,15 1,5 1,-6 1,-7 1,-9 1,-5 1,-18 1,-22 1,-9 1,15 1,1 1,2 1,3 1,5 1,14 1,-8 1,-12 1,-6 1,-1 1,10 1,-1 1,-6 1,0 1,-18 1,-8 1,0 1,7 1,-4 1,2 1,20 1,9 1,8 1,-19 1,-22 1,10 1,1 1,9 1,-27 1,-5 1,-5 1,23 1,8 1,-5 1,-18 1,-6 1,-4 1,17 1,1 1,7 1,-8 1,-7 1,16 1,0 1,-9 1,-4 1,-24 1,8 1,1 1,-1 1,7 1,-4 1,15 1,1 1,3 1,-29 1,1 1,9 1,8 1,-16 1,-14 1,14 1,-7 1,-3 1,12 1,2 1,13 1,-18 1,4 1,15 1,-14 1,9 1,-36 1,17 1,-10 1,-8 1,8 1,16 1,4 1,-6 1,-17 1,25 1,-1 1,2 1,-22 1,-1 1,15 1,-2 1,-7 1,-3 1,-18 1,12 1,15 1,22 1,1 1,-29 1,-10 1,-7" stroke="#75bb7e" stroke-width="1.5" transform="translate(107.40,1120.5) scale(3.600,-0.28133)" vector-effect="non-scaling-stroke"/>
<path d="M0,70l1,-4 1,15 1,-27 1,20 1,-27 1,-23 1,-22 1,17 1,-15 1,-33 1,11 1,7 1,25 1,-16 1,5 1,-1 1,29 1,0 1,-19 1,-31 1,-3 1,31 1,1 1,-2 1,-15 1,20 1,9 1,-16 1,-8 1,-16 1,-18 1,10 1,4 1,26 1,-33 1,-22 1,-14 1,18 1,26 1,-10 1,0 1,-18 1,36 1,-17 1,34 1,-19 1,-1 1,-21 1,12 1,259 1,-52 1,-89 1,13 1,68 1,88 1,68 1,22 1,54 1,59 1,63 1,39 1,53 1,44 1,37 1,26 1,32 1,6 1,11 1,0 1,22 1,-22 1,20 1,32 1,33 1,-6 1,-4 1,1 1,18 1,16 1,-1 1,7 1,23 1,-4 1,-24 1,-20 1,-17 1,0 1,15 1,25 1,-24 1,-36 1,-16 1,-7 1,-13 1,-37 1,-4 1,-8 1,13 1,-25 1,-21 1,-44 1,-27 1,-23 1,-1 1,-4 1,0 1,-23 1,-8 1,-11 1,-5 1,-15 1,-20 1,-10 1,-19 1,-18 1,-29 1,-8 1,-4 1,10 1,-16 1,-2 1,-40 1,-7 1,5 1,3 1,-16 1,-43 1,8 1,12 1,-2 1,-29 1,-39 1,-7 1,11 1,-4 1,-3 1,-8 1,26 1,-20 1,-8 1,-4 1,0 1,-8 1,-20 1,-11 1,-15 1,0 1,0 1,2 1,-21 1,-22 1,-3 1,24 1,-2 1,-9 1,-12 1,12 1,11 1,-2 1,-12 1,-21 1,1 1,-1 1,7 1,-21 1,3 1,-10 1,-11 1,-10 1,-1 1,13 1,17 1,15 1,-13 1,-12 1,-16 1,12 1,16 1,-7 1,-30 1,-12 1,1 1,8 1,7 1,-4 1,-12 1,-7 1,8 1,9 1,-7 1,6 1,9 1,-12 1,-27 1,-1 1,-3 1,19 1,-8 1,-3 1,-3 1,17 1,-1 1,-23 1,-5 1,-15 1,21 1,2 1,7 1,0 1,4 1,5 1,-16 1,-17 1,6 1,15 1,16 1,-3 1,-7 1,-3 1,3 1,9 1,-4 1,-12 1,-10 1,-29 1,6 1,-2 1,-3 1,0 1,23 1,3 1,7 1,-12 1,-4 1,-17 1,2 1,20 1,4 1,12 1,-20 1,9 1,-6 1,-1 1,-16 1,-5 1,-6 1,10 1,-16 1,10 1,-2" stroke="#ee9494" stroke-width="1.6" transform="translate(107.40,1120.5) scale(3.600,-0.28133)" vector-effect="non-scaling-stroke"/>
<path d="M0,57l1,-16 1,-18 1,26 1,26 1,-17 1,-50 1,-13 1,37 1,-4 1,-15 1,2 1,0 1,15 1,-9 1,-15 1,-9 1,13 1,14 1,-15 1,-2 1,4 1,-14 1,-6 1,-11 1,5 1,11 1,-9 1,13 1,-21 1,7 1,-3 1,29 1,2 1,-12 1,-26 1,-14 1,-1 1,0 1,7 1,-8 1,1 1,-1 1,18 1,9 1,1 1,-11 1,-3 1,12 1,11 1,226 1,12 1,0 1,112 1,106 1,120 1,95 1,49 1,75 1,43 1,55 1,37 1,32 1,35 1,5 1,7 1,13 1,6 1,-10 1,-22 1,0 1,-24 1,9 1,32 1,27 1,12 1,-31 1,0 1,-15 1,28 1,-7 1,3 1,-3 1,-13 1,-36 1,-17 1,-12 1,20 1,20 1,28 1,-6 1,-20 1,-18 1,-28 1,-15 1,-23 1,1 1,-9 1,-5 1,6 1,-18 1,-19 1,-35 1,-12 1,4 1,-18 1,-16 1,-39 1,-9 1,-26 1,-22 1,-32 1,-3 1,-4 1,-7 1,-16 1,-14 1,-17 1,-21 1,-19 1,2 1,-21 1,-20 1,-32 1,1 1,-7 1,-9 1,0 1,-14 1,-25 1,-29 1,-20 1,26 1,-14 1,2 1,-34 1,-12 1,-8 1,-3 1,-15 1,6 1,3 1,-2 1,-15 1,-7 1,-10 1,-10 1,-7 1,-11 1,-15 1,-9 1,-10 1,12 1,1 1,-5 1,-10 1,-12 1,12 1,-17 1,-11 1,1 1,-11 1,10 1,-24 1,17 1,-14 1,7 1,-3 1,-17 1,-14 1,-13 1,-11 1,6 1,3 1,-1 1,21 1,9 1,1 1,-5 1,0 1,-3 1,-16 1,-21 1,0 1,17 1,3 1,-13 1,-23 1,-7 1,4 1,3 1,-13 1,17 1,1 1,9 1,-22 1,-12 1,-9 1,-2 1,-1 1,7 1,23 1,-16 1,11 1,14 1,12 1,3 1,-10 1,-9 1,-23 1,10 1,-5 1,-5 1,-31 1,-1 1,4 1,11 1,14 1,-4 1,-10 1,0 1,20 1,4 1,-19 1,-15 1,-8 1,13 1,-2 1,-9 1,-5 1,20 1,0 1,14 1,-15 1,6 1,-9 1,6 1,-13 1,-10 1,3 1,4 1,9 1,-13 1,-7 1,5 1,3 1,5 1,-22 1,22 1,7 1,13" stroke="#ee9494" stroke-width="1.6" transform="translate(107.40,1120.5) scale(3.600,-0.28133)" vector-effect="non-scaling-stroke"/>
<path d="M0,68l1,-12 1,-17 1,-3 1,21 1,6 1,-43 1,-8 1,10 1,-8 1,-26 1,18 1,17 1,24 1,-10 1,-12 1,-3 1,8 1,17 1,-15 1,-5 1,-24 1,-5 1,0 1,2 1,-6 1,0 1,-10 1,-12 1,-3 1,8 1,12 1,-2 1,6 1,-14 1,14 1,-21 1,7 1,-4 1,17 1,-10 1,-2 1,4 1,10 1,-7 1,9 1,16 1,-26 1,6 1,-16 1,260 1,54 1,54 1,115 1,114 1,133 1,107 1,42 1,51 1,27 1,33 1,2 1,28 1,36 1,13 1,5 1,-2 1,10 1,-24 1,-19 1,-18 1,-31 1,-1 1,13 1,19 1,-19 1,-36 1,-8 1,8 1,44 1,-20 1,-19 1,-8 1,-20 1,-29 1,-29 1,-1 1,-2 1,-5 1,-26 1,-26 1,-24 1,-12 1,-14 1,-24 1,-24 1,-29 1,-17 1,-2 1,11 1,-24 1,-18 1,-41 1,5 1,-5 1,0 1,-28 1,-32 1,-18 1,-11 1,-14 1,-27 1,-11 1,-12 1,4 1,-8 1,-2 1,-28 1,-18 1,-24 1,-2 1,-14 1,-14 1,7 1,2 1,-9 1,-24 1,4 1,3 1,-9 1,-24 1,-13 1,-1 1,-22 1,-11 1,-9 1,-12 1,6 1,0 1,13 1,5 1,-4 1,-12 1,-14 1,3 1,-7 1,-14 1,-6 1,5 1,6 1,-3 1,-4 1,-8 1,-13 1,-26 1,2 1,11 1,2 1,5 1,-17 1,3 1,-16 1,16 1,-5 1,14 1,-23 1,-13 1,-22 1,-5 1,22 1,6 1,-2 1,9 1,7 1,-12 1,-16 1,-21 1,2 1,16 1,6 1,-15 1,-13 1,-6 1,7 1,7 1,5 1,-6 1,-5 1,-18 1,-1 1,-8 1,7 1,26 1,-22 1,3 1,-12 1,21 1,-8 1,-1 1,-16 1,12 1,-1 1,-11 1,-13 1,-3 1,15 1,23 1,3 1,-16 1,-18 1,18 1,13 1,-1 1,-4 1,-15 1,7 1,-21 1,18 1,-6 1,17 1,3 1,-10 1,-12 1,-2 1,3 1,-6 1,-11 1,8 1,-4 1,-2 1,0 1,11 1,11 1,4 1,-19 1,-3 1,-10 1,-8 1,5 1,13 1,10 1,-6 1,-14 1,3 1,-13 1,2 1,3 1,10 1,0 1,-9 1,3" stroke="#75bb7e" stroke-width="1.5" transform="translate(107.40,1120.5) scale(3.600,-0.28133)" vector-effect="non-scaling-stroke"/>
<path d="M0,89l1,-29 1,-35 1,4 1,33 1,6 1,-53 1,0 1,-2 1,-4 1,-13 1,25 1,10 1,2 1,-15 1,-13 1,4 1,6 1,5 1,-5 1,-10 1,2 1,-16 1,10 1,-7 1,2 1,-3 1,19 1,5 1,-7 1,-19 1,-29 1,23 1,5 1,10 1,-8 1,-25 1,3 1,-10 1,2 1,0 1,-3 1,15 1,3 1,6 1,19 1,1 1,-28 1,-37 1,-4 1,259 1,88 1,44 1,122 1,144 1,131 1,107 1,26 1,70 1,38 1,30 1,18 1,14 1,14 1,-9 1,-3 1,9 1,-6 1,-29 1,-15 1,-15 1,-44 1,-17 1,26 1,34 1,2 1,-51 1,-31 1,-32 1,22 1,-11 1,-10 1,-16 1,-31 1,-40 1,-44 1,-17 1,-5 1,5 1,-11 1,-48 1,-17 1,-31 1,-6 1,-30 1,-10 1,-21 1,-3 1,1 1,9 1,-16 1,-38 1,-25 1,-33 1,-20 1,-14 1,0 1,-11 1,-2 1,-29 1,-25 1,-33 1,15 1,17 1,-1 1,-22 1,-11 1,-7 1,-10 1,-15 1,-25 1,-2 1,-14 1,10 1,-4 1,8 1,-16 1,-10 1,-12 1,3 1,-10 1,-10 1,-13 1,-12 1,-13 1,13 1,-13 1,2 1,-9 1,6 1,3 1,-9 1,-7 1,0 1,-10 1,0 1,-23 1,17 1,-11 1,13 1,-1 1,7 1,16 1,4 1,-10 1,-32 1,-15 1,-5 1,1 1,4 1,-6 1,19 1,-4 1,-5 1,-18 1,-14 1,9 1,11 1,9 1,3 1,-10 1,-20 1,-8 1,9 1,-1 1,15 1,1 1,-1 1,13 1,-17 1,1 1,-20 1,7 1,-5 1,2 1,-3 1,-11 1,-13 1,4 1,8 1,21 1,17 1,8 1,-10 1,-32 1,-17 1,-6 1,7 1,13 1,-7 1,-8 1,-6 1,-2 1,8 1,24 1,1 1,-6 1,-9 1,-11 1,5 1,13 1,6 1,-26 1,-12 1,-19 1,15 1,-1 1,12 1,-2 1,9 1,1 1,14 1,4 1,19 1,-12 1,-43 1,-10 1,27 1,10 1,-7 1,-13 1,14 1,18 1,0 1,-15 1,-9 1,5 1,-8 1,-22 1,-1 1,3 1,15 1,-3 1,-3 1,4 1,9 1,13 1,-4 1,-9 1,-1 1,4" stroke="#75bb7e" stroke-width="1.5" transform="translate(107.40,1120.5) scale(3.600,-0.28133)" vector-effect="non-scaling-stroke"/>
<path d="M0,53l1,5 1,-22 1,-1 1,-12 1,4 1,3 1,-9 1,18 1,-49 1,-18 1,24 1,15 1,27 1,-3 1,-7 1,5 1,-9 1,14 1,-14 1,-11 1,-14 1,-16 1,14 1,8 1,17 1,-2 1,1 1,-6 1,-10 1,-19 1,-31 1,22 1,27 1,6 1,-21 1,-30 1,24 1,0 1,3 1,-32 1,5 1,0 1,21 1,-7 1,16 1,2 1,3 1,-2 1,18 1,238 1,14 1,-28 1,78 1,98 1,124 1,108 1,57 1,71 1,53 1,30 1,40 1,44 1,54 1,4 1,-7 1,10 1,11 1,-16 1,-17 1,-13 1,-8 1,-3 1,7 1,14 1,10 1,-17 1,-19 1,-12 1,43 1,-13 1,-21 1,-24 1,-16 1,-39 1,-28 1,-19 1,13 1,9 1,6 1,-32 1,-23 1,-31 1,-7 1,-33 1,0 1,-27 1,-24 1,-21 1,-5 1,-3 1,-22 1,-9 1,-10 1,-19 1,-7 1,-1 1,-9 1,-32 1,-21 1,-23 1,-19 1,-23 1,1 1,8 1,-6 1,-2 1,-37 1,-12 1,-41 1,10 1,0 1,-15 1,-22 1,-12 1,-4 1,-10 1,-24 1,0 1,-4 1,-7 1,-14 1,-4 1,0 1,0 1,3 1,-16 1,1 1,-6 1,-7 1,6 1,-1 1,1 1,-29 1,-14 1,-6 1,11 1,-6 1,-10 1,-19 1,-10 1,3 1,6 1,14 1,-6 1,-5 1,-5 1,-19 1,-10 1,-3 1,15 1,12 1,-7 1,-16 1,-2 1,-2 1,3 1,-9 1,1 1,-2 1,14 1,-9 1,4 1,-18 1,-8 1,12 1,3 1,-16 1,-21 1,-6 1,16 1,0 1,-10 1,-12 1,21 1,2 1,-5 1,-15 1,-5 1,8 1,-9 1,14 1,7 1,1 1,-23 1,-5 1,7 1,5 1,8 1,-16 1,-3 1,-12 1,1 1,21 1,4 1,0 1,-2 1,-4 1,-33 1,-19 1,19 1,11 1,-12 1,-31 1,10 1,32 1,18 1,3 1,-19 1,0 1,6 1,-13 1,3 1,6 1,11 1,-27 1,-3 1,12 1,-2 1,-5 1,17 1,6 1,12 1,-14 1,-15 1,-6 1,6 1,12 1,4 1,3 1,-2 1,-6 1,-1 1,-9 1,-15 1,-3 1,-1 1,12 1,6 1,12 1,0" stroke="#75bb7e" stroke-width="1.5" transform="translate(107.40,1120.5) scale(3.600,-0.28133)" vector-effect="non-scaling-stroke"/>
<path d="M0,69l1,-14 1,-18 1,-10 1,38 1,-2 1,-13 1,-41 1,6 1,-29 1,-12 1,30 1,8 1,18 1,-2 1,-6 1,6 1,-9 1,18 1,-16 1,9 1,-19 1,-13 1,-5 1,1 1,3 1,-11 1,-3 1,-1 1,7 1,20 1,-1 1,17 1,-10 1,-2 1,-18 1,-30 1,8 1,-11 1,5 1,-22 1,8 1,30 1,12 1,4 1,-2 1,-2 1,-9 1,-4 1,-2 1,253 1,19 1,30 1,83 1,131 1,129 1,120 1,51 1,70 1,61 1,49 1,34 1,24 1,35 1,7 1,-7 1,17 1,0 1,-18 1,-8 1,-6 1,-24 1,-25 1,13 1,22 1,3 1,-19 1,-25 1,-9 1,27 1,-4 1,-13 1,-12 1,-12 1,-29 1,-40 1,-12 1,0 1,2 1,-12 1,-39 1,-12 1,-20 1,-11 1,-40 1,-41 1,-11 1,-9 1,2 1,-9 1,-19 1,-26 1,-37 1,-23 1,12 1,-2 1,-4 1,-27 1,-41 1,-15 1,-25 1,-2 1,-8 1,-25 1,-2 1,-9 1,-15 1,-21 1,-21 1,4 1,-7 1,-7 1,-12 1,-16 1,-6 1,-19 1,-15 1,-35 1,6 1,10 1,29 1,-27 1,-11 1,-23 1,6 1,-1 1,-14 1,-5 1,-25 1,-15 1,14 1,22 1,11 1,-30 1,-15 1,-23 1,4 1,-1 1,9 1,11 1,-11 1,-7 1,-29 1,12 1,-15 1,5 1,-9 1,14 1,-6 1,-10 1,-27 1,2 1,-3 1,7 1,-2 1,1 1,-10 1,1 1,3 1,-7 1,11 1,-1 1,14 1,-5 1,-35 1,13 1,-15 1,7 1,-9 1,-7 1,-11 1,-5 1,-6 1,1 1,2 1,9 1,1 1,-19 1,-1 1,-5 1,11 1,-9 1,5 1,-5 1,1 1,-8 1,15 1,-15 1,23 1,-7 1,2 1,-1 1,2 1,14 1,4 1,-16 1,9 1,-12 1,-18 1,0 1,17 1,11 1,-5 1,-10 1,7 1,-10 1,11 1,8 1,-17 1,-24 1,-13 1,22 1,17 1,0 1,1 1,-21 1,-7 1,4 1,-9 1,9 1,0 1,-1 1,-5 1,-1 1,2 1,2 1,13 1,-10 1,-11 1,-13 1,5 1,11 1,13 1,5 1,7 1,-7 1,-4 1,6 1,-9 1,0 1,-10" stroke="#75bb7e" stroke-width="1.5" transform="translate(107.40,1120.5) scale(3.600,-0.28133)" vector-effect="non-scaling-stroke"/>
<path d="M0,55l1,-8 1,-15 1,4 1,13 1,4 1,-21 1,-5 1,17 1,-14 1,-38 1,11 1,5 1,21 1,-9 1,-6 1,2 1,27 1,20 1,-12 1,-20 1,-20 1,-6 1,-9 1,3 1,4 1,1 1,-3 1,-7 1,7 1,-23 1,-14 1,-21 1,19 1,9 1,20 1,-3 1,2 1,-2 1,-18 1,-15 1,-1 1,25 1,26 1,-5 1,9 1,1 1,17 1,-33 1,-13 1,232 1,0 1,-41 1,34 1,71 1,118 1,102 1,58 1,61 1,69 1,48 1,37 1,35 1,51 1,36 1,26 1,36 1,8 1,-12 1,-3 1,-8 1,-26 1,-7 1,32 1,44 1,3 1,-5 1,-4 1,3 1,13 1,12 1,9 1,20 1,-21 1,-30 1,-11 1,-22 1,7 1,2 1,5 1,-19 1,-27 1,-15 1,-1 1,-21 1,-9 1,-37 1,-16 1,-22 1,-16 1,-10 1,-31 1,-24 1,-18 1,0 1,-5 1,-12 1,-10 1,-1 1,-13 1,-31 1,-22 1,-23 1,-10 1,-14 1,-9 1,-8 1,-25 1,-20 1,-16 1,-3 1,-6 1,-32 1,3 1,-2 1,0 1,-19 1,-25 1,-10 1,-2 1,-15 1,-13 1,-30 1,-7 1,28 1,-5 1,-17 1,-26 1,6 1,11 1,-14 1,7 1,-18 1,-12 1,-30 1,-3 1,2 1,-1 1,-5 1,17 1,12 1,-16 1,-29 1,-7 1,-11 1,-15 1,-18 1,-5 1,-4 1,0 1,-1 1,8 1,5 1,3 1,-10 1,-22 1,3 1,-3 1,-7 1,-5 1,6 1,-3 1,5 1,7 1,-4 1,0 1,1 1,1 1,-1 1,-16 1,5 1,-3 1,-2 1,-11 1,3 1,3 1,-14 1,-9 1,5 1,11 1,15 1,-4 1,10 1,-19 1,-21 1,-1 1,11 1,4 1,-1 1,-21 1,6 1,3 1,3 1,6 1,-1 1,-5 1,1 1,-15 1,-1 1,-10 1,9 1,2 1,-2 1,0 1,-15 1,4 1,6 1,29 1,-1 1,-6 1,-16 1,-6 1,-10 1,-21 1,9 1,-22 1,25 1,-8 1,7 1,-22 1,1 1,4 1,16 1,2 1,-5 1,-11 1,13 1,-2 1,5 1,-15 1,-6 1,-12 1,14 1,-15 1,20 1,-11 1,17 1,-5 1,-2 1,-1 1,-3" stroke="#ee9494" stroke-width="1.6" transform="translate(107.40,1120.5) scale(3.600,-0.28133)" vector-effect="non-scaling-stroke"/>
<path d="M0,50l1,-3 1,4 1,2 1,8 1,-14 1,-20 1,-16 1,5 1,-31 1,-9 1,22 1,28 1,-10 1,1 1,-5 1,20 1,20 1,2 1,-13 1,-36 1,-18 1,-9 1,11 1,19 1,-3 1,4 1,-22 1,-3 1,-16 1,-17 1,2 1,10 1,22 1,7 1,-11 1,-14 1,-29 1,4 1,8 1,12 1,5 1,18 1,20 1,-3 1,2 1,4 1,-4 1,-1 1,0 1,235 1,-42 1,-62 1,35 1,67 1,103 1,101 1,50 1,72 1,51 1,56 1,51 1,58 1,46 1,1 1,19 1,30 1,23 1,-13 1,4 1,33 1,-20 1,20 1,2 1,35 1,-1 1,-16 1,4 1,9 1,57 1,1 1,-23 1,-27 1,-3 1,1 1,-2 1,-9 1,7 1,-5 1,11 1,-22 1,-1 1,-19 1,-17 1,-32 1,-37 1,-11 1,-9 1,8 1,-24 1,-4 1,-18 1,-15 1,-13 1,-22 1,-8 1,-14 1,-10 1,-11 1,-19 1,-11 1,-11 1,-9 1,-10 1,-22 1,-28 1,-15 1,-7 1,-15 1,-23 1,-33 1,-2 1,-3 1,3 1,-13 1,-11 1,-8 1,-10 1,-17 1,-12 1,0 1,-32 1,-5 1,-27 1,14 1,-20 1,-21 1,-1 1,-8 1,-14 1,-12 1,17 1,25 1,1 1,-34 1,-21 1,-25 1,12 1,-17 1,11 1,-4 1,15 1,-1 1,-4 1,-30 1,-12 1,-9 1,10 1,-2 1,-16 1,-8 1,-19 1,17 1,7 1,10 1,-11 1,-18 1,-14 1,-10 1,7 1,8 1,-11 1,1 1,3 1,-9 1,0 1,-6 1,21 1,10 1,-17 1,-11 1,-4 1,-8 1,-11 1,4 1,21 1,-15 1,-4 1,-16 1,14 1,-17 1,16 1,5 1,-6 1,-19 1,-2 1,16 1,-3 1,-14 1,-24 1,-3 1,12 1,-8 1,16 1,10 1,-3 1,-15 1,0 1,-16 1,21 1,12 1,11 1,-26 1,-17 1,0 1,-11 1,7 1,12 1,-4 1,-5 1,12 1,15 1,-12 1,-19 1,-11 1,-10 1,13 1,2 1,-15 1,-14 1,13 1,13 1,22 1,2 1,1 1,-15 1,13 1,-17 1,3 1,-16 1,-9 1,3 1,-4 1,4 1,0 1,5 1,11 1,-4 1,5 1,5 1,-4" stroke="#ee9494" stroke-width="1.6" transform="translate(107.40,1120.5) scale(3.600,-0.28133)" vector-effect="non-scaling-stroke"/>
<path d="M0,68l1,-6 1,-18 1,-1 1,14 1,-10 1,-27 1,-23 1,21 1,-17 1,-9 1,6 1,17 1,0 1,4 1,-7 1,13 1,8 1,-2 1,-8 1,1 1,-16 1,-32 1,-27 1,24 1,20 1,24 1,-7 1,-6 1,-12 1,-14 1,-1 1,1 1,10 1,7 1,15 1,-17 1,-18 1,-23 1,9 1,2 1,11 1,-12 1,22 1,6 1,12 1,-5 1,-5 1,8 1,8 1,255 1,8 1,-25 1,50 1,110 1,126 1,105 1,47 1,75 1,50 1,37 1,11 1,53 1,47 1,34 1,-9 1,-3 1,-12 1,-23 1,-26 1,-25 1,-25 1,-5 1,15 1,-8 1,-26 1,-41 1,-26 1,-17 1,6 1,-34 1,-22 1,-15 1,-22 1,-28 1,-49 1,-22 1,-29 1,6 1,-7 1,-22 1,-32 1,-28 1,-24 1,-35 1,-18 1,-8 1,11 1,0 1,10 1,-16 1,-29 1,-27 1,-24 1,4 1,-24 1,4 1,-34 1,3 1,-17 1,-4 1,-7 1,1 1,5 1,-24 1,-14 1,-9 1,8 1,-1 1,-12 1,-17 1,-17 1,-14 1,-5 1,5 1,15 1,11 1,-17 1,-9 1,-15 1,22 1,-8 1,3 1,-31 1,-7 1,-6 1,-5 1,12 1,-12 1,5 1,-12 1,27 1,-12 1,8 1,-29 1,3 1,-17 1,7 1,-2 1,6 1,5 1,-1 1,6 1,-3 1,-21 1,-15 1,0 1,-7 1,9 1,-4 1,13 1,3 1,9 1,7 1,-14 1,-12 1,-5 1,-3 1,2 1,2 1,-2 1,-10 1,-6 1,28 1,-1 1,8 1,-22 1,-11 1,9 1,18 1,1 1,-5 1,-15 1,-21 1,11 1,8 1,12 1,-17 1,-5 1,23 1,9 1,-9 1,2 1,-23 1,2 1,-21 1,24 1,-15 1,23 1,-12 1,-1 1,-30 1,-11 1,33 1,25 1,5 1,-7 1,-1 1,-12 1,0 1,-5 1,14 1,-2 1,-14 1,10 1,3 1,12 1,-30 1,-6 1,8 1,13 1,-22 1,3 1,-1 1,17 1,-2 1,23 1,13 1,-27 1,-14 1,-20 1,10 1,-6 1,6 1,-21 1,6 1,17 1,8 1,-1 1,-9 1,-7 1,-18 1,4 1,16 1,11 1,5 1,-13 1,3 1,-13 1,-3 1,2" stroke="#75bb7e" stroke-width="1.5" transform="translate(107.40,1120.5) scale(3.600,-0.28133)" vector-effect="non-scaling-stroke"/>
<path d="M0,62l1,1 1,-37 1,4 1,4 1,6 1,-30 1,-15 1,21 1,-20 1,-27 1,34 1,3 1,12 1,-23 1,3 1,17 1,18 1,8 1,-38 1,-17 1,-13 1,17 1,-4 1,8 1,-5 1,5 1,-10 1,-4 1,1 1,-7 1,3 1,17 1,4 1,17 1,-4 1,2 1,-18 1,0 1,-15 1,-4 1,-27 1,16 1,18 1,13 1,13 1,-14 1,0 1,3 1,8 1,240 1,-50 1,-68 1,17 1,54 1,82 1,85 1,44 1,67 1,48 1,43 1,34 1,64 1,93 1,48 1,32 1,6 1,24 1,-9 1,8 1,3 1,2 1,2 1,51 1,33 1,26 1,-21 1,-10 1,-4 1,47 1,14 1,14 1,9 1,5 1,-6 1,-30 1,-21 1,-3 1,21 1,15 1,-8 1,-12 1,-6 1,-24 1,-34 1,-24 1,-5 1,0 1,-9 1,1 1,-12 1,-33 1,-45 1,-8 1,2 1,-14 1,-33 1,-21 1,-10 1,-9 1,-31 1,-18 1,-16 1,3 1,-11 1,-18 1,-21 1,-8 1,-9 1,-21 1,-25 1,-19 1,-20 1,-8 1,13 1,5 1,-14 1,-41 1,-25 1,-12 1,-6 1,2 1,5 1,-3 1,-29 1,-15 1,-28 1,14 1,-6 1,-6 1,-17 1,-5 1,-7 1,1 1,-8 1,-14 1,3 1,8 1,1 1,-24 1,1 1,4 1,11 1,-35 1,-6 1,-4 1,4 1,-37 1,-4 1,-6 1,15 1,-8 1,13 1,-2 1,-1 1,-19 1,-8 1,-7 1,-11 1,-2 1,-1 1,-16 1,2 1,-7 1,10 1,-3 1,16 1,-11 1,12 1,-29 1,-11 1,6 1,2 1,-10 1,-2 1,18 1,3 1,-17 1,-5 1,-11 1,11 1,-15 1,27 1,-8 1,-1 1,-4 1,1 1,-18 1,4 1,-24 1,12 1,-10 1,-9 1,-3 1,19 1,-5 1,0 1,-29 1,-12 1,-10 1,12 1,6 1,16 1,-2 1,4 1,-21 1,-2 1,20 1,6 1,12 1,-8 1,1 1,-11 1,-6 1,2 1,-20 1,3 1,11 1,9 1,-16 1,2 1,4 1,12 1,0 1,-7 1,16 1,-19 1,-6 1,-27 1,16 1,1 1,23 1,1 1,-12 1,-8 1,0 1,17 1,-22 1,-6 1,-37 1,20" stroke="#ee9494" stroke-width="1.6" transform="translate(107.40,1120.5) scale(3.600,-0.28133)" vector-effect="non-scaling-stroke"/>
<path d="M0,55l1,-18 1,-10 1,8 1,29 1,0 1,-24 1,-17 1,0 1,-25 1,-35 1,27 1,9 1,19 1,-9 1,-12 1,13 1,10 1,17 1,-16 1,-5 1,-16 1,-6 1,-3 1,1 1,11 1,7 1,-19 1,-24 1,2 1,9 1,24 1,2 1,18 1,-13 1,-14 1,-16 1,3 1,-2 1,-6 1,-19 1,-9 1,8 1,18 1,6 1,3 1,2 1,-21 1,-7 1,-2 1,267 1,-2 1,-33 1,64 1,102 1,137 1,91 1,49 1,57 1,76 1,71 1,47 1,37 1,21 1,21 1,7 1,25 1,0 1,-10 1,-12 1,-3 1,-37 1,12 1,15 1,31 1,-8 1,-15 1,-2 1,-15 1,15 1,-26 1,-28 1,-5 1,-24 1,-15 1,-27 1,-4 1,-6 1,8 1,0 1,-30 1,-35 1,-23 1,-3 1,-27 1,-27 1,-4 1,-11 1,-1 1,-34 1,-8 1,-23 1,-19 1,-25 1,-5 1,-5 1,2 1,-39 1,-3 1,-39 1,-13 1,-36 1,4 1,0 1,8 1,4 1,0 1,-14 1,-26 1,-42 1,-19 1,-17 1,7 1,-16 1,-4 1,-16 1,4 1,-8 1,-14 1,-22 1,-11 1,-4 1,1 1,-5 1,6 1,3 1,-18 1,-12 1,4 1,-3 1,7 1,-12 1,-3 1,-4 1,-10 1,0 1,-11 1,-2 1,-13 1,-8 1,7 1,2 1,-6 1,-8 1,-27 1,2 1,10 1,3 1,-4 1,-25 1,6 1,-11 1,7 1,-16 1,6 1,-15 1,9 1,12 1,-11 1,-5 1,-20 1,9 1,11 1,4 1,-4 1,7 1,13 1,-7 1,-1 1,-19 1,-27 1,-12 1,7 1,14 1,4 1,-2 1,3 1,19 1,-13 1,-3 1,-29 1,6 1,15 1,0 1,-17 1,-2 1,15 1,12 1,-10 1,-29 1,8 1,-4 1,-2 1,-14 1,30 1,2 1,14 1,-27 1,-15 1,-13 1,23 1,7 1,9 1,-30 1,9 1,5 1,5 1,2 1,-18 1,0 1,-4 1,-12 1,4 1,-10 1,26 1,-3 1,24 1,-10 1,-13 1,2 1,20 1,12 1,-27 1,-14 1,4 1,16 1,4 1,-22 1,11 1,12 1,-7 1,-25 1,-9 1,20 1,0 1,-7 1,-29 1,7 1,7 1,22 1,4" stroke="#75bb7e" stroke-width="1.5" transform="translate(107.40,1120.5) scale(3.600,-0.28133)" vector-effect="non-scaling-stroke"/>
<path d="M0,53l1,-22 1,-4 1,1 1,31 1,-13 1,-34 1,-13 1,3 1,10 1,-28 1,29 1,-4 1,18 1,-16 1,-9 1,10 1,22 1,0 1,-15 1,-15 1,-6 1,-13 1,2 1,-9 1,1 1,2 1,13 1,-3 1,7 1,-14 1,-5 1,0 1,16 1,24 1,-5 1,-24 1,-23 1,-6 1,-6 1,-2 1,-3 1,29 1,10 1,13 1,4 1,1 1,2 1,-17 1,-2 1,231 1,-60 1,-107 1,-6 1,23 1,90 1,56 1,31 1,31 1,47 1,53 1,44 1,45 1,54 1,32 1,43 1,44 1,33 1,7 1,-6 1,26 1,-8 1,33 1,49 1,27 1,16 1,-30 1,31 1,6 1,53 1,2 1,15 1,6 1,-6 1,-25 1,-8 1,-6 1,-4 1,16 1,9 1,6 1,-29 1,-13 1,-30 1,-17 1,-29 1,-2 1,-5 1,-9 1,-14 1,-20 1,-8 1,-19 1,-26 1,-17 1,-6 1,15 1,-32 1,-28 1,-24 1,-15 1,-24 1,-19 1,10 1,-5 1,-13 1,-20 1,8 1,-18 1,-6 1,-32 1,-13 1,-23 1,6 1,3 1,-11 1,-14 1,-14 1,-8 1,-13 1,-13 1,-20 1,-6 1,-7 1,2 1,-4 1,-26 1,2 1,-12 1,20 1,-14 1,6 1,-17 1,5 1,-3 1,-21 1,-25 1,-7 1,-3 1,14 1,-19 1,9 1,5 1,0 1,-7 1,-12 1,3 1,-10 1,-9 1,1 1,-2 1,-2 1,3 1,-6 1,5 1,-16 1,8 1,-12 1,5 1,-11 1,8 1,-24 1,9 1,4 1,-11 1,-8 1,-13 1,-3 1,19 1,12 1,7 1,-12 1,-23 1,-7 1,9 1,26 1,2 1,-19 1,-21 1,-6 1,-3 1,1 1,11 1,13 1,-10 1,4 1,0 1,-6 1,10 1,-16 1,0 1,-15 1,-12 1,9 1,4 1,3 1,9 1,-12 1,-17 1,-20 1,17 1,12 1,2 1,-12 1,0 1,1 1,0 1,3 1,7 1,5 1,17 1,-11 1,2 1,-11 1,5 1,-31 1,-18 1,2 1,15 1,9 1,5 1,-6 1,6 1,-20 1,-4 1,-8 1,11 1,9 1,-15 1,0 1,-23 1,22 1,2 1,14 1,-6 1,6 1,-15 1,-3 1,9 1,-3 1,3" stroke="#ee9494" stroke-width="1.6" transform="translate(107.40,1120.5) scale(3.600,-0.28133)" vector-effect="non-scaling-stroke"/>
<path d="M0,42l1,-20 1,0 1,6 1,16 1,-11 1,-34 1,-25 1,21 1,1 1,2 1,25 1,-1 1,10 1,-13 1,-2 1,8 1,1 1,3 1,-29 1,4 1,-12 1,-2 1,-17 1,8 1,15 1,18 1,-1 1,-20 1,-3 1,-15 1,-21 1,7 1,4 1,32 1,-16 1,-13 1,2 1,-4 1,4 1,-7 1,-3 1,0 1,6 1,11 1,11 1,3 1,4 1,11 1,14 1,246 1,52 1,29 1,97 1,140 1,130 1,112 1,47 1,60 1,25 1,12 1,19 1,45 1,32 1,0 1,-19 1,9 1,3 1,-2 1,-25 1,0 1,-48 1,-4 1,8 1,31 1,2 1,-45 1,-13 1,-11 1,35 1,-17 1,-11 1,-8 1,-14 1,-27 1,-29 1,-11 1,-6 1,17 1,-5 1,-14 1,-35 1,-16 1,-36 1,-19 1,-25 1,-11 1,-22 1,-24 1,-19 1,-5 1,-13 1,-13 1,-28 1,-11 1,-3 1,2 1,-18 1,-19 1,-6 1,-6 1,-13 1,-34 1,-9 1,-24 1,4 1,-29 1,-4 1,-24 1,-10 1,0 1,-16 1,-5 1,-24 1,-2 1,-3 1,-10 1,-11 1,-20 1,-12 1,12 1,-21 1,-6 1,-40 1,9 1,3 1,11 1,9 1,-8 1,-18 1,-9 1,-7 1,-2 1,-22 1,-8 1,-9 1,10 1,9 1,0 1,-30 1,-10 1,-7 1,21 1,-9 1,-1 1,-7 1,-11 1,-4 1,4 1,12 1,-16 1,1 1,6 1,-6 1,-6 1,-16 1,9 1,-28 1,-22 1,-1 1,34 1,11 1,5 1,-18 1,-12 1,13 1,-9 1,12 1,-3 1,5 1,-21 1,-16 1,-13 1,-11 1,12 1,-8 1,24 1,-11 1,-1 1,-10 1,3 1,10 1,6 1,-15 1,-9 1,-9 1,12 1,-9 1,11 1,-34 1,18 1,-5 1,20 1,-2 1,13 1,-2 1,7 1,-12 1,-19 1,-14 1,12 1,16 1,-4 1,-6 1,-3 1,12 1,4 1,8 1,-12 1,-17 1,-11 1,-9 1,13 1,-24 1,31 1,-30 1,38 1,-12 1,10 1,-21 1,11 1,1 1,19 1,-17 1,-8 1,-14 1,15 1,0 1,0 1,-1 1,2 1,4 1,-5 1,-20 1,6 1,1 1,15 1,-1 1,-7 1,-4 1,-3" stroke="#75bb7e" stroke-width="1.5" transform="translate(107.40,1120.5) scale(3.600,-0.28133)" vector-effect="non-scaling-stroke"/>
<path d="M0,65l1,-15 1,-11 1,2 1,12 1,-10 1,-45 1,-9 1,11 1,-15 1,-13 1,20 1,21 1,10 1,-5 1,6 1,-2 1,9 1,7 1,-6 1,-20 1,-26 1,-14 1,-1 1,27 1,3 1,15 1,-21 1,3 1,-12 1,-18 1,1 1,15 1,23 1,1 1,1 1,-8 1,0 1,-8 1,-10 1,-12 1,-17 1,-5 1,7 1,6 1,45 1,17 1,11 1,-30 1,6 1,223 1,-59 1,-112 1,12 1,59 1,87 1,90 1,39 1,64 1,43 1,43 1,32 1,34 1,47 1,27 1,43 1,22 1,16 1,0 1,12 1,28 1,-16 1,14 1,20 1,40 1,11 1,-10 1,-3 1,19 1,48 1,-10 1,-9 1,-2 1,19 1,-12 1,-21 1,-33 1,-11 1,19 1,6 1,-3 1,-19 1,-20 1,-22 1,-36 1,6 1,-14 1,-12 1,-21 1,-22 1,-10 1,-24 1,-17 1,-12 1,-20 1,-22 1,-15 1,-15 1,-7 1,3 1,-1 1,-14 1,-40 1,-27 1,-5 1,8 1,-4 1,-10 1,-19 1,-2 1,-28 1,-11 1,-19 1,14 1,0 1,-18 1,-21 1,-31 1,-2 1,2 1,12 1,-16 1,-19 1,-2 1,5 1,16 1,-22 1,-13 1,-9 1,0 1,3 1,-23 1,-13 1,-8 1,11 1,-32 1,1 1,-27 1,13 1,3 1,4 1,-17 1,-15 1,26 1,22 1,-7 1,-7 1,-10 1,1 1,-11 1,-14 1,4 1,6 1,29 1,1 1,-39 1,-39 1,-10 1,15 1,-6 1,1 1,-7 1,21 1,2 1,3 1,17 1,-1 1,-22 1,-18 1,-13 1,3 1,-2 1,-6 1,-7 1,16 1,15 1,10 1,-18 1,-6 1,-10 1,-6 1,-5 1,17 1,0 1,-17 1,-10 1,6 1,5 1,1 1,-10 1,0 1,-2 1,-7 1,17 1,25 1,15 1,3 1,-24 1,-30 1,-13 1,21 1,-13 1,-7 1,-37 1,23 1,16 1,13 1,-15 1,-6 1,19 1,24 1,-3 1,-21 1,4 1,10 1,-5 1,-6 1,-3 1,3 1,-11 1,6 1,3 1,11 1,-2 1,-7 1,1 1,-10 1,-7 1,-18 1,1 1,-17 1,-2 1,5 1,12 1,12 1,-2 1,5 1,-2 1,-6 1,-6 1,5" stroke="#ee9494" stroke-width="1.6" transform="translate(107.40,1120.5) scale(3.600,-0.28133)" vector-effect="non-scaling-stroke"/>
<path d="M0,74l1,-9 1,-27 1,6 1,20 1,3 1,-42 1,-35 1,22 1,-31 1,1 1,15 1,28 1,20 1,-16 1,-4 1,-3 1,16 1,-1 1,-8 1,-10 1,-10 1,-22 1,-2 1,25 1,7 1,0 1,-33 1,-16 1,-20 1,4 1,4 1,19 1,-2 1,9 1,-4 1,-13 1,-2 1,0 1,6 1,-1 1,-11 1,23 1,-3 1,17 1,3 1,8 1,-8 1,-19 1,-8 1,241 1,42 1,36 1,105 1,138 1,133 1,106 1,47 1,58 1,45 1,56 1,19 1,30 1,21 1,17 1,10 1,-2 1,-17 1,-36 1,-36 1,5 1,-25 1,-7 1,3 1,-4 1,-25 1,-50 1,-35 1,-8 1,21 1,-8 1,-14 1,-30 1,-26 1,-45 1,-29 1,-55 1,-22 1,3 1,6 1,-18 1,-30 1,-30 1,-27 1,-34 1,-8 1,-31 1,-10 1,-14 1,10 1,-13 1,-22 1,-30 1,-24 1,-10 1,-18 1,-5 1,-1 1,0 1,-13 1,-26 1,-20 1,-2 1,-12 1,15 1,-16 1,21 1,-13 1,-11 1,-21 1,-16 1,0 1,-10 1,-13 1,-7 1,-12 1,-13 1,-9 1,-4 1,11 1,2 1,-9 1,-1 1,-25 1,-2 1,-14 1,14 1,10 1,10 1,-11 1,0 1,-14 1,-5 1,-33 1,17 1,9 1,10 1,-21 1,-29 1,-6 1,6 1,8 1,-1 1,-6 1,-8 1,12 1,9 1,3 1,-7 1,-9 1,-18 1,2 1,1 1,26 1,-15 1,-3 1,-18 1,13 1,0 1,-6 1,-6 1,-5 1,10 1,6 1,-9 1,14 1,7 1,-7 1,3 1,0 1,11 1,-6 1,-3 1,-8 1,8 1,-2 1,-20 1,-15 1,-4 1,13 1,17 1,-8 1,4 1,-22 1,-3 1,7 1,-2 1,3 1,-6 1,0 1,7 1,-2 1,3 1,1 1,9 1,-6 1,-10 1,-10 1,-11 1,11 1,3 1,14 1,-8 1,-10 1,-15 1,8 1,1 1,7 1,-11 1,14 1,7 1,1 1,-7 1,-4 1,20 1,-21 1,2 1,-15 1,6 1,11 1,5 1,18 1,-26 1,7 1,-5 1,11 1,7 1,-13 1,10 1,2 1,3 1,-13 1,-14 1,-11 1,0 1,-9 1,6 1,22 1,12 1,-5 1,-10" stroke="#75bb7e" stroke-width="1.5" transform="translate(107.40,1120.5) scale(3.600,-0.28133)" vector-effect="non-scaling-stroke"/>
<path d="M0,62l1,-23 1,-5 1,0 1,42 1,-15 1,-43 1,-28 1,37 1,-21 1,-13 1,-2 1,15 1,-7 1,-2 1,9 1,15 1,-7 1,-5 1,-3 1,12 1,-4 1,-8 1,-16 1,-8 1,13 1,19 1,2 1,-30 1,-32 1,2 1,-19 1,17 1,5 1,41 1,4 1,-11 1,-23 1,2 1,-22 1,16 1,-15 1,29 1,-22 1,30 1,8 1,36 1,-27 1,1 1,-16 1,250 1,9 1,-20 1,83 1,115 1,148 1,106 1,42 1,49 1,63 1,43 1,58 1,23 1,44 1,-2 1,13 1,5 1,4 1,-26 1,-8 1,-7 1,-27 1,-22 1,11 1,12 1,-1 1,-40 1,-30 1,-10 1,14 1,-13 1,-48 1,-13 1,-16 1,-25 1,-32 1,-37 1,10 1,3 1,-13 1,-37 1,-49 1,-15 1,-16 1,-8 1,-21 1,-26 1,-16 1,-14 1,-4 1,-5 1,-17 1,-20 1,-31 1,-15 1,-9 1,13 1,0 1,-4 1,-31 1,-13 1,-44 1,-5 1,-33 1,17 1,-10 1,16 1,-13 1,-17 1,-26 1,-11 1,8 1,0 1,-13 1,-16 1,-14 1,-5 1,-9 1,-8 1,0 1,-15 1,12 1,-5 1,18 1,-13 1,-9 1,-22 1,1 1,-4 1,-9 1,12 1,12 1,-7 1,-21 1,-19 1,12 1,-14 1,12 1,-11 1,9 1,-15 1,-10 1,-9 1,-2 1,2 1,22 1,4 1,3 1,-25 1,-7 1,0 1,5 1,17 1,-7 1,-3 1,-26 1,-10 1,8 1,-16 1,6 1,4 1,22 1,11 1,-11 1,-4 1,9 1,-5 1,-1 1,-11 1,-22 1,-18 1,-3 1,6 1,-3 1,2 1,-2 1,10 1,-5 1,34 1,-4 1,5 1,-30 1,14 1,-19 1,5 1,-6 1,17 1,-16 1,-6 1,-7 1,21 1,15 1,-13 1,-2 1,11 1,-2 1,11 1,-22 1,-22 1,-20 1,15 1,21 1,2 1,-19 1,-4 1,6 1,6 1,-5 1,-11 1,15 1,8 1,6 1,-16 1,11 1,-5 1,-26 1,-1 1,2 1,10 1,-9 1,19 1,9 1,8 1,-17 1,-23 1,-12 1,20 1,12 1,9 1,-12 1,-10 1,7 1,5 1,12 1,-19 1,-9 1,2 1,20 1,-4 1,-6 1,-8" stroke="#75bb7e" stroke-width="1.5" transform="translate(107.40,1120.5) scale(3.600,-0.28133)" vector-effect="non-scaling-stroke"/>
<path d="M0,50l1,-9 1,-13 1,8 1,15 1,-2 1,-32 1,-16 1,9 1,-11 1,-7 1,34 1,3 1,-4 1,-15 1,-12 1,7 1,5 1,15 1,-19 1,0 1,-14 1,-10 1,4 1,5 1,9 1,-11 1,0 1,-12 1,6 1,0 1,9 1,5 1,-6 1,10 1,-10 1,-15 1,-1 1,-8 1,5 1,-14 1,15 1,10 1,-1 1,-12 1,4 1,-1 1,6 1,21 1,25 1,231 1,-63 1,-100 1,28 1,42 1,88 1,66 1,43 1,70 1,56 1,60 1,41 1,34 1,29 1,26 1,48 1,46 1,20 1,-7 1,5 1,4 1,-12 1,4 1,33 1,22 1,-2 1,-8 1,24 1,5 1,33 1,-35 1,3 1,-9 1,20 1,-10 1,-4 1,-15 1,20 1,33 1,7 1,-17 1,-32 1,-5 1,-20 1,-8 1,-4 1,-2 1,-4 1,-10 1,-1 1,-5 1,-31 1,-12 1,-8 1,3 1,-18 1,-27 1,-3 1,-12 1,-24 1,-29 1,-32 1,6 1,-33 1,-6 1,-25 1,10 1,-1 1,-9 1,-10 1,-16 1,1 1,-36 1,-20 1,-30 1,-1 1,-4 1,0 1,-3 1,-3 1,-15 1,-14 1,-16 1,5 1,-12 1,-21 1,-29 1,-7 1,5 1,-4 1,21 1,-6 1,-9 1,-48 1,-1 1,-12 1,6 1,-24 1,3 1,-12 1,8 1,-11 1,3 1,11 1,-7 1,-12 1,-4 1,14 1,-8 1,-19 1,-21 1,10 1,9 1,-1 1,1 1,-13 1,-21 1,-10 1,-31 1,2 1,-4 1,10 1,19 1,5 1,-1 1,-4 1,-21 1,-19 1,-1 1,10 1,9 1,-1 1,-3 1,-18 1,11 1,16 1,5 1,-10 1,-18 1,5 1,-6 1,7 1,-2 1,-5 1,-22 1,13 1,-7 1,-3 1,-9 1,1 1,15 1,-16 1,-7 1,-5 1,27 1,-5 1,-1 1,3 1,-12 1,-7 1,-7 1,-5 1,4 1,-2 1,-3 1,-7 1,-1 1,19 1,-1 1,-6 1,0 1,-1 1,-2 1,2 1,-1 1,-23 1,-11 1,22 1,6 1,3 1,-17 1,13 1,-4 1,-5 1,-18 1,-9 1,4 1,9 1,15 1,13 1,-9 1,1 1,-15 1,4 1,-4 1,1 1,-6 1,-1 1,18 1,-5 1,4" stroke="#ee9494" stroke-width="1.6" transform="translate(107.40,1120.5) scale(3.600,-0.28133)" vector-effect="non-scaling-stroke"/>
<path d="M0,33l1,-2 1,-3 1,20 1,-4 1,0 1,-42 1,5 1,13 1,-15 1,-28 1,35 1,22 1,20 1,-35 1,-16 1,-2 1,7 1,23 1,-12 1,3 1,-24 1,-15 1,-3 1,18 1,12 1,17 1,-19 1,-19 1,-6 1,-13 1,-4 1,7 1,30 1,6 1,-16 1,-22 1,2 1,-10 1,1 1,-8 1,0 1,-12 1,15 1,-5 1,31 1,8 1,4 1,-8 1,-1 1,248 1,58 1,36 1,111 1,120 1,146 1,101 1,48 1,45 1,35 1,29 1,21 1,34 1,34 1,-21 1,-11 1,-5 1,12 1,-28 1,-28 1,-15 1,-36 1,-13 1,10 1,28 1,-4 1,-30 1,-38 1,-8 1,10 1,-23 1,-36 1,-30 1,-15 1,-38 1,-18 1,-30 1,-16 1,-9 1,-1 1,-17 1,-21 1,-34 1,-27 1,-23 1,-16 1,-9 1,-20 1,-5 1,-13 1,-19 1,-19 1,-29 1,-13 1,-13 1,-3 1,-22 1,-15 1,-3 1,-1 1,-31 1,-19 1,4 1,-4 1,-33 1,-26 1,3 1,22 1,-1 1,-10 1,-10 1,-12 1,-11 1,-10 1,-4 1,2 1,-2 1,-15 1,-7 1,-10 1,-1 1,-12 1,-15 1,-8 1,3 1,16 1,-16 1,-11 1,-15 1,3 1,4 1,-4 1,-1 1,-8 1,7 1,-11 1,-4 1,-14 1,7 1,5 1,11 1,-18 1,6 1,8 1,-9 1,-11 1,-8 1,-6 1,-4 1,1 1,23 1,-3 1,-8 1,-6 1,4 1,4 1,-7 1,-10 1,-8 1,-12 1,12 1,-10 1,7 1,5 1,-11 1,30 1,-2 1,-8 1,-14 1,-12 1,-8 1,9 1,-6 1,22 1,-14 1,7 1,-8 1,-9 1,3 1,-9 1,18 1,-13 1,23 1,5 1,-1 1,-11 1,-1 1,-9 1,9 1,-11 1,12 1,8 1,-2 1,20 1,-5 1,2 1,-16 1,2 1,-10 1,20 1,-8 1,-8 1,-23 1,-9 1,7 1,7 1,8 1,-5 1,-17 1,7 1,15 1,8 1,18 1,-23 1,0 1,-33 1,4 1,9 1,0 1,8 1,1 1,8 1,6 1,6 1,-11 1,-12 1,-9 1,-14 1,4 1,5 1,15 1,3 1,10 1,-7 1,-10 1,-4 1,5 1,5 1,-11 1,15 1,4" stroke="#75bb7e" stroke-width="1.5" transform="translate(107.40,1120.5) scale(3.600,-0.28133)" vector-effect="non-scaling-stroke"/>
<path d="M0,68l1,-13 1,2 1,-3 1,12 1,-19 1,-27 1,-8 1,25 1,-45 1,-22 1,-5 1,36 1,15 1,15 1,-18 1,15 1,10 1,9 1,-11 1,-12 1,-14 1,-20 1,-6 1,15 1,2 1,11 1,-11 1,-2 1,-17 1,-10 1,-24 1,17 1,16 1,29 1,-12 1,-19 1,-17 1,-5 1,-12 1,-3 1,-4 1,23 1,17 1,-2 1,5 1,-6 1,12 1,-1 1,11 1,242 1,-27 1,-77 1,24 1,50 1,96 1,72 1,42 1,74 1,61 1,49 1,32 1,39 1,65 1,33 1,40 1,-2 1,3 1,-5 1,12 1,12 1,-34 1,1 1,40 1,21 1,23 1,-38 1,21 1,-15 1,39 1,-30 1,-2 1,3 1,13 1,-12 1,-20 1,-5 1,15 1,46 1,1 1,-6 1,-23 1,8 1,-17 1,-31 1,-23 1,-9 1,-8 1,-6 1,-4 1,0 1,-21 1,-39 1,-18 1,-14 1,-5 1,-13 1,-17 1,-18 1,-22 1,-29 1,-14 1,-8 1,3 1,-13 1,-19 1,-4 1,10 1,-19 1,-35 1,-24 1,-15 1,-12 1,-14 1,5 1,-8 1,-9 1,-28 1,4 1,-19 1,7 1,-23 1,7 1,-20 1,-10 1,-14 1,6 1,4 1,-7 1,-13 1,-5 1,0 1,-29 1,-18 1,-9 1,8 1,-6 1,-14 1,6 1,-6 1,-5 1,-9 1,12 1,-1 1,-19 1,-8 1,-12 1,11 1,-19 1,5 1,-12 1,4 1,14 1,-5 1,3 1,-10 1,-13 1,-10 1,-11 1,-3 1,8 1,-8 1,16 1,8 1,-13 1,8 1,-24 1,-17 1,13 1,4 1,20 1,-33 1,-9 1,-10 1,33 1,18 1,-15 1,-16 1,-10 1,14 1,6 1,-2 1,1 1,-40 1,-9 1,-17 1,26 1,-25 1,14 1,-1 1,16 1,-4 1,-14 1,-4 1,18 1,-2 1,24 1,-20 1,-21 1,-25 1,30 1,9 1,-9 1,-31 1,-11 1,6 1,5 1,12 1,1 1,14 1,-2 1,8 1,-21 1,6 1,-14 1,-16 1,-11 1,26 1,3 1,0 1,4 1,22 1,10 1,-14 1,-18 1,0 1,0 1,-18 1,18 1,2 1,16 1,-25 1,-6 1,-3 1,-4 1,3 1,11 1,11 1,3 1,-33 1,-3" stroke="#ee9494" stroke-width="1.6" transform="translate(107.40,1120.5) scale(3.600,-0.28133)" vector-effect="non-scaling-stroke"/>
<path d="M0,54l1,-12 1,-5 1,22 1,1 1,-21 1,-46 1,4 1,26 1,-4 1,-35 1,14 1,-10 1,25 1,-3 1,-9 1,14 1,0 1,11 1,-33 1,-10 1,-10 1,9 1,-6 1,12 1,5 1,14 1,-1 1,-19 1,-1 1,-15 1,17 1,6 1,12 1,-2 1,-11 1,-13 1,-7 1,6 1,-8 1,-7 1,-13 1,22 1,17 1,13 1,5 1,11 1,-18 1,7 1,-8 1,240 1,-69 1,-110 1,12 1,26 1,92 1,58 1,57 1,42 1,58 1,27 1,50 1,48 1,68 1,45 1,38 1,31 1,3 1,-10 1,-1 1,11 1,-2 1,15 1,46 1,32 1,15 1,-4 1,7 1,17 1,23 1,-3 1,-12 1,11 1,5 1,-19 1,-16 1,-14 1,-2 1,13 1,14 1,-10 1,-10 1,-20 1,-6 1,-28 1,-30 1,-11 1,-23 1,-10 1,-8 1,-10 1,3 1,-26 1,0 1,-19 1,-11 1,-18 1,-18 1,-14 1,-5 1,-12 1,-17 1,-14 1,-16 1,-5 1,-21 1,-16 1,-22 1,-20 1,-10 1,-2 1,-22 1,-18 1,-8 1,13 1,-12 1,-22 1,-1 1,-17 1,1 1,-13 1,-10 1,-1 1,-29 1,19 1,9 1,-11 1,-9 1,-21 1,-1 1,0 1,-11 1,-8 1,-22 1,-2 1,3 1,11 1,-4 1,-14 1,-12 1,-7 1,-4 1,4 1,0 1,-2 1,-9 1,-2 1,-7 1,-1 1,-5 1,-2 1,-15 1,-5 1,-2 1,13 1,-19 1,2 1,-9 1,3 1,-13 1,8 1,3 1,-3 1,-8 1,-16 1,20 1,-7 1,5 1,-3 1,0 1,1 1,-4 1,-10 1,-10 1,-3 1,-4 1,-5 1,-4 1,-2 1,12 1,12 1,16 1,-6 1,-15 1,-19 1,6 1,-9 1,1 1,1 1,-5 1,7 1,-7 1,17 1,12 1,10 1,-16 1,-11 1,-11 1,-10 1,-11 1,22 1,9 1,-1 1,-14 1,14 1,11 1,12 1,-17 1,-14 1,-6 1,-11 1,10 1,-11 1,10 1,-1 1,-15 1,15 1,6 1,0 1,-14 1,-9 1,5 1,-14 1,13 1,-10 1,3 1,2 1,-13 1,6 1,-21 1,5 1,7 1,14 1,8 1,-10 1,2 1,-13 1,8 1,-28 1,6 1,3" stroke="#ee9494" stroke-width="1.6" transform="translate(107.40,1120.5) scale(3.600,-0.28133)" vector-effect="non-scaling-stroke"/>
<path d="M0,58l1,-15 1,4 1,-5 1,16 1,-27 1,-22 1,-8 1,30 1,-30 1,-20 1,19 1,22 1,11 1,-27 1,-25 1,4 1,28 1,24 1,-25 1,-19 1,-7 1,11 1,6 1,2 1,0 1,-18 1,5 1,-8 1,17 1,-7 1,-10 1,2 1,-3 1,-2 1,-9 1,-6 1,1 1,2 1,-5 1,7 1,-16 1,-4 1,14 1,20 1,21 1,-7 1,-14 1,-4 1,1 1,232 1,-44 1,-94 1,23 1,44 1,96 1,59 1,46 1,62 1,75 1,54 1,36 1,18 1,46 1,42 1,59 1,21 1,12 1,-3 1,-4 1,9 1,-19 1,38 1,33 1,54 1,-2 1,-25 1,6 1,3 1,60 1,-5 1,1 1,-15 1,-2 1,-8 1,-11 1,-24 1,9 1,42 1,21 1,5 1,-3 1,9 1,4 1,-13 1,-27 1,-3 1,-2 1,17 1,-14 1,-18 1,-21 1,-9 1,-5 1,-3 1,-6 1,9 1,-8 1,-11 1,-11 1,-16 1,-13 1,-31 1,-4 1,-15 1,-5 1,-22 1,-21 1,-19 1,-17 1,1 1,-6 1,-24 1,-17 1,-18 1,3 1,-23 1,-28 1,-13 1,-2 1,-7 1,-35 1,-21 1,-15 1,3 1,-2 1,4 1,-5 1,0 1,-13 1,-10 1,-30 1,-14 1,-7 1,21 1,-4 1,-5 1,-12 1,-25 1,-9 1,-22 1,10 1,-4 1,-28 1,-11 1,-20 1,26 1,-20 1,1 1,-9 1,-1 1,-13 1,5 1,1 1,5 1,-19 1,-17 1,8 1,-11 1,5 1,-9 1,-15 1,-8 1,-1 1,2 1,24 1,-8 1,-18 1,-8 1,-1 1,10 1,-9 1,-26 1,0 1,-4 1,18 1,-27 1,1 1,-16 1,25 1,9 1,18 1,-14 1,-30 1,-30 1,9 1,10 1,2 1,4 1,-7 1,8 1,6 1,-12 1,3 1,-22 1,-8 1,-4 1,-2 1,-3 1,8 1,14 1,0 1,-24 1,-8 1,-1 1,15 1,5 1,10 1,-4 1,-3 1,-1 1,5 1,-3 1,3 1,-8 1,-20 1,-9 1,-7 1,2 1,-4 1,8 1,15 1,8 1,10 1,-17 1,4 1,-9 1,-8 1,11 1,9 1,10 1,-17 1,0 1,-18 1,-12 1,-6 1,17 1,9 1,-7 1,-13 1,1" stroke="#ee9494" stroke-width="1.6" transform="translate(107.40,1120.5) scale(3.600,-0.28133)" vector-effect="non-scaling-stroke"/>
<path d="M0,69l1,-2 1,-11 1,8 1,-4 1,-24 1,-43 1,3 1,31 1,-9 1,-20 1,17 1,14 1,1 1,-3 1,-22 1,7 1,-8 1,19 1,-23 1,11 1,-26 1,3 1,-12 1,9 1,13 1,1 1,12 1,-24 1,-9 1,-34 1,6 1,26 1,30 1,6 1,-24 1,4 1,0 1,-13 1,-26 1,-31 1,23 1,30 1,43 1,-4 1,-13 1,-20 1,-2 1,-5 1,10 1,236 1,-5 1,-22 1,80 1,102 1,112 1,77 1,43 1,64 1,79 1,66 1,60 1,37 1,36 1,-8 1,1 1,0 1,28 1,-13 1,-9 1,-11 1,-42 1,-7 1,-11 1,17 1,-24 1,-38 1,-17 1,-23 1,-6 1,-27 1,-17 1,0 1,-35 1,-26 1,-27 1,-37 1,-18 1,-17 1,-10 1,-33 1,-19 1,-21 1,-29 1,-23 1,-10 1,-5 1,-29 1,-13 1,-10 1,-1 1,-14 1,-11 1,-14 1,-22 1,-22 1,-9 1,11 1,-11 1,-16 1,-23 1,-15 1,-11 1,-5 1,9 1,2 1,-8 1,-9 1,-22 1,2 1,-5 1,6 1,-31 1,5 1,-24 1,3 1,-29 1,18 1,-13 1,9 1,-9 1,7 1,0 1,6 1,4 1,-13 1,-40 1,12 1,0 1,0 1,-12 1,15 1,9 1,-20 1,2 1,4 1,11 1,-11 1,-21 1,-2 1,-10 1,28 1,-6 1,-3 1,-34 1,-5 1,3 1,12 1,1 1,15 1,0 1,7 1,-3 1,5 1,-8 1,-33 1,-9 1,-6 1,19 1,-8 1,-5 1,-13 1,22 1,20 1,-5 1,-1 1,9 1,-3 1,0 1,-21 1,-20 1,7 1,7 1,6 1,0 1,0 1,1 1,-17 1,1 1,-1 1,1 1,-3 1,16 1,-4 1,-9 1,0 1,-4 1,-6 1,0 1,12 1,-6 1,-2 1,-12 1,17 1,8 1,-7 1,9 1,-12 1,-11 1,-8 1,7 1,10 1,-14 1,3 1,6 1,15 1,-7 1,-1 1,-21 1,3 1,13 1,11 1,18 1,-16 1,6 1,-37 1,10 1,0 1,13 1,-6 1,12 1,4 1,0 1,-5 1,-17 1,-20 1,9 1,17 1,23 1,13 1,-9 1,-13 1,-27 1,2 1,9 1,4 1,2 1,-4 1,4 1,-11 1,6" stroke="#75bb7e" stroke-width="1.5" transform="translate(107.40,1120.5) scale(3.600,-0.28133)" vector-effect="non-scaling-stroke"/>
<path d="M0,67l1,-30 1,-1 1,-1 1,19 1,-18 1,-18 1,12 1,14 1,-26 1,-44 1,-10 1,21 1,29 1,16 1,-30 1,14 1,5 1,26 1,-37 1,-24 1,-16 1,4 1,9 1,23 1,-3 1,24 1,-17 1,-14 1,-13 1,-22 1,7 1,7 1,27 1,5 1,-4 1,-15 1,8 1,-16 1,-5 1,-8 1,11 1,-13 1,-11 1,-16 1,22 1,8 1,5 1,-2 1,21 1,257 1,-49 1,-89 1,-6 1,58 1,87 1,84 1,58 1,43 1,57 1,38 1,75 1,58 1,39 1,8 1,24 1,41 1,39 1,3 1,1 1,0 1,-13 1,5 1,31 1,39 1,10 1,-12 1,-32 1,7 1,37 1,23 1,1 1,0 1,-10 1,-15 1,-10 1,-13 1,-5 1,18 1,28 1,9 1,-33 1,-32 1,-29 1,-13 1,-9 1,-18 1,-7 1,-10 1,10 1,-18 1,-23 1,-51 1,-18 1,-9 1,-2 1,-14 1,-21 1,-10 1,-18 1,-22 1,-12 1,6 1,3 1,-12 1,-14 1,-33 1,-3 1,-23 1,-3 1,-27 1,-13 1,-10 1,-11 1,-11 1,-7 1,8 1,0 1,-8 1,-23 1,-19 1,-20 1,11 1,-11 1,7 1,-17 1,-16 1,-7 1,2 1,4 1,-6 1,-5 1,-26 1,-18 1,-16 1,11 1,10 1,-9 1,-7 1,-2 1,11 1,-16 1,-21 1,-16 1,2 1,-18 1,12 1,-8 1,21 1,-5 1,-6 1,-22 1,-25 1,18 1,6 1,2 1,-33 1,-5 1,-3 1,14 1,9 1,-15 1,0 1,-1 1,11 1,2 1,-16 1,-12 1,-2 1,17 1,2 1,-2 1,-23 1,-6 1,-5 1,17 1,1 1,5 1,-12 1,-11 1,-7 1,5 1,13 1,-6 1,-7 1,-11 1,14 1,-23 1,13 1,-10 1,20 1,-9 1,-11 1,0 1,19 1,-6 1,1 1,-29 1,4 1,-1 1,20 1,-8 1,-7 1,-12 1,4 1,-10 1,-4 1,11 1,5 1,-3 1,-8 1,4 1,23 1,-9 1,1 1,-35 1,-7 1,-9 1,5 1,7 1,11 1,2 1,10 1,18 1,0 1,3 1,3 1,-22 1,-22 1,-25 1,5 1,21 1,-3 1,4 1,-4 1,0 1,9 1,5 1,-1 1,5 1,-9" stroke="#ee9494" stroke-width="1.6" transform="translate(107.40,1120.5) scale(3.600,-0.28133)" vector-effect="non-scaling-stroke"/>
<path d="M107.0,1118.0 L109.2,1135.5 L110.7,1146.0 L111.4,1144.7 L113.6,1146.9 L115.8,1146.4 L118.0,1146.0 L118.0,1146.6 L120.2,1134.0 L122.0,1123.6 L122.4,1122.5 L124.6,1117.0 L126.8,1109.7 L129.0,1104.2 L129.5,1103.0 L131.2,1104.9 L133.4,1106.0 L135.6,1107.3 L137.0,1108.6 L137.8,1109.4 L140.0,1112.6 L142.2,1115.2 L142.6,1116.0 L144.4,1112.5 L146.3,1106.7 L146.6,1106.9 L148.8,1123.8 L151.0,1138.7 L152.0,1146.0 L153.2,1145.7 L155.4,1146.6 L156.6,1144.0 L157.6,1134.5 L159.8,1116.8 L161.3,1101.0 L162.0,1104.0 L164.2,1110.2 L166.4,1116.4 L167.0,1120.0 L168.6,1120.5 L170.8,1119.6 L173.0,1120.7 L174.4,1121.7 L175.2,1121.7 L177.4,1125.3 L179.6,1128.2 L181.8,1130.8 L182.0,1131.0 L184.0,1125.5 L185.6,1120.0 L186.2,1118.2 L188.4,1109.1 L190.6,1102.8 L192.0,1097.0 L192.8,1100.7 L195.0,1106.6 L196.8,1114.0 L197.2,1116.9 L199.4,1131.9 L200.6,1142.0 L201.6,1140.5 L203.8,1137.3 L204.0,1136.7 L206.0,1134.1 L208.2,1133.8 L210.4,1131.6 L211.8,1131.0 L212.6,1131.5 L214.8,1128.5 L217.0,1129.8 L219.0,1129.0 L219.2,1127.8 L221.4,1117.8 L223.6,1109.8 L225.0,1103.0 L225.8,1104.2 L228.0,1103.7 L230.2,1103.4 L230.5,1105.0 L232.4,1103.0 L234.6,1102.5 L236.8,1100.2 L238.0,1099.0 L239.0,1102.8 L241.2,1115.9 L241.8,1118.0 L243.4,1117.4 L245.6,1118.0 L247.8,1118.4 L249.0,1118.0 L250.0,1118.5 L252.2,1117.2 L254.4,1116.1 L255.0,1116.0 L256.6,1115.9 L258.8,1111.0 L260.5,1112.0 L261.0,1111.4 L263.2,1107.1 L265.4,1106.1 L266.0,1105.0 L267.6,1103.6 L269.8,1099.5 L271.7,1097.0 L272.0,1099.0 L274.2,1103.8 L275.5,1106.7 L276.4,1103.4 L278.6,1102.1 L280.8,1095.8 L281.0,1095.5 L283.0,1098.5 L284.8,1101.0 L285.2,1096.1 L285.5,1091.0 L287.4,1081.5 L289.6,1069.8 L291.0,1063.5 L291.8,1065.3 L294.0,1074.8 L296.2,1083.5 L296.4,1082.7 L298.4,1081.2 L300.6,1085.4 L301.9,1085.4 L302.8,1076.6 L305.0,1057.2 L306.0,1049.8 L307.2,1041.5 L309.4,1028.2 L310.0,1025.0 L311.6,1027.7 L313.8,1029.8 L314.2,1030.7 L316.0,1037.7 L318.2,1045.8 L318.3,1047.0 L320.4,1026.5 L322.4,1008.8 L322.6,1006.9 L324.8,998.0 L327.0,991.7 L327.8,987.0 L329.2,984.8 L331.4,982.1 L333.3,978.7 L333.6,978.8 L335.8,981.5 L338.0,983.5 L338.8,984.0 L340.2,976.5 L342.4,962.0 L342.9,959.6 L344.6,942.8 L346.8,922.8 L347.0,921.3 L349.0,921.5 L351.0,924.0 L351.2,922.6 L353.4,932.6 L355.2,939.0 L355.6,938.1 L357.8,934.1 L359.3,932.2 L360.0,930.6 L362.2,923.2 L363.4,918.6 L364.4,913.5 L366.6,900.9 L367.5,896.7 L368.8,896.0 L371.0,895.1 L373.0,894.0 L373.2,893.9 L375.4,888.6 L377.6,887.8 L378.4,885.7 L379.8,883.8 L382.0,884.6 L383.9,883.0 L384.2,882.7 L386.4,876.8 L388.6,870.1 L389.3,869.3 L390.8,861.2 L393.0,846.0 L393.4,844.7 L395.2,843.1 L396.2,842.0 L397.4,853.4 L397.7,856.0 L399.6,862.3 L401.8,867.9 L403.0,870.2 L404.0,869.8 L406.2,867.3 L407.4,868.4 L408.4,862.5 L410.0,852.5 L410.6,852.2 L412.7,856.0 L412.8,858.3 L415.0,860.5 L417.1,866.6 L417.2,865.6 L419.4,859.2 L421.5,852.5 L421.6,853.9 L423.8,841.6 L426.0,833.0 L426.0,833.5 L428.2,838.6 L430.4,845.4 L430.4,844.8 L432.6,848.5 L434.0,850.7 L434.8,849.0 L437.0,845.7 L438.4,843.6 L439.2,844.7 L441.4,847.3 L443.6,851.3 L443.7,850.7 L445.8,850.6 L448.0,850.7 L448.0,850.2 L450.2,846.2 L451.6,845.4 L452.4,843.9 L454.6,843.2 L456.8,843.2 L457.0,842.7 L459.0,845.9 L461.2,848.3 L461.4,850.7 L463.4,854.9 L465.0,857.8 L465.6,861.0 L467.6,868.4 L467.8,866.5 L470.0,859.7 L471.0,856.0 L472.2,856.0 L474.4,853.8 L476.4,855.0 L476.6,854.3 L478.8,852.3 L481.0,853.4 L481.7,852.5 L483.2,856.5 L485.3,861.3 L485.4,861.2 L487.6,860.0 L489.8,857.6 L490.6,857.8 L492.0,861.8 L494.2,868.5 L495.0,872.0 L496.4,872.8 L498.6,872.8 L500.8,872.7 L501.2,873.7 L503.0,880.7 L505.2,892.0 L505.6,895.0 L507.4,894.3 L509.6,896.6 L510.0,896.7 L511.8,895.8 L514.0,891.9 L515.4,891.4 L516.2,894.1 L518.4,897.9 L520.6,910.1 L520.7,907.3 L522.8,907.2 L525.0,909.5 L526.0,909.0 L527.2,905.4 L529.4,904.6 L529.5,903.8 L531.6,922.7 L532.0,926.8 L533.8,933.5 L535.0,937.2 L536.0,935.7 L538.2,931.1 L539.3,928.7 L540.4,923.3 L542.6,916.5 L543.5,913.5 L544.8,919.8 L547.0,927.9 L547.0,928.7 L549.2,931.4 L551.4,934.9 L552.0,935.5 L553.6,935.6 L555.8,936.0 L557.0,933.8 L558.0,931.0 L560.2,926.5 L560.4,926.2 L562.4,938.9 L563.8,949.0 L564.6,951.9 L566.3,959.0 L566.8,957.3 L569.0,950.2 L570.5,944.8 L571.2,944.7 L573.4,946.9 L574.0,945.6 L575.6,954.3 L577.8,967.7 L578.0,969.3 L580.0,969.2 L580.7,971.0 L582.2,970.8 L584.0,974.3 L584.4,976.0 L586.6,985.3 L587.4,989.5 L588.8,992.6 L590.8,998.0 L591.0,997.4 L593.2,1002.8 L595.0,1008.0 L595.4,1006.9 L597.6,1004.9 L599.3,1001.4 L599.8,1001.2 L602.0,1000.5 L604.2,997.5 L604.3,998.8 L606.4,1003.3 L608.6,1008.6 L609.4,1009.8 L610.8,1009.9 L613.0,1016.1 L614.5,1018.3 L615.2,1017.6 L617.4,1011.8 L619.6,1008.7 L621.2,1006.4 L621.8,1008.0 L624.0,1011.1 L626.2,1013.9 L626.3,1014.9 L628.4,1020.6 L630.6,1024.8 L631.4,1026.7 L632.8,1029.9 L635.0,1033.2 L636.4,1035.2 L637.2,1035.9 L639.4,1040.0 L641.5,1041.9 L641.6,1042.4 L643.8,1039.1 L646.0,1038.1 L646.6,1036.8 L648.2,1037.7 L650.4,1040.6 L651.6,1041.9 L652.6,1041.4 L654.8,1037.3 L656.7,1033.5 L657.0,1034.5 L659.2,1039.1 L661.0,1041.9 L661.4,1041.9 L663.6,1052.3 L665.0,1058.8 L665.8,1058.2 L668.0,1060.5 L668.5,1062.2 L670.2,1050.6 L671.0,1043.6 L672.4,1044.7 L674.6,1045.1 L675.3,1045.3 L676.8,1049.5 L679.0,1056.7 L679.5,1057.1 L681.2,1056.3 L683.4,1055.7 L684.6,1055.4 L685.6,1055.1 L687.8,1051.7 L690.0,1050.4 L690.0,1051.2 L692.2,1050.0 L694.4,1049.6 L696.5,1049.6 L696.6,1048.0 L698.8,1052.5 L700.7,1054.5 L701.0,1054.2 L703.2,1060.3 L704.8,1062.8 L705.4,1061.8 L707.6,1060.4 L709.7,1059.5 L709.8,1057.9 L712.0,1059.3 L714.2,1058.9 L714.7,1057.8 L716.4,1057.3 L718.6,1052.9 L719.6,1052.9 L720.8,1053.7 L723.0,1051.7 L724.6,1052.9 L725.2,1052.9 L727.4,1059.6 L729.5,1062.8 L729.6,1062.2 L731.8,1066.7 L734.0,1068.9 L734.5,1069.4 L736.2,1072.5 L738.4,1076.2 L740.6,1080.9 L741.0,1081.0 L742.8,1080.0 L745.0,1080.6 L746.0,1079.3 L747.2,1077.6 L749.4,1074.1 L751.0,1071.0 L751.6,1070.7 L753.8,1073.5 L756.0,1072.5 L757.5,1072.7 L758.2,1072.8 L760.4,1076.6 L762.6,1078.6 L763.3,1079.3 L764.8,1076.0 L767.0,1073.4 L769.0,1071.0 L769.2,1072.4 L771.4,1076.4 L773.6,1079.6 L774.9,1080.9 L775.8,1081.0 L778.0,1082.7 L780.2,1084.9 L780.6,1084.2 L782.4,1081.5 L784.6,1076.0 L785.6,1074.3 L786.8,1075.4 L789.0,1078.1 L790.5,1080.9 L791.2,1081.3 L793.4,1083.7 L795.5,1082.6 L795.6,1083.8 L797.8,1081.4 L800.0,1076.9 L802.0,1074.3 L802.2,1075.2 L804.4,1076.3 L806.6,1079.2 L807.0,1079.3 L808.8,1083.5 L811.0,1089.2 L811.0,1089.3 L813.2,1085.1 L815.0,1080.9 L815.4,1080.4 L817.6,1076.5 L819.4,1076.0 L819.8,1077.7 L822.0,1083.5 L823.5,1087.5 L824.2,1090.9 L826.4,1098.4 L826.8,1100.7 L828.6,1100.0 L830.8,1099.0 L831.7,1097.4 L833.0,1100.0 L835.2,1097.3 L836.7,1097.4 L837.4,1098.9 L839.6,1098.2 L841.6,1099.0 L841.8,1097.8 L844.0,1098.5 L846.2,1098.8 L847.4,1097.4 L848.4,1096.7 L850.0,1095.2 L850.6,1096.0 L852.8,1094.0 L854.6,1096.8 L855.0,1096.6 L857.2,1093.7 L859.3,1093.7 L859.4,1092.3 L861.6,1092.0 L863.8,1091.3 L865.5,1092.1 L866.0,1091.0 L868.2,1091.4 L870.4,1090.2 L871.7,1089.0 L872.6,1085.9 L874.8,1082.8 L874.8,1084.5 L877.0,1074.5 L878.7,1070.4 L879.2,1070.5 L881.4,1072.5 L881.8,1071.9 L883.6,1080.5 L885.0,1085.9 L885.8,1091.9 L887.2,1099.9 L888.0,1098.0 L890.2,1100.4 L891.9,1098.3 L892.4,1097.9 L894.6,1100.1 L896.6,1101.4 L896.8,1100.0 L899.0,1100.2 L901.2,1103.0 L901.2,1102.4 L903.4,1103.1 L905.6,1105.0 L906.0,1104.5 L907.8,1103.9 L910.0,1106.4 L910.5,1106.0 L912.2,1106.7 L914.4,1105.7 L915.2,1104.5 L916.6,1103.6 L918.8,1098.7 L919.8,1098.3 L921.0,1097.4 L923.2,1097.2 L924.5,1095.2 L925.4,1091.4 L927.6,1085.9 L927.6,1087.1 L929.8,1082.1 L931.5,1081.2 L932.0,1080.0 L934.2,1077.5 L935.3,1078.1 L936.4,1083.2 L938.5,1089.0 L938.6,1089.4 L940.8,1093.5 L941.6,1095.2 L943.0,1097.3 L944.7,1101.4 L945.2,1099.7 L947.0,1089.0 L947.4,1088.0 L949.6,1085.9 L950.9,1084.3 L951.8,1085.5 L954.0,1082.4 L955.5,1081.2 L956.2,1079.9 L958.4,1076.2 L959.4,1071.9 L960.6,1074.2 L962.8,1076.0 L963.3,1076.6 L965.0,1079.3 L967.2,1085.6 L968.0,1089.0 L969.4,1092.2 L971.6,1097.1 L971.8,1096.8 L973.8,1093.0 L975.7,1087.5 L976.0,1086.7 L978.2,1087.5 L980.4,1085.9 L980.4,1083.2 L982.6,1080.4 L984.8,1077.1 L985.0,1076.6 L987.0,1071.0 L988.0,1068.8 L989.2,1068.5 L991.2,1071.9 L991.4,1071.9 L993.6,1077.2 L995.0,1081.2 L995.8,1078.1 L998.0,1066.6 L998.2,1067.3 L1000.2,1070.0 L1001.3,1070.4 L1002.4,1076.0 L1004.6,1086.4 L1005.2,1089.0 L1006.8,1092.5 L1008.0,1095.2" stroke="#bababa" stroke-width="3.6"/>
<path d="M107.0,1101.0 L109.2,1102.9 L111.4,1105.2 L113.6,1106.0 L115.8,1111.2 L116.4,1110.5 L118.0,1108.4 L120.2,1106.7 L122.4,1103.8 L123.8,1102.0 L124.6,1104.7 L126.8,1109.3 L129.0,1114.8 L131.0,1120.0 L131.2,1120.1 L133.4,1116.7 L135.6,1114.2 L137.0,1112.0 L137.8,1114.1 L140.0,1119.1 L142.2,1126.0 L142.6,1126.4 L144.4,1124.3 L146.6,1121.5 L148.8,1117.7 L151.0,1116.1 L153.2,1114.2 L153.8,1112.0 L155.4,1111.8 L157.6,1113.4 L159.8,1116.5 L162.0,1117.4 L163.0,1118.0 L164.2,1117.3 L166.4,1114.8 L168.6,1112.7 L170.8,1110.3 L171.6,1109.6 L173.0,1110.2 L175.2,1112.9 L177.4,1115.6 L179.6,1118.9 L181.8,1119.4 L181.9,1120.0 L184.0,1121.7 L186.2,1124.9 L187.5,1125.5 L188.4,1126.0 L190.6,1122.9 L192.8,1124.1 L195.0,1123.1 L197.2,1120.4 L199.4,1120.6 L200.6,1120.0 L201.6,1120.6 L203.8,1122.4 L206.0,1124.6 L208.2,1124.3 L210.4,1125.1 L212.6,1126.0 L214.8,1128.2 L217.0,1128.8 L219.0,1130.0 L219.2,1129.7 L221.4,1128.0 L223.6,1124.5 L225.8,1121.8 L228.0,1118.9 L230.2,1119.2 L230.5,1118.0 L232.4,1121.3 L234.6,1122.9 L236.8,1125.0 L238.0,1127.0 L239.0,1127.4 L241.2,1127.4 L243.4,1128.6 L245.6,1131.4 L247.8,1131.3 L250.0,1132.3 L252.2,1132.7 L254.4,1133.3 L254.9,1134.0 L256.6,1132.3 L258.8,1129.6 L261.0,1127.9 L262.0,1127.0 L263.2,1126.3 L265.4,1125.3 L267.6,1122.4 L269.8,1122.4 L271.7,1120.0 L272.0,1120.3 L274.2,1121.0 L276.4,1122.7 L278.6,1124.3 L279.0,1124.5 L280.8,1123.7 L283.0,1123.3 L284.0,1123.6 L285.2,1085.2 L285.5,1077.0 L287.4,1054.6 L289.6,1028.0 L289.6,1028.5 L291.8,1040.8 L292.3,1041.6 L294.0,1049.2 L296.2,1061.2 L296.4,1060.8 L298.4,1061.5 L300.5,1060.8 L300.6,1060.3 L302.8,1042.5 L304.6,1030.7 L305.0,1028.2 L307.2,1014.4 L308.7,1006.0 L309.4,1007.5 L311.6,1010.0 L312.8,1011.6 L313.8,1008.1 L316.0,1000.3 L318.2,993.3 L318.3,992.4 L320.4,982.4 L322.6,972.4 L323.7,967.8 L324.8,962.5 L327.0,954.3 L329.2,946.0 L329.2,946.5 L331.4,936.0 L333.6,923.5 L334.7,918.6 L335.8,917.7 L338.0,918.3 L340.0,915.8 L340.2,915.8 L342.4,910.5 L344.2,907.6 L344.6,907.1 L346.8,903.5 L349.0,900.7 L349.7,899.4 L351.2,902.9 L353.4,906.2 L353.8,907.6 L355.6,906.5 L357.8,906.5 L359.3,905.0 L360.0,907.7 L362.2,914.4 L364.4,922.3 L364.8,924.0 L366.6,915.6 L368.8,906.0 L370.2,899.4 L371.0,895.6 L373.2,883.3 L374.3,877.5 L375.4,876.2 L377.6,875.2 L378.4,874.8 L379.8,880.5 L381.0,884.4 L382.0,883.9 L384.2,884.0 L385.2,883.0 L386.4,879.9 L388.6,873.2 L389.3,872.0 L390.8,858.6 L392.0,847.4 L393.0,848.5 L395.2,848.8 L396.2,848.8 L397.4,849.3 L399.6,849.2 L401.2,850.7 L401.8,850.2 L404.0,844.8 L405.6,842.7 L406.2,843.4 L408.4,845.7 L410.6,849.4 L412.7,850.7 L412.8,850.6 L415.0,853.4 L417.2,853.8 L418.0,856.0 L419.4,852.4 L421.5,845.4 L421.6,844.5 L423.8,836.7 L426.0,827.7 L426.0,827.8 L428.2,826.3 L429.5,826.8 L430.4,827.5 L432.6,834.2 L433.0,834.8 L434.8,837.5 L437.0,838.8 L437.5,840.0 L439.2,839.8 L441.0,839.2 L441.4,838.6 L443.6,843.8 L445.8,849.0 L446.3,849.0 L448.0,851.2 L450.2,853.7 L452.4,857.1 L453.4,857.8 L454.6,857.8 L456.8,856.6 L458.7,857.0 L459.0,857.8 L461.2,855.1 L463.4,856.8 L465.6,854.8 L465.8,854.2 L467.8,856.0 L469.3,859.6 L470.0,861.6 L472.2,866.0 L474.4,870.3 L474.6,872.0 L476.6,873.6 L478.8,875.8 L480.0,877.3 L481.0,878.5 L483.2,877.1 L485.4,875.6 L487.0,875.5 L487.6,874.7 L489.8,879.3 L492.0,881.7 L492.3,882.6 L494.2,884.6 L496.4,889.6 L497.7,891.4 L498.6,893.0 L500.8,897.2 L503.0,900.3 L503.0,899.4 L505.2,903.5 L507.4,908.9 L508.3,911.0 L509.6,911.7 L511.8,913.7 L513.6,914.4 L514.0,914.5 L516.2,916.4 L518.4,918.2 L519.0,919.7 L520.6,923.0 L522.8,925.7 L524.2,928.6 L525.0,929.4 L527.2,930.6 L529.4,934.2 L529.5,934.0 L531.6,937.1 L533.8,940.1 L536.0,944.0 L536.8,945.6 L538.2,946.6 L540.4,950.4 L542.6,954.0 L543.5,955.8 L544.8,958.6 L547.0,964.3 L548.6,966.7 L549.2,966.7 L551.4,967.9 L553.6,967.5 L555.3,968.4 L555.8,969.4 L558.0,970.6 L560.2,974.6 L560.4,974.3 L562.4,977.2 L564.6,983.7 L566.8,989.1 L567.2,990.4 L569.0,990.8 L571.2,992.2 L573.4,994.6 L574.0,994.6 L575.6,998.1 L577.8,998.2 L580.0,1001.5 L580.7,1001.4 L582.2,1004.1 L584.4,1006.7 L585.8,1009.8 L586.6,1009.8 L588.8,1012.2 L591.0,1014.2 L592.5,1014.0 L593.2,1015.6 L595.4,1018.7 L597.6,1023.3 L597.6,1024.2 L599.8,1022.2 L602.0,1021.8 L602.6,1021.6 L604.2,1024.2 L606.4,1025.7 L608.6,1027.5 L609.4,1028.4 L610.8,1029.0 L613.0,1029.0 L615.2,1028.9 L616.2,1030.0 L617.4,1030.6 L619.6,1035.5 L621.8,1040.1 L622.9,1040.2 L624.0,1041.1 L626.2,1043.0 L628.4,1043.6 L629.7,1045.3 L630.6,1044.9 L632.8,1047.4 L635.0,1047.1 L637.2,1048.4 L638.0,1048.7 L639.4,1048.5 L641.6,1047.8 L643.8,1048.9 L646.0,1050.0 L646.6,1049.5 L648.2,1051.8 L650.4,1053.9 L651.6,1056.3 L652.6,1057.2 L654.8,1057.5 L657.0,1059.6 L658.4,1058.8 L659.2,1058.8 L661.4,1060.3 L663.6,1064.3 L665.0,1064.7 L665.8,1065.6 L668.0,1065.7 L670.2,1067.1 L672.0,1066.4 L672.4,1066.4 L674.6,1068.6 L676.8,1070.8 L678.7,1071.5 L679.0,1072.7 L681.2,1073.8 L683.4,1074.9 L684.6,1074.9 L685.6,1074.9 L687.8,1073.5 L690.0,1073.9 L691.6,1073.5 L692.2,1073.3 L694.4,1071.9 L696.6,1071.5 L697.4,1071.0 L698.8,1072.2 L701.0,1077.0 L703.0,1079.3 L703.2,1077.9 L705.4,1080.0 L707.6,1080.9 L708.0,1081.0 L709.8,1080.6 L712.0,1082.6 L713.9,1083.4 L714.2,1083.9 L716.4,1080.4 L718.6,1078.3 L719.6,1076.8 L720.8,1077.1 L723.0,1077.8 L723.7,1078.4 L725.2,1075.0 L727.4,1071.2 L728.7,1069.4 L729.6,1071.4 L731.8,1072.3 L733.6,1073.5 L734.0,1072.8 L736.2,1071.2 L737.8,1068.5 L738.4,1070.5 L740.6,1072.4 L742.8,1074.4 L743.5,1076.0 L745.0,1074.9 L747.2,1074.0 L749.3,1074.3 L749.4,1074.9 L751.6,1075.0 L753.8,1078.5 L754.3,1077.6 L756.0,1078.7 L758.2,1081.8 L759.2,1082.6 L760.4,1083.9 L762.6,1086.5 L764.0,1090.0 L764.8,1089.5 L767.0,1085.7 L769.0,1085.9 L769.2,1086.2 L771.4,1083.5 L773.6,1082.1 L774.9,1080.9 L775.8,1081.8 L778.0,1085.6 L779.0,1087.5 L780.2,1088.0 L782.4,1091.9 L783.0,1092.5 L784.6,1090.7 L786.8,1089.0 L788.0,1088.3 L789.0,1087.4 L791.2,1087.4 L793.4,1087.0 L793.8,1086.7 L795.6,1087.4 L797.8,1083.0 L798.8,1082.6 L800.0,1084.1 L802.2,1086.9 L803.0,1088.3 L804.4,1090.6 L806.6,1096.1 L807.8,1097.4 L808.8,1095.9 L811.0,1095.5 L812.0,1094.0 L813.2,1097.4 L815.4,1098.0 L816.0,1099.0 L817.6,1095.5 L819.8,1092.9 L820.2,1093.3 L822.0,1094.4 L824.2,1096.4 L824.3,1097.4 L826.4,1094.4 L828.5,1091.6 L828.6,1090.5 L830.8,1093.6 L832.6,1095.8 L833.0,1094.9 L835.2,1096.2 L835.9,1097.4 L837.4,1094.3 L839.6,1088.3 L840.0,1087.5 L841.8,1086.7 L844.0,1085.1 L845.0,1084.2 L846.2,1083.4 L848.4,1080.6 L850.0,1079.7 L850.6,1081.0 L852.8,1083.9 L853.9,1085.9 L855.0,1090.0 L857.2,1095.2 L857.8,1096.8 L859.4,1094.4 L861.6,1092.1 L861.6,1091.8 L863.8,1088.3 L866.0,1084.7 L866.3,1083.6 L868.2,1087.0 L870.4,1091.1 L871.0,1092.1 L872.6,1095.8 L874.8,1100.5 L875.6,1101.4 L877.0,1099.6 L879.2,1096.0 L881.0,1093.7 L881.4,1092.9 L883.6,1091.3 L885.8,1090.4 L888.0,1088.2 L888.0,1087.3 L890.2,1090.8 L892.4,1092.0 L893.5,1093.7 L894.6,1093.3 L896.8,1093.2 L899.0,1090.6 L899.7,1092.1 L901.2,1092.8 L903.4,1093.2 L905.6,1093.7 L905.9,1094.4 L907.8,1096.6 L909.7,1096.8 L910.0,1097.0 L912.2,1094.9 L913.6,1092.9 L914.4,1095.3 L916.6,1100.4 L917.5,1103.0 L918.8,1101.8 L921.0,1102.6 L923.0,1101.4 L923.2,1101.0 L925.4,1101.0 L927.6,1102.2 L927.6,1102.7 L929.8,1103.2 L932.0,1103.9 L932.2,1104.5 L934.2,1102.8 L936.4,1100.7 L937.0,1099.9 L938.6,1099.7 L940.8,1098.0 L943.0,1096.0 L943.0,1095.6 L945.2,1096.8 L947.4,1098.2 L947.8,1098.3 L949.6,1100.8 L951.6,1106.0 L951.8,1106.1 L954.0,1104.8 L956.2,1103.0 L957.0,1101.4 L958.4,1103.0 L960.6,1105.4 L961.7,1106.0 L962.8,1106.4 L965.0,1107.2 L967.2,1108.8 L968.0,1109.2 L969.4,1108.1 L971.6,1105.9 L973.8,1106.2 L974.0,1106.0 L976.0,1105.4 L978.2,1105.5 L980.4,1105.3 L980.4,1106.6 L982.6,1106.3 L984.8,1105.9 L986.6,1107.6 L987.0,1107.3 L989.2,1108.8 L991.2,1109.2 L991.4,1108.5 L993.6,1106.4 L995.8,1104.2 L997.4,1103.0 L998.0,1102.9 L1000.2,1104.8 L1002.0,1106.0 L1002.4,1105.9 L1004.6,1106.4 L1006.8,1107.7 L1008.0,1107.6" stroke="#7b4b44" stroke-width="3.6"/>
</g>
<path d="M107.4,698.5 V683.5 M107.4,1148.5 V1163.5 M287.4,698.5 V683.5 M287.4,1148.5 V1163.5 M467.4,698.5 V683.5 M467.4,1148.5 V1163.5 M647.4,698.5 V683.5 M647.4,1148.5 V1163.5 M827.4,698.5 V683.5 M827.4,1148.5 V1163.5 M1007.4,698.5 V683.5 M1007.4,1148.5 V1163.5 M107.5,1120.5 H92.5 M1007.5,1120.5 H1022.5 M107.5,979.8 H92.5 M1007.5,979.8 H1022.5 M107.5,839.2 H92.5 M1007.5,839.2 H1022.5 M107.5,698.5 H92.5 M1007.5,698.5 H1022.5" stroke="#111" stroke-width="1.7" fill="none"/>
<text x="107.4" y="1194.3" text-anchor="middle" class="tl">−100</text>
<text x="287.4" y="1194.3" text-anchor="middle" class="tl">0</text>
<text x="467.4" y="1194.3" text-anchor="middle" class="tl">100</text>
<text x="647.4" y="1194.3" text-anchor="middle" class="tl">200</text>
<text x="827.4" y="1194.3" text-anchor="middle" class="tl">300</text>
<text x="1007.4" y="1194.3" text-anchor="middle" class="tl">400</text>
<text x="83.5" y="1131.1" text-anchor="end" class="tl">0.0</text>
<text x="83.5" y="990.4" text-anchor="end" class="tl">0.5</text>
<text x="83.5" y="849.8" text-anchor="end" class="tl">1.0</text>
<text x="83.5" y="709.1" text-anchor="end" class="tl">1.5</text>
<text x="557.5" y="1236.5" text-anchor="middle" class="tl">Time relative to PKiKP (s)</text>
<text transform="translate(21.5,923.5) rotate(-90)" text-anchor="middle" class="tl">Normalized amplitude</text>
<text x="3" y="19" class="pl">a</text>
<text x="2.6" y="651.6" class="pl" style="font-size:34px">b</text>
<text x="123.4" y="108" class="tl">Good model misfit = 3.39</text>
<text x="125.1" y="150.2" class="tl">Bad model misfit = 12.06</text>
<path d="M647,96.1 H737.5" stroke="#d9d9d9" stroke-width="4" fill="none"/>
<text x="748.2" y="108.3" class="tl">Observation</text>
<path d="M647,138.9 H737.5" stroke="#e08f8f" stroke-width="4" fill="none"/>
<text x="758.2" y="151.1" class="tl">Good fit</text>
<path d="M647,181 H737.5" stroke="#6a9cc8" stroke-width="4" fill="none"/>
<text x="767.9" y="193.2" class="tl">Bad fit</text>
<path d="M647.7,726.4 H737.3" stroke="#d8d8d8" stroke-width="4" fill="none"/>
<text x="864" y="738.6" text-anchor="middle" class="tl">Observation</text>
<path d="M647.7,754.9 H737.3" stroke="#7b5048" stroke-width="4" fill="none"/>
<text x="864" y="767.1" text-anchor="middle" class="tl">Best fit</text>
<path d="M647.7,783.1 H737.3" stroke="#78b482" stroke-width="4" fill="none"/>
<text x="864" y="795.3" text-anchor="middle" class="tl">Class I models</text>
<path d="M647.7,810.9 H737.3" stroke="#e39292" stroke-width="4" fill="none"/>
<text x="864" y="823.1" text-anchor="middle" class="tl">Class II models</text>
<path d="M647.7,839.1 H737.3" stroke="#6897c8" stroke-width="4" fill="none"/>
<text x="864" y="851.3" text-anchor="middle" class="tl">Class III models</text>
</svg></body></html>
